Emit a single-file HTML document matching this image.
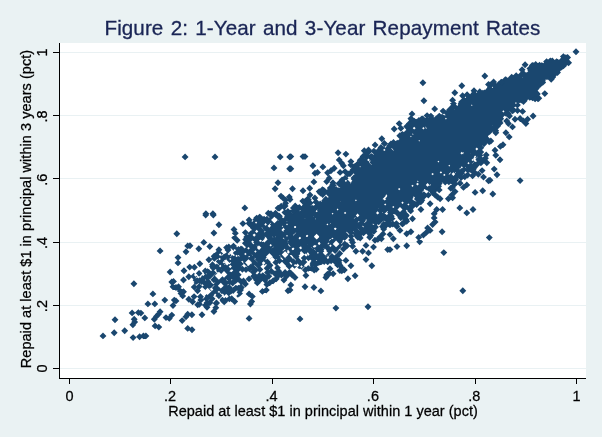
<!DOCTYPE html>
<html><head><meta charset="utf-8"><title>Figure 2</title>
<style>
html,body{margin:0;padding:0;background:#eaf2f3;}
body{width:602px;height:437px;overflow:hidden;position:relative;font-family:"Liberation Sans",Arial,sans-serif;}
svg{position:absolute;left:0;top:0;display:block}
text{font-family:"Liberation Sans",Arial,sans-serif;}
.b{stroke:#000;stroke-width:0.25}
</style></head><body>
<svg width="602" height="437" viewBox="0 0 602 437">
<rect x="0" y="0" width="602" height="437" fill="#eaf2f3"/>
<rect x="60" y="43" width="526" height="335" fill="#ffffff"/>

<rect x="60" y="368" width="526" height="1" fill="#e9f1f3"/>
<rect x="60" y="305" width="526" height="1" fill="#e9f1f3"/>
<rect x="60" y="242" width="526" height="1" fill="#e9f1f3"/>
<rect x="60" y="178" width="526" height="1" fill="#e9f1f3"/>
<rect x="60" y="115" width="526" height="1" fill="#e9f1f3"/>
<rect x="60" y="52" width="526" height="1" fill="#e9f1f3"/>
<rect x="59" y="43" width="1" height="336" fill="#000"/>
<rect x="59" y="378" width="527" height="1" fill="#000"/>
<rect x="53" y="368" width="6" height="1" fill="#000"/>
<rect x="69" y="379" width="1" height="5" fill="#000"/>
<rect x="53" y="305" width="6" height="1" fill="#000"/>
<rect x="170" y="379" width="1" height="5" fill="#000"/>
<rect x="53" y="242" width="6" height="1" fill="#000"/>
<rect x="272" y="379" width="1" height="5" fill="#000"/>
<rect x="53" y="178" width="6" height="1" fill="#000"/>
<rect x="373" y="379" width="1" height="5" fill="#000"/>
<rect x="53" y="115" width="6" height="1" fill="#000"/>
<rect x="475" y="379" width="1" height="5" fill="#000"/>
<rect x="53" y="52" width="6" height="1" fill="#000"/>
<rect x="576" y="379" width="1" height="5" fill="#000"/>
<text transform="translate(69.5,401.2) scale(1,1.07)" font-size="14.5" class="b" text-anchor="middle" fill="#000">0</text>
<text transform="translate(46.7,368.5) rotate(-90) scale(1,1.07)" font-size="14.5" class="b" text-anchor="middle" fill="#000">0</text>
<text transform="translate(170.1,401.2) scale(1,1.07)" font-size="14.5" class="b" text-anchor="middle" fill="#000">.2</text>
<text transform="translate(46.7,306.1) rotate(-90) scale(1,1.07)" font-size="14.5" class="b" text-anchor="middle" fill="#000">.2</text>
<text transform="translate(271.5,401.2) scale(1,1.07)" font-size="14.5" class="b" text-anchor="middle" fill="#000">.4</text>
<text transform="translate(46.7,242.9) rotate(-90) scale(1,1.07)" font-size="14.5" class="b" text-anchor="middle" fill="#000">.4</text>
<text transform="translate(372.9,401.2) scale(1,1.07)" font-size="14.5" class="b" text-anchor="middle" fill="#000">.6</text>
<text transform="translate(46.7,179.7) rotate(-90) scale(1,1.07)" font-size="14.5" class="b" text-anchor="middle" fill="#000">.6</text>
<text transform="translate(474.3,401.2) scale(1,1.07)" font-size="14.5" class="b" text-anchor="middle" fill="#000">.8</text>
<text transform="translate(46.7,116.5) rotate(-90) scale(1,1.07)" font-size="14.5" class="b" text-anchor="middle" fill="#000">.8</text>
<text transform="translate(576.5,401.2) scale(1,1.07)" font-size="14.5" class="b" text-anchor="middle" fill="#000">1</text>
<text transform="translate(46.7,52.5) rotate(-90) scale(1,1.07)" font-size="14.5" class="b" text-anchor="middle" fill="#000">1</text>
<text x="322.4" y="34.8" font-size="20.6" letter-spacing="0.1" word-spacing="1.4" text-anchor="middle" fill="#1a2555" stroke="#1a2555" stroke-width="0.3">Figure 2: 1-Year and 3-Year Repayment Rates</text>
<text transform="translate(323,416.1) scale(1,1.06)" font-size="14.5" class="b" letter-spacing="0.02" text-anchor="middle" fill="#000">Repaid at least $1 in principal within 1 year (pct)</text>
<text transform="translate(30.5,209.0) rotate(-90) scale(1,1.06)" font-size="14.5" class="b" letter-spacing="0.05" text-anchor="middle" fill="#000">Repaid at least $1 in principal within 3 years (pct)</text>
<g fill="#1a476f">
<path d="M363.3 191.45l3.45 3.45-3.45 3.45-3.45-3.45zM434.6 129.45l3.45 3.45-3.45 3.45-3.45-3.45zM457.1 130.35l3.45 3.45-3.45 3.45-3.45-3.45zM500.8 111.25l3.45 3.45-3.45 3.45-3.45-3.45zM441.8 148.25l3.45 3.45-3.45 3.45-3.45-3.45zM289.4 232.75l3.45 3.45-3.45 3.45-3.45-3.45zM420.1 135.45l3.45 3.45-3.45 3.45-3.45-3.45zM327.1 249.15l3.45 3.45-3.45 3.45-3.45-3.45zM314.0 223.15l3.45 3.45-3.45 3.45-3.45-3.45zM453.6 155.95l3.45 3.45-3.45 3.45-3.45-3.45zM465.9 104.45l3.45 3.45-3.45 3.45-3.45-3.45zM502.5 93.65l3.45 3.45-3.45 3.45-3.45-3.45zM507.7 82.95l3.45 3.45-3.45 3.45-3.45-3.45zM349.2 199.25l3.45 3.45-3.45 3.45-3.45-3.45zM254.0 249.75l3.45 3.45-3.45 3.45-3.45-3.45zM441.5 131.75l3.45 3.45-3.45 3.45-3.45-3.45zM423.5 161.65l3.45 3.45-3.45 3.45-3.45-3.45zM529.4 86.55l3.45 3.45-3.45 3.45-3.45-3.45zM426.5 172.25l3.45 3.45-3.45 3.45-3.45-3.45zM322.8 214.95l3.45 3.45-3.45 3.45-3.45-3.45zM535.2 89.65l3.45 3.45-3.45 3.45-3.45-3.45zM461.3 145.55l3.45 3.45-3.45 3.45-3.45-3.45zM222.7 275.65l3.45 3.45-3.45 3.45-3.45-3.45zM433.1 167.05l3.45 3.45-3.45 3.45-3.45-3.45zM559.4 63.05l3.45 3.45-3.45 3.45-3.45-3.45zM454.6 141.55l3.45 3.45-3.45 3.45-3.45-3.45zM376.2 178.05l3.45 3.45-3.45 3.45-3.45-3.45zM223.4 270.95l3.45 3.45-3.45 3.45-3.45-3.45zM281.8 236.95l3.45 3.45-3.45 3.45-3.45-3.45zM307.9 235.95l3.45 3.45-3.45 3.45-3.45-3.45zM407.9 163.25l3.45 3.45-3.45 3.45-3.45-3.45zM492.2 103.65l3.45 3.45-3.45 3.45-3.45-3.45zM387.8 172.65l3.45 3.45-3.45 3.45-3.45-3.45zM403.9 154.15l3.45 3.45-3.45 3.45-3.45-3.45zM488.4 92.55l3.45 3.45-3.45 3.45-3.45-3.45zM374.3 195.35l3.45 3.45-3.45 3.45-3.45-3.45zM534.9 69.55l3.45 3.45-3.45 3.45-3.45-3.45zM443.8 151.85l3.45 3.45-3.45 3.45-3.45-3.45zM526.8 88.45l3.45 3.45-3.45 3.45-3.45-3.45zM428.2 166.65l3.45 3.45-3.45 3.45-3.45-3.45zM540.6 77.95l3.45 3.45-3.45 3.45-3.45-3.45zM344.7 233.95l3.45 3.45-3.45 3.45-3.45-3.45zM387.0 164.95l3.45 3.45-3.45 3.45-3.45-3.45zM311.7 231.35l3.45 3.45-3.45 3.45-3.45-3.45zM377.5 181.85l3.45 3.45-3.45 3.45-3.45-3.45zM284.9 257.85l3.45 3.45-3.45 3.45-3.45-3.45zM377.1 178.75l3.45 3.45-3.45 3.45-3.45-3.45zM516.4 90.35l3.45 3.45-3.45 3.45-3.45-3.45zM429.8 144.65l3.45 3.45-3.45 3.45-3.45-3.45zM290.7 223.15l3.45 3.45-3.45 3.45-3.45-3.45zM366.8 187.05l3.45 3.45-3.45 3.45-3.45-3.45zM335.2 199.95l3.45 3.45-3.45 3.45-3.45-3.45zM482.6 93.15l3.45 3.45-3.45 3.45-3.45-3.45zM238.2 271.25l3.45 3.45-3.45 3.45-3.45-3.45zM400.5 149.65l3.45 3.45-3.45 3.45-3.45-3.45zM379.3 164.55l3.45 3.45-3.45 3.45-3.45-3.45zM408.1 198.95l3.45 3.45-3.45 3.45-3.45-3.45zM383.9 179.75l3.45 3.45-3.45 3.45-3.45-3.45zM306.3 226.25l3.45 3.45-3.45 3.45-3.45-3.45zM378.7 191.85l3.45 3.45-3.45 3.45-3.45-3.45zM249.4 243.45l3.45 3.45-3.45 3.45-3.45-3.45zM462.3 108.85l3.45 3.45-3.45 3.45-3.45-3.45zM490.5 114.35l3.45 3.45-3.45 3.45-3.45-3.45zM495.1 93.35l3.45 3.45-3.45 3.45-3.45-3.45zM412.7 145.55l3.45 3.45-3.45 3.45-3.45-3.45zM520.6 84.25l3.45 3.45-3.45 3.45-3.45-3.45zM441.5 141.45l3.45 3.45-3.45 3.45-3.45-3.45zM323.5 210.75l3.45 3.45-3.45 3.45-3.45-3.45zM307.8 213.15l3.45 3.45-3.45 3.45-3.45-3.45zM461.6 117.25l3.45 3.45-3.45 3.45-3.45-3.45zM449.4 140.85l3.45 3.45-3.45 3.45-3.45-3.45zM428.1 166.75l3.45 3.45-3.45 3.45-3.45-3.45zM525.3 89.05l3.45 3.45-3.45 3.45-3.45-3.45zM505.0 82.15l3.45 3.45-3.45 3.45-3.45-3.45zM375.3 162.15l3.45 3.45-3.45 3.45-3.45-3.45zM437.3 116.45l3.45 3.45-3.45 3.45-3.45-3.45zM471.3 135.25l3.45 3.45-3.45 3.45-3.45-3.45zM262.3 234.25l3.45 3.45-3.45 3.45-3.45-3.45zM403.5 140.55l3.45 3.45-3.45 3.45-3.45-3.45zM435.3 128.35l3.45 3.45-3.45 3.45-3.45-3.45zM390.9 194.75l3.45 3.45-3.45 3.45-3.45-3.45zM384.5 200.65l3.45 3.45-3.45 3.45-3.45-3.45zM241.8 247.55l3.45 3.45-3.45 3.45-3.45-3.45zM502.9 84.25l3.45 3.45-3.45 3.45-3.45-3.45zM493.5 99.85l3.45 3.45-3.45 3.45-3.45-3.45zM299.9 225.35l3.45 3.45-3.45 3.45-3.45-3.45zM367.3 197.85l3.45 3.45-3.45 3.45-3.45-3.45zM409.5 136.95l3.45 3.45-3.45 3.45-3.45-3.45zM444.3 121.75l3.45 3.45-3.45 3.45-3.45-3.45zM398.7 155.05l3.45 3.45-3.45 3.45-3.45-3.45zM358.9 195.75l3.45 3.45-3.45 3.45-3.45-3.45zM291.6 229.65l3.45 3.45-3.45 3.45-3.45-3.45zM343.6 223.25l3.45 3.45-3.45 3.45-3.45-3.45zM315.4 238.85l3.45 3.45-3.45 3.45-3.45-3.45zM276.5 242.65l3.45 3.45-3.45 3.45-3.45-3.45zM416.5 166.85l3.45 3.45-3.45 3.45-3.45-3.45zM254.0 224.25l3.45 3.45-3.45 3.45-3.45-3.45zM561.3 61.75l3.45 3.45-3.45 3.45-3.45-3.45zM523.0 83.65l3.45 3.45-3.45 3.45-3.45-3.45zM467.2 121.75l3.45 3.45-3.45 3.45-3.45-3.45zM344.7 192.75l3.45 3.45-3.45 3.45-3.45-3.45zM462.0 153.35l3.45 3.45-3.45 3.45-3.45-3.45zM387.9 172.75l3.45 3.45-3.45 3.45-3.45-3.45zM390.4 184.55l3.45 3.45-3.45 3.45-3.45-3.45zM498.3 113.25l3.45 3.45-3.45 3.45-3.45-3.45zM460.1 127.35l3.45 3.45-3.45 3.45-3.45-3.45zM414.7 169.15l3.45 3.45-3.45 3.45-3.45-3.45zM470.6 153.95l3.45 3.45-3.45 3.45-3.45-3.45zM219.2 257.95l3.45 3.45-3.45 3.45-3.45-3.45zM520.5 89.95l3.45 3.45-3.45 3.45-3.45-3.45zM400.6 181.25l3.45 3.45-3.45 3.45-3.45-3.45zM375.3 199.45l3.45 3.45-3.45 3.45-3.45-3.45zM345.0 194.75l3.45 3.45-3.45 3.45-3.45-3.45zM347.2 218.25l3.45 3.45-3.45 3.45-3.45-3.45zM334.0 213.75l3.45 3.45-3.45 3.45-3.45-3.45zM233.3 260.65l3.45 3.45-3.45 3.45-3.45-3.45zM542.4 76.75l3.45 3.45-3.45 3.45-3.45-3.45zM415.7 168.85l3.45 3.45-3.45 3.45-3.45-3.45zM409.1 141.75l3.45 3.45-3.45 3.45-3.45-3.45zM225.6 273.35l3.45 3.45-3.45 3.45-3.45-3.45zM378.0 187.55l3.45 3.45-3.45 3.45-3.45-3.45zM392.9 180.25l3.45 3.45-3.45 3.45-3.45-3.45zM527.5 74.65l3.45 3.45-3.45 3.45-3.45-3.45zM461.9 140.85l3.45 3.45-3.45 3.45-3.45-3.45zM419.2 167.95l3.45 3.45-3.45 3.45-3.45-3.45zM504.8 94.15l3.45 3.45-3.45 3.45-3.45-3.45zM496.8 116.25l3.45 3.45-3.45 3.45-3.45-3.45zM485.1 132.25l3.45 3.45-3.45 3.45-3.45-3.45zM475.2 122.35l3.45 3.45-3.45 3.45-3.45-3.45zM299.3 211.05l3.45 3.45-3.45 3.45-3.45-3.45zM343.0 196.95l3.45 3.45-3.45 3.45-3.45-3.45zM507.8 91.35l3.45 3.45-3.45 3.45-3.45-3.45zM428.6 138.55l3.45 3.45-3.45 3.45-3.45-3.45zM411.7 153.55l3.45 3.45-3.45 3.45-3.45-3.45zM501.5 85.65l3.45 3.45-3.45 3.45-3.45-3.45zM403.5 180.55l3.45 3.45-3.45 3.45-3.45-3.45zM373.6 213.45l3.45 3.45-3.45 3.45-3.45-3.45zM457.9 163.45l3.45 3.45-3.45 3.45-3.45-3.45zM452.3 171.45l3.45 3.45-3.45 3.45-3.45-3.45zM495.9 94.25l3.45 3.45-3.45 3.45-3.45-3.45zM397.0 141.65l3.45 3.45-3.45 3.45-3.45-3.45zM511.5 78.95l3.45 3.45-3.45 3.45-3.45-3.45zM304.7 244.15l3.45 3.45-3.45 3.45-3.45-3.45zM387.1 167.45l3.45 3.45-3.45 3.45-3.45-3.45zM457.8 116.75l3.45 3.45-3.45 3.45-3.45-3.45zM475.3 122.05l3.45 3.45-3.45 3.45-3.45-3.45zM427.6 145.35l3.45 3.45-3.45 3.45-3.45-3.45zM293.6 245.95l3.45 3.45-3.45 3.45-3.45-3.45zM327.8 234.25l3.45 3.45-3.45 3.45-3.45-3.45zM488.6 116.45l3.45 3.45-3.45 3.45-3.45-3.45zM536.7 79.55l3.45 3.45-3.45 3.45-3.45-3.45zM465.0 121.65l3.45 3.45-3.45 3.45-3.45-3.45zM466.2 138.95l3.45 3.45-3.45 3.45-3.45-3.45zM336.0 232.85l3.45 3.45-3.45 3.45-3.45-3.45zM489.9 111.35l3.45 3.45-3.45 3.45-3.45-3.45zM441.1 118.75l3.45 3.45-3.45 3.45-3.45-3.45zM309.6 233.85l3.45 3.45-3.45 3.45-3.45-3.45zM382.1 183.85l3.45 3.45-3.45 3.45-3.45-3.45zM362.7 212.75l3.45 3.45-3.45 3.45-3.45-3.45zM424.7 128.55l3.45 3.45-3.45 3.45-3.45-3.45zM555.2 66.35l3.45 3.45-3.45 3.45-3.45-3.45zM505.7 95.85l3.45 3.45-3.45 3.45-3.45-3.45zM386.5 174.55l3.45 3.45-3.45 3.45-3.45-3.45zM314.7 236.65l3.45 3.45-3.45 3.45-3.45-3.45zM397.3 178.65l3.45 3.45-3.45 3.45-3.45-3.45zM317.4 245.15l3.45 3.45-3.45 3.45-3.45-3.45zM345.4 208.15l3.45 3.45-3.45 3.45-3.45-3.45zM451.8 151.55l3.45 3.45-3.45 3.45-3.45-3.45zM466.1 142.15l3.45 3.45-3.45 3.45-3.45-3.45zM398.2 154.15l3.45 3.45-3.45 3.45-3.45-3.45zM371.8 177.45l3.45 3.45-3.45 3.45-3.45-3.45zM501.3 93.65l3.45 3.45-3.45 3.45-3.45-3.45zM323.0 237.85l3.45 3.45-3.45 3.45-3.45-3.45zM417.8 137.75l3.45 3.45-3.45 3.45-3.45-3.45zM335.3 226.25l3.45 3.45-3.45 3.45-3.45-3.45zM423.2 132.65l3.45 3.45-3.45 3.45-3.45-3.45zM450.8 133.15l3.45 3.45-3.45 3.45-3.45-3.45zM465.3 117.75l3.45 3.45-3.45 3.45-3.45-3.45zM438.0 123.05l3.45 3.45-3.45 3.45-3.45-3.45zM498.8 83.55l3.45 3.45-3.45 3.45-3.45-3.45zM326.6 204.75l3.45 3.45-3.45 3.45-3.45-3.45zM257.9 261.65l3.45 3.45-3.45 3.45-3.45-3.45zM343.5 227.95l3.45 3.45-3.45 3.45-3.45-3.45zM480.0 109.15l3.45 3.45-3.45 3.45-3.45-3.45zM435.9 159.45l3.45 3.45-3.45 3.45-3.45-3.45zM224.7 279.25l3.45 3.45-3.45 3.45-3.45-3.45zM538.7 78.55l3.45 3.45-3.45 3.45-3.45-3.45zM493.5 81.75l3.45 3.45-3.45 3.45-3.45-3.45zM464.0 140.55l3.45 3.45-3.45 3.45-3.45-3.45zM329.0 231.65l3.45 3.45-3.45 3.45-3.45-3.45zM386.6 174.25l3.45 3.45-3.45 3.45-3.45-3.45zM452.8 121.75l3.45 3.45-3.45 3.45-3.45-3.45zM494.9 110.85l3.45 3.45-3.45 3.45-3.45-3.45zM340.6 202.35l3.45 3.45-3.45 3.45-3.45-3.45zM407.8 134.05l3.45 3.45-3.45 3.45-3.45-3.45zM383.5 176.95l3.45 3.45-3.45 3.45-3.45-3.45zM378.4 171.65l3.45 3.45-3.45 3.45-3.45-3.45zM383.2 178.85l3.45 3.45-3.45 3.45-3.45-3.45zM343.9 184.75l3.45 3.45-3.45 3.45-3.45-3.45zM332.8 198.25l3.45 3.45-3.45 3.45-3.45-3.45zM346.1 180.95l3.45 3.45-3.45 3.45-3.45-3.45zM393.8 163.45l3.45 3.45-3.45 3.45-3.45-3.45zM406.0 188.05l3.45 3.45-3.45 3.45-3.45-3.45zM435.7 146.45l3.45 3.45-3.45 3.45-3.45-3.45zM364.9 197.25l3.45 3.45-3.45 3.45-3.45-3.45zM416.3 137.75l3.45 3.45-3.45 3.45-3.45-3.45zM215.8 287.65l3.45 3.45-3.45 3.45-3.45-3.45zM464.4 145.75l3.45 3.45-3.45 3.45-3.45-3.45zM479.1 122.55l3.45 3.45-3.45 3.45-3.45-3.45zM402.6 157.65l3.45 3.45-3.45 3.45-3.45-3.45zM540.2 80.85l3.45 3.45-3.45 3.45-3.45-3.45zM463.3 123.05l3.45 3.45-3.45 3.45-3.45-3.45zM517.2 97.45l3.45 3.45-3.45 3.45-3.45-3.45zM436.4 154.15l3.45 3.45-3.45 3.45-3.45-3.45zM412.0 198.65l3.45 3.45-3.45 3.45-3.45-3.45zM494.5 97.25l3.45 3.45-3.45 3.45-3.45-3.45zM497.1 110.85l3.45 3.45-3.45 3.45-3.45-3.45zM499.0 93.45l3.45 3.45-3.45 3.45-3.45-3.45zM297.0 238.35l3.45 3.45-3.45 3.45-3.45-3.45zM367.5 156.35l3.45 3.45-3.45 3.45-3.45-3.45zM395.7 160.05l3.45 3.45-3.45 3.45-3.45-3.45zM393.7 186.75l3.45 3.45-3.45 3.45-3.45-3.45zM338.8 193.95l3.45 3.45-3.45 3.45-3.45-3.45zM391.8 213.25l3.45 3.45-3.45 3.45-3.45-3.45zM456.9 128.25l3.45 3.45-3.45 3.45-3.45-3.45zM193.8 272.85l3.45 3.45-3.45 3.45-3.45-3.45zM255.6 236.45l3.45 3.45-3.45 3.45-3.45-3.45zM409.2 165.05l3.45 3.45-3.45 3.45-3.45-3.45zM261.1 231.35l3.45 3.45-3.45 3.45-3.45-3.45zM256.1 252.25l3.45 3.45-3.45 3.45-3.45-3.45zM310.3 224.75l3.45 3.45-3.45 3.45-3.45-3.45zM304.3 235.85l3.45 3.45-3.45 3.45-3.45-3.45zM353.8 193.75l3.45 3.45-3.45 3.45-3.45-3.45zM414.3 145.25l3.45 3.45-3.45 3.45-3.45-3.45zM515.2 82.15l3.45 3.45-3.45 3.45-3.45-3.45zM314.1 205.05l3.45 3.45-3.45 3.45-3.45-3.45zM448.5 148.85l3.45 3.45-3.45 3.45-3.45-3.45zM511.3 82.85l3.45 3.45-3.45 3.45-3.45-3.45zM521.3 81.25l3.45 3.45-3.45 3.45-3.45-3.45zM439.8 133.35l3.45 3.45-3.45 3.45-3.45-3.45zM399.0 191.55l3.45 3.45-3.45 3.45-3.45-3.45zM344.4 188.15l3.45 3.45-3.45 3.45-3.45-3.45zM323.9 226.95l3.45 3.45-3.45 3.45-3.45-3.45zM400.5 144.15l3.45 3.45-3.45 3.45-3.45-3.45zM345.5 192.85l3.45 3.45-3.45 3.45-3.45-3.45zM538.6 79.25l3.45 3.45-3.45 3.45-3.45-3.45zM542.7 66.45l3.45 3.45-3.45 3.45-3.45-3.45zM279.8 248.25l3.45 3.45-3.45 3.45-3.45-3.45zM406.0 134.05l3.45 3.45-3.45 3.45-3.45-3.45zM401.7 164.65l3.45 3.45-3.45 3.45-3.45-3.45zM368.5 169.55l3.45 3.45-3.45 3.45-3.45-3.45zM226.0 283.55l3.45 3.45-3.45 3.45-3.45-3.45zM454.0 140.65l3.45 3.45-3.45 3.45-3.45-3.45zM414.1 160.85l3.45 3.45-3.45 3.45-3.45-3.45zM417.0 144.65l3.45 3.45-3.45 3.45-3.45-3.45zM455.4 134.55l3.45 3.45-3.45 3.45-3.45-3.45zM443.9 146.15l3.45 3.45-3.45 3.45-3.45-3.45zM421.0 159.35l3.45 3.45-3.45 3.45-3.45-3.45zM388.6 158.85l3.45 3.45-3.45 3.45-3.45-3.45zM514.8 83.65l3.45 3.45-3.45 3.45-3.45-3.45zM480.8 137.65l3.45 3.45-3.45 3.45-3.45-3.45zM407.3 155.55l3.45 3.45-3.45 3.45-3.45-3.45zM404.0 152.25l3.45 3.45-3.45 3.45-3.45-3.45zM274.2 218.05l3.45 3.45-3.45 3.45-3.45-3.45zM475.2 105.95l3.45 3.45-3.45 3.45-3.45-3.45zM482.9 113.65l3.45 3.45-3.45 3.45-3.45-3.45zM486.2 108.85l3.45 3.45-3.45 3.45-3.45-3.45zM368.2 186.65l3.45 3.45-3.45 3.45-3.45-3.45zM379.5 186.05l3.45 3.45-3.45 3.45-3.45-3.45zM269.7 252.45l3.45 3.45-3.45 3.45-3.45-3.45zM517.1 91.25l3.45 3.45-3.45 3.45-3.45-3.45zM563.2 56.45l3.45 3.45-3.45 3.45-3.45-3.45zM324.5 232.75l3.45 3.45-3.45 3.45-3.45-3.45zM385.5 188.35l3.45 3.45-3.45 3.45-3.45-3.45zM409.8 165.05l3.45 3.45-3.45 3.45-3.45-3.45zM403.1 205.65l3.45 3.45-3.45 3.45-3.45-3.45zM410.6 133.85l3.45 3.45-3.45 3.45-3.45-3.45zM367.1 210.95l3.45 3.45-3.45 3.45-3.45-3.45zM447.4 137.75l3.45 3.45-3.45 3.45-3.45-3.45zM367.7 182.95l3.45 3.45-3.45 3.45-3.45-3.45zM437.3 178.65l3.45 3.45-3.45 3.45-3.45-3.45zM479.0 144.55l3.45 3.45-3.45 3.45-3.45-3.45zM543.0 66.75l3.45 3.45-3.45 3.45-3.45-3.45zM323.1 233.85l3.45 3.45-3.45 3.45-3.45-3.45zM458.4 126.45l3.45 3.45-3.45 3.45-3.45-3.45zM437.3 160.85l3.45 3.45-3.45 3.45-3.45-3.45zM331.5 213.25l3.45 3.45-3.45 3.45-3.45-3.45zM424.8 162.65l3.45 3.45-3.45 3.45-3.45-3.45zM273.0 228.95l3.45 3.45-3.45 3.45-3.45-3.45zM301.9 224.25l3.45 3.45-3.45 3.45-3.45-3.45zM345.5 202.65l3.45 3.45-3.45 3.45-3.45-3.45zM394.5 169.05l3.45 3.45-3.45 3.45-3.45-3.45zM441.0 176.85l3.45 3.45-3.45 3.45-3.45-3.45zM387.1 215.55l3.45 3.45-3.45 3.45-3.45-3.45zM304.0 241.55l3.45 3.45-3.45 3.45-3.45-3.45zM460.9 135.75l3.45 3.45-3.45 3.45-3.45-3.45zM286.6 259.55l3.45 3.45-3.45 3.45-3.45-3.45zM420.4 152.75l3.45 3.45-3.45 3.45-3.45-3.45zM303.6 258.55l3.45 3.45-3.45 3.45-3.45-3.45zM437.5 156.35l3.45 3.45-3.45 3.45-3.45-3.45zM449.9 135.55l3.45 3.45-3.45 3.45-3.45-3.45zM290.0 227.65l3.45 3.45-3.45 3.45-3.45-3.45zM479.5 103.25l3.45 3.45-3.45 3.45-3.45-3.45zM397.4 157.05l3.45 3.45-3.45 3.45-3.45-3.45zM437.5 140.05l3.45 3.45-3.45 3.45-3.45-3.45zM534.8 75.85l3.45 3.45-3.45 3.45-3.45-3.45zM351.8 217.95l3.45 3.45-3.45 3.45-3.45-3.45zM240.1 255.75l3.45 3.45-3.45 3.45-3.45-3.45zM334.5 231.45l3.45 3.45-3.45 3.45-3.45-3.45zM323.4 238.05l3.45 3.45-3.45 3.45-3.45-3.45zM389.4 194.45l3.45 3.45-3.45 3.45-3.45-3.45zM410.6 175.25l3.45 3.45-3.45 3.45-3.45-3.45zM253.6 272.75l3.45 3.45-3.45 3.45-3.45-3.45zM229.2 283.95l3.45 3.45-3.45 3.45-3.45-3.45zM302.9 231.35l3.45 3.45-3.45 3.45-3.45-3.45zM462.5 133.85l3.45 3.45-3.45 3.45-3.45-3.45zM466.9 156.65l3.45 3.45-3.45 3.45-3.45-3.45zM336.1 196.45l3.45 3.45-3.45 3.45-3.45-3.45zM362.3 177.95l3.45 3.45-3.45 3.45-3.45-3.45zM525.4 88.55l3.45 3.45-3.45 3.45-3.45-3.45zM425.2 145.05l3.45 3.45-3.45 3.45-3.45-3.45zM389.7 142.35l3.45 3.45-3.45 3.45-3.45-3.45zM445.0 175.55l3.45 3.45-3.45 3.45-3.45-3.45zM377.4 172.45l3.45 3.45-3.45 3.45-3.45-3.45zM354.3 204.75l3.45 3.45-3.45 3.45-3.45-3.45zM304.0 223.05l3.45 3.45-3.45 3.45-3.45-3.45zM325.4 197.35l3.45 3.45-3.45 3.45-3.45-3.45zM331.4 213.55l3.45 3.45-3.45 3.45-3.45-3.45zM472.0 119.25l3.45 3.45-3.45 3.45-3.45-3.45zM396.0 199.45l3.45 3.45-3.45 3.45-3.45-3.45zM394.8 167.35l3.45 3.45-3.45 3.45-3.45-3.45zM208.0 278.35l3.45 3.45-3.45 3.45-3.45-3.45zM433.8 140.25l3.45 3.45-3.45 3.45-3.45-3.45zM456.8 145.05l3.45 3.45-3.45 3.45-3.45-3.45zM384.5 161.05l3.45 3.45-3.45 3.45-3.45-3.45zM530.8 67.15l3.45 3.45-3.45 3.45-3.45-3.45zM400.4 202.55l3.45 3.45-3.45 3.45-3.45-3.45zM415.9 147.95l3.45 3.45-3.45 3.45-3.45-3.45zM479.0 123.05l3.45 3.45-3.45 3.45-3.45-3.45zM414.8 155.25l3.45 3.45-3.45 3.45-3.45-3.45zM352.4 203.55l3.45 3.45-3.45 3.45-3.45-3.45zM336.9 193.45l3.45 3.45-3.45 3.45-3.45-3.45zM259.3 272.25l3.45 3.45-3.45 3.45-3.45-3.45zM533.5 77.25l3.45 3.45-3.45 3.45-3.45-3.45zM475.8 150.95l3.45 3.45-3.45 3.45-3.45-3.45zM314.8 226.95l3.45 3.45-3.45 3.45-3.45-3.45zM520.1 90.95l3.45 3.45-3.45 3.45-3.45-3.45zM532.3 78.85l3.45 3.45-3.45 3.45-3.45-3.45zM338.1 213.25l3.45 3.45-3.45 3.45-3.45-3.45zM399.5 151.25l3.45 3.45-3.45 3.45-3.45-3.45zM354.8 178.75l3.45 3.45-3.45 3.45-3.45-3.45zM367.5 163.95l3.45 3.45-3.45 3.45-3.45-3.45zM526.4 89.85l3.45 3.45-3.45 3.45-3.45-3.45zM464.7 122.05l3.45 3.45-3.45 3.45-3.45-3.45zM448.8 118.85l3.45 3.45-3.45 3.45-3.45-3.45zM474.7 132.65l3.45 3.45-3.45 3.45-3.45-3.45zM377.2 198.75l3.45 3.45-3.45 3.45-3.45-3.45zM405.3 193.25l3.45 3.45-3.45 3.45-3.45-3.45zM460.5 124.05l3.45 3.45-3.45 3.45-3.45-3.45zM329.4 200.95l3.45 3.45-3.45 3.45-3.45-3.45zM279.6 220.15l3.45 3.45-3.45 3.45-3.45-3.45zM279.9 236.55l3.45 3.45-3.45 3.45-3.45-3.45zM421.9 155.55l3.45 3.45-3.45 3.45-3.45-3.45zM330.3 188.85l3.45 3.45-3.45 3.45-3.45-3.45zM329.9 231.55l3.45 3.45-3.45 3.45-3.45-3.45zM420.4 157.85l3.45 3.45-3.45 3.45-3.45-3.45zM392.2 191.05l3.45 3.45-3.45 3.45-3.45-3.45zM288.2 211.75l3.45 3.45-3.45 3.45-3.45-3.45zM323.3 199.95l3.45 3.45-3.45 3.45-3.45-3.45zM366.3 198.65l3.45 3.45-3.45 3.45-3.45-3.45zM419.3 189.05l3.45 3.45-3.45 3.45-3.45-3.45zM398.5 162.15l3.45 3.45-3.45 3.45-3.45-3.45zM415.7 137.85l3.45 3.45-3.45 3.45-3.45-3.45zM518.9 75.45l3.45 3.45-3.45 3.45-3.45-3.45zM224.4 279.85l3.45 3.45-3.45 3.45-3.45-3.45zM335.8 232.55l3.45 3.45-3.45 3.45-3.45-3.45zM473.0 146.15l3.45 3.45-3.45 3.45-3.45-3.45zM528.9 78.35l3.45 3.45-3.45 3.45-3.45-3.45zM447.2 162.05l3.45 3.45-3.45 3.45-3.45-3.45zM479.8 151.75l3.45 3.45-3.45 3.45-3.45-3.45zM410.5 157.55l3.45 3.45-3.45 3.45-3.45-3.45zM520.7 89.55l3.45 3.45-3.45 3.45-3.45-3.45zM357.3 183.65l3.45 3.45-3.45 3.45-3.45-3.45zM325.3 218.35l3.45 3.45-3.45 3.45-3.45-3.45zM485.2 102.35l3.45 3.45-3.45 3.45-3.45-3.45zM359.5 196.35l3.45 3.45-3.45 3.45-3.45-3.45zM303.1 238.85l3.45 3.45-3.45 3.45-3.45-3.45zM473.3 149.45l3.45 3.45-3.45 3.45-3.45-3.45zM426.7 138.85l3.45 3.45-3.45 3.45-3.45-3.45zM493.9 107.25l3.45 3.45-3.45 3.45-3.45-3.45zM451.7 131.65l3.45 3.45-3.45 3.45-3.45-3.45zM369.0 213.65l3.45 3.45-3.45 3.45-3.45-3.45zM355.6 194.25l3.45 3.45-3.45 3.45-3.45-3.45zM453.5 149.15l3.45 3.45-3.45 3.45-3.45-3.45zM231.6 256.05l3.45 3.45-3.45 3.45-3.45-3.45zM487.2 109.95l3.45 3.45-3.45 3.45-3.45-3.45zM335.9 220.05l3.45 3.45-3.45 3.45-3.45-3.45zM316.0 198.55l3.45 3.45-3.45 3.45-3.45-3.45zM362.6 190.95l3.45 3.45-3.45 3.45-3.45-3.45zM473.2 134.25l3.45 3.45-3.45 3.45-3.45-3.45zM534.0 74.15l3.45 3.45-3.45 3.45-3.45-3.45zM448.8 146.35l3.45 3.45-3.45 3.45-3.45-3.45zM479.5 157.25l3.45 3.45-3.45 3.45-3.45-3.45zM495.9 88.95l3.45 3.45-3.45 3.45-3.45-3.45zM548.6 64.05l3.45 3.45-3.45 3.45-3.45-3.45zM480.2 102.65l3.45 3.45-3.45 3.45-3.45-3.45zM314.7 220.85l3.45 3.45-3.45 3.45-3.45-3.45zM485.4 130.45l3.45 3.45-3.45 3.45-3.45-3.45zM415.7 186.45l3.45 3.45-3.45 3.45-3.45-3.45zM497.4 88.15l3.45 3.45-3.45 3.45-3.45-3.45zM427.0 129.25l3.45 3.45-3.45 3.45-3.45-3.45zM481.7 104.75l3.45 3.45-3.45 3.45-3.45-3.45zM461.0 110.05l3.45 3.45-3.45 3.45-3.45-3.45zM531.9 72.55l3.45 3.45-3.45 3.45-3.45-3.45zM422.9 130.15l3.45 3.45-3.45 3.45-3.45-3.45zM452.6 145.45l3.45 3.45-3.45 3.45-3.45-3.45zM458.0 109.55l3.45 3.45-3.45 3.45-3.45-3.45zM422.9 161.15l3.45 3.45-3.45 3.45-3.45-3.45zM506.1 92.05l3.45 3.45-3.45 3.45-3.45-3.45zM352.8 198.15l3.45 3.45-3.45 3.45-3.45-3.45zM364.6 168.55l3.45 3.45-3.45 3.45-3.45-3.45zM551.0 58.45l3.45 3.45-3.45 3.45-3.45-3.45zM424.3 119.35l3.45 3.45-3.45 3.45-3.45-3.45zM338.0 243.65l3.45 3.45-3.45 3.45-3.45-3.45zM450.4 132.15l3.45 3.45-3.45 3.45-3.45-3.45zM319.1 239.85l3.45 3.45-3.45 3.45-3.45-3.45zM320.5 232.95l3.45 3.45-3.45 3.45-3.45-3.45zM428.4 173.35l3.45 3.45-3.45 3.45-3.45-3.45zM456.7 158.25l3.45 3.45-3.45 3.45-3.45-3.45zM377.1 185.45l3.45 3.45-3.45 3.45-3.45-3.45zM224.7 278.55l3.45 3.45-3.45 3.45-3.45-3.45zM304.4 220.85l3.45 3.45-3.45 3.45-3.45-3.45zM313.6 255.95l3.45 3.45-3.45 3.45-3.45-3.45zM396.5 150.85l3.45 3.45-3.45 3.45-3.45-3.45zM371.1 165.15l3.45 3.45-3.45 3.45-3.45-3.45zM351.2 195.95l3.45 3.45-3.45 3.45-3.45-3.45zM322.8 252.15l3.45 3.45-3.45 3.45-3.45-3.45zM468.5 143.45l3.45 3.45-3.45 3.45-3.45-3.45zM380.3 180.45l3.45 3.45-3.45 3.45-3.45-3.45zM339.2 241.75l3.45 3.45-3.45 3.45-3.45-3.45zM336.4 237.25l3.45 3.45-3.45 3.45-3.45-3.45zM435.1 136.65l3.45 3.45-3.45 3.45-3.45-3.45zM397.6 158.85l3.45 3.45-3.45 3.45-3.45-3.45zM399.4 174.85l3.45 3.45-3.45 3.45-3.45-3.45zM506.6 101.55l3.45 3.45-3.45 3.45-3.45-3.45zM512.6 80.65l3.45 3.45-3.45 3.45-3.45-3.45zM541.8 66.65l3.45 3.45-3.45 3.45-3.45-3.45zM471.8 134.45l3.45 3.45-3.45 3.45-3.45-3.45zM476.7 127.05l3.45 3.45-3.45 3.45-3.45-3.45zM422.8 135.85l3.45 3.45-3.45 3.45-3.45-3.45zM271.0 231.35l3.45 3.45-3.45 3.45-3.45-3.45zM446.4 153.75l3.45 3.45-3.45 3.45-3.45-3.45zM366.0 184.75l3.45 3.45-3.45 3.45-3.45-3.45zM262.8 257.45l3.45 3.45-3.45 3.45-3.45-3.45zM485.4 113.45l3.45 3.45-3.45 3.45-3.45-3.45zM415.9 148.55l3.45 3.45-3.45 3.45-3.45-3.45zM409.2 169.75l3.45 3.45-3.45 3.45-3.45-3.45zM411.7 154.45l3.45 3.45-3.45 3.45-3.45-3.45zM275.0 252.85l3.45 3.45-3.45 3.45-3.45-3.45zM349.1 200.95l3.45 3.45-3.45 3.45-3.45-3.45zM443.3 128.25l3.45 3.45-3.45 3.45-3.45-3.45zM518.7 85.85l3.45 3.45-3.45 3.45-3.45-3.45zM243.7 255.25l3.45 3.45-3.45 3.45-3.45-3.45zM346.9 198.45l3.45 3.45-3.45 3.45-3.45-3.45zM448.2 135.75l3.45 3.45-3.45 3.45-3.45-3.45zM388.8 152.35l3.45 3.45-3.45 3.45-3.45-3.45zM431.8 120.05l3.45 3.45-3.45 3.45-3.45-3.45zM515.8 87.25l3.45 3.45-3.45 3.45-3.45-3.45zM352.9 181.35l3.45 3.45-3.45 3.45-3.45-3.45zM285.6 199.85l3.45 3.45-3.45 3.45-3.45-3.45zM471.5 93.15l3.45 3.45-3.45 3.45-3.45-3.45zM230.7 271.45l3.45 3.45-3.45 3.45-3.45-3.45zM430.6 164.95l3.45 3.45-3.45 3.45-3.45-3.45zM369.8 197.65l3.45 3.45-3.45 3.45-3.45-3.45zM532.3 71.35l3.45 3.45-3.45 3.45-3.45-3.45zM310.5 216.55l3.45 3.45-3.45 3.45-3.45-3.45zM443.0 117.75l3.45 3.45-3.45 3.45-3.45-3.45zM530.1 81.35l3.45 3.45-3.45 3.45-3.45-3.45zM285.3 216.15l3.45 3.45-3.45 3.45-3.45-3.45zM488.8 97.85l3.45 3.45-3.45 3.45-3.45-3.45zM325.3 224.45l3.45 3.45-3.45 3.45-3.45-3.45zM394.4 176.15l3.45 3.45-3.45 3.45-3.45-3.45zM324.6 235.65l3.45 3.45-3.45 3.45-3.45-3.45zM335.0 219.75l3.45 3.45-3.45 3.45-3.45-3.45zM396.4 220.15l3.45 3.45-3.45 3.45-3.45-3.45zM344.6 180.55l3.45 3.45-3.45 3.45-3.45-3.45zM443.9 129.25l3.45 3.45-3.45 3.45-3.45-3.45zM434.0 142.15l3.45 3.45-3.45 3.45-3.45-3.45zM388.2 197.15l3.45 3.45-3.45 3.45-3.45-3.45zM524.6 75.85l3.45 3.45-3.45 3.45-3.45-3.45zM426.8 155.05l3.45 3.45-3.45 3.45-3.45-3.45zM458.3 157.35l3.45 3.45-3.45 3.45-3.45-3.45zM334.3 205.35l3.45 3.45-3.45 3.45-3.45-3.45zM474.6 125.55l3.45 3.45-3.45 3.45-3.45-3.45zM260.5 248.55l3.45 3.45-3.45 3.45-3.45-3.45zM320.3 206.85l3.45 3.45-3.45 3.45-3.45-3.45zM327.1 232.15l3.45 3.45-3.45 3.45-3.45-3.45zM459.4 158.65l3.45 3.45-3.45 3.45-3.45-3.45zM538.3 72.55l3.45 3.45-3.45 3.45-3.45-3.45zM364.7 186.75l3.45 3.45-3.45 3.45-3.45-3.45zM418.4 170.15l3.45 3.45-3.45 3.45-3.45-3.45zM414.9 178.95l3.45 3.45-3.45 3.45-3.45-3.45zM233.8 261.05l3.45 3.45-3.45 3.45-3.45-3.45zM343.1 233.35l3.45 3.45-3.45 3.45-3.45-3.45zM425.8 143.85l3.45 3.45-3.45 3.45-3.45-3.45zM349.1 186.65l3.45 3.45-3.45 3.45-3.45-3.45zM295.4 225.95l3.45 3.45-3.45 3.45-3.45-3.45zM466.3 123.45l3.45 3.45-3.45 3.45-3.45-3.45zM406.7 131.75l3.45 3.45-3.45 3.45-3.45-3.45zM484.6 126.85l3.45 3.45-3.45 3.45-3.45-3.45zM274.5 246.05l3.45 3.45-3.45 3.45-3.45-3.45zM514.4 98.15l3.45 3.45-3.45 3.45-3.45-3.45zM466.0 132.85l3.45 3.45-3.45 3.45-3.45-3.45zM497.3 101.05l3.45 3.45-3.45 3.45-3.45-3.45zM389.2 176.25l3.45 3.45-3.45 3.45-3.45-3.45zM418.5 120.05l3.45 3.45-3.45 3.45-3.45-3.45zM356.1 196.65l3.45 3.45-3.45 3.45-3.45-3.45zM543.6 66.85l3.45 3.45-3.45 3.45-3.45-3.45zM412.2 157.65l3.45 3.45-3.45 3.45-3.45-3.45zM379.5 195.85l3.45 3.45-3.45 3.45-3.45-3.45zM312.7 229.65l3.45 3.45-3.45 3.45-3.45-3.45zM539.0 76.45l3.45 3.45-3.45 3.45-3.45-3.45zM352.4 217.05l3.45 3.45-3.45 3.45-3.45-3.45zM511.4 97.05l3.45 3.45-3.45 3.45-3.45-3.45zM360.9 168.45l3.45 3.45-3.45 3.45-3.45-3.45zM409.2 157.55l3.45 3.45-3.45 3.45-3.45-3.45zM401.3 186.55l3.45 3.45-3.45 3.45-3.45-3.45zM442.3 142.15l3.45 3.45-3.45 3.45-3.45-3.45zM438.0 131.15l3.45 3.45-3.45 3.45-3.45-3.45zM391.5 187.95l3.45 3.45-3.45 3.45-3.45-3.45zM492.5 105.55l3.45 3.45-3.45 3.45-3.45-3.45zM385.9 174.15l3.45 3.45-3.45 3.45-3.45-3.45zM480.1 134.85l3.45 3.45-3.45 3.45-3.45-3.45zM430.1 129.55l3.45 3.45-3.45 3.45-3.45-3.45zM437.2 122.35l3.45 3.45-3.45 3.45-3.45-3.45zM439.1 138.45l3.45 3.45-3.45 3.45-3.45-3.45zM449.9 140.85l3.45 3.45-3.45 3.45-3.45-3.45zM400.8 211.85l3.45 3.45-3.45 3.45-3.45-3.45zM425.9 129.95l3.45 3.45-3.45 3.45-3.45-3.45zM470.3 123.85l3.45 3.45-3.45 3.45-3.45-3.45zM442.4 136.75l3.45 3.45-3.45 3.45-3.45-3.45zM362.4 190.15l3.45 3.45-3.45 3.45-3.45-3.45zM254.5 223.65l3.45 3.45-3.45 3.45-3.45-3.45zM405.1 157.65l3.45 3.45-3.45 3.45-3.45-3.45zM496.9 101.25l3.45 3.45-3.45 3.45-3.45-3.45zM377.1 170.65l3.45 3.45-3.45 3.45-3.45-3.45zM406.5 154.95l3.45 3.45-3.45 3.45-3.45-3.45zM505.3 83.65l3.45 3.45-3.45 3.45-3.45-3.45zM465.5 120.75l3.45 3.45-3.45 3.45-3.45-3.45zM372.4 194.65l3.45 3.45-3.45 3.45-3.45-3.45zM229.7 278.55l3.45 3.45-3.45 3.45-3.45-3.45zM509.4 79.65l3.45 3.45-3.45 3.45-3.45-3.45zM401.1 150.95l3.45 3.45-3.45 3.45-3.45-3.45zM482.8 122.55l3.45 3.45-3.45 3.45-3.45-3.45zM368.2 188.85l3.45 3.45-3.45 3.45-3.45-3.45zM300.9 239.95l3.45 3.45-3.45 3.45-3.45-3.45zM464.3 160.55l3.45 3.45-3.45 3.45-3.45-3.45zM294.2 215.15l3.45 3.45-3.45 3.45-3.45-3.45zM390.5 167.75l3.45 3.45-3.45 3.45-3.45-3.45zM407.2 152.35l3.45 3.45-3.45 3.45-3.45-3.45zM501.9 102.55l3.45 3.45-3.45 3.45-3.45-3.45zM376.3 206.45l3.45 3.45-3.45 3.45-3.45-3.45zM450.0 144.55l3.45 3.45-3.45 3.45-3.45-3.45zM485.2 102.65l3.45 3.45-3.45 3.45-3.45-3.45zM479.2 135.75l3.45 3.45-3.45 3.45-3.45-3.45zM316.8 234.65l3.45 3.45-3.45 3.45-3.45-3.45zM412.8 143.05l3.45 3.45-3.45 3.45-3.45-3.45zM288.2 213.05l3.45 3.45-3.45 3.45-3.45-3.45zM432.6 155.95l3.45 3.45-3.45 3.45-3.45-3.45zM431.1 171.25l3.45 3.45-3.45 3.45-3.45-3.45zM513.6 88.35l3.45 3.45-3.45 3.45-3.45-3.45zM392.1 215.15l3.45 3.45-3.45 3.45-3.45-3.45zM437.5 148.95l3.45 3.45-3.45 3.45-3.45-3.45zM360.2 198.05l3.45 3.45-3.45 3.45-3.45-3.45zM380.3 183.75l3.45 3.45-3.45 3.45-3.45-3.45zM383.1 155.95l3.45 3.45-3.45 3.45-3.45-3.45zM502.7 93.95l3.45 3.45-3.45 3.45-3.45-3.45zM535.8 69.85l3.45 3.45-3.45 3.45-3.45-3.45zM521.2 83.15l3.45 3.45-3.45 3.45-3.45-3.45zM256.9 250.55l3.45 3.45-3.45 3.45-3.45-3.45zM461.7 143.55l3.45 3.45-3.45 3.45-3.45-3.45zM423.7 192.65l3.45 3.45-3.45 3.45-3.45-3.45zM466.4 140.35l3.45 3.45-3.45 3.45-3.45-3.45zM401.2 197.05l3.45 3.45-3.45 3.45-3.45-3.45zM222.4 296.65l3.45 3.45-3.45 3.45-3.45-3.45zM395.8 167.55l3.45 3.45-3.45 3.45-3.45-3.45zM348.0 195.65l3.45 3.45-3.45 3.45-3.45-3.45zM399.0 152.65l3.45 3.45-3.45 3.45-3.45-3.45zM324.6 187.65l3.45 3.45-3.45 3.45-3.45-3.45zM296.0 220.15l3.45 3.45-3.45 3.45-3.45-3.45zM499.6 106.35l3.45 3.45-3.45 3.45-3.45-3.45zM390.2 206.75l3.45 3.45-3.45 3.45-3.45-3.45zM566.1 57.55l3.45 3.45-3.45 3.45-3.45-3.45zM337.9 223.75l3.45 3.45-3.45 3.45-3.45-3.45zM260.3 254.85l3.45 3.45-3.45 3.45-3.45-3.45zM298.8 234.55l3.45 3.45-3.45 3.45-3.45-3.45zM457.6 106.95l3.45 3.45-3.45 3.45-3.45-3.45zM403.9 197.45l3.45 3.45-3.45 3.45-3.45-3.45zM277.7 253.65l3.45 3.45-3.45 3.45-3.45-3.45zM323.0 209.95l3.45 3.45-3.45 3.45-3.45-3.45zM387.6 170.25l3.45 3.45-3.45 3.45-3.45-3.45zM460.5 150.95l3.45 3.45-3.45 3.45-3.45-3.45zM461.9 133.65l3.45 3.45-3.45 3.45-3.45-3.45zM360.1 159.95l3.45 3.45-3.45 3.45-3.45-3.45zM407.3 130.25l3.45 3.45-3.45 3.45-3.45-3.45zM385.7 159.15l3.45 3.45-3.45 3.45-3.45-3.45zM543.3 72.65l3.45 3.45-3.45 3.45-3.45-3.45zM435.7 128.15l3.45 3.45-3.45 3.45-3.45-3.45zM436.2 156.45l3.45 3.45-3.45 3.45-3.45-3.45zM379.4 150.15l3.45 3.45-3.45 3.45-3.45-3.45zM363.2 204.45l3.45 3.45-3.45 3.45-3.45-3.45zM459.0 119.65l3.45 3.45-3.45 3.45-3.45-3.45zM313.5 250.05l3.45 3.45-3.45 3.45-3.45-3.45zM377.2 195.65l3.45 3.45-3.45 3.45-3.45-3.45zM476.9 118.55l3.45 3.45-3.45 3.45-3.45-3.45zM556.0 63.45l3.45 3.45-3.45 3.45-3.45-3.45zM427.6 151.05l3.45 3.45-3.45 3.45-3.45-3.45zM377.4 191.75l3.45 3.45-3.45 3.45-3.45-3.45zM502.3 83.95l3.45 3.45-3.45 3.45-3.45-3.45zM514.7 87.95l3.45 3.45-3.45 3.45-3.45-3.45zM454.1 133.55l3.45 3.45-3.45 3.45-3.45-3.45zM401.5 162.15l3.45 3.45-3.45 3.45-3.45-3.45zM395.6 180.55l3.45 3.45-3.45 3.45-3.45-3.45zM415.7 141.35l3.45 3.45-3.45 3.45-3.45-3.45zM329.0 208.45l3.45 3.45-3.45 3.45-3.45-3.45zM336.4 236.05l3.45 3.45-3.45 3.45-3.45-3.45zM263.0 251.65l3.45 3.45-3.45 3.45-3.45-3.45zM452.8 160.15l3.45 3.45-3.45 3.45-3.45-3.45zM406.1 186.05l3.45 3.45-3.45 3.45-3.45-3.45zM368.2 206.95l3.45 3.45-3.45 3.45-3.45-3.45zM446.7 124.65l3.45 3.45-3.45 3.45-3.45-3.45zM326.5 215.95l3.45 3.45-3.45 3.45-3.45-3.45zM403.6 143.15l3.45 3.45-3.45 3.45-3.45-3.45zM408.8 203.45l3.45 3.45-3.45 3.45-3.45-3.45zM388.2 203.05l3.45 3.45-3.45 3.45-3.45-3.45zM403.2 178.25l3.45 3.45-3.45 3.45-3.45-3.45zM459.1 129.05l3.45 3.45-3.45 3.45-3.45-3.45zM359.9 196.65l3.45 3.45-3.45 3.45-3.45-3.45zM418.6 155.75l3.45 3.45-3.45 3.45-3.45-3.45zM368.5 201.25l3.45 3.45-3.45 3.45-3.45-3.45zM407.5 176.05l3.45 3.45-3.45 3.45-3.45-3.45zM379.8 208.05l3.45 3.45-3.45 3.45-3.45-3.45zM464.2 119.95l3.45 3.45-3.45 3.45-3.45-3.45zM400.3 209.15l3.45 3.45-3.45 3.45-3.45-3.45zM472.7 143.35l3.45 3.45-3.45 3.45-3.45-3.45zM289.9 230.15l3.45 3.45-3.45 3.45-3.45-3.45zM538.9 73.95l3.45 3.45-3.45 3.45-3.45-3.45zM495.1 115.55l3.45 3.45-3.45 3.45-3.45-3.45zM459.7 144.25l3.45 3.45-3.45 3.45-3.45-3.45zM507.1 78.35l3.45 3.45-3.45 3.45-3.45-3.45zM509.5 102.85l3.45 3.45-3.45 3.45-3.45-3.45zM475.2 138.45l3.45 3.45-3.45 3.45-3.45-3.45zM339.5 238.35l3.45 3.45-3.45 3.45-3.45-3.45zM508.4 84.45l3.45 3.45-3.45 3.45-3.45-3.45zM421.4 138.55l3.45 3.45-3.45 3.45-3.45-3.45zM420.9 134.05l3.45 3.45-3.45 3.45-3.45-3.45zM531.8 88.05l3.45 3.45-3.45 3.45-3.45-3.45zM412.0 147.35l3.45 3.45-3.45 3.45-3.45-3.45zM471.1 125.15l3.45 3.45-3.45 3.45-3.45-3.45zM488.0 117.65l3.45 3.45-3.45 3.45-3.45-3.45zM533.2 67.75l3.45 3.45-3.45 3.45-3.45-3.45zM488.9 126.35l3.45 3.45-3.45 3.45-3.45-3.45zM306.7 210.85l3.45 3.45-3.45 3.45-3.45-3.45zM515.3 81.35l3.45 3.45-3.45 3.45-3.45-3.45zM431.6 177.75l3.45 3.45-3.45 3.45-3.45-3.45zM445.2 158.35l3.45 3.45-3.45 3.45-3.45-3.45zM466.7 149.75l3.45 3.45-3.45 3.45-3.45-3.45zM509.5 84.15l3.45 3.45-3.45 3.45-3.45-3.45zM433.2 117.55l3.45 3.45-3.45 3.45-3.45-3.45zM517.6 87.85l3.45 3.45-3.45 3.45-3.45-3.45zM250.1 240.95l3.45 3.45-3.45 3.45-3.45-3.45zM471.0 157.85l3.45 3.45-3.45 3.45-3.45-3.45zM360.5 171.45l3.45 3.45-3.45 3.45-3.45-3.45zM276.1 241.55l3.45 3.45-3.45 3.45-3.45-3.45zM261.4 240.95l3.45 3.45-3.45 3.45-3.45-3.45zM386.4 158.85l3.45 3.45-3.45 3.45-3.45-3.45zM436.6 150.35l3.45 3.45-3.45 3.45-3.45-3.45zM403.1 157.75l3.45 3.45-3.45 3.45-3.45-3.45zM317.3 251.95l3.45 3.45-3.45 3.45-3.45-3.45zM373.4 196.35l3.45 3.45-3.45 3.45-3.45-3.45zM328.3 249.25l3.45 3.45-3.45 3.45-3.45-3.45zM383.3 188.15l3.45 3.45-3.45 3.45-3.45-3.45zM477.5 132.35l3.45 3.45-3.45 3.45-3.45-3.45zM395.8 188.65l3.45 3.45-3.45 3.45-3.45-3.45zM422.4 120.15l3.45 3.45-3.45 3.45-3.45-3.45zM366.4 167.75l3.45 3.45-3.45 3.45-3.45-3.45zM448.6 163.15l3.45 3.45-3.45 3.45-3.45-3.45zM448.0 128.15l3.45 3.45-3.45 3.45-3.45-3.45zM395.5 207.05l3.45 3.45-3.45 3.45-3.45-3.45zM351.4 195.75l3.45 3.45-3.45 3.45-3.45-3.45zM448.0 126.35l3.45 3.45-3.45 3.45-3.45-3.45zM324.0 209.85l3.45 3.45-3.45 3.45-3.45-3.45zM483.8 116.75l3.45 3.45-3.45 3.45-3.45-3.45zM479.0 105.95l3.45 3.45-3.45 3.45-3.45-3.45zM418.2 143.85l3.45 3.45-3.45 3.45-3.45-3.45zM466.4 124.65l3.45 3.45-3.45 3.45-3.45-3.45zM332.9 202.35l3.45 3.45-3.45 3.45-3.45-3.45zM213.9 276.35l3.45 3.45-3.45 3.45-3.45-3.45zM246.4 259.35l3.45 3.45-3.45 3.45-3.45-3.45zM323.4 218.75l3.45 3.45-3.45 3.45-3.45-3.45zM300.6 229.55l3.45 3.45-3.45 3.45-3.45-3.45zM485.8 109.05l3.45 3.45-3.45 3.45-3.45-3.45zM426.5 117.15l3.45 3.45-3.45 3.45-3.45-3.45zM302.1 208.95l3.45 3.45-3.45 3.45-3.45-3.45zM448.3 162.05l3.45 3.45-3.45 3.45-3.45-3.45zM291.5 240.35l3.45 3.45-3.45 3.45-3.45-3.45zM485.8 105.75l3.45 3.45-3.45 3.45-3.45-3.45zM456.3 108.25l3.45 3.45-3.45 3.45-3.45-3.45zM467.5 140.25l3.45 3.45-3.45 3.45-3.45-3.45zM376.4 207.15l3.45 3.45-3.45 3.45-3.45-3.45zM415.5 127.95l3.45 3.45-3.45 3.45-3.45-3.45zM500.2 101.65l3.45 3.45-3.45 3.45-3.45-3.45zM453.2 140.15l3.45 3.45-3.45 3.45-3.45-3.45zM471.5 139.85l3.45 3.45-3.45 3.45-3.45-3.45zM530.1 77.65l3.45 3.45-3.45 3.45-3.45-3.45zM404.4 183.35l3.45 3.45-3.45 3.45-3.45-3.45zM371.8 164.75l3.45 3.45-3.45 3.45-3.45-3.45zM343.7 202.55l3.45 3.45-3.45 3.45-3.45-3.45zM475.7 148.75l3.45 3.45-3.45 3.45-3.45-3.45zM521.5 90.15l3.45 3.45-3.45 3.45-3.45-3.45zM354.4 203.55l3.45 3.45-3.45 3.45-3.45-3.45zM523.8 94.45l3.45 3.45-3.45 3.45-3.45-3.45zM383.8 220.75l3.45 3.45-3.45 3.45-3.45-3.45zM327.1 221.65l3.45 3.45-3.45 3.45-3.45-3.45zM465.9 141.35l3.45 3.45-3.45 3.45-3.45-3.45zM494.2 118.45l3.45 3.45-3.45 3.45-3.45-3.45zM216.7 284.35l3.45 3.45-3.45 3.45-3.45-3.45zM442.9 130.15l3.45 3.45-3.45 3.45-3.45-3.45zM343.4 215.25l3.45 3.45-3.45 3.45-3.45-3.45zM348.7 193.05l3.45 3.45-3.45 3.45-3.45-3.45zM440.8 165.15l3.45 3.45-3.45 3.45-3.45-3.45zM523.6 87.45l3.45 3.45-3.45 3.45-3.45-3.45zM263.3 231.15l3.45 3.45-3.45 3.45-3.45-3.45zM276.6 230.65l3.45 3.45-3.45 3.45-3.45-3.45zM507.0 91.45l3.45 3.45-3.45 3.45-3.45-3.45zM564.3 58.45l3.45 3.45-3.45 3.45-3.45-3.45zM464.1 139.45l3.45 3.45-3.45 3.45-3.45-3.45zM471.9 138.35l3.45 3.45-3.45 3.45-3.45-3.45zM521.2 77.15l3.45 3.45-3.45 3.45-3.45-3.45zM534.0 76.55l3.45 3.45-3.45 3.45-3.45-3.45zM339.1 206.45l3.45 3.45-3.45 3.45-3.45-3.45zM431.3 130.75l3.45 3.45-3.45 3.45-3.45-3.45zM491.3 85.75l3.45 3.45-3.45 3.45-3.45-3.45zM276.1 229.15l3.45 3.45-3.45 3.45-3.45-3.45zM391.5 149.15l3.45 3.45-3.45 3.45-3.45-3.45zM366.1 204.35l3.45 3.45-3.45 3.45-3.45-3.45zM370.6 189.95l3.45 3.45-3.45 3.45-3.45-3.45zM365.0 187.05l3.45 3.45-3.45 3.45-3.45-3.45zM439.7 137.85l3.45 3.45-3.45 3.45-3.45-3.45zM292.4 241.35l3.45 3.45-3.45 3.45-3.45-3.45zM456.7 120.15l3.45 3.45-3.45 3.45-3.45-3.45zM515.3 94.25l3.45 3.45-3.45 3.45-3.45-3.45zM450.4 139.65l3.45 3.45-3.45 3.45-3.45-3.45zM379.5 210.15l3.45 3.45-3.45 3.45-3.45-3.45zM392.4 190.65l3.45 3.45-3.45 3.45-3.45-3.45zM454.3 136.05l3.45 3.45-3.45 3.45-3.45-3.45zM407.7 169.05l3.45 3.45-3.45 3.45-3.45-3.45zM314.7 210.35l3.45 3.45-3.45 3.45-3.45-3.45zM355.9 191.45l3.45 3.45-3.45 3.45-3.45-3.45zM407.3 165.65l3.45 3.45-3.45 3.45-3.45-3.45zM451.4 114.55l3.45 3.45-3.45 3.45-3.45-3.45zM397.1 166.25l3.45 3.45-3.45 3.45-3.45-3.45zM218.6 249.55l3.45 3.45-3.45 3.45-3.45-3.45zM415.7 132.15l3.45 3.45-3.45 3.45-3.45-3.45zM565.4 56.55l3.45 3.45-3.45 3.45-3.45-3.45zM416.0 167.55l3.45 3.45-3.45 3.45-3.45-3.45zM442.1 123.85l3.45 3.45-3.45 3.45-3.45-3.45zM397.8 200.15l3.45 3.45-3.45 3.45-3.45-3.45zM301.4 262.85l3.45 3.45-3.45 3.45-3.45-3.45zM251.7 254.85l3.45 3.45-3.45 3.45-3.45-3.45zM383.1 155.85l3.45 3.45-3.45 3.45-3.45-3.45zM381.3 162.75l3.45 3.45-3.45 3.45-3.45-3.45zM465.2 113.95l3.45 3.45-3.45 3.45-3.45-3.45zM349.9 200.35l3.45 3.45-3.45 3.45-3.45-3.45zM547.4 64.95l3.45 3.45-3.45 3.45-3.45-3.45zM370.4 184.65l3.45 3.45-3.45 3.45-3.45-3.45zM532.7 80.25l3.45 3.45-3.45 3.45-3.45-3.45zM445.0 130.15l3.45 3.45-3.45 3.45-3.45-3.45zM477.6 119.55l3.45 3.45-3.45 3.45-3.45-3.45zM423.8 154.65l3.45 3.45-3.45 3.45-3.45-3.45zM377.4 155.55l3.45 3.45-3.45 3.45-3.45-3.45zM216.8 280.85l3.45 3.45-3.45 3.45-3.45-3.45zM438.1 144.35l3.45 3.45-3.45 3.45-3.45-3.45zM478.7 138.75l3.45 3.45-3.45 3.45-3.45-3.45zM446.2 133.75l3.45 3.45-3.45 3.45-3.45-3.45zM485.0 94.55l3.45 3.45-3.45 3.45-3.45-3.45zM328.9 214.95l3.45 3.45-3.45 3.45-3.45-3.45zM502.8 95.45l3.45 3.45-3.45 3.45-3.45-3.45zM380.8 193.45l3.45 3.45-3.45 3.45-3.45-3.45zM449.0 112.45l3.45 3.45-3.45 3.45-3.45-3.45zM474.3 142.85l3.45 3.45-3.45 3.45-3.45-3.45zM281.2 202.75l3.45 3.45-3.45 3.45-3.45-3.45zM490.3 101.15l3.45 3.45-3.45 3.45-3.45-3.45zM447.2 139.35l3.45 3.45-3.45 3.45-3.45-3.45zM452.8 142.65l3.45 3.45-3.45 3.45-3.45-3.45zM419.2 194.95l3.45 3.45-3.45 3.45-3.45-3.45zM508.4 95.85l3.45 3.45-3.45 3.45-3.45-3.45zM330.9 205.15l3.45 3.45-3.45 3.45-3.45-3.45zM379.6 179.75l3.45 3.45-3.45 3.45-3.45-3.45zM356.2 194.35l3.45 3.45-3.45 3.45-3.45-3.45zM372.2 171.85l3.45 3.45-3.45 3.45-3.45-3.45zM290.9 227.15l3.45 3.45-3.45 3.45-3.45-3.45zM379.9 182.45l3.45 3.45-3.45 3.45-3.45-3.45zM277.0 220.25l3.45 3.45-3.45 3.45-3.45-3.45zM432.5 133.65l3.45 3.45-3.45 3.45-3.45-3.45zM464.0 134.75l3.45 3.45-3.45 3.45-3.45-3.45zM494.2 85.45l3.45 3.45-3.45 3.45-3.45-3.45zM552.4 65.35l3.45 3.45-3.45 3.45-3.45-3.45zM320.9 204.45l3.45 3.45-3.45 3.45-3.45-3.45zM461.7 136.05l3.45 3.45-3.45 3.45-3.45-3.45zM391.9 171.95l3.45 3.45-3.45 3.45-3.45-3.45zM393.4 173.45l3.45 3.45-3.45 3.45-3.45-3.45zM456.6 158.55l3.45 3.45-3.45 3.45-3.45-3.45zM389.6 166.15l3.45 3.45-3.45 3.45-3.45-3.45zM343.4 202.85l3.45 3.45-3.45 3.45-3.45-3.45zM342.8 194.05l3.45 3.45-3.45 3.45-3.45-3.45zM289.6 225.45l3.45 3.45-3.45 3.45-3.45-3.45zM325.5 225.45l3.45 3.45-3.45 3.45-3.45-3.45zM417.6 141.35l3.45 3.45-3.45 3.45-3.45-3.45zM412.1 171.35l3.45 3.45-3.45 3.45-3.45-3.45zM498.0 85.35l3.45 3.45-3.45 3.45-3.45-3.45zM457.7 138.45l3.45 3.45-3.45 3.45-3.45-3.45zM387.1 164.65l3.45 3.45-3.45 3.45-3.45-3.45zM336.4 199.15l3.45 3.45-3.45 3.45-3.45-3.45zM420.4 173.65l3.45 3.45-3.45 3.45-3.45-3.45zM309.0 232.45l3.45 3.45-3.45 3.45-3.45-3.45zM371.6 168.55l3.45 3.45-3.45 3.45-3.45-3.45zM355.5 198.25l3.45 3.45-3.45 3.45-3.45-3.45zM406.9 158.45l3.45 3.45-3.45 3.45-3.45-3.45zM412.1 177.45l3.45 3.45-3.45 3.45-3.45-3.45zM465.0 102.55l3.45 3.45-3.45 3.45-3.45-3.45zM285.1 202.55l3.45 3.45-3.45 3.45-3.45-3.45zM412.2 165.65l3.45 3.45-3.45 3.45-3.45-3.45zM411.7 156.25l3.45 3.45-3.45 3.45-3.45-3.45zM299.7 217.05l3.45 3.45-3.45 3.45-3.45-3.45zM451.4 139.95l3.45 3.45-3.45 3.45-3.45-3.45zM504.5 84.45l3.45 3.45-3.45 3.45-3.45-3.45zM520.7 87.65l3.45 3.45-3.45 3.45-3.45-3.45zM461.4 169.55l3.45 3.45-3.45 3.45-3.45-3.45zM470.3 144.95l3.45 3.45-3.45 3.45-3.45-3.45zM367.2 175.25l3.45 3.45-3.45 3.45-3.45-3.45zM459.3 158.45l3.45 3.45-3.45 3.45-3.45-3.45zM383.9 156.75l3.45 3.45-3.45 3.45-3.45-3.45zM505.8 109.65l3.45 3.45-3.45 3.45-3.45-3.45zM453.1 167.75l3.45 3.45-3.45 3.45-3.45-3.45zM400.7 172.45l3.45 3.45-3.45 3.45-3.45-3.45zM406.4 188.35l3.45 3.45-3.45 3.45-3.45-3.45zM459.2 148.25l3.45 3.45-3.45 3.45-3.45-3.45zM405.5 142.15l3.45 3.45-3.45 3.45-3.45-3.45zM488.3 92.05l3.45 3.45-3.45 3.45-3.45-3.45zM470.5 142.35l3.45 3.45-3.45 3.45-3.45-3.45zM410.3 155.85l3.45 3.45-3.45 3.45-3.45-3.45zM389.9 200.15l3.45 3.45-3.45 3.45-3.45-3.45zM382.0 165.05l3.45 3.45-3.45 3.45-3.45-3.45zM396.2 161.45l3.45 3.45-3.45 3.45-3.45-3.45zM491.0 92.85l3.45 3.45-3.45 3.45-3.45-3.45zM405.4 150.45l3.45 3.45-3.45 3.45-3.45-3.45zM373.9 227.85l3.45 3.45-3.45 3.45-3.45-3.45zM376.9 171.65l3.45 3.45-3.45 3.45-3.45-3.45zM474.7 108.05l3.45 3.45-3.45 3.45-3.45-3.45zM511.2 104.55l3.45 3.45-3.45 3.45-3.45-3.45zM458.7 120.45l3.45 3.45-3.45 3.45-3.45-3.45zM287.0 251.35l3.45 3.45-3.45 3.45-3.45-3.45zM332.9 217.05l3.45 3.45-3.45 3.45-3.45-3.45zM417.3 195.45l3.45 3.45-3.45 3.45-3.45-3.45zM406.7 155.25l3.45 3.45-3.45 3.45-3.45-3.45zM456.8 171.65l3.45 3.45-3.45 3.45-3.45-3.45zM406.1 175.95l3.45 3.45-3.45 3.45-3.45-3.45zM390.1 155.55l3.45 3.45-3.45 3.45-3.45-3.45zM303.5 235.25l3.45 3.45-3.45 3.45-3.45-3.45zM376.7 187.65l3.45 3.45-3.45 3.45-3.45-3.45zM356.6 173.15l3.45 3.45-3.45 3.45-3.45-3.45zM470.1 94.05l3.45 3.45-3.45 3.45-3.45-3.45zM473.4 164.45l3.45 3.45-3.45 3.45-3.45-3.45zM236.6 271.05l3.45 3.45-3.45 3.45-3.45-3.45zM427.2 146.45l3.45 3.45-3.45 3.45-3.45-3.45zM362.8 194.25l3.45 3.45-3.45 3.45-3.45-3.45zM326.4 225.05l3.45 3.45-3.45 3.45-3.45-3.45zM498.0 108.85l3.45 3.45-3.45 3.45-3.45-3.45zM389.9 151.65l3.45 3.45-3.45 3.45-3.45-3.45zM359.2 200.55l3.45 3.45-3.45 3.45-3.45-3.45zM430.8 166.35l3.45 3.45-3.45 3.45-3.45-3.45zM321.6 246.95l3.45 3.45-3.45 3.45-3.45-3.45zM332.4 224.45l3.45 3.45-3.45 3.45-3.45-3.45zM511.9 94.25l3.45 3.45-3.45 3.45-3.45-3.45zM344.7 217.55l3.45 3.45-3.45 3.45-3.45-3.45zM337.9 221.95l3.45 3.45-3.45 3.45-3.45-3.45zM345.9 194.35l3.45 3.45-3.45 3.45-3.45-3.45zM320.0 240.45l3.45 3.45-3.45 3.45-3.45-3.45zM458.2 156.35l3.45 3.45-3.45 3.45-3.45-3.45zM443.4 152.95l3.45 3.45-3.45 3.45-3.45-3.45zM436.4 125.55l3.45 3.45-3.45 3.45-3.45-3.45zM306.5 228.65l3.45 3.45-3.45 3.45-3.45-3.45zM506.1 105.05l3.45 3.45-3.45 3.45-3.45-3.45zM414.0 135.55l3.45 3.45-3.45 3.45-3.45-3.45zM311.8 214.85l3.45 3.45-3.45 3.45-3.45-3.45zM486.6 104.35l3.45 3.45-3.45 3.45-3.45-3.45zM482.6 100.45l3.45 3.45-3.45 3.45-3.45-3.45zM375.0 197.45l3.45 3.45-3.45 3.45-3.45-3.45zM389.0 178.55l3.45 3.45-3.45 3.45-3.45-3.45zM373.6 174.05l3.45 3.45-3.45 3.45-3.45-3.45zM384.5 168.95l3.45 3.45-3.45 3.45-3.45-3.45zM357.5 172.05l3.45 3.45-3.45 3.45-3.45-3.45zM450.7 135.95l3.45 3.45-3.45 3.45-3.45-3.45zM478.9 97.85l3.45 3.45-3.45 3.45-3.45-3.45zM318.7 246.35l3.45 3.45-3.45 3.45-3.45-3.45zM432.5 144.65l3.45 3.45-3.45 3.45-3.45-3.45zM497.5 97.65l3.45 3.45-3.45 3.45-3.45-3.45zM341.5 203.35l3.45 3.45-3.45 3.45-3.45-3.45zM333.8 203.55l3.45 3.45-3.45 3.45-3.45-3.45zM406.8 165.25l3.45 3.45-3.45 3.45-3.45-3.45zM372.4 207.15l3.45 3.45-3.45 3.45-3.45-3.45zM421.6 126.65l3.45 3.45-3.45 3.45-3.45-3.45zM398.3 184.35l3.45 3.45-3.45 3.45-3.45-3.45zM428.7 157.75l3.45 3.45-3.45 3.45-3.45-3.45zM515.9 95.95l3.45 3.45-3.45 3.45-3.45-3.45zM308.6 226.05l3.45 3.45-3.45 3.45-3.45-3.45zM399.9 186.55l3.45 3.45-3.45 3.45-3.45-3.45zM373.8 186.95l3.45 3.45-3.45 3.45-3.45-3.45zM488.6 110.75l3.45 3.45-3.45 3.45-3.45-3.45zM298.1 238.95l3.45 3.45-3.45 3.45-3.45-3.45zM382.9 156.15l3.45 3.45-3.45 3.45-3.45-3.45zM369.1 215.35l3.45 3.45-3.45 3.45-3.45-3.45zM368.6 162.05l3.45 3.45-3.45 3.45-3.45-3.45zM378.7 175.55l3.45 3.45-3.45 3.45-3.45-3.45zM297.6 205.55l3.45 3.45-3.45 3.45-3.45-3.45zM454.5 143.55l3.45 3.45-3.45 3.45-3.45-3.45zM408.4 141.65l3.45 3.45-3.45 3.45-3.45-3.45zM330.5 227.55l3.45 3.45-3.45 3.45-3.45-3.45zM399.2 181.65l3.45 3.45-3.45 3.45-3.45-3.45zM518.1 88.15l3.45 3.45-3.45 3.45-3.45-3.45zM544.1 68.75l3.45 3.45-3.45 3.45-3.45-3.45zM381.6 188.25l3.45 3.45-3.45 3.45-3.45-3.45zM354.3 186.75l3.45 3.45-3.45 3.45-3.45-3.45zM485.8 117.45l3.45 3.45-3.45 3.45-3.45-3.45zM252.2 263.45l3.45 3.45-3.45 3.45-3.45-3.45zM333.7 217.95l3.45 3.45-3.45 3.45-3.45-3.45zM413.8 137.65l3.45 3.45-3.45 3.45-3.45-3.45zM445.4 141.25l3.45 3.45-3.45 3.45-3.45-3.45zM536.6 80.95l3.45 3.45-3.45 3.45-3.45-3.45zM398.0 153.55l3.45 3.45-3.45 3.45-3.45-3.45zM367.8 152.85l3.45 3.45-3.45 3.45-3.45-3.45zM360.3 167.45l3.45 3.45-3.45 3.45-3.45-3.45zM457.5 112.05l3.45 3.45-3.45 3.45-3.45-3.45zM447.7 162.15l3.45 3.45-3.45 3.45-3.45-3.45zM509.7 88.95l3.45 3.45-3.45 3.45-3.45-3.45zM414.3 176.95l3.45 3.45-3.45 3.45-3.45-3.45zM479.7 151.95l3.45 3.45-3.45 3.45-3.45-3.45zM459.7 136.25l3.45 3.45-3.45 3.45-3.45-3.45zM354.0 185.85l3.45 3.45-3.45 3.45-3.45-3.45zM471.3 124.75l3.45 3.45-3.45 3.45-3.45-3.45zM465.3 137.25l3.45 3.45-3.45 3.45-3.45-3.45zM304.9 224.35l3.45 3.45-3.45 3.45-3.45-3.45zM348.1 215.05l3.45 3.45-3.45 3.45-3.45-3.45zM433.3 142.75l3.45 3.45-3.45 3.45-3.45-3.45zM536.9 75.75l3.45 3.45-3.45 3.45-3.45-3.45zM482.0 108.55l3.45 3.45-3.45 3.45-3.45-3.45zM368.2 161.65l3.45 3.45-3.45 3.45-3.45-3.45zM395.3 183.35l3.45 3.45-3.45 3.45-3.45-3.45zM437.2 167.65l3.45 3.45-3.45 3.45-3.45-3.45zM388.4 168.55l3.45 3.45-3.45 3.45-3.45-3.45zM285.4 240.25l3.45 3.45-3.45 3.45-3.45-3.45zM553.6 67.15l3.45 3.45-3.45 3.45-3.45-3.45zM551.3 63.25l3.45 3.45-3.45 3.45-3.45-3.45zM453.3 151.75l3.45 3.45-3.45 3.45-3.45-3.45zM416.8 174.05l3.45 3.45-3.45 3.45-3.45-3.45zM390.2 206.75l3.45 3.45-3.45 3.45-3.45-3.45zM477.5 134.85l3.45 3.45-3.45 3.45-3.45-3.45zM215.3 289.95l3.45 3.45-3.45 3.45-3.45-3.45zM380.8 166.75l3.45 3.45-3.45 3.45-3.45-3.45zM557.2 59.15l3.45 3.45-3.45 3.45-3.45-3.45zM474.0 144.75l3.45 3.45-3.45 3.45-3.45-3.45zM260.7 221.55l3.45 3.45-3.45 3.45-3.45-3.45zM342.7 210.55l3.45 3.45-3.45 3.45-3.45-3.45zM468.7 130.25l3.45 3.45-3.45 3.45-3.45-3.45zM423.5 174.05l3.45 3.45-3.45 3.45-3.45-3.45zM263.4 254.15l3.45 3.45-3.45 3.45-3.45-3.45zM479.5 136.35l3.45 3.45-3.45 3.45-3.45-3.45zM424.6 155.05l3.45 3.45-3.45 3.45-3.45-3.45zM402.5 184.85l3.45 3.45-3.45 3.45-3.45-3.45zM320.8 236.25l3.45 3.45-3.45 3.45-3.45-3.45zM358.1 203.95l3.45 3.45-3.45 3.45-3.45-3.45zM495.0 95.95l3.45 3.45-3.45 3.45-3.45-3.45zM299.6 223.55l3.45 3.45-3.45 3.45-3.45-3.45zM511.8 75.15l3.45 3.45-3.45 3.45-3.45-3.45zM492.6 97.05l3.45 3.45-3.45 3.45-3.45-3.45zM359.2 230.85l3.45 3.45-3.45 3.45-3.45-3.45zM395.9 153.95l3.45 3.45-3.45 3.45-3.45-3.45zM365.4 200.25l3.45 3.45-3.45 3.45-3.45-3.45zM458.0 124.85l3.45 3.45-3.45 3.45-3.45-3.45zM378.4 194.95l3.45 3.45-3.45 3.45-3.45-3.45zM541.0 68.95l3.45 3.45-3.45 3.45-3.45-3.45zM396.9 193.65l3.45 3.45-3.45 3.45-3.45-3.45zM405.3 177.65l3.45 3.45-3.45 3.45-3.45-3.45zM379.8 164.45l3.45 3.45-3.45 3.45-3.45-3.45zM343.9 206.45l3.45 3.45-3.45 3.45-3.45-3.45zM491.7 86.65l3.45 3.45-3.45 3.45-3.45-3.45zM497.6 117.15l3.45 3.45-3.45 3.45-3.45-3.45zM459.8 138.75l3.45 3.45-3.45 3.45-3.45-3.45zM427.2 177.85l3.45 3.45-3.45 3.45-3.45-3.45zM428.4 138.35l3.45 3.45-3.45 3.45-3.45-3.45zM482.8 115.75l3.45 3.45-3.45 3.45-3.45-3.45zM236.0 260.85l3.45 3.45-3.45 3.45-3.45-3.45zM376.8 178.35l3.45 3.45-3.45 3.45-3.45-3.45zM258.9 252.55l3.45 3.45-3.45 3.45-3.45-3.45zM291.0 213.55l3.45 3.45-3.45 3.45-3.45-3.45zM312.8 255.25l3.45 3.45-3.45 3.45-3.45-3.45zM326.3 204.75l3.45 3.45-3.45 3.45-3.45-3.45zM371.8 215.15l3.45 3.45-3.45 3.45-3.45-3.45zM318.8 235.35l3.45 3.45-3.45 3.45-3.45-3.45zM417.8 123.95l3.45 3.45-3.45 3.45-3.45-3.45zM393.8 187.55l3.45 3.45-3.45 3.45-3.45-3.45zM511.9 82.25l3.45 3.45-3.45 3.45-3.45-3.45zM432.1 156.35l3.45 3.45-3.45 3.45-3.45-3.45zM367.2 178.95l3.45 3.45-3.45 3.45-3.45-3.45zM377.3 150.15l3.45 3.45-3.45 3.45-3.45-3.45zM403.6 185.95l3.45 3.45-3.45 3.45-3.45-3.45zM364.8 207.55l3.45 3.45-3.45 3.45-3.45-3.45zM428.7 158.95l3.45 3.45-3.45 3.45-3.45-3.45zM451.2 163.15l3.45 3.45-3.45 3.45-3.45-3.45zM480.8 98.25l3.45 3.45-3.45 3.45-3.45-3.45zM442.2 123.35l3.45 3.45-3.45 3.45-3.45-3.45zM497.5 89.85l3.45 3.45-3.45 3.45-3.45-3.45zM310.6 248.95l3.45 3.45-3.45 3.45-3.45-3.45zM537.9 77.45l3.45 3.45-3.45 3.45-3.45-3.45zM392.8 220.55l3.45 3.45-3.45 3.45-3.45-3.45zM482.8 95.85l3.45 3.45-3.45 3.45-3.45-3.45zM240.7 283.85l3.45 3.45-3.45 3.45-3.45-3.45zM478.1 121.75l3.45 3.45-3.45 3.45-3.45-3.45zM361.1 188.35l3.45 3.45-3.45 3.45-3.45-3.45zM493.0 103.05l3.45 3.45-3.45 3.45-3.45-3.45zM521.6 76.95l3.45 3.45-3.45 3.45-3.45-3.45zM208.1 292.65l3.45 3.45-3.45 3.45-3.45-3.45zM432.6 134.35l3.45 3.45-3.45 3.45-3.45-3.45zM407.3 144.15l3.45 3.45-3.45 3.45-3.45-3.45zM384.9 188.15l3.45 3.45-3.45 3.45-3.45-3.45zM520.5 81.65l3.45 3.45-3.45 3.45-3.45-3.45zM395.0 185.15l3.45 3.45-3.45 3.45-3.45-3.45zM299.2 262.35l3.45 3.45-3.45 3.45-3.45-3.45zM389.3 143.45l3.45 3.45-3.45 3.45-3.45-3.45zM461.0 146.75l3.45 3.45-3.45 3.45-3.45-3.45zM488.5 109.65l3.45 3.45-3.45 3.45-3.45-3.45zM362.4 190.75l3.45 3.45-3.45 3.45-3.45-3.45zM409.6 180.15l3.45 3.45-3.45 3.45-3.45-3.45zM305.4 221.65l3.45 3.45-3.45 3.45-3.45-3.45zM504.2 84.65l3.45 3.45-3.45 3.45-3.45-3.45zM460.5 136.35l3.45 3.45-3.45 3.45-3.45-3.45zM517.9 91.85l3.45 3.45-3.45 3.45-3.45-3.45zM292.5 217.15l3.45 3.45-3.45 3.45-3.45-3.45zM404.1 167.05l3.45 3.45-3.45 3.45-3.45-3.45zM435.1 139.55l3.45 3.45-3.45 3.45-3.45-3.45zM236.2 249.55l3.45 3.45-3.45 3.45-3.45-3.45zM417.7 127.95l3.45 3.45-3.45 3.45-3.45-3.45zM470.8 126.15l3.45 3.45-3.45 3.45-3.45-3.45zM472.8 115.05l3.45 3.45-3.45 3.45-3.45-3.45zM449.6 153.45l3.45 3.45-3.45 3.45-3.45-3.45zM362.4 204.95l3.45 3.45-3.45 3.45-3.45-3.45zM320.3 245.15l3.45 3.45-3.45 3.45-3.45-3.45zM321.4 225.05l3.45 3.45-3.45 3.45-3.45-3.45zM435.4 128.05l3.45 3.45-3.45 3.45-3.45-3.45zM292.3 226.65l3.45 3.45-3.45 3.45-3.45-3.45zM197.6 287.25l3.45 3.45-3.45 3.45-3.45-3.45zM480.7 131.95l3.45 3.45-3.45 3.45-3.45-3.45zM378.2 198.65l3.45 3.45-3.45 3.45-3.45-3.45zM413.1 158.25l3.45 3.45-3.45 3.45-3.45-3.45zM372.6 196.85l3.45 3.45-3.45 3.45-3.45-3.45zM498.5 82.75l3.45 3.45-3.45 3.45-3.45-3.45zM433.0 120.45l3.45 3.45-3.45 3.45-3.45-3.45zM545.9 62.45l3.45 3.45-3.45 3.45-3.45-3.45zM428.2 138.65l3.45 3.45-3.45 3.45-3.45-3.45zM431.4 149.75l3.45 3.45-3.45 3.45-3.45-3.45zM416.3 187.55l3.45 3.45-3.45 3.45-3.45-3.45zM465.1 98.15l3.45 3.45-3.45 3.45-3.45-3.45zM362.6 200.85l3.45 3.45-3.45 3.45-3.45-3.45zM437.8 139.15l3.45 3.45-3.45 3.45-3.45-3.45zM536.3 75.25l3.45 3.45-3.45 3.45-3.45-3.45zM345.7 231.85l3.45 3.45-3.45 3.45-3.45-3.45zM370.8 222.35l3.45 3.45-3.45 3.45-3.45-3.45zM501.2 85.55l3.45 3.45-3.45 3.45-3.45-3.45zM356.8 221.65l3.45 3.45-3.45 3.45-3.45-3.45zM476.8 119.75l3.45 3.45-3.45 3.45-3.45-3.45zM216.0 285.05l3.45 3.45-3.45 3.45-3.45-3.45zM456.5 131.95l3.45 3.45-3.45 3.45-3.45-3.45zM463.9 141.15l3.45 3.45-3.45 3.45-3.45-3.45zM406.4 176.35l3.45 3.45-3.45 3.45-3.45-3.45zM533.8 83.85l3.45 3.45-3.45 3.45-3.45-3.45zM330.2 196.35l3.45 3.45-3.45 3.45-3.45-3.45zM224.5 270.35l3.45 3.45-3.45 3.45-3.45-3.45zM403.3 207.95l3.45 3.45-3.45 3.45-3.45-3.45zM338.7 226.95l3.45 3.45-3.45 3.45-3.45-3.45zM373.7 194.05l3.45 3.45-3.45 3.45-3.45-3.45zM409.3 163.15l3.45 3.45-3.45 3.45-3.45-3.45zM534.5 87.35l3.45 3.45-3.45 3.45-3.45-3.45zM460.9 101.85l3.45 3.45-3.45 3.45-3.45-3.45zM406.9 174.05l3.45 3.45-3.45 3.45-3.45-3.45zM421.9 159.15l3.45 3.45-3.45 3.45-3.45-3.45zM445.6 175.75l3.45 3.45-3.45 3.45-3.45-3.45zM420.5 133.15l3.45 3.45-3.45 3.45-3.45-3.45zM242.4 265.85l3.45 3.45-3.45 3.45-3.45-3.45zM301.5 221.25l3.45 3.45-3.45 3.45-3.45-3.45zM408.7 158.05l3.45 3.45-3.45 3.45-3.45-3.45zM473.0 96.75l3.45 3.45-3.45 3.45-3.45-3.45zM466.0 147.85l3.45 3.45-3.45 3.45-3.45-3.45zM494.0 82.65l3.45 3.45-3.45 3.45-3.45-3.45zM368.8 211.85l3.45 3.45-3.45 3.45-3.45-3.45zM269.0 230.95l3.45 3.45-3.45 3.45-3.45-3.45zM421.7 163.55l3.45 3.45-3.45 3.45-3.45-3.45zM354.6 210.45l3.45 3.45-3.45 3.45-3.45-3.45zM530.9 89.65l3.45 3.45-3.45 3.45-3.45-3.45zM495.5 118.05l3.45 3.45-3.45 3.45-3.45-3.45zM298.3 258.25l3.45 3.45-3.45 3.45-3.45-3.45zM448.6 152.25l3.45 3.45-3.45 3.45-3.45-3.45zM478.8 110.05l3.45 3.45-3.45 3.45-3.45-3.45zM421.5 149.75l3.45 3.45-3.45 3.45-3.45-3.45zM511.1 81.95l3.45 3.45-3.45 3.45-3.45-3.45zM296.7 208.05l3.45 3.45-3.45 3.45-3.45-3.45zM267.1 219.65l3.45 3.45-3.45 3.45-3.45-3.45zM409.6 159.15l3.45 3.45-3.45 3.45-3.45-3.45zM483.2 107.75l3.45 3.45-3.45 3.45-3.45-3.45zM546.8 69.55l3.45 3.45-3.45 3.45-3.45-3.45zM529.7 79.85l3.45 3.45-3.45 3.45-3.45-3.45zM357.7 177.45l3.45 3.45-3.45 3.45-3.45-3.45zM297.4 248.45l3.45 3.45-3.45 3.45-3.45-3.45zM538.2 76.45l3.45 3.45-3.45 3.45-3.45-3.45zM356.5 211.55l3.45 3.45-3.45 3.45-3.45-3.45zM506.1 86.75l3.45 3.45-3.45 3.45-3.45-3.45zM435.9 116.75l3.45 3.45-3.45 3.45-3.45-3.45zM366.7 193.25l3.45 3.45-3.45 3.45-3.45-3.45zM438.1 136.05l3.45 3.45-3.45 3.45-3.45-3.45zM380.0 202.85l3.45 3.45-3.45 3.45-3.45-3.45zM394.2 157.95l3.45 3.45-3.45 3.45-3.45-3.45zM302.6 205.35l3.45 3.45-3.45 3.45-3.45-3.45zM399.9 166.45l3.45 3.45-3.45 3.45-3.45-3.45zM520.9 79.75l3.45 3.45-3.45 3.45-3.45-3.45zM368.6 200.95l3.45 3.45-3.45 3.45-3.45-3.45zM246.0 250.55l3.45 3.45-3.45 3.45-3.45-3.45zM396.7 151.45l3.45 3.45-3.45 3.45-3.45-3.45zM387.4 184.65l3.45 3.45-3.45 3.45-3.45-3.45zM306.4 222.25l3.45 3.45-3.45 3.45-3.45-3.45zM386.0 175.95l3.45 3.45-3.45 3.45-3.45-3.45zM433.4 169.25l3.45 3.45-3.45 3.45-3.45-3.45zM234.0 274.55l3.45 3.45-3.45 3.45-3.45-3.45zM383.8 160.25l3.45 3.45-3.45 3.45-3.45-3.45zM305.9 206.35l3.45 3.45-3.45 3.45-3.45-3.45zM311.0 208.05l3.45 3.45-3.45 3.45-3.45-3.45zM252.9 248.45l3.45 3.45-3.45 3.45-3.45-3.45zM381.0 211.45l3.45 3.45-3.45 3.45-3.45-3.45zM387.1 178.15l3.45 3.45-3.45 3.45-3.45-3.45zM361.4 228.25l3.45 3.45-3.45 3.45-3.45-3.45zM346.9 192.05l3.45 3.45-3.45 3.45-3.45-3.45zM454.8 139.95l3.45 3.45-3.45 3.45-3.45-3.45zM372.2 171.75l3.45 3.45-3.45 3.45-3.45-3.45zM407.4 172.05l3.45 3.45-3.45 3.45-3.45-3.45zM208.3 280.85l3.45 3.45-3.45 3.45-3.45-3.45zM295.8 233.55l3.45 3.45-3.45 3.45-3.45-3.45zM335.6 228.15l3.45 3.45-3.45 3.45-3.45-3.45zM468.1 123.15l3.45 3.45-3.45 3.45-3.45-3.45zM401.0 204.05l3.45 3.45-3.45 3.45-3.45-3.45zM455.9 114.85l3.45 3.45-3.45 3.45-3.45-3.45zM457.6 121.35l3.45 3.45-3.45 3.45-3.45-3.45zM308.3 199.85l3.45 3.45-3.45 3.45-3.45-3.45zM517.8 96.75l3.45 3.45-3.45 3.45-3.45-3.45zM372.8 165.05l3.45 3.45-3.45 3.45-3.45-3.45zM515.8 93.65l3.45 3.45-3.45 3.45-3.45-3.45zM515.0 91.65l3.45 3.45-3.45 3.45-3.45-3.45zM473.2 97.15l3.45 3.45-3.45 3.45-3.45-3.45zM393.2 185.15l3.45 3.45-3.45 3.45-3.45-3.45zM274.7 249.95l3.45 3.45-3.45 3.45-3.45-3.45zM378.2 172.35l3.45 3.45-3.45 3.45-3.45-3.45zM469.5 112.65l3.45 3.45-3.45 3.45-3.45-3.45zM399.7 176.05l3.45 3.45-3.45 3.45-3.45-3.45zM486.8 105.45l3.45 3.45-3.45 3.45-3.45-3.45zM559.0 61.05l3.45 3.45-3.45 3.45-3.45-3.45zM474.1 107.15l3.45 3.45-3.45 3.45-3.45-3.45zM506.7 79.15l3.45 3.45-3.45 3.45-3.45-3.45zM506.8 90.15l3.45 3.45-3.45 3.45-3.45-3.45zM419.6 168.95l3.45 3.45-3.45 3.45-3.45-3.45zM419.0 173.55l3.45 3.45-3.45 3.45-3.45-3.45zM333.1 222.45l3.45 3.45-3.45 3.45-3.45-3.45zM521.3 77.55l3.45 3.45-3.45 3.45-3.45-3.45zM412.8 150.65l3.45 3.45-3.45 3.45-3.45-3.45zM448.5 126.55l3.45 3.45-3.45 3.45-3.45-3.45zM376.1 195.25l3.45 3.45-3.45 3.45-3.45-3.45zM318.4 247.55l3.45 3.45-3.45 3.45-3.45-3.45zM441.9 136.95l3.45 3.45-3.45 3.45-3.45-3.45zM504.8 103.15l3.45 3.45-3.45 3.45-3.45-3.45zM443.0 173.75l3.45 3.45-3.45 3.45-3.45-3.45zM250.7 243.55l3.45 3.45-3.45 3.45-3.45-3.45zM215.3 284.45l3.45 3.45-3.45 3.45-3.45-3.45zM505.1 87.05l3.45 3.45-3.45 3.45-3.45-3.45zM227.9 269.55l3.45 3.45-3.45 3.45-3.45-3.45zM374.6 202.25l3.45 3.45-3.45 3.45-3.45-3.45zM462.8 133.65l3.45 3.45-3.45 3.45-3.45-3.45zM548.5 64.45l3.45 3.45-3.45 3.45-3.45-3.45zM407.9 165.65l3.45 3.45-3.45 3.45-3.45-3.45zM343.7 217.15l3.45 3.45-3.45 3.45-3.45-3.45zM260.8 251.15l3.45 3.45-3.45 3.45-3.45-3.45zM409.5 163.55l3.45 3.45-3.45 3.45-3.45-3.45zM538.3 69.95l3.45 3.45-3.45 3.45-3.45-3.45zM283.2 251.85l3.45 3.45-3.45 3.45-3.45-3.45zM455.0 141.95l3.45 3.45-3.45 3.45-3.45-3.45zM288.2 221.85l3.45 3.45-3.45 3.45-3.45-3.45zM381.3 164.35l3.45 3.45-3.45 3.45-3.45-3.45zM441.6 171.05l3.45 3.45-3.45 3.45-3.45-3.45zM419.6 131.05l3.45 3.45-3.45 3.45-3.45-3.45zM320.7 221.35l3.45 3.45-3.45 3.45-3.45-3.45zM468.9 148.15l3.45 3.45-3.45 3.45-3.45-3.45zM432.4 136.65l3.45 3.45-3.45 3.45-3.45-3.45zM301.5 216.45l3.45 3.45-3.45 3.45-3.45-3.45zM446.7 156.65l3.45 3.45-3.45 3.45-3.45-3.45zM491.1 88.65l3.45 3.45-3.45 3.45-3.45-3.45zM467.9 98.75l3.45 3.45-3.45 3.45-3.45-3.45zM547.8 61.05l3.45 3.45-3.45 3.45-3.45-3.45zM249.4 265.35l3.45 3.45-3.45 3.45-3.45-3.45zM540.1 66.05l3.45 3.45-3.45 3.45-3.45-3.45zM500.7 115.25l3.45 3.45-3.45 3.45-3.45-3.45zM459.0 110.65l3.45 3.45-3.45 3.45-3.45-3.45zM341.1 201.85l3.45 3.45-3.45 3.45-3.45-3.45zM443.1 155.75l3.45 3.45-3.45 3.45-3.45-3.45zM492.2 112.85l3.45 3.45-3.45 3.45-3.45-3.45zM356.1 179.55l3.45 3.45-3.45 3.45-3.45-3.45zM548.8 66.05l3.45 3.45-3.45 3.45-3.45-3.45zM527.3 85.25l3.45 3.45-3.45 3.45-3.45-3.45zM439.1 117.05l3.45 3.45-3.45 3.45-3.45-3.45zM419.2 175.15l3.45 3.45-3.45 3.45-3.45-3.45zM386.9 175.65l3.45 3.45-3.45 3.45-3.45-3.45zM421.3 142.15l3.45 3.45-3.45 3.45-3.45-3.45zM520.6 95.75l3.45 3.45-3.45 3.45-3.45-3.45zM390.7 204.05l3.45 3.45-3.45 3.45-3.45-3.45zM489.9 106.65l3.45 3.45-3.45 3.45-3.45-3.45zM225.3 265.55l3.45 3.45-3.45 3.45-3.45-3.45zM421.2 143.45l3.45 3.45-3.45 3.45-3.45-3.45zM470.8 126.25l3.45 3.45-3.45 3.45-3.45-3.45zM480.4 112.05l3.45 3.45-3.45 3.45-3.45-3.45zM366.1 170.75l3.45 3.45-3.45 3.45-3.45-3.45zM269.2 250.85l3.45 3.45-3.45 3.45-3.45-3.45zM431.3 159.15l3.45 3.45-3.45 3.45-3.45-3.45zM452.6 143.25l3.45 3.45-3.45 3.45-3.45-3.45zM335.4 216.05l3.45 3.45-3.45 3.45-3.45-3.45zM470.7 123.55l3.45 3.45-3.45 3.45-3.45-3.45zM381.0 176.35l3.45 3.45-3.45 3.45-3.45-3.45zM471.0 126.45l3.45 3.45-3.45 3.45-3.45-3.45zM388.4 162.35l3.45 3.45-3.45 3.45-3.45-3.45zM297.6 240.05l3.45 3.45-3.45 3.45-3.45-3.45zM426.7 179.05l3.45 3.45-3.45 3.45-3.45-3.45zM316.1 223.55l3.45 3.45-3.45 3.45-3.45-3.45zM461.6 119.15l3.45 3.45-3.45 3.45-3.45-3.45zM396.4 184.85l3.45 3.45-3.45 3.45-3.45-3.45zM342.5 201.85l3.45 3.45-3.45 3.45-3.45-3.45zM421.0 137.45l3.45 3.45-3.45 3.45-3.45-3.45zM378.3 183.35l3.45 3.45-3.45 3.45-3.45-3.45zM432.2 140.25l3.45 3.45-3.45 3.45-3.45-3.45zM394.8 202.25l3.45 3.45-3.45 3.45-3.45-3.45zM478.8 112.15l3.45 3.45-3.45 3.45-3.45-3.45zM409.0 169.65l3.45 3.45-3.45 3.45-3.45-3.45zM406.8 173.45l3.45 3.45-3.45 3.45-3.45-3.45zM387.4 184.75l3.45 3.45-3.45 3.45-3.45-3.45zM323.7 208.65l3.45 3.45-3.45 3.45-3.45-3.45zM357.4 175.05l3.45 3.45-3.45 3.45-3.45-3.45zM408.6 164.45l3.45 3.45-3.45 3.45-3.45-3.45zM424.1 147.65l3.45 3.45-3.45 3.45-3.45-3.45zM338.8 203.05l3.45 3.45-3.45 3.45-3.45-3.45zM426.9 145.95l3.45 3.45-3.45 3.45-3.45-3.45zM360.9 220.05l3.45 3.45-3.45 3.45-3.45-3.45zM421.8 152.35l3.45 3.45-3.45 3.45-3.45-3.45zM357.0 188.15l3.45 3.45-3.45 3.45-3.45-3.45zM362.5 217.35l3.45 3.45-3.45 3.45-3.45-3.45zM365.2 196.05l3.45 3.45-3.45 3.45-3.45-3.45zM334.8 204.15l3.45 3.45-3.45 3.45-3.45-3.45zM429.3 143.35l3.45 3.45-3.45 3.45-3.45-3.45zM232.5 255.05l3.45 3.45-3.45 3.45-3.45-3.45zM318.3 212.95l3.45 3.45-3.45 3.45-3.45-3.45zM353.9 199.25l3.45 3.45-3.45 3.45-3.45-3.45zM361.7 194.45l3.45 3.45-3.45 3.45-3.45-3.45zM444.7 133.25l3.45 3.45-3.45 3.45-3.45-3.45zM470.3 133.55l3.45 3.45-3.45 3.45-3.45-3.45zM512.6 96.25l3.45 3.45-3.45 3.45-3.45-3.45zM462.1 109.15l3.45 3.45-3.45 3.45-3.45-3.45zM450.5 125.75l3.45 3.45-3.45 3.45-3.45-3.45zM459.5 104.25l3.45 3.45-3.45 3.45-3.45-3.45zM447.6 113.75l3.45 3.45-3.45 3.45-3.45-3.45zM287.0 234.65l3.45 3.45-3.45 3.45-3.45-3.45zM478.9 106.45l3.45 3.45-3.45 3.45-3.45-3.45zM342.5 202.35l3.45 3.45-3.45 3.45-3.45-3.45zM438.7 172.15l3.45 3.45-3.45 3.45-3.45-3.45zM349.5 216.35l3.45 3.45-3.45 3.45-3.45-3.45zM404.0 189.95l3.45 3.45-3.45 3.45-3.45-3.45zM507.7 93.95l3.45 3.45-3.45 3.45-3.45-3.45zM294.6 206.95l3.45 3.45-3.45 3.45-3.45-3.45zM361.0 191.65l3.45 3.45-3.45 3.45-3.45-3.45zM323.7 232.05l3.45 3.45-3.45 3.45-3.45-3.45zM379.9 175.95l3.45 3.45-3.45 3.45-3.45-3.45zM401.9 182.35l3.45 3.45-3.45 3.45-3.45-3.45zM503.1 104.65l3.45 3.45-3.45 3.45-3.45-3.45zM311.0 232.25l3.45 3.45-3.45 3.45-3.45-3.45zM361.0 213.95l3.45 3.45-3.45 3.45-3.45-3.45zM384.6 206.95l3.45 3.45-3.45 3.45-3.45-3.45zM403.5 165.55l3.45 3.45-3.45 3.45-3.45-3.45zM427.0 157.15l3.45 3.45-3.45 3.45-3.45-3.45zM422.4 150.45l3.45 3.45-3.45 3.45-3.45-3.45zM472.0 112.65l3.45 3.45-3.45 3.45-3.45-3.45zM457.0 144.95l3.45 3.45-3.45 3.45-3.45-3.45zM510.0 89.65l3.45 3.45-3.45 3.45-3.45-3.45zM359.0 176.95l3.45 3.45-3.45 3.45-3.45-3.45zM533.3 78.45l3.45 3.45-3.45 3.45-3.45-3.45zM365.9 159.15l3.45 3.45-3.45 3.45-3.45-3.45zM449.4 119.05l3.45 3.45-3.45 3.45-3.45-3.45zM338.6 232.25l3.45 3.45-3.45 3.45-3.45-3.45zM383.4 183.65l3.45 3.45-3.45 3.45-3.45-3.45zM298.2 241.85l3.45 3.45-3.45 3.45-3.45-3.45zM416.0 174.95l3.45 3.45-3.45 3.45-3.45-3.45zM510.5 93.25l3.45 3.45-3.45 3.45-3.45-3.45zM438.4 156.25l3.45 3.45-3.45 3.45-3.45-3.45zM554.0 62.45l3.45 3.45-3.45 3.45-3.45-3.45zM461.5 129.25l3.45 3.45-3.45 3.45-3.45-3.45zM404.5 168.05l3.45 3.45-3.45 3.45-3.45-3.45zM539.8 73.25l3.45 3.45-3.45 3.45-3.45-3.45zM463.2 157.65l3.45 3.45-3.45 3.45-3.45-3.45zM334.4 193.85l3.45 3.45-3.45 3.45-3.45-3.45zM404.3 190.35l3.45 3.45-3.45 3.45-3.45-3.45zM477.4 108.45l3.45 3.45-3.45 3.45-3.45-3.45zM494.7 85.35l3.45 3.45-3.45 3.45-3.45-3.45zM442.6 134.65l3.45 3.45-3.45 3.45-3.45-3.45zM305.4 201.85l3.45 3.45-3.45 3.45-3.45-3.45zM336.9 211.85l3.45 3.45-3.45 3.45-3.45-3.45zM403.3 144.25l3.45 3.45-3.45 3.45-3.45-3.45zM433.0 140.65l3.45 3.45-3.45 3.45-3.45-3.45zM419.7 143.55l3.45 3.45-3.45 3.45-3.45-3.45zM444.9 132.85l3.45 3.45-3.45 3.45-3.45-3.45zM355.1 206.55l3.45 3.45-3.45 3.45-3.45-3.45zM399.7 200.85l3.45 3.45-3.45 3.45-3.45-3.45zM309.9 233.85l3.45 3.45-3.45 3.45-3.45-3.45zM228.0 246.55l3.45 3.45-3.45 3.45-3.45-3.45zM335.6 208.05l3.45 3.45-3.45 3.45-3.45-3.45zM385.9 153.25l3.45 3.45-3.45 3.45-3.45-3.45zM366.7 180.05l3.45 3.45-3.45 3.45-3.45-3.45zM507.7 94.25l3.45 3.45-3.45 3.45-3.45-3.45zM555.7 67.05l3.45 3.45-3.45 3.45-3.45-3.45zM519.5 96.25l3.45 3.45-3.45 3.45-3.45-3.45zM398.5 194.45l3.45 3.45-3.45 3.45-3.45-3.45zM420.4 127.65l3.45 3.45-3.45 3.45-3.45-3.45zM449.5 157.65l3.45 3.45-3.45 3.45-3.45-3.45zM274.9 229.35l3.45 3.45-3.45 3.45-3.45-3.45zM372.4 197.75l3.45 3.45-3.45 3.45-3.45-3.45zM487.3 129.75l3.45 3.45-3.45 3.45-3.45-3.45zM531.4 74.15l3.45 3.45-3.45 3.45-3.45-3.45zM449.7 155.55l3.45 3.45-3.45 3.45-3.45-3.45zM465.8 158.05l3.45 3.45-3.45 3.45-3.45-3.45zM207.6 274.05l3.45 3.45-3.45 3.45-3.45-3.45zM290.4 217.35l3.45 3.45-3.45 3.45-3.45-3.45zM199.5 277.25l3.45 3.45-3.45 3.45-3.45-3.45zM492.1 107.75l3.45 3.45-3.45 3.45-3.45-3.45zM375.4 168.85l3.45 3.45-3.45 3.45-3.45-3.45zM319.2 222.95l3.45 3.45-3.45 3.45-3.45-3.45zM496.0 97.15l3.45 3.45-3.45 3.45-3.45-3.45zM452.9 149.05l3.45 3.45-3.45 3.45-3.45-3.45zM222.5 284.85l3.45 3.45-3.45 3.45-3.45-3.45zM410.8 157.65l3.45 3.45-3.45 3.45-3.45-3.45zM436.6 133.05l3.45 3.45-3.45 3.45-3.45-3.45zM272.7 247.45l3.45 3.45-3.45 3.45-3.45-3.45zM370.2 199.75l3.45 3.45-3.45 3.45-3.45-3.45zM305.2 225.25l3.45 3.45-3.45 3.45-3.45-3.45zM456.8 125.05l3.45 3.45-3.45 3.45-3.45-3.45zM358.2 180.05l3.45 3.45-3.45 3.45-3.45-3.45zM321.6 209.75l3.45 3.45-3.45 3.45-3.45-3.45zM431.2 164.35l3.45 3.45-3.45 3.45-3.45-3.45zM545.8 66.65l3.45 3.45-3.45 3.45-3.45-3.45zM494.8 109.25l3.45 3.45-3.45 3.45-3.45-3.45zM529.4 73.95l3.45 3.45-3.45 3.45-3.45-3.45zM462.0 134.65l3.45 3.45-3.45 3.45-3.45-3.45zM507.7 88.65l3.45 3.45-3.45 3.45-3.45-3.45zM474.6 126.55l3.45 3.45-3.45 3.45-3.45-3.45zM405.4 171.55l3.45 3.45-3.45 3.45-3.45-3.45zM324.9 229.95l3.45 3.45-3.45 3.45-3.45-3.45zM339.5 218.85l3.45 3.45-3.45 3.45-3.45-3.45zM342.6 182.05l3.45 3.45-3.45 3.45-3.45-3.45zM305.7 246.25l3.45 3.45-3.45 3.45-3.45-3.45zM413.8 171.45l3.45 3.45-3.45 3.45-3.45-3.45zM389.9 186.15l3.45 3.45-3.45 3.45-3.45-3.45zM381.6 205.65l3.45 3.45-3.45 3.45-3.45-3.45zM490.7 94.55l3.45 3.45-3.45 3.45-3.45-3.45zM522.9 91.05l3.45 3.45-3.45 3.45-3.45-3.45zM464.3 108.75l3.45 3.45-3.45 3.45-3.45-3.45zM328.0 230.45l3.45 3.45-3.45 3.45-3.45-3.45zM396.1 145.25l3.45 3.45-3.45 3.45-3.45-3.45zM409.5 129.85l3.45 3.45-3.45 3.45-3.45-3.45zM290.9 248.25l3.45 3.45-3.45 3.45-3.45-3.45zM317.5 217.65l3.45 3.45-3.45 3.45-3.45-3.45zM474.7 146.15l3.45 3.45-3.45 3.45-3.45-3.45zM533.4 75.85l3.45 3.45-3.45 3.45-3.45-3.45zM443.5 133.95l3.45 3.45-3.45 3.45-3.45-3.45zM441.2 156.45l3.45 3.45-3.45 3.45-3.45-3.45zM484.3 120.85l3.45 3.45-3.45 3.45-3.45-3.45zM520.9 85.15l3.45 3.45-3.45 3.45-3.45-3.45zM392.3 164.35l3.45 3.45-3.45 3.45-3.45-3.45zM448.5 140.05l3.45 3.45-3.45 3.45-3.45-3.45zM476.5 121.15l3.45 3.45-3.45 3.45-3.45-3.45zM195.9 278.15l3.45 3.45-3.45 3.45-3.45-3.45zM382.4 192.25l3.45 3.45-3.45 3.45-3.45-3.45zM536.2 72.85l3.45 3.45-3.45 3.45-3.45-3.45zM502.9 92.05l3.45 3.45-3.45 3.45-3.45-3.45zM331.2 244.55l3.45 3.45-3.45 3.45-3.45-3.45zM367.1 187.15l3.45 3.45-3.45 3.45-3.45-3.45zM366.2 187.65l3.45 3.45-3.45 3.45-3.45-3.45zM493.7 117.95l3.45 3.45-3.45 3.45-3.45-3.45zM356.5 206.35l3.45 3.45-3.45 3.45-3.45-3.45zM479.5 114.45l3.45 3.45-3.45 3.45-3.45-3.45zM472.6 116.75l3.45 3.45-3.45 3.45-3.45-3.45zM336.3 199.25l3.45 3.45-3.45 3.45-3.45-3.45zM433.7 158.35l3.45 3.45-3.45 3.45-3.45-3.45zM431.4 161.55l3.45 3.45-3.45 3.45-3.45-3.45zM490.3 92.75l3.45 3.45-3.45 3.45-3.45-3.45zM495.5 95.55l3.45 3.45-3.45 3.45-3.45-3.45zM369.0 205.05l3.45 3.45-3.45 3.45-3.45-3.45zM363.7 164.25l3.45 3.45-3.45 3.45-3.45-3.45zM374.4 185.55l3.45 3.45-3.45 3.45-3.45-3.45zM253.8 231.65l3.45 3.45-3.45 3.45-3.45-3.45zM346.0 190.95l3.45 3.45-3.45 3.45-3.45-3.45zM344.7 240.75l3.45 3.45-3.45 3.45-3.45-3.45zM276.9 219.35l3.45 3.45-3.45 3.45-3.45-3.45zM383.6 202.45l3.45 3.45-3.45 3.45-3.45-3.45zM365.4 180.25l3.45 3.45-3.45 3.45-3.45-3.45zM452.0 114.55l3.45 3.45-3.45 3.45-3.45-3.45zM545.9 70.55l3.45 3.45-3.45 3.45-3.45-3.45zM286.0 223.65l3.45 3.45-3.45 3.45-3.45-3.45zM446.0 132.05l3.45 3.45-3.45 3.45-3.45-3.45zM540.9 71.45l3.45 3.45-3.45 3.45-3.45-3.45zM545.3 70.85l3.45 3.45-3.45 3.45-3.45-3.45zM271.4 225.55l3.45 3.45-3.45 3.45-3.45-3.45zM347.7 194.25l3.45 3.45-3.45 3.45-3.45-3.45zM488.7 96.65l3.45 3.45-3.45 3.45-3.45-3.45zM456.5 162.45l3.45 3.45-3.45 3.45-3.45-3.45zM418.7 133.65l3.45 3.45-3.45 3.45-3.45-3.45zM473.6 149.45l3.45 3.45-3.45 3.45-3.45-3.45zM259.5 252.65l3.45 3.45-3.45 3.45-3.45-3.45zM503.8 90.45l3.45 3.45-3.45 3.45-3.45-3.45zM333.3 218.25l3.45 3.45-3.45 3.45-3.45-3.45zM351.5 205.45l3.45 3.45-3.45 3.45-3.45-3.45zM459.4 143.35l3.45 3.45-3.45 3.45-3.45-3.45zM296.4 225.15l3.45 3.45-3.45 3.45-3.45-3.45zM436.4 120.45l3.45 3.45-3.45 3.45-3.45-3.45zM325.5 243.15l3.45 3.45-3.45 3.45-3.45-3.45zM402.8 182.45l3.45 3.45-3.45 3.45-3.45-3.45zM325.0 241.65l3.45 3.45-3.45 3.45-3.45-3.45zM494.7 101.95l3.45 3.45-3.45 3.45-3.45-3.45zM456.1 134.35l3.45 3.45-3.45 3.45-3.45-3.45zM326.3 214.15l3.45 3.45-3.45 3.45-3.45-3.45zM431.4 135.25l3.45 3.45-3.45 3.45-3.45-3.45zM413.6 157.35l3.45 3.45-3.45 3.45-3.45-3.45zM470.8 103.95l3.45 3.45-3.45 3.45-3.45-3.45zM358.1 191.25l3.45 3.45-3.45 3.45-3.45-3.45zM411.1 139.05l3.45 3.45-3.45 3.45-3.45-3.45zM371.1 200.55l3.45 3.45-3.45 3.45-3.45-3.45zM411.7 183.05l3.45 3.45-3.45 3.45-3.45-3.45zM553.5 68.05l3.45 3.45-3.45 3.45-3.45-3.45zM515.0 89.75l3.45 3.45-3.45 3.45-3.45-3.45zM477.4 147.25l3.45 3.45-3.45 3.45-3.45-3.45zM444.0 114.85l3.45 3.45-3.45 3.45-3.45-3.45zM523.5 87.35l3.45 3.45-3.45 3.45-3.45-3.45zM454.1 176.85l3.45 3.45-3.45 3.45-3.45-3.45zM455.0 122.45l3.45 3.45-3.45 3.45-3.45-3.45zM439.2 159.65l3.45 3.45-3.45 3.45-3.45-3.45zM459.5 153.05l3.45 3.45-3.45 3.45-3.45-3.45zM342.0 188.65l3.45 3.45-3.45 3.45-3.45-3.45zM359.7 204.05l3.45 3.45-3.45 3.45-3.45-3.45zM432.2 183.55l3.45 3.45-3.45 3.45-3.45-3.45zM523.0 79.45l3.45 3.45-3.45 3.45-3.45-3.45zM291.6 224.05l3.45 3.45-3.45 3.45-3.45-3.45zM333.4 204.55l3.45 3.45-3.45 3.45-3.45-3.45zM507.3 106.85l3.45 3.45-3.45 3.45-3.45-3.45zM453.5 134.15l3.45 3.45-3.45 3.45-3.45-3.45zM468.1 141.45l3.45 3.45-3.45 3.45-3.45-3.45zM451.6 111.85l3.45 3.45-3.45 3.45-3.45-3.45zM414.3 153.55l3.45 3.45-3.45 3.45-3.45-3.45zM433.3 146.95l3.45 3.45-3.45 3.45-3.45-3.45zM336.8 209.25l3.45 3.45-3.45 3.45-3.45-3.45zM306.8 229.95l3.45 3.45-3.45 3.45-3.45-3.45zM406.7 153.75l3.45 3.45-3.45 3.45-3.45-3.45zM478.9 109.55l3.45 3.45-3.45 3.45-3.45-3.45zM504.0 96.15l3.45 3.45-3.45 3.45-3.45-3.45zM410.7 155.95l3.45 3.45-3.45 3.45-3.45-3.45zM430.3 158.55l3.45 3.45-3.45 3.45-3.45-3.45zM337.6 261.45l3.45 3.45-3.45 3.45-3.45-3.45zM454.0 149.85l3.45 3.45-3.45 3.45-3.45-3.45zM381.0 155.65l3.45 3.45-3.45 3.45-3.45-3.45zM395.3 170.65l3.45 3.45-3.45 3.45-3.45-3.45zM318.2 237.85l3.45 3.45-3.45 3.45-3.45-3.45zM288.2 215.85l3.45 3.45-3.45 3.45-3.45-3.45zM385.6 199.85l3.45 3.45-3.45 3.45-3.45-3.45zM384.6 169.85l3.45 3.45-3.45 3.45-3.45-3.45zM519.3 82.75l3.45 3.45-3.45 3.45-3.45-3.45zM294.3 235.95l3.45 3.45-3.45 3.45-3.45-3.45zM421.3 133.45l3.45 3.45-3.45 3.45-3.45-3.45zM348.8 217.15l3.45 3.45-3.45 3.45-3.45-3.45zM477.2 142.25l3.45 3.45-3.45 3.45-3.45-3.45zM419.6 182.45l3.45 3.45-3.45 3.45-3.45-3.45zM434.3 160.45l3.45 3.45-3.45 3.45-3.45-3.45zM367.0 167.05l3.45 3.45-3.45 3.45-3.45-3.45zM507.0 92.55l3.45 3.45-3.45 3.45-3.45-3.45zM279.5 257.35l3.45 3.45-3.45 3.45-3.45-3.45zM335.9 190.75l3.45 3.45-3.45 3.45-3.45-3.45zM308.7 242.75l3.45 3.45-3.45 3.45-3.45-3.45zM345.4 192.65l3.45 3.45-3.45 3.45-3.45-3.45zM409.9 194.65l3.45 3.45-3.45 3.45-3.45-3.45zM524.8 78.95l3.45 3.45-3.45 3.45-3.45-3.45zM423.4 155.95l3.45 3.45-3.45 3.45-3.45-3.45zM310.9 250.45l3.45 3.45-3.45 3.45-3.45-3.45zM439.2 138.75l3.45 3.45-3.45 3.45-3.45-3.45zM470.6 128.05l3.45 3.45-3.45 3.45-3.45-3.45zM382.6 165.95l3.45 3.45-3.45 3.45-3.45-3.45zM528.5 77.75l3.45 3.45-3.45 3.45-3.45-3.45zM247.9 249.75l3.45 3.45-3.45 3.45-3.45-3.45zM476.2 118.55l3.45 3.45-3.45 3.45-3.45-3.45zM464.0 160.45l3.45 3.45-3.45 3.45-3.45-3.45zM378.1 195.95l3.45 3.45-3.45 3.45-3.45-3.45zM236.2 253.75l3.45 3.45-3.45 3.45-3.45-3.45zM389.7 196.85l3.45 3.45-3.45 3.45-3.45-3.45zM283.0 243.25l3.45 3.45-3.45 3.45-3.45-3.45zM250.2 235.95l3.45 3.45-3.45 3.45-3.45-3.45zM349.6 203.25l3.45 3.45-3.45 3.45-3.45-3.45zM420.7 139.95l3.45 3.45-3.45 3.45-3.45-3.45zM483.8 123.35l3.45 3.45-3.45 3.45-3.45-3.45zM480.6 109.15l3.45 3.45-3.45 3.45-3.45-3.45zM313.6 221.05l3.45 3.45-3.45 3.45-3.45-3.45zM424.0 126.95l3.45 3.45-3.45 3.45-3.45-3.45zM325.5 237.65l3.45 3.45-3.45 3.45-3.45-3.45zM225.6 264.05l3.45 3.45-3.45 3.45-3.45-3.45zM411.6 166.95l3.45 3.45-3.45 3.45-3.45-3.45zM295.1 247.85l3.45 3.45-3.45 3.45-3.45-3.45zM476.8 122.75l3.45 3.45-3.45 3.45-3.45-3.45zM453.1 128.85l3.45 3.45-3.45 3.45-3.45-3.45zM278.3 234.95l3.45 3.45-3.45 3.45-3.45-3.45zM494.7 120.45l3.45 3.45-3.45 3.45-3.45-3.45zM372.9 154.45l3.45 3.45-3.45 3.45-3.45-3.45zM518.5 85.05l3.45 3.45-3.45 3.45-3.45-3.45zM358.7 210.85l3.45 3.45-3.45 3.45-3.45-3.45zM432.9 163.35l3.45 3.45-3.45 3.45-3.45-3.45zM560.6 61.35l3.45 3.45-3.45 3.45-3.45-3.45zM287.5 213.35l3.45 3.45-3.45 3.45-3.45-3.45zM427.2 133.85l3.45 3.45-3.45 3.45-3.45-3.45zM425.8 149.45l3.45 3.45-3.45 3.45-3.45-3.45zM478.7 133.65l3.45 3.45-3.45 3.45-3.45-3.45zM433.6 128.95l3.45 3.45-3.45 3.45-3.45-3.45zM327.3 217.45l3.45 3.45-3.45 3.45-3.45-3.45zM336.0 230.55l3.45 3.45-3.45 3.45-3.45-3.45zM476.2 101.15l3.45 3.45-3.45 3.45-3.45-3.45zM476.4 145.05l3.45 3.45-3.45 3.45-3.45-3.45zM456.2 113.95l3.45 3.45-3.45 3.45-3.45-3.45zM492.1 112.65l3.45 3.45-3.45 3.45-3.45-3.45zM380.3 175.05l3.45 3.45-3.45 3.45-3.45-3.45zM269.5 245.65l3.45 3.45-3.45 3.45-3.45-3.45zM447.8 127.85l3.45 3.45-3.45 3.45-3.45-3.45zM458.7 141.95l3.45 3.45-3.45 3.45-3.45-3.45zM325.1 255.85l3.45 3.45-3.45 3.45-3.45-3.45zM505.8 92.05l3.45 3.45-3.45 3.45-3.45-3.45zM390.4 164.65l3.45 3.45-3.45 3.45-3.45-3.45zM248.6 237.05l3.45 3.45-3.45 3.45-3.45-3.45zM425.0 158.35l3.45 3.45-3.45 3.45-3.45-3.45zM514.6 96.65l3.45 3.45-3.45 3.45-3.45-3.45zM526.1 72.25l3.45 3.45-3.45 3.45-3.45-3.45zM319.6 246.25l3.45 3.45-3.45 3.45-3.45-3.45zM290.6 238.25l3.45 3.45-3.45 3.45-3.45-3.45zM522.1 85.85l3.45 3.45-3.45 3.45-3.45-3.45zM450.7 151.65l3.45 3.45-3.45 3.45-3.45-3.45zM353.0 199.45l3.45 3.45-3.45 3.45-3.45-3.45zM519.6 79.25l3.45 3.45-3.45 3.45-3.45-3.45zM477.5 101.95l3.45 3.45-3.45 3.45-3.45-3.45zM432.0 120.65l3.45 3.45-3.45 3.45-3.45-3.45zM396.3 174.65l3.45 3.45-3.45 3.45-3.45-3.45zM523.5 80.55l3.45 3.45-3.45 3.45-3.45-3.45zM551.0 66.55l3.45 3.45-3.45 3.45-3.45-3.45zM492.4 84.95l3.45 3.45-3.45 3.45-3.45-3.45zM474.6 92.95l3.45 3.45-3.45 3.45-3.45-3.45zM330.9 210.05l3.45 3.45-3.45 3.45-3.45-3.45zM289.4 226.05l3.45 3.45-3.45 3.45-3.45-3.45zM405.9 166.85l3.45 3.45-3.45 3.45-3.45-3.45zM402.9 188.95l3.45 3.45-3.45 3.45-3.45-3.45zM334.3 246.25l3.45 3.45-3.45 3.45-3.45-3.45zM384.3 178.65l3.45 3.45-3.45 3.45-3.45-3.45zM481.1 102.85l3.45 3.45-3.45 3.45-3.45-3.45zM480.6 102.25l3.45 3.45-3.45 3.45-3.45-3.45zM347.5 191.05l3.45 3.45-3.45 3.45-3.45-3.45zM327.2 228.35l3.45 3.45-3.45 3.45-3.45-3.45zM484.8 111.45l3.45 3.45-3.45 3.45-3.45-3.45zM258.3 234.55l3.45 3.45-3.45 3.45-3.45-3.45zM355.1 193.65l3.45 3.45-3.45 3.45-3.45-3.45zM471.1 139.15l3.45 3.45-3.45 3.45-3.45-3.45zM407.5 177.45l3.45 3.45-3.45 3.45-3.45-3.45zM258.8 228.55l3.45 3.45-3.45 3.45-3.45-3.45zM293.9 227.65l3.45 3.45-3.45 3.45-3.45-3.45zM414.8 143.25l3.45 3.45-3.45 3.45-3.45-3.45zM386.1 154.35l3.45 3.45-3.45 3.45-3.45-3.45zM550.3 68.85l3.45 3.45-3.45 3.45-3.45-3.45zM350.3 208.95l3.45 3.45-3.45 3.45-3.45-3.45zM381.0 171.95l3.45 3.45-3.45 3.45-3.45-3.45zM372.5 197.05l3.45 3.45-3.45 3.45-3.45-3.45zM453.6 147.05l3.45 3.45-3.45 3.45-3.45-3.45zM386.4 179.05l3.45 3.45-3.45 3.45-3.45-3.45zM414.2 161.25l3.45 3.45-3.45 3.45-3.45-3.45zM391.1 141.25l3.45 3.45-3.45 3.45-3.45-3.45zM369.6 185.45l3.45 3.45-3.45 3.45-3.45-3.45zM276.4 218.85l3.45 3.45-3.45 3.45-3.45-3.45zM439.1 143.75l3.45 3.45-3.45 3.45-3.45-3.45zM347.5 179.55l3.45 3.45-3.45 3.45-3.45-3.45zM194.1 293.15l3.45 3.45-3.45 3.45-3.45-3.45zM392.6 198.55l3.45 3.45-3.45 3.45-3.45-3.45zM486.7 102.05l3.45 3.45-3.45 3.45-3.45-3.45zM473.4 128.25l3.45 3.45-3.45 3.45-3.45-3.45zM340.4 235.65l3.45 3.45-3.45 3.45-3.45-3.45zM468.4 157.75l3.45 3.45-3.45 3.45-3.45-3.45zM471.6 118.15l3.45 3.45-3.45 3.45-3.45-3.45zM339.0 207.95l3.45 3.45-3.45 3.45-3.45-3.45zM305.1 239.25l3.45 3.45-3.45 3.45-3.45-3.45zM363.0 172.95l3.45 3.45-3.45 3.45-3.45-3.45zM459.1 120.05l3.45 3.45-3.45 3.45-3.45-3.45zM409.7 150.15l3.45 3.45-3.45 3.45-3.45-3.45zM501.9 81.85l3.45 3.45-3.45 3.45-3.45-3.45zM447.0 129.25l3.45 3.45-3.45 3.45-3.45-3.45zM520.1 82.85l3.45 3.45-3.45 3.45-3.45-3.45zM343.6 196.15l3.45 3.45-3.45 3.45-3.45-3.45zM435.5 146.25l3.45 3.45-3.45 3.45-3.45-3.45zM421.2 139.45l3.45 3.45-3.45 3.45-3.45-3.45zM465.5 137.65l3.45 3.45-3.45 3.45-3.45-3.45zM267.0 231.85l3.45 3.45-3.45 3.45-3.45-3.45zM549.7 67.15l3.45 3.45-3.45 3.45-3.45-3.45zM271.9 228.95l3.45 3.45-3.45 3.45-3.45-3.45zM492.5 96.85l3.45 3.45-3.45 3.45-3.45-3.45zM440.7 130.15l3.45 3.45-3.45 3.45-3.45-3.45zM216.6 289.15l3.45 3.45-3.45 3.45-3.45-3.45zM393.5 200.25l3.45 3.45-3.45 3.45-3.45-3.45zM446.1 125.45l3.45 3.45-3.45 3.45-3.45-3.45zM472.2 99.25l3.45 3.45-3.45 3.45-3.45-3.45zM427.0 180.85l3.45 3.45-3.45 3.45-3.45-3.45zM412.5 156.55l3.45 3.45-3.45 3.45-3.45-3.45zM266.0 225.05l3.45 3.45-3.45 3.45-3.45-3.45zM394.5 153.15l3.45 3.45-3.45 3.45-3.45-3.45zM437.1 140.85l3.45 3.45-3.45 3.45-3.45-3.45zM348.9 221.15l3.45 3.45-3.45 3.45-3.45-3.45zM538.0 80.95l3.45 3.45-3.45 3.45-3.45-3.45zM366.7 172.95l3.45 3.45-3.45 3.45-3.45-3.45zM347.9 198.45l3.45 3.45-3.45 3.45-3.45-3.45zM310.6 230.95l3.45 3.45-3.45 3.45-3.45-3.45zM306.4 200.25l3.45 3.45-3.45 3.45-3.45-3.45zM381.0 189.35l3.45 3.45-3.45 3.45-3.45-3.45zM387.0 163.05l3.45 3.45-3.45 3.45-3.45-3.45zM480.8 129.15l3.45 3.45-3.45 3.45-3.45-3.45zM324.7 197.25l3.45 3.45-3.45 3.45-3.45-3.45zM470.8 105.55l3.45 3.45-3.45 3.45-3.45-3.45zM359.4 206.25l3.45 3.45-3.45 3.45-3.45-3.45zM418.8 174.25l3.45 3.45-3.45 3.45-3.45-3.45zM424.4 118.95l3.45 3.45-3.45 3.45-3.45-3.45zM293.3 226.85l3.45 3.45-3.45 3.45-3.45-3.45zM462.4 116.95l3.45 3.45-3.45 3.45-3.45-3.45zM357.1 198.05l3.45 3.45-3.45 3.45-3.45-3.45zM253.5 228.45l3.45 3.45-3.45 3.45-3.45-3.45zM485.5 126.25l3.45 3.45-3.45 3.45-3.45-3.45zM347.4 194.65l3.45 3.45-3.45 3.45-3.45-3.45zM550.0 71.55l3.45 3.45-3.45 3.45-3.45-3.45zM394.7 162.15l3.45 3.45-3.45 3.45-3.45-3.45zM354.2 222.75l3.45 3.45-3.45 3.45-3.45-3.45zM402.7 158.55l3.45 3.45-3.45 3.45-3.45-3.45zM424.2 180.75l3.45 3.45-3.45 3.45-3.45-3.45zM339.0 226.35l3.45 3.45-3.45 3.45-3.45-3.45zM365.3 158.35l3.45 3.45-3.45 3.45-3.45-3.45zM338.4 206.45l3.45 3.45-3.45 3.45-3.45-3.45zM372.0 154.45l3.45 3.45-3.45 3.45-3.45-3.45zM467.4 162.35l3.45 3.45-3.45 3.45-3.45-3.45zM344.8 177.55l3.45 3.45-3.45 3.45-3.45-3.45zM486.4 120.85l3.45 3.45-3.45 3.45-3.45-3.45zM514.3 78.55l3.45 3.45-3.45 3.45-3.45-3.45zM491.6 118.55l3.45 3.45-3.45 3.45-3.45-3.45zM493.0 100.05l3.45 3.45-3.45 3.45-3.45-3.45zM361.5 166.05l3.45 3.45-3.45 3.45-3.45-3.45zM374.2 167.55l3.45 3.45-3.45 3.45-3.45-3.45zM510.3 82.35l3.45 3.45-3.45 3.45-3.45-3.45zM441.8 137.15l3.45 3.45-3.45 3.45-3.45-3.45zM409.1 138.15l3.45 3.45-3.45 3.45-3.45-3.45zM356.0 168.85l3.45 3.45-3.45 3.45-3.45-3.45zM358.7 167.55l3.45 3.45-3.45 3.45-3.45-3.45zM498.7 105.85l3.45 3.45-3.45 3.45-3.45-3.45zM488.6 94.75l3.45 3.45-3.45 3.45-3.45-3.45zM339.1 195.45l3.45 3.45-3.45 3.45-3.45-3.45zM528.2 73.95l3.45 3.45-3.45 3.45-3.45-3.45zM447.8 131.75l3.45 3.45-3.45 3.45-3.45-3.45zM420.6 140.55l3.45 3.45-3.45 3.45-3.45-3.45zM426.7 139.45l3.45 3.45-3.45 3.45-3.45-3.45zM425.1 143.85l3.45 3.45-3.45 3.45-3.45-3.45zM456.0 174.25l3.45 3.45-3.45 3.45-3.45-3.45zM411.2 157.75l3.45 3.45-3.45 3.45-3.45-3.45zM449.9 149.85l3.45 3.45-3.45 3.45-3.45-3.45zM412.7 169.95l3.45 3.45-3.45 3.45-3.45-3.45zM457.8 120.35l3.45 3.45-3.45 3.45-3.45-3.45zM468.4 96.45l3.45 3.45-3.45 3.45-3.45-3.45zM304.6 242.95l3.45 3.45-3.45 3.45-3.45-3.45zM430.9 176.35l3.45 3.45-3.45 3.45-3.45-3.45zM511.6 86.25l3.45 3.45-3.45 3.45-3.45-3.45zM469.5 138.65l3.45 3.45-3.45 3.45-3.45-3.45zM487.6 136.25l3.45 3.45-3.45 3.45-3.45-3.45zM278.9 212.65l3.45 3.45-3.45 3.45-3.45-3.45zM346.6 196.45l3.45 3.45-3.45 3.45-3.45-3.45zM404.0 140.25l3.45 3.45-3.45 3.45-3.45-3.45zM533.1 85.75l3.45 3.45-3.45 3.45-3.45-3.45zM477.7 125.55l3.45 3.45-3.45 3.45-3.45-3.45zM406.3 152.95l3.45 3.45-3.45 3.45-3.45-3.45zM359.8 230.15l3.45 3.45-3.45 3.45-3.45-3.45zM234.9 261.45l3.45 3.45-3.45 3.45-3.45-3.45zM470.6 123.85l3.45 3.45-3.45 3.45-3.45-3.45zM434.5 132.55l3.45 3.45-3.45 3.45-3.45-3.45zM314.7 225.65l3.45 3.45-3.45 3.45-3.45-3.45zM466.9 98.35l3.45 3.45-3.45 3.45-3.45-3.45zM485.5 113.75l3.45 3.45-3.45 3.45-3.45-3.45zM381.2 182.25l3.45 3.45-3.45 3.45-3.45-3.45zM422.5 121.05l3.45 3.45-3.45 3.45-3.45-3.45zM468.3 114.85l3.45 3.45-3.45 3.45-3.45-3.45zM561.1 60.95l3.45 3.45-3.45 3.45-3.45-3.45zM475.2 93.45l3.45 3.45-3.45 3.45-3.45-3.45zM463.9 125.95l3.45 3.45-3.45 3.45-3.45-3.45zM438.0 129.95l3.45 3.45-3.45 3.45-3.45-3.45zM332.7 230.35l3.45 3.45-3.45 3.45-3.45-3.45zM480.0 121.45l3.45 3.45-3.45 3.45-3.45-3.45zM372.5 191.05l3.45 3.45-3.45 3.45-3.45-3.45zM403.0 181.95l3.45 3.45-3.45 3.45-3.45-3.45zM398.2 210.55l3.45 3.45-3.45 3.45-3.45-3.45zM263.3 241.45l3.45 3.45-3.45 3.45-3.45-3.45zM309.7 235.75l3.45 3.45-3.45 3.45-3.45-3.45zM483.4 135.75l3.45 3.45-3.45 3.45-3.45-3.45zM534.6 90.85l3.45 3.45-3.45 3.45-3.45-3.45zM490.1 125.05l3.45 3.45-3.45 3.45-3.45-3.45zM444.0 137.15l3.45 3.45-3.45 3.45-3.45-3.45zM545.0 62.55l3.45 3.45-3.45 3.45-3.45-3.45zM497.9 90.25l3.45 3.45-3.45 3.45-3.45-3.45zM329.9 187.05l3.45 3.45-3.45 3.45-3.45-3.45zM509.9 85.65l3.45 3.45-3.45 3.45-3.45-3.45zM342.4 221.15l3.45 3.45-3.45 3.45-3.45-3.45zM293.2 241.15l3.45 3.45-3.45 3.45-3.45-3.45zM375.0 190.95l3.45 3.45-3.45 3.45-3.45-3.45zM465.8 112.95l3.45 3.45-3.45 3.45-3.45-3.45zM499.9 112.25l3.45 3.45-3.45 3.45-3.45-3.45zM529.1 80.25l3.45 3.45-3.45 3.45-3.45-3.45zM318.2 201.75l3.45 3.45-3.45 3.45-3.45-3.45zM312.6 217.15l3.45 3.45-3.45 3.45-3.45-3.45zM223.9 253.85l3.45 3.45-3.45 3.45-3.45-3.45zM355.4 191.35l3.45 3.45-3.45 3.45-3.45-3.45zM478.6 132.15l3.45 3.45-3.45 3.45-3.45-3.45zM364.6 201.25l3.45 3.45-3.45 3.45-3.45-3.45zM334.3 220.05l3.45 3.45-3.45 3.45-3.45-3.45zM278.4 230.15l3.45 3.45-3.45 3.45-3.45-3.45zM440.4 134.95l3.45 3.45-3.45 3.45-3.45-3.45zM380.0 199.55l3.45 3.45-3.45 3.45-3.45-3.45zM455.0 149.75l3.45 3.45-3.45 3.45-3.45-3.45zM213.0 269.35l3.45 3.45-3.45 3.45-3.45-3.45zM260.5 233.15l3.45 3.45-3.45 3.45-3.45-3.45zM347.1 212.55l3.45 3.45-3.45 3.45-3.45-3.45zM350.8 186.25l3.45 3.45-3.45 3.45-3.45-3.45zM482.2 126.25l3.45 3.45-3.45 3.45-3.45-3.45zM483.6 107.65l3.45 3.45-3.45 3.45-3.45-3.45zM451.8 119.45l3.45 3.45-3.45 3.45-3.45-3.45zM416.6 130.95l3.45 3.45-3.45 3.45-3.45-3.45zM432.5 157.65l3.45 3.45-3.45 3.45-3.45-3.45zM353.8 220.15l3.45 3.45-3.45 3.45-3.45-3.45zM388.7 160.75l3.45 3.45-3.45 3.45-3.45-3.45zM429.9 153.25l3.45 3.45-3.45 3.45-3.45-3.45zM468.8 115.85l3.45 3.45-3.45 3.45-3.45-3.45zM410.0 167.65l3.45 3.45-3.45 3.45-3.45-3.45zM279.2 224.95l3.45 3.45-3.45 3.45-3.45-3.45zM335.4 215.45l3.45 3.45-3.45 3.45-3.45-3.45zM385.9 186.95l3.45 3.45-3.45 3.45-3.45-3.45zM445.8 146.95l3.45 3.45-3.45 3.45-3.45-3.45zM504.1 90.15l3.45 3.45-3.45 3.45-3.45-3.45zM295.2 208.05l3.45 3.45-3.45 3.45-3.45-3.45zM528.7 74.65l3.45 3.45-3.45 3.45-3.45-3.45zM499.0 117.25l3.45 3.45-3.45 3.45-3.45-3.45zM350.4 208.85l3.45 3.45-3.45 3.45-3.45-3.45zM471.2 129.55l3.45 3.45-3.45 3.45-3.45-3.45zM481.4 117.95l3.45 3.45-3.45 3.45-3.45-3.45zM391.7 184.25l3.45 3.45-3.45 3.45-3.45-3.45zM330.1 229.75l3.45 3.45-3.45 3.45-3.45-3.45zM435.8 142.95l3.45 3.45-3.45 3.45-3.45-3.45zM496.5 108.15l3.45 3.45-3.45 3.45-3.45-3.45zM293.1 235.35l3.45 3.45-3.45 3.45-3.45-3.45zM222.2 259.75l3.45 3.45-3.45 3.45-3.45-3.45zM345.2 192.25l3.45 3.45-3.45 3.45-3.45-3.45zM511.8 94.75l3.45 3.45-3.45 3.45-3.45-3.45zM491.0 125.95l3.45 3.45-3.45 3.45-3.45-3.45zM537.4 69.95l3.45 3.45-3.45 3.45-3.45-3.45zM386.0 163.05l3.45 3.45-3.45 3.45-3.45-3.45zM399.4 150.25l3.45 3.45-3.45 3.45-3.45-3.45zM392.0 185.95l3.45 3.45-3.45 3.45-3.45-3.45zM496.2 98.65l3.45 3.45-3.45 3.45-3.45-3.45zM329.5 247.65l3.45 3.45-3.45 3.45-3.45-3.45zM270.1 242.95l3.45 3.45-3.45 3.45-3.45-3.45zM225.2 272.15l3.45 3.45-3.45 3.45-3.45-3.45zM415.7 141.45l3.45 3.45-3.45 3.45-3.45-3.45zM493.7 115.85l3.45 3.45-3.45 3.45-3.45-3.45zM407.4 174.55l3.45 3.45-3.45 3.45-3.45-3.45zM483.1 96.15l3.45 3.45-3.45 3.45-3.45-3.45zM371.9 201.55l3.45 3.45-3.45 3.45-3.45-3.45zM438.9 119.15l3.45 3.45-3.45 3.45-3.45-3.45zM425.9 146.45l3.45 3.45-3.45 3.45-3.45-3.45zM413.8 201.35l3.45 3.45-3.45 3.45-3.45-3.45zM389.1 194.75l3.45 3.45-3.45 3.45-3.45-3.45zM347.0 189.25l3.45 3.45-3.45 3.45-3.45-3.45zM396.5 155.65l3.45 3.45-3.45 3.45-3.45-3.45zM333.8 193.15l3.45 3.45-3.45 3.45-3.45-3.45zM470.0 118.95l3.45 3.45-3.45 3.45-3.45-3.45zM318.7 203.65l3.45 3.45-3.45 3.45-3.45-3.45zM489.6 97.35l3.45 3.45-3.45 3.45-3.45-3.45zM514.6 74.75l3.45 3.45-3.45 3.45-3.45-3.45zM446.7 118.15l3.45 3.45-3.45 3.45-3.45-3.45zM429.0 166.95l3.45 3.45-3.45 3.45-3.45-3.45zM374.6 205.75l3.45 3.45-3.45 3.45-3.45-3.45zM364.4 184.85l3.45 3.45-3.45 3.45-3.45-3.45zM503.6 94.35l3.45 3.45-3.45 3.45-3.45-3.45zM446.0 124.55l3.45 3.45-3.45 3.45-3.45-3.45zM378.3 183.95l3.45 3.45-3.45 3.45-3.45-3.45zM265.3 219.85l3.45 3.45-3.45 3.45-3.45-3.45zM529.1 70.65l3.45 3.45-3.45 3.45-3.45-3.45zM514.1 80.55l3.45 3.45-3.45 3.45-3.45-3.45zM387.7 216.95l3.45 3.45-3.45 3.45-3.45-3.45zM354.1 185.35l3.45 3.45-3.45 3.45-3.45-3.45zM408.7 153.45l3.45 3.45-3.45 3.45-3.45-3.45zM299.7 230.45l3.45 3.45-3.45 3.45-3.45-3.45zM473.9 120.15l3.45 3.45-3.45 3.45-3.45-3.45zM527.1 89.55l3.45 3.45-3.45 3.45-3.45-3.45zM451.8 140.05l3.45 3.45-3.45 3.45-3.45-3.45zM546.0 73.15l3.45 3.45-3.45 3.45-3.45-3.45zM397.5 157.15l3.45 3.45-3.45 3.45-3.45-3.45zM445.1 126.15l3.45 3.45-3.45 3.45-3.45-3.45zM359.2 199.75l3.45 3.45-3.45 3.45-3.45-3.45zM359.5 210.65l3.45 3.45-3.45 3.45-3.45-3.45zM531.3 87.95l3.45 3.45-3.45 3.45-3.45-3.45zM438.6 174.75l3.45 3.45-3.45 3.45-3.45-3.45zM407.8 130.15l3.45 3.45-3.45 3.45-3.45-3.45zM508.6 97.35l3.45 3.45-3.45 3.45-3.45-3.45zM402.9 174.45l3.45 3.45-3.45 3.45-3.45-3.45zM450.2 134.65l3.45 3.45-3.45 3.45-3.45-3.45zM357.0 173.95l3.45 3.45-3.45 3.45-3.45-3.45zM436.8 159.85l3.45 3.45-3.45 3.45-3.45-3.45zM324.6 215.15l3.45 3.45-3.45 3.45-3.45-3.45zM418.1 168.15l3.45 3.45-3.45 3.45-3.45-3.45zM438.3 153.65l3.45 3.45-3.45 3.45-3.45-3.45zM361.9 208.05l3.45 3.45-3.45 3.45-3.45-3.45zM413.0 152.25l3.45 3.45-3.45 3.45-3.45-3.45zM384.0 214.35l3.45 3.45-3.45 3.45-3.45-3.45zM511.6 105.55l3.45 3.45-3.45 3.45-3.45-3.45zM332.0 206.05l3.45 3.45-3.45 3.45-3.45-3.45zM509.4 79.75l3.45 3.45-3.45 3.45-3.45-3.45zM503.5 82.15l3.45 3.45-3.45 3.45-3.45-3.45zM410.6 141.15l3.45 3.45-3.45 3.45-3.45-3.45zM472.1 134.55l3.45 3.45-3.45 3.45-3.45-3.45zM380.3 216.95l3.45 3.45-3.45 3.45-3.45-3.45zM364.8 167.75l3.45 3.45-3.45 3.45-3.45-3.45zM517.6 93.95l3.45 3.45-3.45 3.45-3.45-3.45zM513.2 94.35l3.45 3.45-3.45 3.45-3.45-3.45zM334.8 216.85l3.45 3.45-3.45 3.45-3.45-3.45zM467.0 126.65l3.45 3.45-3.45 3.45-3.45-3.45zM447.0 172.55l3.45 3.45-3.45 3.45-3.45-3.45zM467.2 97.25l3.45 3.45-3.45 3.45-3.45-3.45zM328.2 207.95l3.45 3.45-3.45 3.45-3.45-3.45zM446.0 163.05l3.45 3.45-3.45 3.45-3.45-3.45zM466.3 129.55l3.45 3.45-3.45 3.45-3.45-3.45zM466.9 158.65l3.45 3.45-3.45 3.45-3.45-3.45zM410.1 147.35l3.45 3.45-3.45 3.45-3.45-3.45zM444.9 134.65l3.45 3.45-3.45 3.45-3.45-3.45zM437.3 178.65l3.45 3.45-3.45 3.45-3.45-3.45zM315.2 230.05l3.45 3.45-3.45 3.45-3.45-3.45zM451.0 128.35l3.45 3.45-3.45 3.45-3.45-3.45zM474.6 129.75l3.45 3.45-3.45 3.45-3.45-3.45zM381.5 197.95l3.45 3.45-3.45 3.45-3.45-3.45zM326.0 221.45l3.45 3.45-3.45 3.45-3.45-3.45zM502.2 92.85l3.45 3.45-3.45 3.45-3.45-3.45zM334.1 228.05l3.45 3.45-3.45 3.45-3.45-3.45zM289.4 214.55l3.45 3.45-3.45 3.45-3.45-3.45zM378.8 149.85l3.45 3.45-3.45 3.45-3.45-3.45zM481.6 97.35l3.45 3.45-3.45 3.45-3.45-3.45zM442.3 145.35l3.45 3.45-3.45 3.45-3.45-3.45zM315.7 220.45l3.45 3.45-3.45 3.45-3.45-3.45zM441.8 151.85l3.45 3.45-3.45 3.45-3.45-3.45zM305.0 242.65l3.45 3.45-3.45 3.45-3.45-3.45zM254.9 222.45l3.45 3.45-3.45 3.45-3.45-3.45zM374.2 208.55l3.45 3.45-3.45 3.45-3.45-3.45zM378.7 218.35l3.45 3.45-3.45 3.45-3.45-3.45zM368.2 169.45l3.45 3.45-3.45 3.45-3.45-3.45zM311.5 238.65l3.45 3.45-3.45 3.45-3.45-3.45zM335.6 212.45l3.45 3.45-3.45 3.45-3.45-3.45zM451.1 126.35l3.45 3.45-3.45 3.45-3.45-3.45zM406.3 153.35l3.45 3.45-3.45 3.45-3.45-3.45zM464.3 136.85l3.45 3.45-3.45 3.45-3.45-3.45zM483.2 100.25l3.45 3.45-3.45 3.45-3.45-3.45zM467.0 137.45l3.45 3.45-3.45 3.45-3.45-3.45zM340.6 229.55l3.45 3.45-3.45 3.45-3.45-3.45zM270.3 262.15l3.45 3.45-3.45 3.45-3.45-3.45zM460.8 145.95l3.45 3.45-3.45 3.45-3.45-3.45zM350.9 199.45l3.45 3.45-3.45 3.45-3.45-3.45zM425.2 163.35l3.45 3.45-3.45 3.45-3.45-3.45zM536.0 88.95l3.45 3.45-3.45 3.45-3.45-3.45zM473.1 166.05l3.45 3.45-3.45 3.45-3.45-3.45zM368.8 183.55l3.45 3.45-3.45 3.45-3.45-3.45zM465.7 141.15l3.45 3.45-3.45 3.45-3.45-3.45zM317.4 226.25l3.45 3.45-3.45 3.45-3.45-3.45zM269.5 228.85l3.45 3.45-3.45 3.45-3.45-3.45zM491.8 117.75l3.45 3.45-3.45 3.45-3.45-3.45zM513.9 95.95l3.45 3.45-3.45 3.45-3.45-3.45zM460.9 134.65l3.45 3.45-3.45 3.45-3.45-3.45zM420.2 134.95l3.45 3.45-3.45 3.45-3.45-3.45zM538.3 77.65l3.45 3.45-3.45 3.45-3.45-3.45zM383.7 187.95l3.45 3.45-3.45 3.45-3.45-3.45zM491.3 82.75l3.45 3.45-3.45 3.45-3.45-3.45zM478.9 93.35l3.45 3.45-3.45 3.45-3.45-3.45zM373.9 166.15l3.45 3.45-3.45 3.45-3.45-3.45zM328.2 247.65l3.45 3.45-3.45 3.45-3.45-3.45zM378.5 190.45l3.45 3.45-3.45 3.45-3.45-3.45zM321.9 214.15l3.45 3.45-3.45 3.45-3.45-3.45zM345.3 210.55l3.45 3.45-3.45 3.45-3.45-3.45zM399.5 149.65l3.45 3.45-3.45 3.45-3.45-3.45zM387.8 188.95l3.45 3.45-3.45 3.45-3.45-3.45zM490.6 91.95l3.45 3.45-3.45 3.45-3.45-3.45zM522.6 77.45l3.45 3.45-3.45 3.45-3.45-3.45zM464.6 126.95l3.45 3.45-3.45 3.45-3.45-3.45zM524.0 89.05l3.45 3.45-3.45 3.45-3.45-3.45zM233.9 264.05l3.45 3.45-3.45 3.45-3.45-3.45zM422.5 131.25l3.45 3.45-3.45 3.45-3.45-3.45zM252.9 245.35l3.45 3.45-3.45 3.45-3.45-3.45zM469.9 165.95l3.45 3.45-3.45 3.45-3.45-3.45zM542.4 62.45l3.45 3.45-3.45 3.45-3.45-3.45zM436.0 150.45l3.45 3.45-3.45 3.45-3.45-3.45zM513.4 91.05l3.45 3.45-3.45 3.45-3.45-3.45zM436.2 138.45l3.45 3.45-3.45 3.45-3.45-3.45zM552.4 65.55l3.45 3.45-3.45 3.45-3.45-3.45zM401.4 171.95l3.45 3.45-3.45 3.45-3.45-3.45zM491.9 90.95l3.45 3.45-3.45 3.45-3.45-3.45zM454.8 150.65l3.45 3.45-3.45 3.45-3.45-3.45zM421.6 159.75l3.45 3.45-3.45 3.45-3.45-3.45zM435.0 167.75l3.45 3.45-3.45 3.45-3.45-3.45zM399.5 174.55l3.45 3.45-3.45 3.45-3.45-3.45zM551.2 67.55l3.45 3.45-3.45 3.45-3.45-3.45zM333.6 185.25l3.45 3.45-3.45 3.45-3.45-3.45zM466.1 143.55l3.45 3.45-3.45 3.45-3.45-3.45zM479.5 131.75l3.45 3.45-3.45 3.45-3.45-3.45zM287.0 250.35l3.45 3.45-3.45 3.45-3.45-3.45zM333.8 215.95l3.45 3.45-3.45 3.45-3.45-3.45zM291.1 245.85l3.45 3.45-3.45 3.45-3.45-3.45zM397.0 170.95l3.45 3.45-3.45 3.45-3.45-3.45zM482.1 130.35l3.45 3.45-3.45 3.45-3.45-3.45zM380.0 167.75l3.45 3.45-3.45 3.45-3.45-3.45zM514.1 84.75l3.45 3.45-3.45 3.45-3.45-3.45zM424.3 138.05l3.45 3.45-3.45 3.45-3.45-3.45zM287.9 207.95l3.45 3.45-3.45 3.45-3.45-3.45zM541.7 67.35l3.45 3.45-3.45 3.45-3.45-3.45zM257.8 222.05l3.45 3.45-3.45 3.45-3.45-3.45zM476.7 129.65l3.45 3.45-3.45 3.45-3.45-3.45zM402.7 179.15l3.45 3.45-3.45 3.45-3.45-3.45zM313.8 241.25l3.45 3.45-3.45 3.45-3.45-3.45zM443.8 129.25l3.45 3.45-3.45 3.45-3.45-3.45zM377.0 176.85l3.45 3.45-3.45 3.45-3.45-3.45zM442.9 139.35l3.45 3.45-3.45 3.45-3.45-3.45zM326.7 211.35l3.45 3.45-3.45 3.45-3.45-3.45zM308.2 248.85l3.45 3.45-3.45 3.45-3.45-3.45zM350.5 202.35l3.45 3.45-3.45 3.45-3.45-3.45zM393.7 160.85l3.45 3.45-3.45 3.45-3.45-3.45zM440.0 149.65l3.45 3.45-3.45 3.45-3.45-3.45zM450.9 150.45l3.45 3.45-3.45 3.45-3.45-3.45zM412.1 168.85l3.45 3.45-3.45 3.45-3.45-3.45zM410.0 193.65l3.45 3.45-3.45 3.45-3.45-3.45zM497.8 89.95l3.45 3.45-3.45 3.45-3.45-3.45zM409.2 182.75l3.45 3.45-3.45 3.45-3.45-3.45zM402.6 152.15l3.45 3.45-3.45 3.45-3.45-3.45zM310.0 214.95l3.45 3.45-3.45 3.45-3.45-3.45zM474.8 145.55l3.45 3.45-3.45 3.45-3.45-3.45zM427.1 133.95l3.45 3.45-3.45 3.45-3.45-3.45zM449.8 133.45l3.45 3.45-3.45 3.45-3.45-3.45zM418.3 134.55l3.45 3.45-3.45 3.45-3.45-3.45zM562.3 56.55l3.45 3.45-3.45 3.45-3.45-3.45zM331.0 241.45l3.45 3.45-3.45 3.45-3.45-3.45zM460.1 126.05l3.45 3.45-3.45 3.45-3.45-3.45zM313.8 218.15l3.45 3.45-3.45 3.45-3.45-3.45zM406.0 144.55l3.45 3.45-3.45 3.45-3.45-3.45zM474.9 123.35l3.45 3.45-3.45 3.45-3.45-3.45zM392.6 173.05l3.45 3.45-3.45 3.45-3.45-3.45zM308.3 233.45l3.45 3.45-3.45 3.45-3.45-3.45zM440.3 154.95l3.45 3.45-3.45 3.45-3.45-3.45zM397.8 173.05l3.45 3.45-3.45 3.45-3.45-3.45zM349.0 184.35l3.45 3.45-3.45 3.45-3.45-3.45zM415.7 152.25l3.45 3.45-3.45 3.45-3.45-3.45zM296.4 235.15l3.45 3.45-3.45 3.45-3.45-3.45zM275.9 244.65l3.45 3.45-3.45 3.45-3.45-3.45zM361.4 181.05l3.45 3.45-3.45 3.45-3.45-3.45zM488.6 98.15l3.45 3.45-3.45 3.45-3.45-3.45zM529.1 80.15l3.45 3.45-3.45 3.45-3.45-3.45zM424.5 120.65l3.45 3.45-3.45 3.45-3.45-3.45zM292.6 216.75l3.45 3.45-3.45 3.45-3.45-3.45zM428.3 120.05l3.45 3.45-3.45 3.45-3.45-3.45zM544.7 67.95l3.45 3.45-3.45 3.45-3.45-3.45zM411.1 152.05l3.45 3.45-3.45 3.45-3.45-3.45zM510.4 90.15l3.45 3.45-3.45 3.45-3.45-3.45zM339.8 180.65l3.45 3.45-3.45 3.45-3.45-3.45zM461.1 129.95l3.45 3.45-3.45 3.45-3.45-3.45zM375.7 188.15l3.45 3.45-3.45 3.45-3.45-3.45zM397.3 151.25l3.45 3.45-3.45 3.45-3.45-3.45zM486.1 93.85l3.45 3.45-3.45 3.45-3.45-3.45zM410.5 143.65l3.45 3.45-3.45 3.45-3.45-3.45zM416.1 138.75l3.45 3.45-3.45 3.45-3.45-3.45zM325.7 209.65l3.45 3.45-3.45 3.45-3.45-3.45zM437.8 126.75l3.45 3.45-3.45 3.45-3.45-3.45zM477.9 126.95l3.45 3.45-3.45 3.45-3.45-3.45zM420.7 192.75l3.45 3.45-3.45 3.45-3.45-3.45zM399.0 177.55l3.45 3.45-3.45 3.45-3.45-3.45zM358.1 181.35l3.45 3.45-3.45 3.45-3.45-3.45zM526.4 72.25l3.45 3.45-3.45 3.45-3.45-3.45zM331.8 238.55l3.45 3.45-3.45 3.45-3.45-3.45zM371.4 191.75l3.45 3.45-3.45 3.45-3.45-3.45zM308.9 227.35l3.45 3.45-3.45 3.45-3.45-3.45zM360.9 172.95l3.45 3.45-3.45 3.45-3.45-3.45zM489.1 95.65l3.45 3.45-3.45 3.45-3.45-3.45zM444.1 149.85l3.45 3.45-3.45 3.45-3.45-3.45zM426.2 133.55l3.45 3.45-3.45 3.45-3.45-3.45zM487.8 124.25l3.45 3.45-3.45 3.45-3.45-3.45zM418.2 194.65l3.45 3.45-3.45 3.45-3.45-3.45zM462.2 163.15l3.45 3.45-3.45 3.45-3.45-3.45zM354.7 219.05l3.45 3.45-3.45 3.45-3.45-3.45zM488.6 90.65l3.45 3.45-3.45 3.45-3.45-3.45zM376.1 195.65l3.45 3.45-3.45 3.45-3.45-3.45zM473.4 123.35l3.45 3.45-3.45 3.45-3.45-3.45zM509.5 85.25l3.45 3.45-3.45 3.45-3.45-3.45zM500.2 115.75l3.45 3.45-3.45 3.45-3.45-3.45zM379.5 153.15l3.45 3.45-3.45 3.45-3.45-3.45zM452.5 108.95l3.45 3.45-3.45 3.45-3.45-3.45zM377.0 185.65l3.45 3.45-3.45 3.45-3.45-3.45zM445.2 154.75l3.45 3.45-3.45 3.45-3.45-3.45zM434.0 151.25l3.45 3.45-3.45 3.45-3.45-3.45zM414.6 184.15l3.45 3.45-3.45 3.45-3.45-3.45zM362.5 169.85l3.45 3.45-3.45 3.45-3.45-3.45zM403.5 181.05l3.45 3.45-3.45 3.45-3.45-3.45zM404.8 137.55l3.45 3.45-3.45 3.45-3.45-3.45zM346.4 206.55l3.45 3.45-3.45 3.45-3.45-3.45zM386.5 146.55l3.45 3.45-3.45 3.45-3.45-3.45zM476.2 132.85l3.45 3.45-3.45 3.45-3.45-3.45zM411.7 164.45l3.45 3.45-3.45 3.45-3.45-3.45zM445.7 156.15l3.45 3.45-3.45 3.45-3.45-3.45zM558.1 66.05l3.45 3.45-3.45 3.45-3.45-3.45zM461.9 112.35l3.45 3.45-3.45 3.45-3.45-3.45zM532.3 85.45l3.45 3.45-3.45 3.45-3.45-3.45zM396.4 146.05l3.45 3.45-3.45 3.45-3.45-3.45zM396.8 195.45l3.45 3.45-3.45 3.45-3.45-3.45zM369.9 165.35l3.45 3.45-3.45 3.45-3.45-3.45zM374.7 163.45l3.45 3.45-3.45 3.45-3.45-3.45zM199.1 269.95l3.45 3.45-3.45 3.45-3.45-3.45zM437.3 148.75l3.45 3.45-3.45 3.45-3.45-3.45zM439.4 135.65l3.45 3.45-3.45 3.45-3.45-3.45zM450.7 117.35l3.45 3.45-3.45 3.45-3.45-3.45zM340.7 186.85l3.45 3.45-3.45 3.45-3.45-3.45zM333.3 181.95l3.45 3.45-3.45 3.45-3.45-3.45zM345.9 195.85l3.45 3.45-3.45 3.45-3.45-3.45zM365.3 172.35l3.45 3.45-3.45 3.45-3.45-3.45zM468.1 121.45l3.45 3.45-3.45 3.45-3.45-3.45zM534.6 83.75l3.45 3.45-3.45 3.45-3.45-3.45zM484.3 119.35l3.45 3.45-3.45 3.45-3.45-3.45zM323.8 223.05l3.45 3.45-3.45 3.45-3.45-3.45zM524.7 91.55l3.45 3.45-3.45 3.45-3.45-3.45zM408.2 152.35l3.45 3.45-3.45 3.45-3.45-3.45zM358.1 188.45l3.45 3.45-3.45 3.45-3.45-3.45zM432.5 169.25l3.45 3.45-3.45 3.45-3.45-3.45zM374.0 181.55l3.45 3.45-3.45 3.45-3.45-3.45zM306.7 223.45l3.45 3.45-3.45 3.45-3.45-3.45zM506.5 99.95l3.45 3.45-3.45 3.45-3.45-3.45zM413.6 140.05l3.45 3.45-3.45 3.45-3.45-3.45zM423.5 182.45l3.45 3.45-3.45 3.45-3.45-3.45zM486.1 101.65l3.45 3.45-3.45 3.45-3.45-3.45zM550.9 71.65l3.45 3.45-3.45 3.45-3.45-3.45zM443.0 151.75l3.45 3.45-3.45 3.45-3.45-3.45zM433.5 145.45l3.45 3.45-3.45 3.45-3.45-3.45zM467.0 132.05l3.45 3.45-3.45 3.45-3.45-3.45zM324.8 200.15l3.45 3.45-3.45 3.45-3.45-3.45zM265.9 249.15l3.45 3.45-3.45 3.45-3.45-3.45zM379.6 199.55l3.45 3.45-3.45 3.45-3.45-3.45zM426.8 161.45l3.45 3.45-3.45 3.45-3.45-3.45zM417.5 167.15l3.45 3.45-3.45 3.45-3.45-3.45zM462.9 123.85l3.45 3.45-3.45 3.45-3.45-3.45zM542.8 66.25l3.45 3.45-3.45 3.45-3.45-3.45zM341.2 191.85l3.45 3.45-3.45 3.45-3.45-3.45zM371.3 173.55l3.45 3.45-3.45 3.45-3.45-3.45zM325.9 208.05l3.45 3.45-3.45 3.45-3.45-3.45zM397.8 151.55l3.45 3.45-3.45 3.45-3.45-3.45zM364.6 226.25l3.45 3.45-3.45 3.45-3.45-3.45zM404.8 183.15l3.45 3.45-3.45 3.45-3.45-3.45zM472.3 109.15l3.45 3.45-3.45 3.45-3.45-3.45zM475.3 101.95l3.45 3.45-3.45 3.45-3.45-3.45zM466.0 152.45l3.45 3.45-3.45 3.45-3.45-3.45zM377.5 179.15l3.45 3.45-3.45 3.45-3.45-3.45zM493.6 91.25l3.45 3.45-3.45 3.45-3.45-3.45zM469.0 131.75l3.45 3.45-3.45 3.45-3.45-3.45zM414.6 141.25l3.45 3.45-3.45 3.45-3.45-3.45zM482.9 89.65l3.45 3.45-3.45 3.45-3.45-3.45zM462.1 132.55l3.45 3.45-3.45 3.45-3.45-3.45zM536.2 73.65l3.45 3.45-3.45 3.45-3.45-3.45zM431.0 130.05l3.45 3.45-3.45 3.45-3.45-3.45zM379.5 152.05l3.45 3.45-3.45 3.45-3.45-3.45zM438.7 175.75l3.45 3.45-3.45 3.45-3.45-3.45zM304.2 254.65l3.45 3.45-3.45 3.45-3.45-3.45zM548.9 60.35l3.45 3.45-3.45 3.45-3.45-3.45zM378.5 179.15l3.45 3.45-3.45 3.45-3.45-3.45zM199.2 283.15l3.45 3.45-3.45 3.45-3.45-3.45zM453.6 141.95l3.45 3.45-3.45 3.45-3.45-3.45zM410.6 125.65l3.45 3.45-3.45 3.45-3.45-3.45zM482.9 122.75l3.45 3.45-3.45 3.45-3.45-3.45zM432.6 142.25l3.45 3.45-3.45 3.45-3.45-3.45zM344.8 196.85l3.45 3.45-3.45 3.45-3.45-3.45zM415.9 132.45l3.45 3.45-3.45 3.45-3.45-3.45zM404.4 198.95l3.45 3.45-3.45 3.45-3.45-3.45zM394.0 172.65l3.45 3.45-3.45 3.45-3.45-3.45zM426.1 145.05l3.45 3.45-3.45 3.45-3.45-3.45zM548.8 65.15l3.45 3.45-3.45 3.45-3.45-3.45zM384.0 177.75l3.45 3.45-3.45 3.45-3.45-3.45zM420.9 160.35l3.45 3.45-3.45 3.45-3.45-3.45zM448.5 146.05l3.45 3.45-3.45 3.45-3.45-3.45zM380.0 151.05l3.45 3.45-3.45 3.45-3.45-3.45zM452.0 165.35l3.45 3.45-3.45 3.45-3.45-3.45zM406.9 146.05l3.45 3.45-3.45 3.45-3.45-3.45zM450.9 109.95l3.45 3.45-3.45 3.45-3.45-3.45zM502.4 88.05l3.45 3.45-3.45 3.45-3.45-3.45zM449.1 164.95l3.45 3.45-3.45 3.45-3.45-3.45zM348.6 204.75l3.45 3.45-3.45 3.45-3.45-3.45zM369.9 191.75l3.45 3.45-3.45 3.45-3.45-3.45zM401.4 175.45l3.45 3.45-3.45 3.45-3.45-3.45zM448.2 127.65l3.45 3.45-3.45 3.45-3.45-3.45zM433.4 163.05l3.45 3.45-3.45 3.45-3.45-3.45zM490.0 105.05l3.45 3.45-3.45 3.45-3.45-3.45zM329.9 243.85l3.45 3.45-3.45 3.45-3.45-3.45zM405.4 153.65l3.45 3.45-3.45 3.45-3.45-3.45zM209.9 272.55l3.45 3.45-3.45 3.45-3.45-3.45zM289.2 262.85l3.45 3.45-3.45 3.45-3.45-3.45zM546.7 71.75l3.45 3.45-3.45 3.45-3.45-3.45zM448.6 116.05l3.45 3.45-3.45 3.45-3.45-3.45zM368.0 189.75l3.45 3.45-3.45 3.45-3.45-3.45zM485.8 121.95l3.45 3.45-3.45 3.45-3.45-3.45zM453.5 167.35l3.45 3.45-3.45 3.45-3.45-3.45zM545.4 72.45l3.45 3.45-3.45 3.45-3.45-3.45zM339.8 230.55l3.45 3.45-3.45 3.45-3.45-3.45zM416.0 156.65l3.45 3.45-3.45 3.45-3.45-3.45zM480.8 117.15l3.45 3.45-3.45 3.45-3.45-3.45zM314.6 230.65l3.45 3.45-3.45 3.45-3.45-3.45zM469.4 129.15l3.45 3.45-3.45 3.45-3.45-3.45zM412.5 175.15l3.45 3.45-3.45 3.45-3.45-3.45zM356.9 206.55l3.45 3.45-3.45 3.45-3.45-3.45zM237.9 275.35l3.45 3.45-3.45 3.45-3.45-3.45zM546.4 67.25l3.45 3.45-3.45 3.45-3.45-3.45zM313.2 238.45l3.45 3.45-3.45 3.45-3.45-3.45zM538.4 77.55l3.45 3.45-3.45 3.45-3.45-3.45zM392.5 163.05l3.45 3.45-3.45 3.45-3.45-3.45zM280.2 233.85l3.45 3.45-3.45 3.45-3.45-3.45zM400.9 152.45l3.45 3.45-3.45 3.45-3.45-3.45zM421.1 164.95l3.45 3.45-3.45 3.45-3.45-3.45zM451.7 131.85l3.45 3.45-3.45 3.45-3.45-3.45zM490.3 123.15l3.45 3.45-3.45 3.45-3.45-3.45zM351.8 192.85l3.45 3.45-3.45 3.45-3.45-3.45zM409.4 156.15l3.45 3.45-3.45 3.45-3.45-3.45zM207.9 268.05l3.45 3.45-3.45 3.45-3.45-3.45zM444.1 153.85l3.45 3.45-3.45 3.45-3.45-3.45zM406.5 177.25l3.45 3.45-3.45 3.45-3.45-3.45zM272.4 236.95l3.45 3.45-3.45 3.45-3.45-3.45zM482.5 119.95l3.45 3.45-3.45 3.45-3.45-3.45zM555.2 61.05l3.45 3.45-3.45 3.45-3.45-3.45zM360.6 188.15l3.45 3.45-3.45 3.45-3.45-3.45zM405.7 163.95l3.45 3.45-3.45 3.45-3.45-3.45zM332.3 224.45l3.45 3.45-3.45 3.45-3.45-3.45zM307.4 236.95l3.45 3.45-3.45 3.45-3.45-3.45zM466.2 114.95l3.45 3.45-3.45 3.45-3.45-3.45zM286.8 227.25l3.45 3.45-3.45 3.45-3.45-3.45zM366.0 168.15l3.45 3.45-3.45 3.45-3.45-3.45zM457.2 124.65l3.45 3.45-3.45 3.45-3.45-3.45zM328.6 218.35l3.45 3.45-3.45 3.45-3.45-3.45zM371.9 185.75l3.45 3.45-3.45 3.45-3.45-3.45zM277.4 229.45l3.45 3.45-3.45 3.45-3.45-3.45zM388.6 183.75l3.45 3.45-3.45 3.45-3.45-3.45zM430.8 129.65l3.45 3.45-3.45 3.45-3.45-3.45zM481.3 94.55l3.45 3.45-3.45 3.45-3.45-3.45zM513.2 78.35l3.45 3.45-3.45 3.45-3.45-3.45zM536.0 71.75l3.45 3.45-3.45 3.45-3.45-3.45zM449.0 139.25l3.45 3.45-3.45 3.45-3.45-3.45zM431.5 174.75l3.45 3.45-3.45 3.45-3.45-3.45zM473.7 118.75l3.45 3.45-3.45 3.45-3.45-3.45zM494.5 107.25l3.45 3.45-3.45 3.45-3.45-3.45zM511.4 77.25l3.45 3.45-3.45 3.45-3.45-3.45zM254.2 243.65l3.45 3.45-3.45 3.45-3.45-3.45zM310.1 199.65l3.45 3.45-3.45 3.45-3.45-3.45zM487.9 107.55l3.45 3.45-3.45 3.45-3.45-3.45zM363.6 214.95l3.45 3.45-3.45 3.45-3.45-3.45zM390.6 160.45l3.45 3.45-3.45 3.45-3.45-3.45zM449.9 124.75l3.45 3.45-3.45 3.45-3.45-3.45zM219.8 275.15l3.45 3.45-3.45 3.45-3.45-3.45zM401.5 161.35l3.45 3.45-3.45 3.45-3.45-3.45zM416.1 118.65l3.45 3.45-3.45 3.45-3.45-3.45zM315.9 229.45l3.45 3.45-3.45 3.45-3.45-3.45zM421.7 175.55l3.45 3.45-3.45 3.45-3.45-3.45zM510.9 86.55l3.45 3.45-3.45 3.45-3.45-3.45zM449.4 133.75l3.45 3.45-3.45 3.45-3.45-3.45zM460.4 169.05l3.45 3.45-3.45 3.45-3.45-3.45zM482.6 109.75l3.45 3.45-3.45 3.45-3.45-3.45zM426.7 143.55l3.45 3.45-3.45 3.45-3.45-3.45zM342.4 209.15l3.45 3.45-3.45 3.45-3.45-3.45zM339.6 192.05l3.45 3.45-3.45 3.45-3.45-3.45zM486.5 96.85l3.45 3.45-3.45 3.45-3.45-3.45zM394.1 156.55l3.45 3.45-3.45 3.45-3.45-3.45zM238.4 246.05l3.45 3.45-3.45 3.45-3.45-3.45zM487.5 114.65l3.45 3.45-3.45 3.45-3.45-3.45zM459.2 125.55l3.45 3.45-3.45 3.45-3.45-3.45zM447.6 115.25l3.45 3.45-3.45 3.45-3.45-3.45zM332.3 230.85l3.45 3.45-3.45 3.45-3.45-3.45zM529.0 90.95l3.45 3.45-3.45 3.45-3.45-3.45zM254.3 243.55l3.45 3.45-3.45 3.45-3.45-3.45zM431.2 138.25l3.45 3.45-3.45 3.45-3.45-3.45zM426.4 183.55l3.45 3.45-3.45 3.45-3.45-3.45zM503.3 91.45l3.45 3.45-3.45 3.45-3.45-3.45zM388.5 183.95l3.45 3.45-3.45 3.45-3.45-3.45zM340.1 202.45l3.45 3.45-3.45 3.45-3.45-3.45zM464.0 123.05l3.45 3.45-3.45 3.45-3.45-3.45zM379.5 189.65l3.45 3.45-3.45 3.45-3.45-3.45zM340.5 207.75l3.45 3.45-3.45 3.45-3.45-3.45zM498.9 82.05l3.45 3.45-3.45 3.45-3.45-3.45zM383.1 212.15l3.45 3.45-3.45 3.45-3.45-3.45zM415.2 158.25l3.45 3.45-3.45 3.45-3.45-3.45zM494.8 107.65l3.45 3.45-3.45 3.45-3.45-3.45zM472.6 111.95l3.45 3.45-3.45 3.45-3.45-3.45zM344.6 210.55l3.45 3.45-3.45 3.45-3.45-3.45zM353.7 211.85l3.45 3.45-3.45 3.45-3.45-3.45zM314.6 210.35l3.45 3.45-3.45 3.45-3.45-3.45zM440.6 141.75l3.45 3.45-3.45 3.45-3.45-3.45zM505.2 86.55l3.45 3.45-3.45 3.45-3.45-3.45zM466.9 135.65l3.45 3.45-3.45 3.45-3.45-3.45zM390.5 157.85l3.45 3.45-3.45 3.45-3.45-3.45zM559.5 59.55l3.45 3.45-3.45 3.45-3.45-3.45zM391.1 179.35l3.45 3.45-3.45 3.45-3.45-3.45zM475.3 113.25l3.45 3.45-3.45 3.45-3.45-3.45zM358.4 188.75l3.45 3.45-3.45 3.45-3.45-3.45zM414.0 127.85l3.45 3.45-3.45 3.45-3.45-3.45zM306.6 209.45l3.45 3.45-3.45 3.45-3.45-3.45zM382.9 167.15l3.45 3.45-3.45 3.45-3.45-3.45zM436.9 136.45l3.45 3.45-3.45 3.45-3.45-3.45zM453.5 140.65l3.45 3.45-3.45 3.45-3.45-3.45zM228.7 289.45l3.45 3.45-3.45 3.45-3.45-3.45zM332.9 198.75l3.45 3.45-3.45 3.45-3.45-3.45zM482.8 98.25l3.45 3.45-3.45 3.45-3.45-3.45zM411.1 156.65l3.45 3.45-3.45 3.45-3.45-3.45zM261.3 217.15l3.45 3.45-3.45 3.45-3.45-3.45zM452.1 133.45l3.45 3.45-3.45 3.45-3.45-3.45zM483.5 136.45l3.45 3.45-3.45 3.45-3.45-3.45zM461.3 111.95l3.45 3.45-3.45 3.45-3.45-3.45zM441.4 147.15l3.45 3.45-3.45 3.45-3.45-3.45zM394.5 207.55l3.45 3.45-3.45 3.45-3.45-3.45zM472.3 115.95l3.45 3.45-3.45 3.45-3.45-3.45zM218.9 287.15l3.45 3.45-3.45 3.45-3.45-3.45zM239.5 264.25l3.45 3.45-3.45 3.45-3.45-3.45zM515.5 92.65l3.45 3.45-3.45 3.45-3.45-3.45zM406.0 182.15l3.45 3.45-3.45 3.45-3.45-3.45zM319.8 204.55l3.45 3.45-3.45 3.45-3.45-3.45zM431.5 165.65l3.45 3.45-3.45 3.45-3.45-3.45zM537.2 77.35l3.45 3.45-3.45 3.45-3.45-3.45zM376.1 199.75l3.45 3.45-3.45 3.45-3.45-3.45zM412.9 125.75l3.45 3.45-3.45 3.45-3.45-3.45zM383.0 169.05l3.45 3.45-3.45 3.45-3.45-3.45zM444.4 130.85l3.45 3.45-3.45 3.45-3.45-3.45zM419.1 123.95l3.45 3.45-3.45 3.45-3.45-3.45zM410.1 150.35l3.45 3.45-3.45 3.45-3.45-3.45zM197.2 277.25l3.45 3.45-3.45 3.45-3.45-3.45zM246.4 246.65l3.45 3.45-3.45 3.45-3.45-3.45zM318.9 229.65l3.45 3.45-3.45 3.45-3.45-3.45zM478.5 122.75l3.45 3.45-3.45 3.45-3.45-3.45zM383.8 156.85l3.45 3.45-3.45 3.45-3.45-3.45zM296.9 232.05l3.45 3.45-3.45 3.45-3.45-3.45zM422.0 154.85l3.45 3.45-3.45 3.45-3.45-3.45zM344.7 200.25l3.45 3.45-3.45 3.45-3.45-3.45zM538.9 76.35l3.45 3.45-3.45 3.45-3.45-3.45zM237.8 248.55l3.45 3.45-3.45 3.45-3.45-3.45zM490.0 118.65l3.45 3.45-3.45 3.45-3.45-3.45zM469.6 141.95l3.45 3.45-3.45 3.45-3.45-3.45zM312.1 215.05l3.45 3.45-3.45 3.45-3.45-3.45zM459.6 124.05l3.45 3.45-3.45 3.45-3.45-3.45zM462.8 123.15l3.45 3.45-3.45 3.45-3.45-3.45zM421.0 168.85l3.45 3.45-3.45 3.45-3.45-3.45zM373.3 159.35l3.45 3.45-3.45 3.45-3.45-3.45zM412.4 166.15l3.45 3.45-3.45 3.45-3.45-3.45zM361.3 191.15l3.45 3.45-3.45 3.45-3.45-3.45zM302.3 217.95l3.45 3.45-3.45 3.45-3.45-3.45zM340.7 211.75l3.45 3.45-3.45 3.45-3.45-3.45zM367.5 178.65l3.45 3.45-3.45 3.45-3.45-3.45zM391.3 179.25l3.45 3.45-3.45 3.45-3.45-3.45zM307.1 219.25l3.45 3.45-3.45 3.45-3.45-3.45zM429.5 116.35l3.45 3.45-3.45 3.45-3.45-3.45zM289.9 219.35l3.45 3.45-3.45 3.45-3.45-3.45zM392.2 183.95l3.45 3.45-3.45 3.45-3.45-3.45zM544.6 72.45l3.45 3.45-3.45 3.45-3.45-3.45zM426.6 159.85l3.45 3.45-3.45 3.45-3.45-3.45zM452.8 146.65l3.45 3.45-3.45 3.45-3.45-3.45zM475.4 119.15l3.45 3.45-3.45 3.45-3.45-3.45zM546.3 66.75l3.45 3.45-3.45 3.45-3.45-3.45zM420.1 154.55l3.45 3.45-3.45 3.45-3.45-3.45zM511.1 82.75l3.45 3.45-3.45 3.45-3.45-3.45zM499.4 93.85l3.45 3.45-3.45 3.45-3.45-3.45zM449.3 149.15l3.45 3.45-3.45 3.45-3.45-3.45zM392.7 151.85l3.45 3.45-3.45 3.45-3.45-3.45zM449.1 123.35l3.45 3.45-3.45 3.45-3.45-3.45zM390.2 192.55l3.45 3.45-3.45 3.45-3.45-3.45zM433.3 123.05l3.45 3.45-3.45 3.45-3.45-3.45zM324.7 225.35l3.45 3.45-3.45 3.45-3.45-3.45zM432.1 121.05l3.45 3.45-3.45 3.45-3.45-3.45zM325.3 232.05l3.45 3.45-3.45 3.45-3.45-3.45zM530.4 80.35l3.45 3.45-3.45 3.45-3.45-3.45zM503.4 89.55l3.45 3.45-3.45 3.45-3.45-3.45zM524.0 92.65l3.45 3.45-3.45 3.45-3.45-3.45zM371.2 197.75l3.45 3.45-3.45 3.45-3.45-3.45zM457.2 131.35l3.45 3.45-3.45 3.45-3.45-3.45zM453.0 171.15l3.45 3.45-3.45 3.45-3.45-3.45zM410.1 193.75l3.45 3.45-3.45 3.45-3.45-3.45zM460.3 127.15l3.45 3.45-3.45 3.45-3.45-3.45zM478.4 98.75l3.45 3.45-3.45 3.45-3.45-3.45zM364.2 162.75l3.45 3.45-3.45 3.45-3.45-3.45zM238.4 284.85l3.45 3.45-3.45 3.45-3.45-3.45zM363.8 180.25l3.45 3.45-3.45 3.45-3.45-3.45zM430.5 151.35l3.45 3.45-3.45 3.45-3.45-3.45zM416.0 121.25l3.45 3.45-3.45 3.45-3.45-3.45zM403.0 163.55l3.45 3.45-3.45 3.45-3.45-3.45zM416.9 130.95l3.45 3.45-3.45 3.45-3.45-3.45zM367.6 203.15l3.45 3.45-3.45 3.45-3.45-3.45zM469.9 98.05l3.45 3.45-3.45 3.45-3.45-3.45zM369.5 198.75l3.45 3.45-3.45 3.45-3.45-3.45zM484.2 127.75l3.45 3.45-3.45 3.45-3.45-3.45zM417.8 122.55l3.45 3.45-3.45 3.45-3.45-3.45zM417.0 125.25l3.45 3.45-3.45 3.45-3.45-3.45zM345.7 223.15l3.45 3.45-3.45 3.45-3.45-3.45zM478.9 133.65l3.45 3.45-3.45 3.45-3.45-3.45zM474.5 109.65l3.45 3.45-3.45 3.45-3.45-3.45zM471.8 111.05l3.45 3.45-3.45 3.45-3.45-3.45zM365.2 179.65l3.45 3.45-3.45 3.45-3.45-3.45zM521.7 82.75l3.45 3.45-3.45 3.45-3.45-3.45zM505.6 77.85l3.45 3.45-3.45 3.45-3.45-3.45zM380.7 213.05l3.45 3.45-3.45 3.45-3.45-3.45zM397.9 173.75l3.45 3.45-3.45 3.45-3.45-3.45zM441.4 153.95l3.45 3.45-3.45 3.45-3.45-3.45zM436.0 128.85l3.45 3.45-3.45 3.45-3.45-3.45zM388.2 150.15l3.45 3.45-3.45 3.45-3.45-3.45zM383.1 177.95l3.45 3.45-3.45 3.45-3.45-3.45zM478.0 138.85l3.45 3.45-3.45 3.45-3.45-3.45zM377.8 188.15l3.45 3.45-3.45 3.45-3.45-3.45zM462.1 133.05l3.45 3.45-3.45 3.45-3.45-3.45zM372.7 156.05l3.45 3.45-3.45 3.45-3.45-3.45zM375.2 179.65l3.45 3.45-3.45 3.45-3.45-3.45zM441.3 133.25l3.45 3.45-3.45 3.45-3.45-3.45zM545.5 69.25l3.45 3.45-3.45 3.45-3.45-3.45zM307.9 236.05l3.45 3.45-3.45 3.45-3.45-3.45zM401.4 172.55l3.45 3.45-3.45 3.45-3.45-3.45zM465.5 143.45l3.45 3.45-3.45 3.45-3.45-3.45zM288.0 221.95l3.45 3.45-3.45 3.45-3.45-3.45zM506.0 109.95l3.45 3.45-3.45 3.45-3.45-3.45zM483.8 107.15l3.45 3.45-3.45 3.45-3.45-3.45zM428.6 161.35l3.45 3.45-3.45 3.45-3.45-3.45zM441.0 169.55l3.45 3.45-3.45 3.45-3.45-3.45zM374.7 176.15l3.45 3.45-3.45 3.45-3.45-3.45zM394.4 161.65l3.45 3.45-3.45 3.45-3.45-3.45zM200.8 296.55l3.45 3.45-3.45 3.45-3.45-3.45zM423.3 146.35l3.45 3.45-3.45 3.45-3.45-3.45zM350.1 190.25l3.45 3.45-3.45 3.45-3.45-3.45zM386.3 213.25l3.45 3.45-3.45 3.45-3.45-3.45zM361.0 189.85l3.45 3.45-3.45 3.45-3.45-3.45zM423.2 161.45l3.45 3.45-3.45 3.45-3.45-3.45zM487.2 120.15l3.45 3.45-3.45 3.45-3.45-3.45zM430.0 142.15l3.45 3.45-3.45 3.45-3.45-3.45zM500.3 89.65l3.45 3.45-3.45 3.45-3.45-3.45zM498.1 103.65l3.45 3.45-3.45 3.45-3.45-3.45zM447.0 128.05l3.45 3.45-3.45 3.45-3.45-3.45zM319.2 230.45l3.45 3.45-3.45 3.45-3.45-3.45zM315.1 204.85l3.45 3.45-3.45 3.45-3.45-3.45zM489.6 114.35l3.45 3.45-3.45 3.45-3.45-3.45zM561.2 63.55l3.45 3.45-3.45 3.45-3.45-3.45zM373.5 203.55l3.45 3.45-3.45 3.45-3.45-3.45zM482.8 113.15l3.45 3.45-3.45 3.45-3.45-3.45zM354.7 208.05l3.45 3.45-3.45 3.45-3.45-3.45zM385.7 155.15l3.45 3.45-3.45 3.45-3.45-3.45zM313.0 248.15l3.45 3.45-3.45 3.45-3.45-3.45zM468.2 101.65l3.45 3.45-3.45 3.45-3.45-3.45zM441.1 165.15l3.45 3.45-3.45 3.45-3.45-3.45zM325.9 221.25l3.45 3.45-3.45 3.45-3.45-3.45zM469.6 120.95l3.45 3.45-3.45 3.45-3.45-3.45zM323.0 216.15l3.45 3.45-3.45 3.45-3.45-3.45zM535.1 82.25l3.45 3.45-3.45 3.45-3.45-3.45zM340.4 228.15l3.45 3.45-3.45 3.45-3.45-3.45zM489.3 113.65l3.45 3.45-3.45 3.45-3.45-3.45zM380.6 169.15l3.45 3.45-3.45 3.45-3.45-3.45zM284.1 253.25l3.45 3.45-3.45 3.45-3.45-3.45zM376.2 165.65l3.45 3.45-3.45 3.45-3.45-3.45zM237.2 266.75l3.45 3.45-3.45 3.45-3.45-3.45zM431.8 163.45l3.45 3.45-3.45 3.45-3.45-3.45zM393.4 142.85l3.45 3.45-3.45 3.45-3.45-3.45zM442.5 131.45l3.45 3.45-3.45 3.45-3.45-3.45zM511.3 82.05l3.45 3.45-3.45 3.45-3.45-3.45zM232.7 279.55l3.45 3.45-3.45 3.45-3.45-3.45zM410.9 172.35l3.45 3.45-3.45 3.45-3.45-3.45zM376.8 164.85l3.45 3.45-3.45 3.45-3.45-3.45zM420.4 156.85l3.45 3.45-3.45 3.45-3.45-3.45zM466.2 144.25l3.45 3.45-3.45 3.45-3.45-3.45zM365.8 183.25l3.45 3.45-3.45 3.45-3.45-3.45zM376.3 210.95l3.45 3.45-3.45 3.45-3.45-3.45zM448.5 153.85l3.45 3.45-3.45 3.45-3.45-3.45zM496.4 104.75l3.45 3.45-3.45 3.45-3.45-3.45zM477.0 104.55l3.45 3.45-3.45 3.45-3.45-3.45zM456.5 110.15l3.45 3.45-3.45 3.45-3.45-3.45zM458.6 109.15l3.45 3.45-3.45 3.45-3.45-3.45zM377.0 172.35l3.45 3.45-3.45 3.45-3.45-3.45zM405.0 138.35l3.45 3.45-3.45 3.45-3.45-3.45zM321.1 243.55l3.45 3.45-3.45 3.45-3.45-3.45zM345.3 223.25l3.45 3.45-3.45 3.45-3.45-3.45zM409.6 146.55l3.45 3.45-3.45 3.45-3.45-3.45zM500.9 101.65l3.45 3.45-3.45 3.45-3.45-3.45zM432.1 140.15l3.45 3.45-3.45 3.45-3.45-3.45zM421.4 122.35l3.45 3.45-3.45 3.45-3.45-3.45zM428.0 137.05l3.45 3.45-3.45 3.45-3.45-3.45zM356.9 181.25l3.45 3.45-3.45 3.45-3.45-3.45zM381.0 202.15l3.45 3.45-3.45 3.45-3.45-3.45zM343.7 224.85l3.45 3.45-3.45 3.45-3.45-3.45zM424.3 178.15l3.45 3.45-3.45 3.45-3.45-3.45zM329.5 206.35l3.45 3.45-3.45 3.45-3.45-3.45zM442.5 161.35l3.45 3.45-3.45 3.45-3.45-3.45zM517.7 80.95l3.45 3.45-3.45 3.45-3.45-3.45zM385.4 157.55l3.45 3.45-3.45 3.45-3.45-3.45zM436.0 178.05l3.45 3.45-3.45 3.45-3.45-3.45zM267.4 242.55l3.45 3.45-3.45 3.45-3.45-3.45zM355.8 188.45l3.45 3.45-3.45 3.45-3.45-3.45zM481.4 133.35l3.45 3.45-3.45 3.45-3.45-3.45zM271.1 215.45l3.45 3.45-3.45 3.45-3.45-3.45zM321.1 240.15l3.45 3.45-3.45 3.45-3.45-3.45zM456.7 124.35l3.45 3.45-3.45 3.45-3.45-3.45zM550.1 62.05l3.45 3.45-3.45 3.45-3.45-3.45zM324.2 236.65l3.45 3.45-3.45 3.45-3.45-3.45zM541.8 71.75l3.45 3.45-3.45 3.45-3.45-3.45zM331.4 231.45l3.45 3.45-3.45 3.45-3.45-3.45zM396.4 203.95l3.45 3.45-3.45 3.45-3.45-3.45zM309.0 227.55l3.45 3.45-3.45 3.45-3.45-3.45zM531.8 81.45l3.45 3.45-3.45 3.45-3.45-3.45zM397.9 163.85l3.45 3.45-3.45 3.45-3.45-3.45zM316.9 212.95l3.45 3.45-3.45 3.45-3.45-3.45zM526.7 87.35l3.45 3.45-3.45 3.45-3.45-3.45zM535.0 75.35l3.45 3.45-3.45 3.45-3.45-3.45zM274.4 235.85l3.45 3.45-3.45 3.45-3.45-3.45zM437.3 150.65l3.45 3.45-3.45 3.45-3.45-3.45zM366.1 177.55l3.45 3.45-3.45 3.45-3.45-3.45zM396.1 149.55l3.45 3.45-3.45 3.45-3.45-3.45zM340.3 210.75l3.45 3.45-3.45 3.45-3.45-3.45zM330.4 215.65l3.45 3.45-3.45 3.45-3.45-3.45zM408.5 191.35l3.45 3.45-3.45 3.45-3.45-3.45zM434.6 178.95l3.45 3.45-3.45 3.45-3.45-3.45zM253.2 268.45l3.45 3.45-3.45 3.45-3.45-3.45zM421.1 136.95l3.45 3.45-3.45 3.45-3.45-3.45zM522.1 95.45l3.45 3.45-3.45 3.45-3.45-3.45zM455.0 145.15l3.45 3.45-3.45 3.45-3.45-3.45zM379.2 202.35l3.45 3.45-3.45 3.45-3.45-3.45zM337.6 237.85l3.45 3.45-3.45 3.45-3.45-3.45zM347.2 191.05l3.45 3.45-3.45 3.45-3.45-3.45zM460.1 139.65l3.45 3.45-3.45 3.45-3.45-3.45zM553.9 62.45l3.45 3.45-3.45 3.45-3.45-3.45zM506.5 83.35l3.45 3.45-3.45 3.45-3.45-3.45zM379.6 171.95l3.45 3.45-3.45 3.45-3.45-3.45zM361.0 159.55l3.45 3.45-3.45 3.45-3.45-3.45zM442.1 140.65l3.45 3.45-3.45 3.45-3.45-3.45zM378.3 189.85l3.45 3.45-3.45 3.45-3.45-3.45zM341.8 228.75l3.45 3.45-3.45 3.45-3.45-3.45zM301.0 230.75l3.45 3.45-3.45 3.45-3.45-3.45zM419.5 186.65l3.45 3.45-3.45 3.45-3.45-3.45zM276.1 223.85l3.45 3.45-3.45 3.45-3.45-3.45zM444.1 158.35l3.45 3.45-3.45 3.45-3.45-3.45zM276.9 220.25l3.45 3.45-3.45 3.45-3.45-3.45zM449.3 144.15l3.45 3.45-3.45 3.45-3.45-3.45zM398.9 168.25l3.45 3.45-3.45 3.45-3.45-3.45zM500.9 97.65l3.45 3.45-3.45 3.45-3.45-3.45zM522.1 77.05l3.45 3.45-3.45 3.45-3.45-3.45zM436.6 140.25l3.45 3.45-3.45 3.45-3.45-3.45zM476.8 134.85l3.45 3.45-3.45 3.45-3.45-3.45zM494.7 116.55l3.45 3.45-3.45 3.45-3.45-3.45zM423.5 134.05l3.45 3.45-3.45 3.45-3.45-3.45zM405.8 192.55l3.45 3.45-3.45 3.45-3.45-3.45zM435.9 156.15l3.45 3.45-3.45 3.45-3.45-3.45zM539.1 68.45l3.45 3.45-3.45 3.45-3.45-3.45zM456.9 143.65l3.45 3.45-3.45 3.45-3.45-3.45zM439.5 131.25l3.45 3.45-3.45 3.45-3.45-3.45zM324.7 219.65l3.45 3.45-3.45 3.45-3.45-3.45zM321.2 231.85l3.45 3.45-3.45 3.45-3.45-3.45zM277.7 237.95l3.45 3.45-3.45 3.45-3.45-3.45zM387.0 163.05l3.45 3.45-3.45 3.45-3.45-3.45zM416.3 150.05l3.45 3.45-3.45 3.45-3.45-3.45zM481.3 111.05l3.45 3.45-3.45 3.45-3.45-3.45zM420.8 186.65l3.45 3.45-3.45 3.45-3.45-3.45zM439.0 168.95l3.45 3.45-3.45 3.45-3.45-3.45zM304.7 228.05l3.45 3.45-3.45 3.45-3.45-3.45zM456.0 131.75l3.45 3.45-3.45 3.45-3.45-3.45zM243.7 252.55l3.45 3.45-3.45 3.45-3.45-3.45zM381.1 156.45l3.45 3.45-3.45 3.45-3.45-3.45zM472.0 139.45l3.45 3.45-3.45 3.45-3.45-3.45zM475.8 120.05l3.45 3.45-3.45 3.45-3.45-3.45zM365.7 178.65l3.45 3.45-3.45 3.45-3.45-3.45zM543.2 62.65l3.45 3.45-3.45 3.45-3.45-3.45zM424.4 156.65l3.45 3.45-3.45 3.45-3.45-3.45zM465.3 104.15l3.45 3.45-3.45 3.45-3.45-3.45zM308.8 207.15l3.45 3.45-3.45 3.45-3.45-3.45zM404.4 148.95l3.45 3.45-3.45 3.45-3.45-3.45zM326.3 236.55l3.45 3.45-3.45 3.45-3.45-3.45zM398.0 199.25l3.45 3.45-3.45 3.45-3.45-3.45zM313.2 221.85l3.45 3.45-3.45 3.45-3.45-3.45zM495.4 93.75l3.45 3.45-3.45 3.45-3.45-3.45zM333.2 207.35l3.45 3.45-3.45 3.45-3.45-3.45zM375.2 189.15l3.45 3.45-3.45 3.45-3.45-3.45zM314.0 250.65l3.45 3.45-3.45 3.45-3.45-3.45zM240.3 260.45l3.45 3.45-3.45 3.45-3.45-3.45zM455.4 163.45l3.45 3.45-3.45 3.45-3.45-3.45zM469.3 112.25l3.45 3.45-3.45 3.45-3.45-3.45zM359.0 181.65l3.45 3.45-3.45 3.45-3.45-3.45zM322.8 217.05l3.45 3.45-3.45 3.45-3.45-3.45zM436.3 156.25l3.45 3.45-3.45 3.45-3.45-3.45zM445.2 170.65l3.45 3.45-3.45 3.45-3.45-3.45zM516.8 77.25l3.45 3.45-3.45 3.45-3.45-3.45zM482.5 102.45l3.45 3.45-3.45 3.45-3.45-3.45zM500.6 99.45l3.45 3.45-3.45 3.45-3.45-3.45zM422.3 176.95l3.45 3.45-3.45 3.45-3.45-3.45zM401.1 151.75l3.45 3.45-3.45 3.45-3.45-3.45zM344.5 207.55l3.45 3.45-3.45 3.45-3.45-3.45zM482.8 98.85l3.45 3.45-3.45 3.45-3.45-3.45zM534.5 71.05l3.45 3.45-3.45 3.45-3.45-3.45zM383.7 146.15l3.45 3.45-3.45 3.45-3.45-3.45zM405.7 158.65l3.45 3.45-3.45 3.45-3.45-3.45zM547.2 59.25l3.45 3.45-3.45 3.45-3.45-3.45zM505.6 89.45l3.45 3.45-3.45 3.45-3.45-3.45zM369.8 187.05l3.45 3.45-3.45 3.45-3.45-3.45zM299.0 228.85l3.45 3.45-3.45 3.45-3.45-3.45zM334.7 218.25l3.45 3.45-3.45 3.45-3.45-3.45zM436.2 168.95l3.45 3.45-3.45 3.45-3.45-3.45zM428.0 145.75l3.45 3.45-3.45 3.45-3.45-3.45zM558.3 63.75l3.45 3.45-3.45 3.45-3.45-3.45zM277.7 242.75l3.45 3.45-3.45 3.45-3.45-3.45zM453.4 128.65l3.45 3.45-3.45 3.45-3.45-3.45zM519.8 88.55l3.45 3.45-3.45 3.45-3.45-3.45zM507.9 98.15l3.45 3.45-3.45 3.45-3.45-3.45zM337.9 206.15l3.45 3.45-3.45 3.45-3.45-3.45zM206.5 295.35l3.45 3.45-3.45 3.45-3.45-3.45zM411.0 152.15l3.45 3.45-3.45 3.45-3.45-3.45zM472.8 151.55l3.45 3.45-3.45 3.45-3.45-3.45zM250.9 246.15l3.45 3.45-3.45 3.45-3.45-3.45zM474.5 92.05l3.45 3.45-3.45 3.45-3.45-3.45zM344.5 204.35l3.45 3.45-3.45 3.45-3.45-3.45zM414.3 117.75l3.45 3.45-3.45 3.45-3.45-3.45zM513.6 79.25l3.45 3.45-3.45 3.45-3.45-3.45zM370.7 198.75l3.45 3.45-3.45 3.45-3.45-3.45zM497.1 91.05l3.45 3.45-3.45 3.45-3.45-3.45zM467.1 124.75l3.45 3.45-3.45 3.45-3.45-3.45zM308.5 229.45l3.45 3.45-3.45 3.45-3.45-3.45zM525.8 83.25l3.45 3.45-3.45 3.45-3.45-3.45zM468.4 125.35l3.45 3.45-3.45 3.45-3.45-3.45zM470.7 147.45l3.45 3.45-3.45 3.45-3.45-3.45zM400.4 167.15l3.45 3.45-3.45 3.45-3.45-3.45zM424.9 168.85l3.45 3.45-3.45 3.45-3.45-3.45zM407.1 164.45l3.45 3.45-3.45 3.45-3.45-3.45zM553.6 65.85l3.45 3.45-3.45 3.45-3.45-3.45zM399.3 144.85l3.45 3.45-3.45 3.45-3.45-3.45zM426.2 150.05l3.45 3.45-3.45 3.45-3.45-3.45zM369.7 175.25l3.45 3.45-3.45 3.45-3.45-3.45zM380.2 174.65l3.45 3.45-3.45 3.45-3.45-3.45zM464.1 102.15l3.45 3.45-3.45 3.45-3.45-3.45zM439.4 141.15l3.45 3.45-3.45 3.45-3.45-3.45zM436.1 115.55l3.45 3.45-3.45 3.45-3.45-3.45zM495.8 97.15l3.45 3.45-3.45 3.45-3.45-3.45zM444.2 131.75l3.45 3.45-3.45 3.45-3.45-3.45zM498.8 99.05l3.45 3.45-3.45 3.45-3.45-3.45zM485.9 115.35l3.45 3.45-3.45 3.45-3.45-3.45zM269.8 234.55l3.45 3.45-3.45 3.45-3.45-3.45zM411.7 203.45l3.45 3.45-3.45 3.45-3.45-3.45zM354.3 178.85l3.45 3.45-3.45 3.45-3.45-3.45zM309.9 240.15l3.45 3.45-3.45 3.45-3.45-3.45zM358.5 183.95l3.45 3.45-3.45 3.45-3.45-3.45zM402.8 151.55l3.45 3.45-3.45 3.45-3.45-3.45zM498.9 80.85l3.45 3.45-3.45 3.45-3.45-3.45zM349.7 183.25l3.45 3.45-3.45 3.45-3.45-3.45zM383.8 167.65l3.45 3.45-3.45 3.45-3.45-3.45zM323.6 210.15l3.45 3.45-3.45 3.45-3.45-3.45zM496.2 103.75l3.45 3.45-3.45 3.45-3.45-3.45zM540.5 68.05l3.45 3.45-3.45 3.45-3.45-3.45zM389.2 210.45l3.45 3.45-3.45 3.45-3.45-3.45zM243.6 277.75l3.45 3.45-3.45 3.45-3.45-3.45zM340.9 203.55l3.45 3.45-3.45 3.45-3.45-3.45zM376.3 168.95l3.45 3.45-3.45 3.45-3.45-3.45zM389.0 155.45l3.45 3.45-3.45 3.45-3.45-3.45zM335.9 215.85l3.45 3.45-3.45 3.45-3.45-3.45zM288.6 231.05l3.45 3.45-3.45 3.45-3.45-3.45zM401.0 196.85l3.45 3.45-3.45 3.45-3.45-3.45zM428.1 132.35l3.45 3.45-3.45 3.45-3.45-3.45zM374.8 164.75l3.45 3.45-3.45 3.45-3.45-3.45zM327.7 209.65l3.45 3.45-3.45 3.45-3.45-3.45zM457.6 136.35l3.45 3.45-3.45 3.45-3.45-3.45zM298.5 233.35l3.45 3.45-3.45 3.45-3.45-3.45zM383.5 149.95l3.45 3.45-3.45 3.45-3.45-3.45zM326.8 255.55l3.45 3.45-3.45 3.45-3.45-3.45zM323.9 239.15l3.45 3.45-3.45 3.45-3.45-3.45zM436.3 142.05l3.45 3.45-3.45 3.45-3.45-3.45zM501.6 110.65l3.45 3.45-3.45 3.45-3.45-3.45zM410.7 185.95l3.45 3.45-3.45 3.45-3.45-3.45zM412.6 154.65l3.45 3.45-3.45 3.45-3.45-3.45zM367.5 197.05l3.45 3.45-3.45 3.45-3.45-3.45zM438.1 136.05l3.45 3.45-3.45 3.45-3.45-3.45zM244.2 253.65l3.45 3.45-3.45 3.45-3.45-3.45zM479.8 139.95l3.45 3.45-3.45 3.45-3.45-3.45zM528.9 75.05l3.45 3.45-3.45 3.45-3.45-3.45zM416.2 145.25l3.45 3.45-3.45 3.45-3.45-3.45zM481.9 128.05l3.45 3.45-3.45 3.45-3.45-3.45zM401.5 181.55l3.45 3.45-3.45 3.45-3.45-3.45zM446.9 152.75l3.45 3.45-3.45 3.45-3.45-3.45zM356.3 197.05l3.45 3.45-3.45 3.45-3.45-3.45zM480.2 130.45l3.45 3.45-3.45 3.45-3.45-3.45zM448.7 124.75l3.45 3.45-3.45 3.45-3.45-3.45zM427.7 167.45l3.45 3.45-3.45 3.45-3.45-3.45zM297.9 238.55l3.45 3.45-3.45 3.45-3.45-3.45zM334.3 219.55l3.45 3.45-3.45 3.45-3.45-3.45zM342.4 212.25l3.45 3.45-3.45 3.45-3.45-3.45zM271.9 238.25l3.45 3.45-3.45 3.45-3.45-3.45zM538.7 65.95l3.45 3.45-3.45 3.45-3.45-3.45zM454.3 112.45l3.45 3.45-3.45 3.45-3.45-3.45zM373.3 186.15l3.45 3.45-3.45 3.45-3.45-3.45zM415.3 138.35l3.45 3.45-3.45 3.45-3.45-3.45zM438.4 117.95l3.45 3.45-3.45 3.45-3.45-3.45zM520.0 94.65l3.45 3.45-3.45 3.45-3.45-3.45zM488.5 99.45l3.45 3.45-3.45 3.45-3.45-3.45zM498.7 115.25l3.45 3.45-3.45 3.45-3.45-3.45zM266.3 248.05l3.45 3.45-3.45 3.45-3.45-3.45zM395.3 172.45l3.45 3.45-3.45 3.45-3.45-3.45zM473.0 118.85l3.45 3.45-3.45 3.45-3.45-3.45zM417.5 158.35l3.45 3.45-3.45 3.45-3.45-3.45zM380.3 175.95l3.45 3.45-3.45 3.45-3.45-3.45zM353.2 193.25l3.45 3.45-3.45 3.45-3.45-3.45zM377.3 201.45l3.45 3.45-3.45 3.45-3.45-3.45zM276.7 247.15l3.45 3.45-3.45 3.45-3.45-3.45zM324.3 187.95l3.45 3.45-3.45 3.45-3.45-3.45zM505.8 96.15l3.45 3.45-3.45 3.45-3.45-3.45zM440.3 114.15l3.45 3.45-3.45 3.45-3.45-3.45zM478.3 125.85l3.45 3.45-3.45 3.45-3.45-3.45zM469.6 112.25l3.45 3.45-3.45 3.45-3.45-3.45zM467.0 123.55l3.45 3.45-3.45 3.45-3.45-3.45zM502.6 89.85l3.45 3.45-3.45 3.45-3.45-3.45zM391.4 161.95l3.45 3.45-3.45 3.45-3.45-3.45zM311.8 264.85l3.45 3.45-3.45 3.45-3.45-3.45zM532.4 76.05l3.45 3.45-3.45 3.45-3.45-3.45zM403.4 192.65l3.45 3.45-3.45 3.45-3.45-3.45zM457.0 171.55l3.45 3.45-3.45 3.45-3.45-3.45zM388.3 152.25l3.45 3.45-3.45 3.45-3.45-3.45zM250.1 233.45l3.45 3.45-3.45 3.45-3.45-3.45zM418.4 147.35l3.45 3.45-3.45 3.45-3.45-3.45zM489.9 94.65l3.45 3.45-3.45 3.45-3.45-3.45zM409.9 163.95l3.45 3.45-3.45 3.45-3.45-3.45zM504.4 81.95l3.45 3.45-3.45 3.45-3.45-3.45zM428.4 156.55l3.45 3.45-3.45 3.45-3.45-3.45zM246.0 266.15l3.45 3.45-3.45 3.45-3.45-3.45zM362.2 211.65l3.45 3.45-3.45 3.45-3.45-3.45zM339.7 205.25l3.45 3.45-3.45 3.45-3.45-3.45zM410.5 164.35l3.45 3.45-3.45 3.45-3.45-3.45zM519.6 89.35l3.45 3.45-3.45 3.45-3.45-3.45zM475.8 115.15l3.45 3.45-3.45 3.45-3.45-3.45zM327.1 222.75l3.45 3.45-3.45 3.45-3.45-3.45zM455.4 165.25l3.45 3.45-3.45 3.45-3.45-3.45zM433.3 144.75l3.45 3.45-3.45 3.45-3.45-3.45zM490.6 100.65l3.45 3.45-3.45 3.45-3.45-3.45zM404.6 172.35l3.45 3.45-3.45 3.45-3.45-3.45zM363.8 203.35l3.45 3.45-3.45 3.45-3.45-3.45zM421.7 160.75l3.45 3.45-3.45 3.45-3.45-3.45zM471.8 135.65l3.45 3.45-3.45 3.45-3.45-3.45zM378.6 185.75l3.45 3.45-3.45 3.45-3.45-3.45zM392.7 160.15l3.45 3.45-3.45 3.45-3.45-3.45zM302.2 236.05l3.45 3.45-3.45 3.45-3.45-3.45zM548.0 69.35l3.45 3.45-3.45 3.45-3.45-3.45zM521.7 83.55l3.45 3.45-3.45 3.45-3.45-3.45zM428.5 159.85l3.45 3.45-3.45 3.45-3.45-3.45zM221.5 259.25l3.45 3.45-3.45 3.45-3.45-3.45zM357.9 189.35l3.45 3.45-3.45 3.45-3.45-3.45zM527.5 78.35l3.45 3.45-3.45 3.45-3.45-3.45zM469.0 141.75l3.45 3.45-3.45 3.45-3.45-3.45zM246.9 251.25l3.45 3.45-3.45 3.45-3.45-3.45zM362.2 181.55l3.45 3.45-3.45 3.45-3.45-3.45zM460.9 122.85l3.45 3.45-3.45 3.45-3.45-3.45zM403.8 189.85l3.45 3.45-3.45 3.45-3.45-3.45zM488.9 88.45l3.45 3.45-3.45 3.45-3.45-3.45zM508.3 110.65l3.45 3.45-3.45 3.45-3.45-3.45zM400.3 207.05l3.45 3.45-3.45 3.45-3.45-3.45zM484.5 129.15l3.45 3.45-3.45 3.45-3.45-3.45zM403.8 169.75l3.45 3.45-3.45 3.45-3.45-3.45zM215.9 288.75l3.45 3.45-3.45 3.45-3.45-3.45zM342.9 201.65l3.45 3.45-3.45 3.45-3.45-3.45zM485.6 105.35l3.45 3.45-3.45 3.45-3.45-3.45zM458.0 123.75l3.45 3.45-3.45 3.45-3.45-3.45zM385.1 187.35l3.45 3.45-3.45 3.45-3.45-3.45zM332.6 221.65l3.45 3.45-3.45 3.45-3.45-3.45zM466.8 109.05l3.45 3.45-3.45 3.45-3.45-3.45zM437.4 146.95l3.45 3.45-3.45 3.45-3.45-3.45zM416.0 165.75l3.45 3.45-3.45 3.45-3.45-3.45zM423.7 141.05l3.45 3.45-3.45 3.45-3.45-3.45zM291.6 216.45l3.45 3.45-3.45 3.45-3.45-3.45zM470.6 133.75l3.45 3.45-3.45 3.45-3.45-3.45zM346.7 194.95l3.45 3.45-3.45 3.45-3.45-3.45zM299.9 261.95l3.45 3.45-3.45 3.45-3.45-3.45zM509.9 98.15l3.45 3.45-3.45 3.45-3.45-3.45zM457.5 143.75l3.45 3.45-3.45 3.45-3.45-3.45zM456.3 122.55l3.45 3.45-3.45 3.45-3.45-3.45zM363.6 200.05l3.45 3.45-3.45 3.45-3.45-3.45zM408.2 176.95l3.45 3.45-3.45 3.45-3.45-3.45zM262.9 256.65l3.45 3.45-3.45 3.45-3.45-3.45zM414.3 142.45l3.45 3.45-3.45 3.45-3.45-3.45zM300.8 228.75l3.45 3.45-3.45 3.45-3.45-3.45zM418.8 138.55l3.45 3.45-3.45 3.45-3.45-3.45zM293.9 211.95l3.45 3.45-3.45 3.45-3.45-3.45zM445.3 163.85l3.45 3.45-3.45 3.45-3.45-3.45zM503.5 99.85l3.45 3.45-3.45 3.45-3.45-3.45zM447.4 139.35l3.45 3.45-3.45 3.45-3.45-3.45zM413.9 200.95l3.45 3.45-3.45 3.45-3.45-3.45zM360.1 203.95l3.45 3.45-3.45 3.45-3.45-3.45zM368.8 201.85l3.45 3.45-3.45 3.45-3.45-3.45zM539.8 70.45l3.45 3.45-3.45 3.45-3.45-3.45zM480.6 93.65l3.45 3.45-3.45 3.45-3.45-3.45zM262.3 220.35l3.45 3.45-3.45 3.45-3.45-3.45zM369.3 217.65l3.45 3.45-3.45 3.45-3.45-3.45zM467.9 121.15l3.45 3.45-3.45 3.45-3.45-3.45zM301.0 236.55l3.45 3.45-3.45 3.45-3.45-3.45zM462.8 122.75l3.45 3.45-3.45 3.45-3.45-3.45zM542.4 66.95l3.45 3.45-3.45 3.45-3.45-3.45zM365.1 174.45l3.45 3.45-3.45 3.45-3.45-3.45zM293.2 226.05l3.45 3.45-3.45 3.45-3.45-3.45zM286.9 243.75l3.45 3.45-3.45 3.45-3.45-3.45zM297.9 215.95l3.45 3.45-3.45 3.45-3.45-3.45zM424.9 130.75l3.45 3.45-3.45 3.45-3.45-3.45zM391.0 177.05l3.45 3.45-3.45 3.45-3.45-3.45zM236.1 256.45l3.45 3.45-3.45 3.45-3.45-3.45zM388.8 170.85l3.45 3.45-3.45 3.45-3.45-3.45zM438.1 147.45l3.45 3.45-3.45 3.45-3.45-3.45zM352.4 185.55l3.45 3.45-3.45 3.45-3.45-3.45zM317.7 222.45l3.45 3.45-3.45 3.45-3.45-3.45zM414.3 155.15l3.45 3.45-3.45 3.45-3.45-3.45zM534.2 69.85l3.45 3.45-3.45 3.45-3.45-3.45zM531.5 70.75l3.45 3.45-3.45 3.45-3.45-3.45zM436.2 163.05l3.45 3.45-3.45 3.45-3.45-3.45zM405.9 138.35l3.45 3.45-3.45 3.45-3.45-3.45zM224.0 277.65l3.45 3.45-3.45 3.45-3.45-3.45zM452.7 123.35l3.45 3.45-3.45 3.45-3.45-3.45zM302.0 232.45l3.45 3.45-3.45 3.45-3.45-3.45zM400.8 170.15l3.45 3.45-3.45 3.45-3.45-3.45zM375.4 189.65l3.45 3.45-3.45 3.45-3.45-3.45zM419.6 128.25l3.45 3.45-3.45 3.45-3.45-3.45zM398.1 184.65l3.45 3.45-3.45 3.45-3.45-3.45zM377.0 161.05l3.45 3.45-3.45 3.45-3.45-3.45zM457.4 166.95l3.45 3.45-3.45 3.45-3.45-3.45zM377.2 190.65l3.45 3.45-3.45 3.45-3.45-3.45zM445.7 155.15l3.45 3.45-3.45 3.45-3.45-3.45zM418.4 134.15l3.45 3.45-3.45 3.45-3.45-3.45zM429.2 164.65l3.45 3.45-3.45 3.45-3.45-3.45zM388.1 163.05l3.45 3.45-3.45 3.45-3.45-3.45zM428.5 128.35l3.45 3.45-3.45 3.45-3.45-3.45zM521.1 82.55l3.45 3.45-3.45 3.45-3.45-3.45zM399.1 150.95l3.45 3.45-3.45 3.45-3.45-3.45zM468.1 130.25l3.45 3.45-3.45 3.45-3.45-3.45zM483.1 126.95l3.45 3.45-3.45 3.45-3.45-3.45zM419.0 150.95l3.45 3.45-3.45 3.45-3.45-3.45zM309.2 228.75l3.45 3.45-3.45 3.45-3.45-3.45zM379.1 213.05l3.45 3.45-3.45 3.45-3.45-3.45zM387.6 162.55l3.45 3.45-3.45 3.45-3.45-3.45zM278.8 228.85l3.45 3.45-3.45 3.45-3.45-3.45zM294.2 224.35l3.45 3.45-3.45 3.45-3.45-3.45zM514.7 100.35l3.45 3.45-3.45 3.45-3.45-3.45zM419.8 135.15l3.45 3.45-3.45 3.45-3.45-3.45zM339.2 231.35l3.45 3.45-3.45 3.45-3.45-3.45zM465.2 99.25l3.45 3.45-3.45 3.45-3.45-3.45zM448.3 177.85l3.45 3.45-3.45 3.45-3.45-3.45zM481.5 118.45l3.45 3.45-3.45 3.45-3.45-3.45zM375.6 172.75l3.45 3.45-3.45 3.45-3.45-3.45zM537.0 72.95l3.45 3.45-3.45 3.45-3.45-3.45zM507.8 99.85l3.45 3.45-3.45 3.45-3.45-3.45zM310.6 249.75l3.45 3.45-3.45 3.45-3.45-3.45zM541.2 69.35l3.45 3.45-3.45 3.45-3.45-3.45zM377.0 174.55l3.45 3.45-3.45 3.45-3.45-3.45zM373.7 164.05l3.45 3.45-3.45 3.45-3.45-3.45zM423.9 178.75l3.45 3.45-3.45 3.45-3.45-3.45zM273.8 229.25l3.45 3.45-3.45 3.45-3.45-3.45zM440.6 155.45l3.45 3.45-3.45 3.45-3.45-3.45zM322.6 208.05l3.45 3.45-3.45 3.45-3.45-3.45zM446.4 154.45l3.45 3.45-3.45 3.45-3.45-3.45zM438.9 134.15l3.45 3.45-3.45 3.45-3.45-3.45zM315.8 233.45l3.45 3.45-3.45 3.45-3.45-3.45zM508.0 109.95l3.45 3.45-3.45 3.45-3.45-3.45zM474.1 126.95l3.45 3.45-3.45 3.45-3.45-3.45zM423.7 126.55l3.45 3.45-3.45 3.45-3.45-3.45zM479.5 103.15l3.45 3.45-3.45 3.45-3.45-3.45zM385.8 157.15l3.45 3.45-3.45 3.45-3.45-3.45zM372.5 209.75l3.45 3.45-3.45 3.45-3.45-3.45zM487.0 115.15l3.45 3.45-3.45 3.45-3.45-3.45zM476.8 138.25l3.45 3.45-3.45 3.45-3.45-3.45zM471.7 121.35l3.45 3.45-3.45 3.45-3.45-3.45zM474.5 131.55l3.45 3.45-3.45 3.45-3.45-3.45zM332.6 187.65l3.45 3.45-3.45 3.45-3.45-3.45zM389.9 166.85l3.45 3.45-3.45 3.45-3.45-3.45zM293.6 214.55l3.45 3.45-3.45 3.45-3.45-3.45zM456.8 122.05l3.45 3.45-3.45 3.45-3.45-3.45zM550.7 70.05l3.45 3.45-3.45 3.45-3.45-3.45zM320.9 216.25l3.45 3.45-3.45 3.45-3.45-3.45zM505.7 91.55l3.45 3.45-3.45 3.45-3.45-3.45zM437.2 165.45l3.45 3.45-3.45 3.45-3.45-3.45zM536.8 76.45l3.45 3.45-3.45 3.45-3.45-3.45zM479.2 93.95l3.45 3.45-3.45 3.45-3.45-3.45zM407.4 149.25l3.45 3.45-3.45 3.45-3.45-3.45zM534.0 92.75l3.45 3.45-3.45 3.45-3.45-3.45zM410.9 134.65l3.45 3.45-3.45 3.45-3.45-3.45zM439.1 133.25l3.45 3.45-3.45 3.45-3.45-3.45zM486.8 107.75l3.45 3.45-3.45 3.45-3.45-3.45zM297.8 213.85l3.45 3.45-3.45 3.45-3.45-3.45zM481.9 137.85l3.45 3.45-3.45 3.45-3.45-3.45zM536.6 83.65l3.45 3.45-3.45 3.45-3.45-3.45zM383.5 199.35l3.45 3.45-3.45 3.45-3.45-3.45zM428.9 185.05l3.45 3.45-3.45 3.45-3.45-3.45zM454.7 128.05l3.45 3.45-3.45 3.45-3.45-3.45zM481.0 103.45l3.45 3.45-3.45 3.45-3.45-3.45zM449.4 121.75l3.45 3.45-3.45 3.45-3.45-3.45zM278.1 231.25l3.45 3.45-3.45 3.45-3.45-3.45zM487.0 109.75l3.45 3.45-3.45 3.45-3.45-3.45zM545.1 72.35l3.45 3.45-3.45 3.45-3.45-3.45zM231.2 262.75l3.45 3.45-3.45 3.45-3.45-3.45zM355.3 167.25l3.45 3.45-3.45 3.45-3.45-3.45zM507.1 95.75l3.45 3.45-3.45 3.45-3.45-3.45zM440.4 168.15l3.45 3.45-3.45 3.45-3.45-3.45zM544.3 66.15l3.45 3.45-3.45 3.45-3.45-3.45zM535.8 66.05l3.45 3.45-3.45 3.45-3.45-3.45zM430.1 140.55l3.45 3.45-3.45 3.45-3.45-3.45zM486.7 95.85l3.45 3.45-3.45 3.45-3.45-3.45zM367.2 178.55l3.45 3.45-3.45 3.45-3.45-3.45zM422.9 162.55l3.45 3.45-3.45 3.45-3.45-3.45zM536.0 72.95l3.45 3.45-3.45 3.45-3.45-3.45zM388.5 200.15l3.45 3.45-3.45 3.45-3.45-3.45zM359.7 210.95l3.45 3.45-3.45 3.45-3.45-3.45zM457.4 147.25l3.45 3.45-3.45 3.45-3.45-3.45zM466.4 147.25l3.45 3.45-3.45 3.45-3.45-3.45zM429.3 163.15l3.45 3.45-3.45 3.45-3.45-3.45zM409.7 154.15l3.45 3.45-3.45 3.45-3.45-3.45zM382.0 163.45l3.45 3.45-3.45 3.45-3.45-3.45zM292.9 219.55l3.45 3.45-3.45 3.45-3.45-3.45zM464.2 120.05l3.45 3.45-3.45 3.45-3.45-3.45zM387.2 203.65l3.45 3.45-3.45 3.45-3.45-3.45zM333.9 223.95l3.45 3.45-3.45 3.45-3.45-3.45zM297.4 218.05l3.45 3.45-3.45 3.45-3.45-3.45zM357.3 176.05l3.45 3.45-3.45 3.45-3.45-3.45zM380.5 187.25l3.45 3.45-3.45 3.45-3.45-3.45zM373.9 156.45l3.45 3.45-3.45 3.45-3.45-3.45zM372.9 158.85l3.45 3.45-3.45 3.45-3.45-3.45zM467.1 107.75l3.45 3.45-3.45 3.45-3.45-3.45zM468.7 132.55l3.45 3.45-3.45 3.45-3.45-3.45zM314.4 219.45l3.45 3.45-3.45 3.45-3.45-3.45zM405.2 174.95l3.45 3.45-3.45 3.45-3.45-3.45zM310.7 251.75l3.45 3.45-3.45 3.45-3.45-3.45zM417.4 165.65l3.45 3.45-3.45 3.45-3.45-3.45zM375.7 176.35l3.45 3.45-3.45 3.45-3.45-3.45zM484.8 117.15l3.45 3.45-3.45 3.45-3.45-3.45zM512.3 79.25l3.45 3.45-3.45 3.45-3.45-3.45zM412.4 175.85l3.45 3.45-3.45 3.45-3.45-3.45zM338.5 236.95l3.45 3.45-3.45 3.45-3.45-3.45zM535.3 92.25l3.45 3.45-3.45 3.45-3.45-3.45zM308.1 238.35l3.45 3.45-3.45 3.45-3.45-3.45zM426.4 146.85l3.45 3.45-3.45 3.45-3.45-3.45zM424.3 146.85l3.45 3.45-3.45 3.45-3.45-3.45zM495.4 100.85l3.45 3.45-3.45 3.45-3.45-3.45zM400.0 169.25l3.45 3.45-3.45 3.45-3.45-3.45zM401.9 157.95l3.45 3.45-3.45 3.45-3.45-3.45zM465.0 122.75l3.45 3.45-3.45 3.45-3.45-3.45zM519.4 80.25l3.45 3.45-3.45 3.45-3.45-3.45zM485.2 118.65l3.45 3.45-3.45 3.45-3.45-3.45zM346.1 210.15l3.45 3.45-3.45 3.45-3.45-3.45zM415.5 161.85l3.45 3.45-3.45 3.45-3.45-3.45zM511.0 81.45l3.45 3.45-3.45 3.45-3.45-3.45zM279.7 224.05l3.45 3.45-3.45 3.45-3.45-3.45zM284.8 238.65l3.45 3.45-3.45 3.45-3.45-3.45zM368.2 154.95l3.45 3.45-3.45 3.45-3.45-3.45zM255.1 234.85l3.45 3.45-3.45 3.45-3.45-3.45zM487.9 103.75l3.45 3.45-3.45 3.45-3.45-3.45zM346.6 190.15l3.45 3.45-3.45 3.45-3.45-3.45zM439.2 180.15l3.45 3.45-3.45 3.45-3.45-3.45zM458.0 142.95l3.45 3.45-3.45 3.45-3.45-3.45zM336.6 215.75l3.45 3.45-3.45 3.45-3.45-3.45zM254.6 223.25l3.45 3.45-3.45 3.45-3.45-3.45zM386.8 168.75l3.45 3.45-3.45 3.45-3.45-3.45zM558.0 66.45l3.45 3.45-3.45 3.45-3.45-3.45zM504.7 88.15l3.45 3.45-3.45 3.45-3.45-3.45zM483.2 133.15l3.45 3.45-3.45 3.45-3.45-3.45zM309.6 227.15l3.45 3.45-3.45 3.45-3.45-3.45zM364.9 176.75l3.45 3.45-3.45 3.45-3.45-3.45zM195.1 277.65l3.45 3.45-3.45 3.45-3.45-3.45zM418.1 184.95l3.45 3.45-3.45 3.45-3.45-3.45zM231.3 287.25l3.45 3.45-3.45 3.45-3.45-3.45zM329.3 212.65l3.45 3.45-3.45 3.45-3.45-3.45zM285.3 196.55l3.45 3.45-3.45 3.45-3.45-3.45zM472.7 140.35l3.45 3.45-3.45 3.45-3.45-3.45zM475.0 137.35l3.45 3.45-3.45 3.45-3.45-3.45zM411.9 198.95l3.45 3.45-3.45 3.45-3.45-3.45zM435.1 139.45l3.45 3.45-3.45 3.45-3.45-3.45zM502.8 101.45l3.45 3.45-3.45 3.45-3.45-3.45zM407.9 137.65l3.45 3.45-3.45 3.45-3.45-3.45zM389.0 186.55l3.45 3.45-3.45 3.45-3.45-3.45zM372.0 202.85l3.45 3.45-3.45 3.45-3.45-3.45zM447.1 124.75l3.45 3.45-3.45 3.45-3.45-3.45zM371.1 203.85l3.45 3.45-3.45 3.45-3.45-3.45zM480.3 133.55l3.45 3.45-3.45 3.45-3.45-3.45zM351.6 197.85l3.45 3.45-3.45 3.45-3.45-3.45zM340.1 236.35l3.45 3.45-3.45 3.45-3.45-3.45zM510.8 104.35l3.45 3.45-3.45 3.45-3.45-3.45zM371.1 169.65l3.45 3.45-3.45 3.45-3.45-3.45zM487.3 121.85l3.45 3.45-3.45 3.45-3.45-3.45zM530.0 74.55l3.45 3.45-3.45 3.45-3.45-3.45zM470.2 128.15l3.45 3.45-3.45 3.45-3.45-3.45zM482.9 129.05l3.45 3.45-3.45 3.45-3.45-3.45zM483.0 105.75l3.45 3.45-3.45 3.45-3.45-3.45zM406.9 196.45l3.45 3.45-3.45 3.45-3.45-3.45zM390.6 182.15l3.45 3.45-3.45 3.45-3.45-3.45zM555.7 59.25l3.45 3.45-3.45 3.45-3.45-3.45zM284.0 203.35l3.45 3.45-3.45 3.45-3.45-3.45zM353.5 192.85l3.45 3.45-3.45 3.45-3.45-3.45zM373.5 183.75l3.45 3.45-3.45 3.45-3.45-3.45zM339.1 229.55l3.45 3.45-3.45 3.45-3.45-3.45zM440.5 143.35l3.45 3.45-3.45 3.45-3.45-3.45zM464.2 110.05l3.45 3.45-3.45 3.45-3.45-3.45zM501.0 102.85l3.45 3.45-3.45 3.45-3.45-3.45zM417.6 132.65l3.45 3.45-3.45 3.45-3.45-3.45zM326.3 208.15l3.45 3.45-3.45 3.45-3.45-3.45zM216.4 287.25l3.45 3.45-3.45 3.45-3.45-3.45zM223.5 277.65l3.45 3.45-3.45 3.45-3.45-3.45zM437.0 181.35l3.45 3.45-3.45 3.45-3.45-3.45zM406.4 142.45l3.45 3.45-3.45 3.45-3.45-3.45zM376.0 179.65l3.45 3.45-3.45 3.45-3.45-3.45zM374.1 181.85l3.45 3.45-3.45 3.45-3.45-3.45zM473.7 124.35l3.45 3.45-3.45 3.45-3.45-3.45zM379.5 177.95l3.45 3.45-3.45 3.45-3.45-3.45zM325.7 228.65l3.45 3.45-3.45 3.45-3.45-3.45zM487.3 104.15l3.45 3.45-3.45 3.45-3.45-3.45zM434.4 146.95l3.45 3.45-3.45 3.45-3.45-3.45zM422.4 162.45l3.45 3.45-3.45 3.45-3.45-3.45zM380.3 161.65l3.45 3.45-3.45 3.45-3.45-3.45zM482.5 106.85l3.45 3.45-3.45 3.45-3.45-3.45zM318.8 222.65l3.45 3.45-3.45 3.45-3.45-3.45zM302.2 239.35l3.45 3.45-3.45 3.45-3.45-3.45zM455.4 141.15l3.45 3.45-3.45 3.45-3.45-3.45zM283.9 231.05l3.45 3.45-3.45 3.45-3.45-3.45zM390.1 152.55l3.45 3.45-3.45 3.45-3.45-3.45zM376.1 188.65l3.45 3.45-3.45 3.45-3.45-3.45zM438.0 134.65l3.45 3.45-3.45 3.45-3.45-3.45zM326.8 229.85l3.45 3.45-3.45 3.45-3.45-3.45zM324.8 250.05l3.45 3.45-3.45 3.45-3.45-3.45zM455.5 109.55l3.45 3.45-3.45 3.45-3.45-3.45zM219.8 254.05l3.45 3.45-3.45 3.45-3.45-3.45zM395.4 187.35l3.45 3.45-3.45 3.45-3.45-3.45zM388.6 176.25l3.45 3.45-3.45 3.45-3.45-3.45zM504.2 89.65l3.45 3.45-3.45 3.45-3.45-3.45zM433.1 149.95l3.45 3.45-3.45 3.45-3.45-3.45zM356.9 228.05l3.45 3.45-3.45 3.45-3.45-3.45zM490.7 109.75l3.45 3.45-3.45 3.45-3.45-3.45zM241.4 278.45l3.45 3.45-3.45 3.45-3.45-3.45zM462.4 131.35l3.45 3.45-3.45 3.45-3.45-3.45zM293.4 250.05l3.45 3.45-3.45 3.45-3.45-3.45zM520.5 87.55l3.45 3.45-3.45 3.45-3.45-3.45zM483.0 96.55l3.45 3.45-3.45 3.45-3.45-3.45zM250.9 248.65l3.45 3.45-3.45 3.45-3.45-3.45zM300.1 214.85l3.45 3.45-3.45 3.45-3.45-3.45zM484.5 89.45l3.45 3.45-3.45 3.45-3.45-3.45zM488.0 93.85l3.45 3.45-3.45 3.45-3.45-3.45zM274.1 217.85l3.45 3.45-3.45 3.45-3.45-3.45zM476.2 131.55l3.45 3.45-3.45 3.45-3.45-3.45zM438.0 146.35l3.45 3.45-3.45 3.45-3.45-3.45zM398.5 195.55l3.45 3.45-3.45 3.45-3.45-3.45zM563.7 58.35l3.45 3.45-3.45 3.45-3.45-3.45zM424.0 161.25l3.45 3.45-3.45 3.45-3.45-3.45zM362.6 207.15l3.45 3.45-3.45 3.45-3.45-3.45zM458.1 128.95l3.45 3.45-3.45 3.45-3.45-3.45zM427.4 151.75l3.45 3.45-3.45 3.45-3.45-3.45zM488.4 107.95l3.45 3.45-3.45 3.45-3.45-3.45zM495.3 122.55l3.45 3.45-3.45 3.45-3.45-3.45zM452.2 121.45l3.45 3.45-3.45 3.45-3.45-3.45zM441.7 154.45l3.45 3.45-3.45 3.45-3.45-3.45zM490.4 95.15l3.45 3.45-3.45 3.45-3.45-3.45zM491.2 105.05l3.45 3.45-3.45 3.45-3.45-3.45zM326.0 199.45l3.45 3.45-3.45 3.45-3.45-3.45zM488.2 102.05l3.45 3.45-3.45 3.45-3.45-3.45zM528.1 71.35l3.45 3.45-3.45 3.45-3.45-3.45zM536.8 72.55l3.45 3.45-3.45 3.45-3.45-3.45zM490.4 83.95l3.45 3.45-3.45 3.45-3.45-3.45zM303.3 221.65l3.45 3.45-3.45 3.45-3.45-3.45zM473.7 132.55l3.45 3.45-3.45 3.45-3.45-3.45zM464.6 108.95l3.45 3.45-3.45 3.45-3.45-3.45zM536.5 82.45l3.45 3.45-3.45 3.45-3.45-3.45zM452.9 167.75l3.45 3.45-3.45 3.45-3.45-3.45zM454.2 139.35l3.45 3.45-3.45 3.45-3.45-3.45zM491.2 118.85l3.45 3.45-3.45 3.45-3.45-3.45zM468.0 141.85l3.45 3.45-3.45 3.45-3.45-3.45zM261.5 227.55l3.45 3.45-3.45 3.45-3.45-3.45zM433.5 119.95l3.45 3.45-3.45 3.45-3.45-3.45zM452.4 172.65l3.45 3.45-3.45 3.45-3.45-3.45zM498.5 107.45l3.45 3.45-3.45 3.45-3.45-3.45zM472.7 109.15l3.45 3.45-3.45 3.45-3.45-3.45zM522.6 82.85l3.45 3.45-3.45 3.45-3.45-3.45zM465.4 108.85l3.45 3.45-3.45 3.45-3.45-3.45zM430.3 145.05l3.45 3.45-3.45 3.45-3.45-3.45zM337.9 209.45l3.45 3.45-3.45 3.45-3.45-3.45zM478.8 133.85l3.45 3.45-3.45 3.45-3.45-3.45zM431.2 142.65l3.45 3.45-3.45 3.45-3.45-3.45zM237.7 260.05l3.45 3.45-3.45 3.45-3.45-3.45zM334.1 200.15l3.45 3.45-3.45 3.45-3.45-3.45zM406.0 155.55l3.45 3.45-3.45 3.45-3.45-3.45zM446.7 165.15l3.45 3.45-3.45 3.45-3.45-3.45zM424.9 167.65l3.45 3.45-3.45 3.45-3.45-3.45zM278.1 243.55l3.45 3.45-3.45 3.45-3.45-3.45zM259.7 222.65l3.45 3.45-3.45 3.45-3.45-3.45zM479.5 116.35l3.45 3.45-3.45 3.45-3.45-3.45zM297.6 220.25l3.45 3.45-3.45 3.45-3.45-3.45zM482.7 112.55l3.45 3.45-3.45 3.45-3.45-3.45zM282.0 244.65l3.45 3.45-3.45 3.45-3.45-3.45zM502.8 99.15l3.45 3.45-3.45 3.45-3.45-3.45zM247.7 256.25l3.45 3.45-3.45 3.45-3.45-3.45zM431.4 146.15l3.45 3.45-3.45 3.45-3.45-3.45zM383.9 150.85l3.45 3.45-3.45 3.45-3.45-3.45zM541.4 75.85l3.45 3.45-3.45 3.45-3.45-3.45zM496.4 111.95l3.45 3.45-3.45 3.45-3.45-3.45zM425.0 138.25l3.45 3.45-3.45 3.45-3.45-3.45zM313.7 226.35l3.45 3.45-3.45 3.45-3.45-3.45zM308.9 220.05l3.45 3.45-3.45 3.45-3.45-3.45zM315.5 239.15l3.45 3.45-3.45 3.45-3.45-3.45zM453.3 135.65l3.45 3.45-3.45 3.45-3.45-3.45zM417.9 187.65l3.45 3.45-3.45 3.45-3.45-3.45zM368.3 219.65l3.45 3.45-3.45 3.45-3.45-3.45zM388.6 184.85l3.45 3.45-3.45 3.45-3.45-3.45zM350.7 191.85l3.45 3.45-3.45 3.45-3.45-3.45zM394.1 172.15l3.45 3.45-3.45 3.45-3.45-3.45zM503.6 88.25l3.45 3.45-3.45 3.45-3.45-3.45zM374.2 213.35l3.45 3.45-3.45 3.45-3.45-3.45zM387.4 166.65l3.45 3.45-3.45 3.45-3.45-3.45zM364.2 208.05l3.45 3.45-3.45 3.45-3.45-3.45zM426.8 180.05l3.45 3.45-3.45 3.45-3.45-3.45zM437.3 152.85l3.45 3.45-3.45 3.45-3.45-3.45zM434.5 133.35l3.45 3.45-3.45 3.45-3.45-3.45zM223.9 289.25l3.45 3.45-3.45 3.45-3.45-3.45zM401.3 143.55l3.45 3.45-3.45 3.45-3.45-3.45zM459.4 132.45l3.45 3.45-3.45 3.45-3.45-3.45zM307.2 213.25l3.45 3.45-3.45 3.45-3.45-3.45zM321.6 230.15l3.45 3.45-3.45 3.45-3.45-3.45zM234.6 259.45l3.45 3.45-3.45 3.45-3.45-3.45zM421.3 133.35l3.45 3.45-3.45 3.45-3.45-3.45zM531.3 72.75l3.45 3.45-3.45 3.45-3.45-3.45zM315.0 231.85l3.45 3.45-3.45 3.45-3.45-3.45zM484.5 125.95l3.45 3.45-3.45 3.45-3.45-3.45zM278.7 236.85l3.45 3.45-3.45 3.45-3.45-3.45zM494.3 117.15l3.45 3.45-3.45 3.45-3.45-3.45zM435.0 154.15l3.45 3.45-3.45 3.45-3.45-3.45zM345.0 217.05l3.45 3.45-3.45 3.45-3.45-3.45zM320.7 209.95l3.45 3.45-3.45 3.45-3.45-3.45zM433.7 146.15l3.45 3.45-3.45 3.45-3.45-3.45zM480.3 134.05l3.45 3.45-3.45 3.45-3.45-3.45zM342.9 203.05l3.45 3.45-3.45 3.45-3.45-3.45zM412.9 151.55l3.45 3.45-3.45 3.45-3.45-3.45zM360.2 186.15l3.45 3.45-3.45 3.45-3.45-3.45zM366.9 191.05l3.45 3.45-3.45 3.45-3.45-3.45zM438.4 168.65l3.45 3.45-3.45 3.45-3.45-3.45zM382.7 153.25l3.45 3.45-3.45 3.45-3.45-3.45zM511.8 82.05l3.45 3.45-3.45 3.45-3.45-3.45zM494.3 97.55l3.45 3.45-3.45 3.45-3.45-3.45zM255.6 246.65l3.45 3.45-3.45 3.45-3.45-3.45zM340.9 204.55l3.45 3.45-3.45 3.45-3.45-3.45zM478.2 113.35l3.45 3.45-3.45 3.45-3.45-3.45zM353.1 188.75l3.45 3.45-3.45 3.45-3.45-3.45zM429.8 125.45l3.45 3.45-3.45 3.45-3.45-3.45zM289.4 254.95l3.45 3.45-3.45 3.45-3.45-3.45zM293.2 216.45l3.45 3.45-3.45 3.45-3.45-3.45zM248.7 235.25l3.45 3.45-3.45 3.45-3.45-3.45zM392.4 161.05l3.45 3.45-3.45 3.45-3.45-3.45zM374.6 188.25l3.45 3.45-3.45 3.45-3.45-3.45zM362.6 182.05l3.45 3.45-3.45 3.45-3.45-3.45zM412.0 162.75l3.45 3.45-3.45 3.45-3.45-3.45zM461.7 118.75l3.45 3.45-3.45 3.45-3.45-3.45zM417.0 137.55l3.45 3.45-3.45 3.45-3.45-3.45zM492.2 99.45l3.45 3.45-3.45 3.45-3.45-3.45zM408.2 153.35l3.45 3.45-3.45 3.45-3.45-3.45zM334.1 219.05l3.45 3.45-3.45 3.45-3.45-3.45zM313.3 226.05l3.45 3.45-3.45 3.45-3.45-3.45zM294.5 261.75l3.45 3.45-3.45 3.45-3.45-3.45zM487.4 128.25l3.45 3.45-3.45 3.45-3.45-3.45zM409.5 167.25l3.45 3.45-3.45 3.45-3.45-3.45zM245.4 252.45l3.45 3.45-3.45 3.45-3.45-3.45zM260.4 259.85l3.45 3.45-3.45 3.45-3.45-3.45zM415.2 166.45l3.45 3.45-3.45 3.45-3.45-3.45zM564.0 60.75l3.45 3.45-3.45 3.45-3.45-3.45zM469.5 153.15l3.45 3.45-3.45 3.45-3.45-3.45zM461.0 151.25l3.45 3.45-3.45 3.45-3.45-3.45zM482.3 105.85l3.45 3.45-3.45 3.45-3.45-3.45zM475.9 151.45l3.45 3.45-3.45 3.45-3.45-3.45zM484.3 125.85l3.45 3.45-3.45 3.45-3.45-3.45zM342.7 230.85l3.45 3.45-3.45 3.45-3.45-3.45zM375.5 223.55l3.45 3.45-3.45 3.45-3.45-3.45zM502.6 88.65l3.45 3.45-3.45 3.45-3.45-3.45zM412.2 158.85l3.45 3.45-3.45 3.45-3.45-3.45zM412.2 155.45l3.45 3.45-3.45 3.45-3.45-3.45zM380.2 169.15l3.45 3.45-3.45 3.45-3.45-3.45zM394.7 165.85l3.45 3.45-3.45 3.45-3.45-3.45zM376.3 174.65l3.45 3.45-3.45 3.45-3.45-3.45zM431.3 148.65l3.45 3.45-3.45 3.45-3.45-3.45zM437.3 165.55l3.45 3.45-3.45 3.45-3.45-3.45zM283.9 219.05l3.45 3.45-3.45 3.45-3.45-3.45zM549.8 64.75l3.45 3.45-3.45 3.45-3.45-3.45zM371.8 223.55l3.45 3.45-3.45 3.45-3.45-3.45zM426.2 162.05l3.45 3.45-3.45 3.45-3.45-3.45zM454.2 132.85l3.45 3.45-3.45 3.45-3.45-3.45zM469.3 124.65l3.45 3.45-3.45 3.45-3.45-3.45zM453.5 127.45l3.45 3.45-3.45 3.45-3.45-3.45zM400.5 182.55l3.45 3.45-3.45 3.45-3.45-3.45zM454.6 161.35l3.45 3.45-3.45 3.45-3.45-3.45zM357.9 203.45l3.45 3.45-3.45 3.45-3.45-3.45zM387.8 187.75l3.45 3.45-3.45 3.45-3.45-3.45zM433.0 142.45l3.45 3.45-3.45 3.45-3.45-3.45zM525.3 72.75l3.45 3.45-3.45 3.45-3.45-3.45zM410.4 134.75l3.45 3.45-3.45 3.45-3.45-3.45zM395.2 187.55l3.45 3.45-3.45 3.45-3.45-3.45zM405.0 179.35l3.45 3.45-3.45 3.45-3.45-3.45zM400.6 193.65l3.45 3.45-3.45 3.45-3.45-3.45zM407.9 178.85l3.45 3.45-3.45 3.45-3.45-3.45zM337.7 213.45l3.45 3.45-3.45 3.45-3.45-3.45zM407.9 200.65l3.45 3.45-3.45 3.45-3.45-3.45zM473.4 125.85l3.45 3.45-3.45 3.45-3.45-3.45zM434.2 119.25l3.45 3.45-3.45 3.45-3.45-3.45zM424.7 157.85l3.45 3.45-3.45 3.45-3.45-3.45zM361.2 181.95l3.45 3.45-3.45 3.45-3.45-3.45zM408.5 190.25l3.45 3.45-3.45 3.45-3.45-3.45zM289.3 255.65l3.45 3.45-3.45 3.45-3.45-3.45zM467.8 117.75l3.45 3.45-3.45 3.45-3.45-3.45zM494.1 116.25l3.45 3.45-3.45 3.45-3.45-3.45zM325.1 241.55l3.45 3.45-3.45 3.45-3.45-3.45zM418.0 118.05l3.45 3.45-3.45 3.45-3.45-3.45zM411.3 191.55l3.45 3.45-3.45 3.45-3.45-3.45zM362.2 168.65l3.45 3.45-3.45 3.45-3.45-3.45zM228.9 264.85l3.45 3.45-3.45 3.45-3.45-3.45zM504.3 82.65l3.45 3.45-3.45 3.45-3.45-3.45zM306.9 205.15l3.45 3.45-3.45 3.45-3.45-3.45zM451.4 177.65l3.45 3.45-3.45 3.45-3.45-3.45zM415.7 128.15l3.45 3.45-3.45 3.45-3.45-3.45zM278.0 227.75l3.45 3.45-3.45 3.45-3.45-3.45zM527.9 81.85l3.45 3.45-3.45 3.45-3.45-3.45zM397.2 181.95l3.45 3.45-3.45 3.45-3.45-3.45zM343.4 198.85l3.45 3.45-3.45 3.45-3.45-3.45zM400.2 171.55l3.45 3.45-3.45 3.45-3.45-3.45zM485.0 89.75l3.45 3.45-3.45 3.45-3.45-3.45zM333.9 191.45l3.45 3.45-3.45 3.45-3.45-3.45zM319.6 258.65l3.45 3.45-3.45 3.45-3.45-3.45zM432.2 145.35l3.45 3.45-3.45 3.45-3.45-3.45zM453.5 108.65l3.45 3.45-3.45 3.45-3.45-3.45zM305.8 226.55l3.45 3.45-3.45 3.45-3.45-3.45zM335.6 223.45l3.45 3.45-3.45 3.45-3.45-3.45zM435.7 133.35l3.45 3.45-3.45 3.45-3.45-3.45zM364.4 206.05l3.45 3.45-3.45 3.45-3.45-3.45zM445.3 143.25l3.45 3.45-3.45 3.45-3.45-3.45zM336.5 215.45l3.45 3.45-3.45 3.45-3.45-3.45zM422.6 124.55l3.45 3.45-3.45 3.45-3.45-3.45zM275.5 209.85l3.45 3.45-3.45 3.45-3.45-3.45zM487.6 128.75l3.45 3.45-3.45 3.45-3.45-3.45zM361.7 182.35l3.45 3.45-3.45 3.45-3.45-3.45zM480.3 149.05l3.45 3.45-3.45 3.45-3.45-3.45zM320.9 245.75l3.45 3.45-3.45 3.45-3.45-3.45zM463.8 166.05l3.45 3.45-3.45 3.45-3.45-3.45zM480.8 115.65l3.45 3.45-3.45 3.45-3.45-3.45zM509.5 85.35l3.45 3.45-3.45 3.45-3.45-3.45zM327.5 222.25l3.45 3.45-3.45 3.45-3.45-3.45zM454.0 133.85l3.45 3.45-3.45 3.45-3.45-3.45zM487.3 87.85l3.45 3.45-3.45 3.45-3.45-3.45zM489.9 105.65l3.45 3.45-3.45 3.45-3.45-3.45zM481.3 136.15l3.45 3.45-3.45 3.45-3.45-3.45zM495.7 97.45l3.45 3.45-3.45 3.45-3.45-3.45zM481.0 130.45l3.45 3.45-3.45 3.45-3.45-3.45zM286.4 223.05l3.45 3.45-3.45 3.45-3.45-3.45zM460.5 110.65l3.45 3.45-3.45 3.45-3.45-3.45zM338.5 222.05l3.45 3.45-3.45 3.45-3.45-3.45zM416.5 167.65l3.45 3.45-3.45 3.45-3.45-3.45zM425.1 143.15l3.45 3.45-3.45 3.45-3.45-3.45zM326.1 238.25l3.45 3.45-3.45 3.45-3.45-3.45zM395.2 176.65l3.45 3.45-3.45 3.45-3.45-3.45zM460.9 133.15l3.45 3.45-3.45 3.45-3.45-3.45zM397.4 173.55l3.45 3.45-3.45 3.45-3.45-3.45zM236.9 264.45l3.45 3.45-3.45 3.45-3.45-3.45zM346.1 188.25l3.45 3.45-3.45 3.45-3.45-3.45zM474.2 113.75l3.45 3.45-3.45 3.45-3.45-3.45zM371.5 166.85l3.45 3.45-3.45 3.45-3.45-3.45zM505.6 96.45l3.45 3.45-3.45 3.45-3.45-3.45zM489.9 123.05l3.45 3.45-3.45 3.45-3.45-3.45zM454.2 149.25l3.45 3.45-3.45 3.45-3.45-3.45zM344.4 219.85l3.45 3.45-3.45 3.45-3.45-3.45zM376.8 191.55l3.45 3.45-3.45 3.45-3.45-3.45zM420.1 197.05l3.45 3.45-3.45 3.45-3.45-3.45zM331.9 223.35l3.45 3.45-3.45 3.45-3.45-3.45zM337.3 212.35l3.45 3.45-3.45 3.45-3.45-3.45zM394.5 150.25l3.45 3.45-3.45 3.45-3.45-3.45zM470.4 122.15l3.45 3.45-3.45 3.45-3.45-3.45zM436.0 183.45l3.45 3.45-3.45 3.45-3.45-3.45zM356.0 184.25l3.45 3.45-3.45 3.45-3.45-3.45zM429.7 139.75l3.45 3.45-3.45 3.45-3.45-3.45zM298.9 259.65l3.45 3.45-3.45 3.45-3.45-3.45zM400.6 190.95l3.45 3.45-3.45 3.45-3.45-3.45zM221.0 257.55l3.45 3.45-3.45 3.45-3.45-3.45zM408.9 151.95l3.45 3.45-3.45 3.45-3.45-3.45zM507.2 87.65l3.45 3.45-3.45 3.45-3.45-3.45zM401.8 174.35l3.45 3.45-3.45 3.45-3.45-3.45zM400.8 214.35l3.45 3.45-3.45 3.45-3.45-3.45zM437.7 117.35l3.45 3.45-3.45 3.45-3.45-3.45zM527.1 76.75l3.45 3.45-3.45 3.45-3.45-3.45zM435.0 158.05l3.45 3.45-3.45 3.45-3.45-3.45zM262.7 246.25l3.45 3.45-3.45 3.45-3.45-3.45zM411.0 157.35l3.45 3.45-3.45 3.45-3.45-3.45zM348.0 222.85l3.45 3.45-3.45 3.45-3.45-3.45zM376.3 171.25l3.45 3.45-3.45 3.45-3.45-3.45zM515.5 92.95l3.45 3.45-3.45 3.45-3.45-3.45zM387.3 166.35l3.45 3.45-3.45 3.45-3.45-3.45zM544.9 69.05l3.45 3.45-3.45 3.45-3.45-3.45zM450.2 174.85l3.45 3.45-3.45 3.45-3.45-3.45zM458.2 133.45l3.45 3.45-3.45 3.45-3.45-3.45zM421.6 180.05l3.45 3.45-3.45 3.45-3.45-3.45zM391.0 148.35l3.45 3.45-3.45 3.45-3.45-3.45zM470.4 95.25l3.45 3.45-3.45 3.45-3.45-3.45zM281.2 229.85l3.45 3.45-3.45 3.45-3.45-3.45zM316.9 217.75l3.45 3.45-3.45 3.45-3.45-3.45zM414.8 180.45l3.45 3.45-3.45 3.45-3.45-3.45zM487.3 127.15l3.45 3.45-3.45 3.45-3.45-3.45zM455.7 115.15l3.45 3.45-3.45 3.45-3.45-3.45zM510.7 89.75l3.45 3.45-3.45 3.45-3.45-3.45zM452.4 139.55l3.45 3.45-3.45 3.45-3.45-3.45zM544.6 67.85l3.45 3.45-3.45 3.45-3.45-3.45zM335.5 200.85l3.45 3.45-3.45 3.45-3.45-3.45zM506.0 95.35l3.45 3.45-3.45 3.45-3.45-3.45zM442.6 154.15l3.45 3.45-3.45 3.45-3.45-3.45zM323.9 236.45l3.45 3.45-3.45 3.45-3.45-3.45zM448.1 159.45l3.45 3.45-3.45 3.45-3.45-3.45zM403.4 163.05l3.45 3.45-3.45 3.45-3.45-3.45zM485.0 101.45l3.45 3.45-3.45 3.45-3.45-3.45zM383.6 147.45l3.45 3.45-3.45 3.45-3.45-3.45zM464.1 158.55l3.45 3.45-3.45 3.45-3.45-3.45zM530.6 93.25l3.45 3.45-3.45 3.45-3.45-3.45zM519.3 82.45l3.45 3.45-3.45 3.45-3.45-3.45zM507.1 79.25l3.45 3.45-3.45 3.45-3.45-3.45zM383.2 162.35l3.45 3.45-3.45 3.45-3.45-3.45zM552.6 71.25l3.45 3.45-3.45 3.45-3.45-3.45zM346.3 224.45l3.45 3.45-3.45 3.45-3.45-3.45zM493.4 99.85l3.45 3.45-3.45 3.45-3.45-3.45zM543.1 63.85l3.45 3.45-3.45 3.45-3.45-3.45zM388.3 179.75l3.45 3.45-3.45 3.45-3.45-3.45zM363.7 185.85l3.45 3.45-3.45 3.45-3.45-3.45zM361.9 204.65l3.45 3.45-3.45 3.45-3.45-3.45zM387.8 188.35l3.45 3.45-3.45 3.45-3.45-3.45zM465.7 123.85l3.45 3.45-3.45 3.45-3.45-3.45zM213.2 264.45l3.45 3.45-3.45 3.45-3.45-3.45zM398.3 158.35l3.45 3.45-3.45 3.45-3.45-3.45zM269.2 262.45l3.45 3.45-3.45 3.45-3.45-3.45zM506.3 87.55l3.45 3.45-3.45 3.45-3.45-3.45zM443.5 133.45l3.45 3.45-3.45 3.45-3.45-3.45zM281.9 216.95l3.45 3.45-3.45 3.45-3.45-3.45zM408.3 200.65l3.45 3.45-3.45 3.45-3.45-3.45zM325.6 226.05l3.45 3.45-3.45 3.45-3.45-3.45zM471.6 126.05l3.45 3.45-3.45 3.45-3.45-3.45zM403.4 191.15l3.45 3.45-3.45 3.45-3.45-3.45zM376.8 191.05l3.45 3.45-3.45 3.45-3.45-3.45zM377.4 174.55l3.45 3.45-3.45 3.45-3.45-3.45zM279.9 235.05l3.45 3.45-3.45 3.45-3.45-3.45zM337.9 260.25l3.45 3.45-3.45 3.45-3.45-3.45zM264.3 222.75l3.45 3.45-3.45 3.45-3.45-3.45zM460.3 128.15l3.45 3.45-3.45 3.45-3.45-3.45zM391.5 194.75l3.45 3.45-3.45 3.45-3.45-3.45zM213.4 289.45l3.45 3.45-3.45 3.45-3.45-3.45zM467.6 138.05l3.45 3.45-3.45 3.45-3.45-3.45zM378.3 187.85l3.45 3.45-3.45 3.45-3.45-3.45zM466.5 151.65l3.45 3.45-3.45 3.45-3.45-3.45zM528.8 89.15l3.45 3.45-3.45 3.45-3.45-3.45zM353.3 187.95l3.45 3.45-3.45 3.45-3.45-3.45zM547.8 65.95l3.45 3.45-3.45 3.45-3.45-3.45zM256.6 239.05l3.45 3.45-3.45 3.45-3.45-3.45zM313.8 242.75l3.45 3.45-3.45 3.45-3.45-3.45zM329.3 211.85l3.45 3.45-3.45 3.45-3.45-3.45zM269.3 234.35l3.45 3.45-3.45 3.45-3.45-3.45zM413.6 154.45l3.45 3.45-3.45 3.45-3.45-3.45zM452.9 121.45l3.45 3.45-3.45 3.45-3.45-3.45zM416.5 170.85l3.45 3.45-3.45 3.45-3.45-3.45zM566.0 55.75l3.45 3.45-3.45 3.45-3.45-3.45zM365.6 176.75l3.45 3.45-3.45 3.45-3.45-3.45zM390.4 168.85l3.45 3.45-3.45 3.45-3.45-3.45zM264.7 246.85l3.45 3.45-3.45 3.45-3.45-3.45zM421.7 133.85l3.45 3.45-3.45 3.45-3.45-3.45zM327.0 232.95l3.45 3.45-3.45 3.45-3.45-3.45zM539.9 74.65l3.45 3.45-3.45 3.45-3.45-3.45zM535.7 68.55l3.45 3.45-3.45 3.45-3.45-3.45zM530.3 84.15l3.45 3.45-3.45 3.45-3.45-3.45zM460.5 109.55l3.45 3.45-3.45 3.45-3.45-3.45zM489.6 115.55l3.45 3.45-3.45 3.45-3.45-3.45zM409.6 155.45l3.45 3.45-3.45 3.45-3.45-3.45zM205.6 283.45l3.45 3.45-3.45 3.45-3.45-3.45zM449.4 150.45l3.45 3.45-3.45 3.45-3.45-3.45zM361.7 170.55l3.45 3.45-3.45 3.45-3.45-3.45zM362.3 167.65l3.45 3.45-3.45 3.45-3.45-3.45zM430.2 143.15l3.45 3.45-3.45 3.45-3.45-3.45zM403.4 204.15l3.45 3.45-3.45 3.45-3.45-3.45zM437.3 148.15l3.45 3.45-3.45 3.45-3.45-3.45zM514.3 90.55l3.45 3.45-3.45 3.45-3.45-3.45zM249.3 244.75l3.45 3.45-3.45 3.45-3.45-3.45zM395.4 191.45l3.45 3.45-3.45 3.45-3.45-3.45zM406.2 181.65l3.45 3.45-3.45 3.45-3.45-3.45zM421.7 159.15l3.45 3.45-3.45 3.45-3.45-3.45zM378.2 166.95l3.45 3.45-3.45 3.45-3.45-3.45zM482.5 129.15l3.45 3.45-3.45 3.45-3.45-3.45zM395.3 158.65l3.45 3.45-3.45 3.45-3.45-3.45zM249.0 275.45l3.45 3.45-3.45 3.45-3.45-3.45zM490.5 112.45l3.45 3.45-3.45 3.45-3.45-3.45zM373.6 200.75l3.45 3.45-3.45 3.45-3.45-3.45zM424.1 142.55l3.45 3.45-3.45 3.45-3.45-3.45zM469.1 128.65l3.45 3.45-3.45 3.45-3.45-3.45zM374.0 190.95l3.45 3.45-3.45 3.45-3.45-3.45zM403.6 135.95l3.45 3.45-3.45 3.45-3.45-3.45zM455.4 109.15l3.45 3.45-3.45 3.45-3.45-3.45zM216.4 287.05l3.45 3.45-3.45 3.45-3.45-3.45zM564.8 58.25l3.45 3.45-3.45 3.45-3.45-3.45zM507.9 83.65l3.45 3.45-3.45 3.45-3.45-3.45zM547.0 70.05l3.45 3.45-3.45 3.45-3.45-3.45zM436.8 117.85l3.45 3.45-3.45 3.45-3.45-3.45zM451.0 156.85l3.45 3.45-3.45 3.45-3.45-3.45zM305.5 206.05l3.45 3.45-3.45 3.45-3.45-3.45zM431.1 134.95l3.45 3.45-3.45 3.45-3.45-3.45zM371.7 209.95l3.45 3.45-3.45 3.45-3.45-3.45zM540.7 64.05l3.45 3.45-3.45 3.45-3.45-3.45zM201.6 278.05l3.45 3.45-3.45 3.45-3.45-3.45zM479.5 108.25l3.45 3.45-3.45 3.45-3.45-3.45zM343.2 185.65l3.45 3.45-3.45 3.45-3.45-3.45zM426.4 155.45l3.45 3.45-3.45 3.45-3.45-3.45zM221.9 262.25l3.45 3.45-3.45 3.45-3.45-3.45zM447.2 158.05l3.45 3.45-3.45 3.45-3.45-3.45zM478.8 155.85l3.45 3.45-3.45 3.45-3.45-3.45zM436.0 129.35l3.45 3.45-3.45 3.45-3.45-3.45zM491.6 104.95l3.45 3.45-3.45 3.45-3.45-3.45zM408.2 153.45l3.45 3.45-3.45 3.45-3.45-3.45zM424.7 168.35l3.45 3.45-3.45 3.45-3.45-3.45zM525.1 78.55l3.45 3.45-3.45 3.45-3.45-3.45zM402.8 189.45l3.45 3.45-3.45 3.45-3.45-3.45zM419.5 153.25l3.45 3.45-3.45 3.45-3.45-3.45zM538.9 65.95l3.45 3.45-3.45 3.45-3.45-3.45zM376.1 193.65l3.45 3.45-3.45 3.45-3.45-3.45zM365.0 194.25l3.45 3.45-3.45 3.45-3.45-3.45zM221.7 258.65l3.45 3.45-3.45 3.45-3.45-3.45zM328.2 209.45l3.45 3.45-3.45 3.45-3.45-3.45zM424.0 128.15l3.45 3.45-3.45 3.45-3.45-3.45zM454.8 116.75l3.45 3.45-3.45 3.45-3.45-3.45zM298.2 222.65l3.45 3.45-3.45 3.45-3.45-3.45zM407.6 155.55l3.45 3.45-3.45 3.45-3.45-3.45zM432.6 159.95l3.45 3.45-3.45 3.45-3.45-3.45zM431.4 152.95l3.45 3.45-3.45 3.45-3.45-3.45zM219.4 267.35l3.45 3.45-3.45 3.45-3.45-3.45zM357.4 203.95l3.45 3.45-3.45 3.45-3.45-3.45zM536.4 66.35l3.45 3.45-3.45 3.45-3.45-3.45zM491.1 117.45l3.45 3.45-3.45 3.45-3.45-3.45zM327.5 246.65l3.45 3.45-3.45 3.45-3.45-3.45zM491.7 94.65l3.45 3.45-3.45 3.45-3.45-3.45zM472.7 119.15l3.45 3.45-3.45 3.45-3.45-3.45zM411.8 179.55l3.45 3.45-3.45 3.45-3.45-3.45zM284.9 208.95l3.45 3.45-3.45 3.45-3.45-3.45zM493.0 87.95l3.45 3.45-3.45 3.45-3.45-3.45zM456.8 110.95l3.45 3.45-3.45 3.45-3.45-3.45zM367.6 222.55l3.45 3.45-3.45 3.45-3.45-3.45zM357.4 197.05l3.45 3.45-3.45 3.45-3.45-3.45zM542.6 71.05l3.45 3.45-3.45 3.45-3.45-3.45zM451.6 145.25l3.45 3.45-3.45 3.45-3.45-3.45zM516.8 86.95l3.45 3.45-3.45 3.45-3.45-3.45zM420.9 119.75l3.45 3.45-3.45 3.45-3.45-3.45zM475.9 123.15l3.45 3.45-3.45 3.45-3.45-3.45zM508.1 77.35l3.45 3.45-3.45 3.45-3.45-3.45zM435.6 150.65l3.45 3.45-3.45 3.45-3.45-3.45zM364.7 200.65l3.45 3.45-3.45 3.45-3.45-3.45zM379.7 174.45l3.45 3.45-3.45 3.45-3.45-3.45zM280.6 240.95l3.45 3.45-3.45 3.45-3.45-3.45zM303.6 246.45l3.45 3.45-3.45 3.45-3.45-3.45zM489.6 89.25l3.45 3.45-3.45 3.45-3.45-3.45zM380.3 183.95l3.45 3.45-3.45 3.45-3.45-3.45zM351.4 200.95l3.45 3.45-3.45 3.45-3.45-3.45zM417.6 161.05l3.45 3.45-3.45 3.45-3.45-3.45zM308.4 196.25l3.45 3.45-3.45 3.45-3.45-3.45zM345.4 188.75l3.45 3.45-3.45 3.45-3.45-3.45zM488.6 106.55l3.45 3.45-3.45 3.45-3.45-3.45zM304.3 223.15l3.45 3.45-3.45 3.45-3.45-3.45zM444.8 165.25l3.45 3.45-3.45 3.45-3.45-3.45zM429.1 164.05l3.45 3.45-3.45 3.45-3.45-3.45zM476.7 148.05l3.45 3.45-3.45 3.45-3.45-3.45zM471.7 125.95l3.45 3.45-3.45 3.45-3.45-3.45zM496.2 98.45l3.45 3.45-3.45 3.45-3.45-3.45zM234.7 264.95l3.45 3.45-3.45 3.45-3.45-3.45zM564.5 58.05l3.45 3.45-3.45 3.45-3.45-3.45zM322.0 249.45l3.45 3.45-3.45 3.45-3.45-3.45zM409.6 154.95l3.45 3.45-3.45 3.45-3.45-3.45zM360.9 194.65l3.45 3.45-3.45 3.45-3.45-3.45zM460.1 142.35l3.45 3.45-3.45 3.45-3.45-3.45zM426.1 158.75l3.45 3.45-3.45 3.45-3.45-3.45zM318.0 221.05l3.45 3.45-3.45 3.45-3.45-3.45zM477.9 118.15l3.45 3.45-3.45 3.45-3.45-3.45zM416.8 174.35l3.45 3.45-3.45 3.45-3.45-3.45zM535.6 75.05l3.45 3.45-3.45 3.45-3.45-3.45zM452.2 129.65l3.45 3.45-3.45 3.45-3.45-3.45zM557.2 61.85l3.45 3.45-3.45 3.45-3.45-3.45zM448.1 152.65l3.45 3.45-3.45 3.45-3.45-3.45zM353.5 195.35l3.45 3.45-3.45 3.45-3.45-3.45zM460.8 115.85l3.45 3.45-3.45 3.45-3.45-3.45zM388.9 160.25l3.45 3.45-3.45 3.45-3.45-3.45zM422.4 168.95l3.45 3.45-3.45 3.45-3.45-3.45zM431.6 129.75l3.45 3.45-3.45 3.45-3.45-3.45zM521.2 96.55l3.45 3.45-3.45 3.45-3.45-3.45zM264.5 258.55l3.45 3.45-3.45 3.45-3.45-3.45zM418.6 157.15l3.45 3.45-3.45 3.45-3.45-3.45zM493.9 90.15l3.45 3.45-3.45 3.45-3.45-3.45zM446.7 132.35l3.45 3.45-3.45 3.45-3.45-3.45zM375.8 182.55l3.45 3.45-3.45 3.45-3.45-3.45zM517.2 97.65l3.45 3.45-3.45 3.45-3.45-3.45zM466.6 159.65l3.45 3.45-3.45 3.45-3.45-3.45zM432.1 165.65l3.45 3.45-3.45 3.45-3.45-3.45zM394.5 150.45l3.45 3.45-3.45 3.45-3.45-3.45zM464.6 122.45l3.45 3.45-3.45 3.45-3.45-3.45zM380.1 199.25l3.45 3.45-3.45 3.45-3.45-3.45zM475.0 138.25l3.45 3.45-3.45 3.45-3.45-3.45zM441.3 166.45l3.45 3.45-3.45 3.45-3.45-3.45zM394.6 158.25l3.45 3.45-3.45 3.45-3.45-3.45zM347.0 205.95l3.45 3.45-3.45 3.45-3.45-3.45zM512.1 96.15l3.45 3.45-3.45 3.45-3.45-3.45zM299.1 230.35l3.45 3.45-3.45 3.45-3.45-3.45zM423.4 162.85l3.45 3.45-3.45 3.45-3.45-3.45zM461.0 126.55l3.45 3.45-3.45 3.45-3.45-3.45zM460.5 148.35l3.45 3.45-3.45 3.45-3.45-3.45zM394.0 187.65l3.45 3.45-3.45 3.45-3.45-3.45zM428.0 158.55l3.45 3.45-3.45 3.45-3.45-3.45zM438.4 174.25l3.45 3.45-3.45 3.45-3.45-3.45zM421.9 125.55l3.45 3.45-3.45 3.45-3.45-3.45zM461.4 154.75l3.45 3.45-3.45 3.45-3.45-3.45zM318.3 210.55l3.45 3.45-3.45 3.45-3.45-3.45zM411.7 166.85l3.45 3.45-3.45 3.45-3.45-3.45zM332.0 225.25l3.45 3.45-3.45 3.45-3.45-3.45zM563.7 61.35l3.45 3.45-3.45 3.45-3.45-3.45zM402.0 186.75l3.45 3.45-3.45 3.45-3.45-3.45zM424.7 143.15l3.45 3.45-3.45 3.45-3.45-3.45zM501.6 89.65l3.45 3.45-3.45 3.45-3.45-3.45zM423.6 157.55l3.45 3.45-3.45 3.45-3.45-3.45zM334.9 226.45l3.45 3.45-3.45 3.45-3.45-3.45zM535.2 88.35l3.45 3.45-3.45 3.45-3.45-3.45zM445.4 143.05l3.45 3.45-3.45 3.45-3.45-3.45zM412.5 120.65l3.45 3.45-3.45 3.45-3.45-3.45zM467.8 118.45l3.45 3.45-3.45 3.45-3.45-3.45zM394.9 155.55l3.45 3.45-3.45 3.45-3.45-3.45zM527.9 78.65l3.45 3.45-3.45 3.45-3.45-3.45zM499.8 86.95l3.45 3.45-3.45 3.45-3.45-3.45zM375.7 219.35l3.45 3.45-3.45 3.45-3.45-3.45zM426.5 167.05l3.45 3.45-3.45 3.45-3.45-3.45zM347.5 185.15l3.45 3.45-3.45 3.45-3.45-3.45zM478.1 110.35l3.45 3.45-3.45 3.45-3.45-3.45zM292.3 212.95l3.45 3.45-3.45 3.45-3.45-3.45zM385.7 152.05l3.45 3.45-3.45 3.45-3.45-3.45zM340.3 217.35l3.45 3.45-3.45 3.45-3.45-3.45zM270.3 251.65l3.45 3.45-3.45 3.45-3.45-3.45zM459.8 132.65l3.45 3.45-3.45 3.45-3.45-3.45zM431.8 128.85l3.45 3.45-3.45 3.45-3.45-3.45zM255.7 275.15l3.45 3.45-3.45 3.45-3.45-3.45zM393.4 159.55l3.45 3.45-3.45 3.45-3.45-3.45zM344.0 226.75l3.45 3.45-3.45 3.45-3.45-3.45zM465.9 134.95l3.45 3.45-3.45 3.45-3.45-3.45zM357.6 187.65l3.45 3.45-3.45 3.45-3.45-3.45zM422.1 162.15l3.45 3.45-3.45 3.45-3.45-3.45zM431.4 167.75l3.45 3.45-3.45 3.45-3.45-3.45zM510.8 75.55l3.45 3.45-3.45 3.45-3.45-3.45zM376.5 161.95l3.45 3.45-3.45 3.45-3.45-3.45zM412.8 165.25l3.45 3.45-3.45 3.45-3.45-3.45zM557.0 59.45l3.45 3.45-3.45 3.45-3.45-3.45zM363.9 178.45l3.45 3.45-3.45 3.45-3.45-3.45zM468.0 134.45l3.45 3.45-3.45 3.45-3.45-3.45zM415.6 191.25l3.45 3.45-3.45 3.45-3.45-3.45zM310.9 211.85l3.45 3.45-3.45 3.45-3.45-3.45zM520.6 91.05l3.45 3.45-3.45 3.45-3.45-3.45zM381.6 156.95l3.45 3.45-3.45 3.45-3.45-3.45zM250.1 249.55l3.45 3.45-3.45 3.45-3.45-3.45zM394.5 151.15l3.45 3.45-3.45 3.45-3.45-3.45zM446.2 168.85l3.45 3.45-3.45 3.45-3.45-3.45zM366.4 167.15l3.45 3.45-3.45 3.45-3.45-3.45zM494.4 98.05l3.45 3.45-3.45 3.45-3.45-3.45zM360.8 181.95l3.45 3.45-3.45 3.45-3.45-3.45zM461.0 135.45l3.45 3.45-3.45 3.45-3.45-3.45zM541.3 63.85l3.45 3.45-3.45 3.45-3.45-3.45zM439.0 136.45l3.45 3.45-3.45 3.45-3.45-3.45zM311.6 248.05l3.45 3.45-3.45 3.45-3.45-3.45zM443.7 163.15l3.45 3.45-3.45 3.45-3.45-3.45zM437.5 167.45l3.45 3.45-3.45 3.45-3.45-3.45zM514.3 99.85l3.45 3.45-3.45 3.45-3.45-3.45zM524.5 81.65l3.45 3.45-3.45 3.45-3.45-3.45zM426.7 146.25l3.45 3.45-3.45 3.45-3.45-3.45zM482.5 124.95l3.45 3.45-3.45 3.45-3.45-3.45zM512.0 102.25l3.45 3.45-3.45 3.45-3.45-3.45zM284.2 220.35l3.45 3.45-3.45 3.45-3.45-3.45zM336.9 212.45l3.45 3.45-3.45 3.45-3.45-3.45zM294.2 222.65l3.45 3.45-3.45 3.45-3.45-3.45zM440.0 151.85l3.45 3.45-3.45 3.45-3.45-3.45zM377.4 174.95l3.45 3.45-3.45 3.45-3.45-3.45zM375.9 187.55l3.45 3.45-3.45 3.45-3.45-3.45zM482.7 108.65l3.45 3.45-3.45 3.45-3.45-3.45zM476.2 145.15l3.45 3.45-3.45 3.45-3.45-3.45zM376.5 151.85l3.45 3.45-3.45 3.45-3.45-3.45zM482.7 133.85l3.45 3.45-3.45 3.45-3.45-3.45zM431.9 124.65l3.45 3.45-3.45 3.45-3.45-3.45zM465.9 116.65l3.45 3.45-3.45 3.45-3.45-3.45zM415.9 128.65l3.45 3.45-3.45 3.45-3.45-3.45zM395.2 153.05l3.45 3.45-3.45 3.45-3.45-3.45zM372.5 208.55l3.45 3.45-3.45 3.45-3.45-3.45zM307.7 216.35l3.45 3.45-3.45 3.45-3.45-3.45zM382.2 191.25l3.45 3.45-3.45 3.45-3.45-3.45zM422.0 159.65l3.45 3.45-3.45 3.45-3.45-3.45zM279.4 212.75l3.45 3.45-3.45 3.45-3.45-3.45zM373.9 180.75l3.45 3.45-3.45 3.45-3.45-3.45zM453.5 147.65l3.45 3.45-3.45 3.45-3.45-3.45zM403.8 145.35l3.45 3.45-3.45 3.45-3.45-3.45zM451.6 131.75l3.45 3.45-3.45 3.45-3.45-3.45zM319.0 229.25l3.45 3.45-3.45 3.45-3.45-3.45zM466.4 144.85l3.45 3.45-3.45 3.45-3.45-3.45zM385.5 166.25l3.45 3.45-3.45 3.45-3.45-3.45zM451.1 136.95l3.45 3.45-3.45 3.45-3.45-3.45zM490.9 115.35l3.45 3.45-3.45 3.45-3.45-3.45zM353.0 206.15l3.45 3.45-3.45 3.45-3.45-3.45zM370.8 202.25l3.45 3.45-3.45 3.45-3.45-3.45zM293.4 258.15l3.45 3.45-3.45 3.45-3.45-3.45zM337.4 200.85l3.45 3.45-3.45 3.45-3.45-3.45zM415.6 123.55l3.45 3.45-3.45 3.45-3.45-3.45zM549.7 62.15l3.45 3.45-3.45 3.45-3.45-3.45zM358.4 193.65l3.45 3.45-3.45 3.45-3.45-3.45zM258.4 256.05l3.45 3.45-3.45 3.45-3.45-3.45zM406.4 192.15l3.45 3.45-3.45 3.45-3.45-3.45zM477.1 131.55l3.45 3.45-3.45 3.45-3.45-3.45zM445.2 158.75l3.45 3.45-3.45 3.45-3.45-3.45zM202.3 275.75l3.45 3.45-3.45 3.45-3.45-3.45zM492.9 89.05l3.45 3.45-3.45 3.45-3.45-3.45zM408.4 198.25l3.45 3.45-3.45 3.45-3.45-3.45zM248.2 242.25l3.45 3.45-3.45 3.45-3.45-3.45zM297.5 259.95l3.45 3.45-3.45 3.45-3.45-3.45zM270.0 227.65l3.45 3.45-3.45 3.45-3.45-3.45zM511.9 87.35l3.45 3.45-3.45 3.45-3.45-3.45zM529.1 87.75l3.45 3.45-3.45 3.45-3.45-3.45zM357.3 182.15l3.45 3.45-3.45 3.45-3.45-3.45zM522.8 94.25l3.45 3.45-3.45 3.45-3.45-3.45zM398.3 173.35l3.45 3.45-3.45 3.45-3.45-3.45zM369.7 178.55l3.45 3.45-3.45 3.45-3.45-3.45zM433.3 166.85l3.45 3.45-3.45 3.45-3.45-3.45zM379.7 166.75l3.45 3.45-3.45 3.45-3.45-3.45zM462.2 122.45l3.45 3.45-3.45 3.45-3.45-3.45zM441.7 171.85l3.45 3.45-3.45 3.45-3.45-3.45zM434.6 159.15l3.45 3.45-3.45 3.45-3.45-3.45zM435.5 175.85l3.45 3.45-3.45 3.45-3.45-3.45zM275.8 258.95l3.45 3.45-3.45 3.45-3.45-3.45zM496.4 97.35l3.45 3.45-3.45 3.45-3.45-3.45zM360.1 178.05l3.45 3.45-3.45 3.45-3.45-3.45zM227.7 287.35l3.45 3.45-3.45 3.45-3.45-3.45zM334.3 238.25l3.45 3.45-3.45 3.45-3.45-3.45zM468.9 157.25l3.45 3.45-3.45 3.45-3.45-3.45zM437.4 160.85l3.45 3.45-3.45 3.45-3.45-3.45zM442.0 143.35l3.45 3.45-3.45 3.45-3.45-3.45zM434.9 136.45l3.45 3.45-3.45 3.45-3.45-3.45zM419.9 179.95l3.45 3.45-3.45 3.45-3.45-3.45zM494.6 119.15l3.45 3.45-3.45 3.45-3.45-3.45zM324.5 240.85l3.45 3.45-3.45 3.45-3.45-3.45zM374.0 225.35l3.45 3.45-3.45 3.45-3.45-3.45zM472.7 143.65l3.45 3.45-3.45 3.45-3.45-3.45zM424.4 129.95l3.45 3.45-3.45 3.45-3.45-3.45zM386.8 173.05l3.45 3.45-3.45 3.45-3.45-3.45zM356.8 199.05l3.45 3.45-3.45 3.45-3.45-3.45zM289.7 233.45l3.45 3.45-3.45 3.45-3.45-3.45zM327.5 230.75l3.45 3.45-3.45 3.45-3.45-3.45zM377.1 184.85l3.45 3.45-3.45 3.45-3.45-3.45zM483.1 101.15l3.45 3.45-3.45 3.45-3.45-3.45zM437.5 163.25l3.45 3.45-3.45 3.45-3.45-3.45zM325.8 195.85l3.45 3.45-3.45 3.45-3.45-3.45zM465.8 129.45l3.45 3.45-3.45 3.45-3.45-3.45zM314.1 224.15l3.45 3.45-3.45 3.45-3.45-3.45zM336.1 226.15l3.45 3.45-3.45 3.45-3.45-3.45zM456.6 141.55l3.45 3.45-3.45 3.45-3.45-3.45zM428.4 122.75l3.45 3.45-3.45 3.45-3.45-3.45zM476.5 103.95l3.45 3.45-3.45 3.45-3.45-3.45zM404.7 163.65l3.45 3.45-3.45 3.45-3.45-3.45zM463.0 133.25l3.45 3.45-3.45 3.45-3.45-3.45zM324.8 216.35l3.45 3.45-3.45 3.45-3.45-3.45zM379.3 193.25l3.45 3.45-3.45 3.45-3.45-3.45zM381.9 181.45l3.45 3.45-3.45 3.45-3.45-3.45zM510.0 87.35l3.45 3.45-3.45 3.45-3.45-3.45zM366.2 182.25l3.45 3.45-3.45 3.45-3.45-3.45zM274.7 227.95l3.45 3.45-3.45 3.45-3.45-3.45zM335.4 214.95l3.45 3.45-3.45 3.45-3.45-3.45zM505.9 99.35l3.45 3.45-3.45 3.45-3.45-3.45zM408.0 163.75l3.45 3.45-3.45 3.45-3.45-3.45zM460.8 113.05l3.45 3.45-3.45 3.45-3.45-3.45zM499.3 87.35l3.45 3.45-3.45 3.45-3.45-3.45zM373.5 179.15l3.45 3.45-3.45 3.45-3.45-3.45zM484.6 128.05l3.45 3.45-3.45 3.45-3.45-3.45zM356.8 200.25l3.45 3.45-3.45 3.45-3.45-3.45zM420.6 147.05l3.45 3.45-3.45 3.45-3.45-3.45zM449.5 130.25l3.45 3.45-3.45 3.45-3.45-3.45zM376.7 164.25l3.45 3.45-3.45 3.45-3.45-3.45zM358.9 193.25l3.45 3.45-3.45 3.45-3.45-3.45zM417.9 153.75l3.45 3.45-3.45 3.45-3.45-3.45zM509.2 91.25l3.45 3.45-3.45 3.45-3.45-3.45zM464.9 128.95l3.45 3.45-3.45 3.45-3.45-3.45zM418.0 163.15l3.45 3.45-3.45 3.45-3.45-3.45zM527.3 90.55l3.45 3.45-3.45 3.45-3.45-3.45zM498.2 94.65l3.45 3.45-3.45 3.45-3.45-3.45zM407.2 145.05l3.45 3.45-3.45 3.45-3.45-3.45zM532.5 92.65l3.45 3.45-3.45 3.45-3.45-3.45zM512.5 80.65l3.45 3.45-3.45 3.45-3.45-3.45zM499.2 110.85l3.45 3.45-3.45 3.45-3.45-3.45zM361.8 206.05l3.45 3.45-3.45 3.45-3.45-3.45zM491.1 99.95l3.45 3.45-3.45 3.45-3.45-3.45zM323.7 211.35l3.45 3.45-3.45 3.45-3.45-3.45zM446.1 146.75l3.45 3.45-3.45 3.45-3.45-3.45zM515.4 82.75l3.45 3.45-3.45 3.45-3.45-3.45zM409.8 163.45l3.45 3.45-3.45 3.45-3.45-3.45zM477.1 118.25l3.45 3.45-3.45 3.45-3.45-3.45zM509.9 85.85l3.45 3.45-3.45 3.45-3.45-3.45zM433.0 126.05l3.45 3.45-3.45 3.45-3.45-3.45zM329.6 196.65l3.45 3.45-3.45 3.45-3.45-3.45zM483.9 133.15l3.45 3.45-3.45 3.45-3.45-3.45zM384.1 204.45l3.45 3.45-3.45 3.45-3.45-3.45zM563.4 62.45l3.45 3.45-3.45 3.45-3.45-3.45zM304.0 230.35l3.45 3.45-3.45 3.45-3.45-3.45zM194.2 283.65l3.45 3.45-3.45 3.45-3.45-3.45zM456.7 139.15l3.45 3.45-3.45 3.45-3.45-3.45zM255.5 266.55l3.45 3.45-3.45 3.45-3.45-3.45zM525.4 89.95l3.45 3.45-3.45 3.45-3.45-3.45zM463.6 135.55l3.45 3.45-3.45 3.45-3.45-3.45zM332.8 200.35l3.45 3.45-3.45 3.45-3.45-3.45zM490.9 94.75l3.45 3.45-3.45 3.45-3.45-3.45zM431.3 117.35l3.45 3.45-3.45 3.45-3.45-3.45zM547.4 62.95l3.45 3.45-3.45 3.45-3.45-3.45zM438.6 145.95l3.45 3.45-3.45 3.45-3.45-3.45zM473.6 135.25l3.45 3.45-3.45 3.45-3.45-3.45zM437.6 154.95l3.45 3.45-3.45 3.45-3.45-3.45zM291.2 216.35l3.45 3.45-3.45 3.45-3.45-3.45zM434.1 171.75l3.45 3.45-3.45 3.45-3.45-3.45zM426.9 147.25l3.45 3.45-3.45 3.45-3.45-3.45zM343.5 210.65l3.45 3.45-3.45 3.45-3.45-3.45zM465.2 122.05l3.45 3.45-3.45 3.45-3.45-3.45zM400.2 170.85l3.45 3.45-3.45 3.45-3.45-3.45zM337.0 240.65l3.45 3.45-3.45 3.45-3.45-3.45zM530.7 85.05l3.45 3.45-3.45 3.45-3.45-3.45zM538.8 76.45l3.45 3.45-3.45 3.45-3.45-3.45zM371.0 173.05l3.45 3.45-3.45 3.45-3.45-3.45zM401.6 140.95l3.45 3.45-3.45 3.45-3.45-3.45zM470.4 155.65l3.45 3.45-3.45 3.45-3.45-3.45zM344.8 207.65l3.45 3.45-3.45 3.45-3.45-3.45zM493.8 91.95l3.45 3.45-3.45 3.45-3.45-3.45zM352.2 200.75l3.45 3.45-3.45 3.45-3.45-3.45zM511.9 98.55l3.45 3.45-3.45 3.45-3.45-3.45zM229.0 274.95l3.45 3.45-3.45 3.45-3.45-3.45zM517.1 85.65l3.45 3.45-3.45 3.45-3.45-3.45zM477.3 114.85l3.45 3.45-3.45 3.45-3.45-3.45zM292.1 221.75l3.45 3.45-3.45 3.45-3.45-3.45zM406.3 150.85l3.45 3.45-3.45 3.45-3.45-3.45zM405.9 165.25l3.45 3.45-3.45 3.45-3.45-3.45zM552.3 60.75l3.45 3.45-3.45 3.45-3.45-3.45zM479.6 93.05l3.45 3.45-3.45 3.45-3.45-3.45zM348.8 209.95l3.45 3.45-3.45 3.45-3.45-3.45zM370.6 202.35l3.45 3.45-3.45 3.45-3.45-3.45zM311.8 220.65l3.45 3.45-3.45 3.45-3.45-3.45zM489.9 97.75l3.45 3.45-3.45 3.45-3.45-3.45zM307.5 232.25l3.45 3.45-3.45 3.45-3.45-3.45zM437.0 143.65l3.45 3.45-3.45 3.45-3.45-3.45zM433.0 165.15l3.45 3.45-3.45 3.45-3.45-3.45zM411.5 174.65l3.45 3.45-3.45 3.45-3.45-3.45zM424.3 154.55l3.45 3.45-3.45 3.45-3.45-3.45zM279.3 221.95l3.45 3.45-3.45 3.45-3.45-3.45zM419.4 161.85l3.45 3.45-3.45 3.45-3.45-3.45zM307.6 201.55l3.45 3.45-3.45 3.45-3.45-3.45zM474.2 112.75l3.45 3.45-3.45 3.45-3.45-3.45zM394.0 171.85l3.45 3.45-3.45 3.45-3.45-3.45zM319.3 243.05l3.45 3.45-3.45 3.45-3.45-3.45zM341.7 199.95l3.45 3.45-3.45 3.45-3.45-3.45zM498.5 95.85l3.45 3.45-3.45 3.45-3.45-3.45zM360.4 199.35l3.45 3.45-3.45 3.45-3.45-3.45zM445.5 115.05l3.45 3.45-3.45 3.45-3.45-3.45zM463.7 116.95l3.45 3.45-3.45 3.45-3.45-3.45zM254.0 258.75l3.45 3.45-3.45 3.45-3.45-3.45zM500.0 108.45l3.45 3.45-3.45 3.45-3.45-3.45zM439.2 140.55l3.45 3.45-3.45 3.45-3.45-3.45zM398.1 204.25l3.45 3.45-3.45 3.45-3.45-3.45zM514.8 89.45l3.45 3.45-3.45 3.45-3.45-3.45zM486.6 94.75l3.45 3.45-3.45 3.45-3.45-3.45zM540.0 71.75l3.45 3.45-3.45 3.45-3.45-3.45zM365.3 158.75l3.45 3.45-3.45 3.45-3.45-3.45zM404.5 152.05l3.45 3.45-3.45 3.45-3.45-3.45zM414.1 150.85l3.45 3.45-3.45 3.45-3.45-3.45zM352.1 213.25l3.45 3.45-3.45 3.45-3.45-3.45zM469.8 112.85l3.45 3.45-3.45 3.45-3.45-3.45zM452.2 118.65l3.45 3.45-3.45 3.45-3.45-3.45zM388.2 181.25l3.45 3.45-3.45 3.45-3.45-3.45zM403.1 199.05l3.45 3.45-3.45 3.45-3.45-3.45zM391.7 192.95l3.45 3.45-3.45 3.45-3.45-3.45zM332.9 242.25l3.45 3.45-3.45 3.45-3.45-3.45zM482.3 120.05l3.45 3.45-3.45 3.45-3.45-3.45zM463.9 132.85l3.45 3.45-3.45 3.45-3.45-3.45zM276.9 231.05l3.45 3.45-3.45 3.45-3.45-3.45zM269.5 232.55l3.45 3.45-3.45 3.45-3.45-3.45zM443.9 123.05l3.45 3.45-3.45 3.45-3.45-3.45zM372.3 217.35l3.45 3.45-3.45 3.45-3.45-3.45zM262.8 272.15l3.45 3.45-3.45 3.45-3.45-3.45zM457.3 143.95l3.45 3.45-3.45 3.45-3.45-3.45zM327.7 202.55l3.45 3.45-3.45 3.45-3.45-3.45zM341.5 191.05l3.45 3.45-3.45 3.45-3.45-3.45zM431.0 130.85l3.45 3.45-3.45 3.45-3.45-3.45zM387.3 203.25l3.45 3.45-3.45 3.45-3.45-3.45zM518.6 82.05l3.45 3.45-3.45 3.45-3.45-3.45zM415.1 123.05l3.45 3.45-3.45 3.45-3.45-3.45zM378.0 179.85l3.45 3.45-3.45 3.45-3.45-3.45zM536.9 79.55l3.45 3.45-3.45 3.45-3.45-3.45zM481.8 117.65l3.45 3.45-3.45 3.45-3.45-3.45zM315.2 224.75l3.45 3.45-3.45 3.45-3.45-3.45zM344.9 194.05l3.45 3.45-3.45 3.45-3.45-3.45zM329.7 187.05l3.45 3.45-3.45 3.45-3.45-3.45zM403.0 168.05l3.45 3.45-3.45 3.45-3.45-3.45zM228.2 251.75l3.45 3.45-3.45 3.45-3.45-3.45zM291.6 237.65l3.45 3.45-3.45 3.45-3.45-3.45zM557.8 59.05l3.45 3.45-3.45 3.45-3.45-3.45zM388.5 218.65l3.45 3.45-3.45 3.45-3.45-3.45zM196.6 277.65l3.45 3.45-3.45 3.45-3.45-3.45zM425.5 158.45l3.45 3.45-3.45 3.45-3.45-3.45zM463.0 124.05l3.45 3.45-3.45 3.45-3.45-3.45zM250.1 263.05l3.45 3.45-3.45 3.45-3.45-3.45zM435.4 150.75l3.45 3.45-3.45 3.45-3.45-3.45zM209.9 292.35l3.45 3.45-3.45 3.45-3.45-3.45zM460.0 117.85l3.45 3.45-3.45 3.45-3.45-3.45zM399.5 188.75l3.45 3.45-3.45 3.45-3.45-3.45zM448.1 152.05l3.45 3.45-3.45 3.45-3.45-3.45zM464.1 113.75l3.45 3.45-3.45 3.45-3.45-3.45zM418.8 150.05l3.45 3.45-3.45 3.45-3.45-3.45zM502.6 87.55l3.45 3.45-3.45 3.45-3.45-3.45zM338.7 187.25l3.45 3.45-3.45 3.45-3.45-3.45zM358.9 222.15l3.45 3.45-3.45 3.45-3.45-3.45zM482.9 111.65l3.45 3.45-3.45 3.45-3.45-3.45zM204.6 272.85l3.45 3.45-3.45 3.45-3.45-3.45zM479.2 137.85l3.45 3.45-3.45 3.45-3.45-3.45zM481.0 130.45l3.45 3.45-3.45 3.45-3.45-3.45zM435.1 133.35l3.45 3.45-3.45 3.45-3.45-3.45zM563.5 56.65l3.45 3.45-3.45 3.45-3.45-3.45zM429.3 172.25l3.45 3.45-3.45 3.45-3.45-3.45zM228.9 263.85l3.45 3.45-3.45 3.45-3.45-3.45zM216.8 272.85l3.45 3.45-3.45 3.45-3.45-3.45zM374.1 182.15l3.45 3.45-3.45 3.45-3.45-3.45zM289.6 222.05l3.45 3.45-3.45 3.45-3.45-3.45zM396.6 194.15l3.45 3.45-3.45 3.45-3.45-3.45zM277.3 236.45l3.45 3.45-3.45 3.45-3.45-3.45zM376.7 171.85l3.45 3.45-3.45 3.45-3.45-3.45zM525.3 82.95l3.45 3.45-3.45 3.45-3.45-3.45zM515.6 86.45l3.45 3.45-3.45 3.45-3.45-3.45zM516.8 93.25l3.45 3.45-3.45 3.45-3.45-3.45zM431.1 147.75l3.45 3.45-3.45 3.45-3.45-3.45zM442.8 158.35l3.45 3.45-3.45 3.45-3.45-3.45zM390.5 148.25l3.45 3.45-3.45 3.45-3.45-3.45zM235.7 277.05l3.45 3.45-3.45 3.45-3.45-3.45zM466.1 142.85l3.45 3.45-3.45 3.45-3.45-3.45zM359.4 222.05l3.45 3.45-3.45 3.45-3.45-3.45zM540.6 78.05l3.45 3.45-3.45 3.45-3.45-3.45zM450.8 160.65l3.45 3.45-3.45 3.45-3.45-3.45zM464.2 122.65l3.45 3.45-3.45 3.45-3.45-3.45zM370.9 197.85l3.45 3.45-3.45 3.45-3.45-3.45zM258.4 224.85l3.45 3.45-3.45 3.45-3.45-3.45zM325.2 235.05l3.45 3.45-3.45 3.45-3.45-3.45zM393.3 182.35l3.45 3.45-3.45 3.45-3.45-3.45zM328.7 190.15l3.45 3.45-3.45 3.45-3.45-3.45zM474.6 105.35l3.45 3.45-3.45 3.45-3.45-3.45zM295.3 244.55l3.45 3.45-3.45 3.45-3.45-3.45zM492.6 103.75l3.45 3.45-3.45 3.45-3.45-3.45zM538.6 69.95l3.45 3.45-3.45 3.45-3.45-3.45zM378.7 190.05l3.45 3.45-3.45 3.45-3.45-3.45zM521.9 82.05l3.45 3.45-3.45 3.45-3.45-3.45zM481.9 106.85l3.45 3.45-3.45 3.45-3.45-3.45zM502.1 99.25l3.45 3.45-3.45 3.45-3.45-3.45zM373.5 191.65l3.45 3.45-3.45 3.45-3.45-3.45zM424.3 162.95l3.45 3.45-3.45 3.45-3.45-3.45zM325.9 236.75l3.45 3.45-3.45 3.45-3.45-3.45zM363.7 207.85l3.45 3.45-3.45 3.45-3.45-3.45zM324.5 221.15l3.45 3.45-3.45 3.45-3.45-3.45zM474.2 108.95l3.45 3.45-3.45 3.45-3.45-3.45zM409.3 150.65l3.45 3.45-3.45 3.45-3.45-3.45zM485.9 116.35l3.45 3.45-3.45 3.45-3.45-3.45zM526.3 78.35l3.45 3.45-3.45 3.45-3.45-3.45zM462.6 123.05l3.45 3.45-3.45 3.45-3.45-3.45zM376.2 154.15l3.45 3.45-3.45 3.45-3.45-3.45zM426.2 163.25l3.45 3.45-3.45 3.45-3.45-3.45zM347.2 199.85l3.45 3.45-3.45 3.45-3.45-3.45zM471.4 133.75l3.45 3.45-3.45 3.45-3.45-3.45zM373.1 193.85l3.45 3.45-3.45 3.45-3.45-3.45zM354.1 175.55l3.45 3.45-3.45 3.45-3.45-3.45zM343.3 208.15l3.45 3.45-3.45 3.45-3.45-3.45zM364.4 172.55l3.45 3.45-3.45 3.45-3.45-3.45zM221.2 279.65l3.45 3.45-3.45 3.45-3.45-3.45zM464.8 134.95l3.45 3.45-3.45 3.45-3.45-3.45zM413.9 125.15l3.45 3.45-3.45 3.45-3.45-3.45zM333.5 214.75l3.45 3.45-3.45 3.45-3.45-3.45zM426.1 183.45l3.45 3.45-3.45 3.45-3.45-3.45zM419.7 134.95l3.45 3.45-3.45 3.45-3.45-3.45zM505.5 79.15l3.45 3.45-3.45 3.45-3.45-3.45zM302.7 240.95l3.45 3.45-3.45 3.45-3.45-3.45zM523.3 86.65l3.45 3.45-3.45 3.45-3.45-3.45zM407.5 157.55l3.45 3.45-3.45 3.45-3.45-3.45zM467.2 128.45l3.45 3.45-3.45 3.45-3.45-3.45zM363.5 174.65l3.45 3.45-3.45 3.45-3.45-3.45zM384.3 150.95l3.45 3.45-3.45 3.45-3.45-3.45zM488.5 116.55l3.45 3.45-3.45 3.45-3.45-3.45zM415.2 166.15l3.45 3.45-3.45 3.45-3.45-3.45zM330.6 232.45l3.45 3.45-3.45 3.45-3.45-3.45zM367.0 222.15l3.45 3.45-3.45 3.45-3.45-3.45zM403.1 141.35l3.45 3.45-3.45 3.45-3.45-3.45zM472.7 114.85l3.45 3.45-3.45 3.45-3.45-3.45zM491.2 87.35l3.45 3.45-3.45 3.45-3.45-3.45zM503.2 93.05l3.45 3.45-3.45 3.45-3.45-3.45zM437.4 153.45l3.45 3.45-3.45 3.45-3.45-3.45zM364.3 214.35l3.45 3.45-3.45 3.45-3.45-3.45zM460.5 140.15l3.45 3.45-3.45 3.45-3.45-3.45zM443.7 158.25l3.45 3.45-3.45 3.45-3.45-3.45zM554.0 61.05l3.45 3.45-3.45 3.45-3.45-3.45zM411.1 182.45l3.45 3.45-3.45 3.45-3.45-3.45zM519.6 94.85l3.45 3.45-3.45 3.45-3.45-3.45zM514.8 77.95l3.45 3.45-3.45 3.45-3.45-3.45zM484.7 119.95l3.45 3.45-3.45 3.45-3.45-3.45zM404.4 167.05l3.45 3.45-3.45 3.45-3.45-3.45zM460.1 120.95l3.45 3.45-3.45 3.45-3.45-3.45zM498.4 82.15l3.45 3.45-3.45 3.45-3.45-3.45zM422.2 171.75l3.45 3.45-3.45 3.45-3.45-3.45zM462.3 141.75l3.45 3.45-3.45 3.45-3.45-3.45zM391.0 164.15l3.45 3.45-3.45 3.45-3.45-3.45zM521.8 82.05l3.45 3.45-3.45 3.45-3.45-3.45zM548.8 67.45l3.45 3.45-3.45 3.45-3.45-3.45zM336.4 242.55l3.45 3.45-3.45 3.45-3.45-3.45zM423.6 139.65l3.45 3.45-3.45 3.45-3.45-3.45zM301.8 211.05l3.45 3.45-3.45 3.45-3.45-3.45zM312.1 227.25l3.45 3.45-3.45 3.45-3.45-3.45zM355.2 188.95l3.45 3.45-3.45 3.45-3.45-3.45zM328.2 203.55l3.45 3.45-3.45 3.45-3.45-3.45zM504.8 86.85l3.45 3.45-3.45 3.45-3.45-3.45zM332.7 189.25l3.45 3.45-3.45 3.45-3.45-3.45zM306.8 217.85l3.45 3.45-3.45 3.45-3.45-3.45zM200.5 293.35l3.45 3.45-3.45 3.45-3.45-3.45zM473.5 122.55l3.45 3.45-3.45 3.45-3.45-3.45zM246.5 255.05l3.45 3.45-3.45 3.45-3.45-3.45zM425.1 145.95l3.45 3.45-3.45 3.45-3.45-3.45zM373.4 184.85l3.45 3.45-3.45 3.45-3.45-3.45zM410.8 151.05l3.45 3.45-3.45 3.45-3.45-3.45zM361.4 207.85l3.45 3.45-3.45 3.45-3.45-3.45zM221.0 262.35l3.45 3.45-3.45 3.45-3.45-3.45zM367.0 192.45l3.45 3.45-3.45 3.45-3.45-3.45zM360.5 224.45l3.45 3.45-3.45 3.45-3.45-3.45zM403.4 160.05l3.45 3.45-3.45 3.45-3.45-3.45zM487.2 98.45l3.45 3.45-3.45 3.45-3.45-3.45zM468.9 142.15l3.45 3.45-3.45 3.45-3.45-3.45zM403.0 196.05l3.45 3.45-3.45 3.45-3.45-3.45zM387.8 154.25l3.45 3.45-3.45 3.45-3.45-3.45zM381.0 189.65l3.45 3.45-3.45 3.45-3.45-3.45zM338.7 212.25l3.45 3.45-3.45 3.45-3.45-3.45zM461.3 107.25l3.45 3.45-3.45 3.45-3.45-3.45zM497.4 83.25l3.45 3.45-3.45 3.45-3.45-3.45zM244.1 250.15l3.45 3.45-3.45 3.45-3.45-3.45zM223.2 267.45l3.45 3.45-3.45 3.45-3.45-3.45zM495.4 103.25l3.45 3.45-3.45 3.45-3.45-3.45zM364.9 194.15l3.45 3.45-3.45 3.45-3.45-3.45zM464.3 135.85l3.45 3.45-3.45 3.45-3.45-3.45zM504.0 97.15l3.45 3.45-3.45 3.45-3.45-3.45zM396.1 190.95l3.45 3.45-3.45 3.45-3.45-3.45zM335.6 209.75l3.45 3.45-3.45 3.45-3.45-3.45zM443.1 149.85l3.45 3.45-3.45 3.45-3.45-3.45zM413.3 143.35l3.45 3.45-3.45 3.45-3.45-3.45zM453.2 110.45l3.45 3.45-3.45 3.45-3.45-3.45zM290.3 228.35l3.45 3.45-3.45 3.45-3.45-3.45zM298.6 257.85l3.45 3.45-3.45 3.45-3.45-3.45zM473.4 113.05l3.45 3.45-3.45 3.45-3.45-3.45zM310.1 246.25l3.45 3.45-3.45 3.45-3.45-3.45zM390.4 163.35l3.45 3.45-3.45 3.45-3.45-3.45zM503.0 86.65l3.45 3.45-3.45 3.45-3.45-3.45zM321.8 212.05l3.45 3.45-3.45 3.45-3.45-3.45zM391.6 206.55l3.45 3.45-3.45 3.45-3.45-3.45zM320.2 200.55l3.45 3.45-3.45 3.45-3.45-3.45zM408.2 180.75l3.45 3.45-3.45 3.45-3.45-3.45zM370.4 217.45l3.45 3.45-3.45 3.45-3.45-3.45zM334.9 257.95l3.45 3.45-3.45 3.45-3.45-3.45zM365.8 183.85l3.45 3.45-3.45 3.45-3.45-3.45zM439.7 125.95l3.45 3.45-3.45 3.45-3.45-3.45zM279.7 214.75l3.45 3.45-3.45 3.45-3.45-3.45zM432.7 144.55l3.45 3.45-3.45 3.45-3.45-3.45zM418.5 141.35l3.45 3.45-3.45 3.45-3.45-3.45zM520.7 80.65l3.45 3.45-3.45 3.45-3.45-3.45zM298.1 249.25l3.45 3.45-3.45 3.45-3.45-3.45zM408.9 141.55l3.45 3.45-3.45 3.45-3.45-3.45zM396.9 175.35l3.45 3.45-3.45 3.45-3.45-3.45zM511.2 78.95l3.45 3.45-3.45 3.45-3.45-3.45zM470.7 105.05l3.45 3.45-3.45 3.45-3.45-3.45zM508.1 88.35l3.45 3.45-3.45 3.45-3.45-3.45zM362.2 200.15l3.45 3.45-3.45 3.45-3.45-3.45zM460.5 117.85l3.45 3.45-3.45 3.45-3.45-3.45zM392.2 199.05l3.45 3.45-3.45 3.45-3.45-3.45zM448.7 133.25l3.45 3.45-3.45 3.45-3.45-3.45zM473.1 106.45l3.45 3.45-3.45 3.45-3.45-3.45zM404.7 166.35l3.45 3.45-3.45 3.45-3.45-3.45zM549.7 63.95l3.45 3.45-3.45 3.45-3.45-3.45zM345.4 207.55l3.45 3.45-3.45 3.45-3.45-3.45zM485.4 135.55l3.45 3.45-3.45 3.45-3.45-3.45zM478.3 130.05l3.45 3.45-3.45 3.45-3.45-3.45zM235.8 269.15l3.45 3.45-3.45 3.45-3.45-3.45zM259.9 266.05l3.45 3.45-3.45 3.45-3.45-3.45zM433.3 158.85l3.45 3.45-3.45 3.45-3.45-3.45zM385.9 152.05l3.45 3.45-3.45 3.45-3.45-3.45zM333.2 198.75l3.45 3.45-3.45 3.45-3.45-3.45zM462.7 167.05l3.45 3.45-3.45 3.45-3.45-3.45zM452.0 150.55l3.45 3.45-3.45 3.45-3.45-3.45zM428.1 126.95l3.45 3.45-3.45 3.45-3.45-3.45zM512.2 98.15l3.45 3.45-3.45 3.45-3.45-3.45zM529.3 70.15l3.45 3.45-3.45 3.45-3.45-3.45zM343.9 192.35l3.45 3.45-3.45 3.45-3.45-3.45zM422.6 135.45l3.45 3.45-3.45 3.45-3.45-3.45zM448.1 123.95l3.45 3.45-3.45 3.45-3.45-3.45zM483.6 118.65l3.45 3.45-3.45 3.45-3.45-3.45zM502.6 110.85l3.45 3.45-3.45 3.45-3.45-3.45zM345.3 206.45l3.45 3.45-3.45 3.45-3.45-3.45zM302.8 222.85l3.45 3.45-3.45 3.45-3.45-3.45zM462.6 137.35l3.45 3.45-3.45 3.45-3.45-3.45zM455.9 133.85l3.45 3.45-3.45 3.45-3.45-3.45zM322.6 204.55l3.45 3.45-3.45 3.45-3.45-3.45zM545.1 61.95l3.45 3.45-3.45 3.45-3.45-3.45zM386.7 213.35l3.45 3.45-3.45 3.45-3.45-3.45zM562.5 56.55l3.45 3.45-3.45 3.45-3.45-3.45zM556.0 59.35l3.45 3.45-3.45 3.45-3.45-3.45zM273.0 218.45l3.45 3.45-3.45 3.45-3.45-3.45zM361.8 174.95l3.45 3.45-3.45 3.45-3.45-3.45zM417.7 134.95l3.45 3.45-3.45 3.45-3.45-3.45zM319.3 224.35l3.45 3.45-3.45 3.45-3.45-3.45zM480.2 110.05l3.45 3.45-3.45 3.45-3.45-3.45zM402.2 203.05l3.45 3.45-3.45 3.45-3.45-3.45zM244.3 251.25l3.45 3.45-3.45 3.45-3.45-3.45zM325.0 207.05l3.45 3.45-3.45 3.45-3.45-3.45zM361.3 166.15l3.45 3.45-3.45 3.45-3.45-3.45zM461.7 141.55l3.45 3.45-3.45 3.45-3.45-3.45zM439.7 148.95l3.45 3.45-3.45 3.45-3.45-3.45zM410.0 162.95l3.45 3.45-3.45 3.45-3.45-3.45zM399.1 154.35l3.45 3.45-3.45 3.45-3.45-3.45zM533.1 70.75l3.45 3.45-3.45 3.45-3.45-3.45zM463.3 108.25l3.45 3.45-3.45 3.45-3.45-3.45zM301.3 226.75l3.45 3.45-3.45 3.45-3.45-3.45zM470.3 161.95l3.45 3.45-3.45 3.45-3.45-3.45zM374.0 160.15l3.45 3.45-3.45 3.45-3.45-3.45zM450.6 131.25l3.45 3.45-3.45 3.45-3.45-3.45zM354.2 206.55l3.45 3.45-3.45 3.45-3.45-3.45zM512.6 87.05l3.45 3.45-3.45 3.45-3.45-3.45zM322.7 191.05l3.45 3.45-3.45 3.45-3.45-3.45zM362.3 158.25l3.45 3.45-3.45 3.45-3.45-3.45zM369.6 201.55l3.45 3.45-3.45 3.45-3.45-3.45zM429.7 167.35l3.45 3.45-3.45 3.45-3.45-3.45zM342.8 203.25l3.45 3.45-3.45 3.45-3.45-3.45zM504.4 84.95l3.45 3.45-3.45 3.45-3.45-3.45zM544.3 73.45l3.45 3.45-3.45 3.45-3.45-3.45zM323.1 252.05l3.45 3.45-3.45 3.45-3.45-3.45zM456.4 114.95l3.45 3.45-3.45 3.45-3.45-3.45zM336.5 230.85l3.45 3.45-3.45 3.45-3.45-3.45zM505.5 108.05l3.45 3.45-3.45 3.45-3.45-3.45zM373.9 177.65l3.45 3.45-3.45 3.45-3.45-3.45zM234.1 269.55l3.45 3.45-3.45 3.45-3.45-3.45zM425.9 157.75l3.45 3.45-3.45 3.45-3.45-3.45zM235.0 270.75l3.45 3.45-3.45 3.45-3.45-3.45zM410.0 166.25l3.45 3.45-3.45 3.45-3.45-3.45zM485.5 114.45l3.45 3.45-3.45 3.45-3.45-3.45zM400.7 189.05l3.45 3.45-3.45 3.45-3.45-3.45zM456.0 115.05l3.45 3.45-3.45 3.45-3.45-3.45zM459.0 161.65l3.45 3.45-3.45 3.45-3.45-3.45zM435.4 148.15l3.45 3.45-3.45 3.45-3.45-3.45zM248.2 234.25l3.45 3.45-3.45 3.45-3.45-3.45zM483.4 108.15l3.45 3.45-3.45 3.45-3.45-3.45zM419.1 145.85l3.45 3.45-3.45 3.45-3.45-3.45zM445.5 140.65l3.45 3.45-3.45 3.45-3.45-3.45zM499.6 102.65l3.45 3.45-3.45 3.45-3.45-3.45zM477.7 99.75l3.45 3.45-3.45 3.45-3.45-3.45zM473.6 120.25l3.45 3.45-3.45 3.45-3.45-3.45zM365.0 187.65l3.45 3.45-3.45 3.45-3.45-3.45zM229.6 256.05l3.45 3.45-3.45 3.45-3.45-3.45zM296.7 218.15l3.45 3.45-3.45 3.45-3.45-3.45zM438.2 149.55l3.45 3.45-3.45 3.45-3.45-3.45zM357.4 215.65l3.45 3.45-3.45 3.45-3.45-3.45zM338.3 233.45l3.45 3.45-3.45 3.45-3.45-3.45zM428.0 128.65l3.45 3.45-3.45 3.45-3.45-3.45zM363.9 180.15l3.45 3.45-3.45 3.45-3.45-3.45zM248.9 241.95l3.45 3.45-3.45 3.45-3.45-3.45zM402.0 145.15l3.45 3.45-3.45 3.45-3.45-3.45zM501.7 79.25l3.45 3.45-3.45 3.45-3.45-3.45zM402.4 165.65l3.45 3.45-3.45 3.45-3.45-3.45zM413.5 146.95l3.45 3.45-3.45 3.45-3.45-3.45zM371.1 153.35l3.45 3.45-3.45 3.45-3.45-3.45zM552.7 70.75l3.45 3.45-3.45 3.45-3.45-3.45zM424.9 132.25l3.45 3.45-3.45 3.45-3.45-3.45zM258.2 228.25l3.45 3.45-3.45 3.45-3.45-3.45zM375.1 191.45l3.45 3.45-3.45 3.45-3.45-3.45zM273.5 214.15l3.45 3.45-3.45 3.45-3.45-3.45zM337.0 187.15l3.45 3.45-3.45 3.45-3.45-3.45zM342.9 211.25l3.45 3.45-3.45 3.45-3.45-3.45zM399.8 158.75l3.45 3.45-3.45 3.45-3.45-3.45zM369.1 210.75l3.45 3.45-3.45 3.45-3.45-3.45zM298.4 246.95l3.45 3.45-3.45 3.45-3.45-3.45zM220.3 285.75l3.45 3.45-3.45 3.45-3.45-3.45zM310.5 214.05l3.45 3.45-3.45 3.45-3.45-3.45zM315.8 251.55l3.45 3.45-3.45 3.45-3.45-3.45zM476.2 125.75l3.45 3.45-3.45 3.45-3.45-3.45zM454.6 136.75l3.45 3.45-3.45 3.45-3.45-3.45zM207.0 284.25l3.45 3.45-3.45 3.45-3.45-3.45zM450.2 153.35l3.45 3.45-3.45 3.45-3.45-3.45zM454.2 153.45l3.45 3.45-3.45 3.45-3.45-3.45zM422.3 156.65l3.45 3.45-3.45 3.45-3.45-3.45zM553.6 70.15l3.45 3.45-3.45 3.45-3.45-3.45zM480.3 116.35l3.45 3.45-3.45 3.45-3.45-3.45zM407.7 183.65l3.45 3.45-3.45 3.45-3.45-3.45zM559.8 60.65l3.45 3.45-3.45 3.45-3.45-3.45zM441.3 148.45l3.45 3.45-3.45 3.45-3.45-3.45zM478.8 101.65l3.45 3.45-3.45 3.45-3.45-3.45zM430.2 162.95l3.45 3.45-3.45 3.45-3.45-3.45zM534.0 72.95l3.45 3.45-3.45 3.45-3.45-3.45zM478.6 91.25l3.45 3.45-3.45 3.45-3.45-3.45zM421.0 125.55l3.45 3.45-3.45 3.45-3.45-3.45zM409.0 172.35l3.45 3.45-3.45 3.45-3.45-3.45zM335.8 234.15l3.45 3.45-3.45 3.45-3.45-3.45zM503.1 99.85l3.45 3.45-3.45 3.45-3.45-3.45zM451.2 121.55l3.45 3.45-3.45 3.45-3.45-3.45zM484.7 119.85l3.45 3.45-3.45 3.45-3.45-3.45zM428.7 152.15l3.45 3.45-3.45 3.45-3.45-3.45zM498.7 89.25l3.45 3.45-3.45 3.45-3.45-3.45zM406.1 152.05l3.45 3.45-3.45 3.45-3.45-3.45zM390.4 174.85l3.45 3.45-3.45 3.45-3.45-3.45zM373.9 217.45l3.45 3.45-3.45 3.45-3.45-3.45zM510.1 101.05l3.45 3.45-3.45 3.45-3.45-3.45zM523.6 80.65l3.45 3.45-3.45 3.45-3.45-3.45zM429.8 163.15l3.45 3.45-3.45 3.45-3.45-3.45zM438.9 151.35l3.45 3.45-3.45 3.45-3.45-3.45zM293.7 250.35l3.45 3.45-3.45 3.45-3.45-3.45zM479.7 141.15l3.45 3.45-3.45 3.45-3.45-3.45zM379.9 189.75l3.45 3.45-3.45 3.45-3.45-3.45zM429.3 168.75l3.45 3.45-3.45 3.45-3.45-3.45zM464.4 118.45l3.45 3.45-3.45 3.45-3.45-3.45zM403.4 171.45l3.45 3.45-3.45 3.45-3.45-3.45zM359.3 187.55l3.45 3.45-3.45 3.45-3.45-3.45zM298.1 218.15l3.45 3.45-3.45 3.45-3.45-3.45zM499.1 103.25l3.45 3.45-3.45 3.45-3.45-3.45zM470.5 121.55l3.45 3.45-3.45 3.45-3.45-3.45zM339.4 218.05l3.45 3.45-3.45 3.45-3.45-3.45zM377.8 158.85l3.45 3.45-3.45 3.45-3.45-3.45zM352.4 205.75l3.45 3.45-3.45 3.45-3.45-3.45zM290.7 232.95l3.45 3.45-3.45 3.45-3.45-3.45zM453.7 110.75l3.45 3.45-3.45 3.45-3.45-3.45zM227.2 269.95l3.45 3.45-3.45 3.45-3.45-3.45zM402.5 160.15l3.45 3.45-3.45 3.45-3.45-3.45zM525.7 78.45l3.45 3.45-3.45 3.45-3.45-3.45zM464.9 135.15l3.45 3.45-3.45 3.45-3.45-3.45zM511.9 100.15l3.45 3.45-3.45 3.45-3.45-3.45zM239.0 260.75l3.45 3.45-3.45 3.45-3.45-3.45zM421.6 161.75l3.45 3.45-3.45 3.45-3.45-3.45zM311.9 224.45l3.45 3.45-3.45 3.45-3.45-3.45zM222.1 279.75l3.45 3.45-3.45 3.45-3.45-3.45zM278.1 213.25l3.45 3.45-3.45 3.45-3.45-3.45zM528.6 76.65l3.45 3.45-3.45 3.45-3.45-3.45zM457.5 151.95l3.45 3.45-3.45 3.45-3.45-3.45zM256.0 224.75l3.45 3.45-3.45 3.45-3.45-3.45zM418.4 122.15l3.45 3.45-3.45 3.45-3.45-3.45zM260.4 229.45l3.45 3.45-3.45 3.45-3.45-3.45zM338.1 189.05l3.45 3.45-3.45 3.45-3.45-3.45zM394.0 200.65l3.45 3.45-3.45 3.45-3.45-3.45zM378.5 149.25l3.45 3.45-3.45 3.45-3.45-3.45zM486.1 105.15l3.45 3.45-3.45 3.45-3.45-3.45zM402.9 140.55l3.45 3.45-3.45 3.45-3.45-3.45zM279.4 242.35l3.45 3.45-3.45 3.45-3.45-3.45zM338.6 210.25l3.45 3.45-3.45 3.45-3.45-3.45zM477.1 126.65l3.45 3.45-3.45 3.45-3.45-3.45zM385.8 172.95l3.45 3.45-3.45 3.45-3.45-3.45zM532.0 67.05l3.45 3.45-3.45 3.45-3.45-3.45zM487.4 116.95l3.45 3.45-3.45 3.45-3.45-3.45zM439.6 156.25l3.45 3.45-3.45 3.45-3.45-3.45zM481.4 122.05l3.45 3.45-3.45 3.45-3.45-3.45zM334.9 194.85l3.45 3.45-3.45 3.45-3.45-3.45zM328.1 198.85l3.45 3.45-3.45 3.45-3.45-3.45zM529.2 81.95l3.45 3.45-3.45 3.45-3.45-3.45zM322.4 218.45l3.45 3.45-3.45 3.45-3.45-3.45zM304.6 247.55l3.45 3.45-3.45 3.45-3.45-3.45zM407.7 163.35l3.45 3.45-3.45 3.45-3.45-3.45zM348.0 226.15l3.45 3.45-3.45 3.45-3.45-3.45zM295.9 221.95l3.45 3.45-3.45 3.45-3.45-3.45zM350.6 203.55l3.45 3.45-3.45 3.45-3.45-3.45zM294.0 241.65l3.45 3.45-3.45 3.45-3.45-3.45zM392.5 208.35l3.45 3.45-3.45 3.45-3.45-3.45zM508.1 77.45l3.45 3.45-3.45 3.45-3.45-3.45zM295.7 212.25l3.45 3.45-3.45 3.45-3.45-3.45zM490.3 97.55l3.45 3.45-3.45 3.45-3.45-3.45zM448.6 111.05l3.45 3.45-3.45 3.45-3.45-3.45zM369.9 180.95l3.45 3.45-3.45 3.45-3.45-3.45zM386.0 164.75l3.45 3.45-3.45 3.45-3.45-3.45zM507.6 90.45l3.45 3.45-3.45 3.45-3.45-3.45zM413.0 170.55l3.45 3.45-3.45 3.45-3.45-3.45zM307.4 202.65l3.45 3.45-3.45 3.45-3.45-3.45zM415.0 171.95l3.45 3.45-3.45 3.45-3.45-3.45zM322.3 235.85l3.45 3.45-3.45 3.45-3.45-3.45zM312.1 204.75l3.45 3.45-3.45 3.45-3.45-3.45zM402.0 175.55l3.45 3.45-3.45 3.45-3.45-3.45zM285.3 249.25l3.45 3.45-3.45 3.45-3.45-3.45zM419.1 153.95l3.45 3.45-3.45 3.45-3.45-3.45zM407.9 139.35l3.45 3.45-3.45 3.45-3.45-3.45zM448.3 126.05l3.45 3.45-3.45 3.45-3.45-3.45zM457.7 163.55l3.45 3.45-3.45 3.45-3.45-3.45zM459.9 104.75l3.45 3.45-3.45 3.45-3.45-3.45zM294.8 224.65l3.45 3.45-3.45 3.45-3.45-3.45zM423.9 161.15l3.45 3.45-3.45 3.45-3.45-3.45zM409.3 142.15l3.45 3.45-3.45 3.45-3.45-3.45zM405.0 204.55l3.45 3.45-3.45 3.45-3.45-3.45zM433.0 179.95l3.45 3.45-3.45 3.45-3.45-3.45zM386.4 182.25l3.45 3.45-3.45 3.45-3.45-3.45zM249.1 249.35l3.45 3.45-3.45 3.45-3.45-3.45zM407.5 143.25l3.45 3.45-3.45 3.45-3.45-3.45zM465.3 127.45l3.45 3.45-3.45 3.45-3.45-3.45zM318.4 232.65l3.45 3.45-3.45 3.45-3.45-3.45zM412.6 189.55l3.45 3.45-3.45 3.45-3.45-3.45zM460.7 124.95l3.45 3.45-3.45 3.45-3.45-3.45zM307.2 207.35l3.45 3.45-3.45 3.45-3.45-3.45zM495.9 86.65l3.45 3.45-3.45 3.45-3.45-3.45zM322.8 237.05l3.45 3.45-3.45 3.45-3.45-3.45zM257.0 229.05l3.45 3.45-3.45 3.45-3.45-3.45zM395.3 158.95l3.45 3.45-3.45 3.45-3.45-3.45zM257.9 239.65l3.45 3.45-3.45 3.45-3.45-3.45zM373.6 182.35l3.45 3.45-3.45 3.45-3.45-3.45zM378.2 197.65l3.45 3.45-3.45 3.45-3.45-3.45zM304.1 212.35l3.45 3.45-3.45 3.45-3.45-3.45zM322.1 207.65l3.45 3.45-3.45 3.45-3.45-3.45zM520.3 79.95l3.45 3.45-3.45 3.45-3.45-3.45zM450.8 144.35l3.45 3.45-3.45 3.45-3.45-3.45zM529.4 76.25l3.45 3.45-3.45 3.45-3.45-3.45zM492.6 92.35l3.45 3.45-3.45 3.45-3.45-3.45zM332.1 227.35l3.45 3.45-3.45 3.45-3.45-3.45zM446.4 116.55l3.45 3.45-3.45 3.45-3.45-3.45zM380.4 164.35l3.45 3.45-3.45 3.45-3.45-3.45zM414.5 161.05l3.45 3.45-3.45 3.45-3.45-3.45zM475.7 144.45l3.45 3.45-3.45 3.45-3.45-3.45zM366.1 193.75l3.45 3.45-3.45 3.45-3.45-3.45zM329.3 232.45l3.45 3.45-3.45 3.45-3.45-3.45zM394.5 195.45l3.45 3.45-3.45 3.45-3.45-3.45zM476.5 107.75l3.45 3.45-3.45 3.45-3.45-3.45zM350.3 191.45l3.45 3.45-3.45 3.45-3.45-3.45zM465.2 141.15l3.45 3.45-3.45 3.45-3.45-3.45zM320.7 258.25l3.45 3.45-3.45 3.45-3.45-3.45zM520.2 91.25l3.45 3.45-3.45 3.45-3.45-3.45zM542.7 67.45l3.45 3.45-3.45 3.45-3.45-3.45zM441.3 142.65l3.45 3.45-3.45 3.45-3.45-3.45zM291.5 226.85l3.45 3.45-3.45 3.45-3.45-3.45zM208.3 287.45l3.45 3.45-3.45 3.45-3.45-3.45zM344.4 210.05l3.45 3.45-3.45 3.45-3.45-3.45zM353.2 208.55l3.45 3.45-3.45 3.45-3.45-3.45zM381.2 169.45l3.45 3.45-3.45 3.45-3.45-3.45zM395.3 158.95l3.45 3.45-3.45 3.45-3.45-3.45zM427.5 164.45l3.45 3.45-3.45 3.45-3.45-3.45zM483.6 119.85l3.45 3.45-3.45 3.45-3.45-3.45zM358.5 165.85l3.45 3.45-3.45 3.45-3.45-3.45zM435.4 170.85l3.45 3.45-3.45 3.45-3.45-3.45zM431.3 140.75l3.45 3.45-3.45 3.45-3.45-3.45zM475.1 103.55l3.45 3.45-3.45 3.45-3.45-3.45zM390.9 158.05l3.45 3.45-3.45 3.45-3.45-3.45zM510.5 91.45l3.45 3.45-3.45 3.45-3.45-3.45zM496.5 109.15l3.45 3.45-3.45 3.45-3.45-3.45zM398.0 160.25l3.45 3.45-3.45 3.45-3.45-3.45zM387.4 184.05l3.45 3.45-3.45 3.45-3.45-3.45zM532.4 80.75l3.45 3.45-3.45 3.45-3.45-3.45zM410.3 142.85l3.45 3.45-3.45 3.45-3.45-3.45zM475.7 102.35l3.45 3.45-3.45 3.45-3.45-3.45zM387.7 160.25l3.45 3.45-3.45 3.45-3.45-3.45zM467.9 153.55l3.45 3.45-3.45 3.45-3.45-3.45zM346.2 196.95l3.45 3.45-3.45 3.45-3.45-3.45zM388.1 211.55l3.45 3.45-3.45 3.45-3.45-3.45zM468.1 148.45l3.45 3.45-3.45 3.45-3.45-3.45zM339.5 200.95l3.45 3.45-3.45 3.45-3.45-3.45zM441.5 121.05l3.45 3.45-3.45 3.45-3.45-3.45zM425.3 152.85l3.45 3.45-3.45 3.45-3.45-3.45zM255.0 219.15l3.45 3.45-3.45 3.45-3.45-3.45zM224.8 288.05l3.45 3.45-3.45 3.45-3.45-3.45zM296.2 253.35l3.45 3.45-3.45 3.45-3.45-3.45zM422.0 184.65l3.45 3.45-3.45 3.45-3.45-3.45zM333.5 231.05l3.45 3.45-3.45 3.45-3.45-3.45zM374.7 195.85l3.45 3.45-3.45 3.45-3.45-3.45zM393.1 202.25l3.45 3.45-3.45 3.45-3.45-3.45zM363.8 167.95l3.45 3.45-3.45 3.45-3.45-3.45zM563.4 60.55l3.45 3.45-3.45 3.45-3.45-3.45zM337.6 211.75l3.45 3.45-3.45 3.45-3.45-3.45zM302.6 214.05l3.45 3.45-3.45 3.45-3.45-3.45zM410.8 132.65l3.45 3.45-3.45 3.45-3.45-3.45zM315.5 252.15l3.45 3.45-3.45 3.45-3.45-3.45zM496.4 94.95l3.45 3.45-3.45 3.45-3.45-3.45zM477.6 135.65l3.45 3.45-3.45 3.45-3.45-3.45zM344.1 196.35l3.45 3.45-3.45 3.45-3.45-3.45zM447.4 163.95l3.45 3.45-3.45 3.45-3.45-3.45zM429.1 135.65l3.45 3.45-3.45 3.45-3.45-3.45zM382.8 149.05l3.45 3.45-3.45 3.45-3.45-3.45zM218.0 278.55l3.45 3.45-3.45 3.45-3.45-3.45zM390.0 171.75l3.45 3.45-3.45 3.45-3.45-3.45zM376.9 213.75l3.45 3.45-3.45 3.45-3.45-3.45zM387.8 175.35l3.45 3.45-3.45 3.45-3.45-3.45zM340.4 206.05l3.45 3.45-3.45 3.45-3.45-3.45zM428.3 139.55l3.45 3.45-3.45 3.45-3.45-3.45zM460.2 157.75l3.45 3.45-3.45 3.45-3.45-3.45zM510.6 89.85l3.45 3.45-3.45 3.45-3.45-3.45zM255.1 272.65l3.45 3.45-3.45 3.45-3.45-3.45zM403.1 175.15l3.45 3.45-3.45 3.45-3.45-3.45zM405.0 171.45l3.45 3.45-3.45 3.45-3.45-3.45zM220.4 267.95l3.45 3.45-3.45 3.45-3.45-3.45zM392.6 179.15l3.45 3.45-3.45 3.45-3.45-3.45zM445.1 142.95l3.45 3.45-3.45 3.45-3.45-3.45zM304.5 218.65l3.45 3.45-3.45 3.45-3.45-3.45zM474.3 127.75l3.45 3.45-3.45 3.45-3.45-3.45zM254.7 232.65l3.45 3.45-3.45 3.45-3.45-3.45zM494.2 109.15l3.45 3.45-3.45 3.45-3.45-3.45zM395.2 154.75l3.45 3.45-3.45 3.45-3.45-3.45zM311.2 229.75l3.45 3.45-3.45 3.45-3.45-3.45zM219.7 250.15l3.45 3.45-3.45 3.45-3.45-3.45zM456.2 137.15l3.45 3.45-3.45 3.45-3.45-3.45zM400.9 179.85l3.45 3.45-3.45 3.45-3.45-3.45zM443.6 137.85l3.45 3.45-3.45 3.45-3.45-3.45zM355.8 190.05l3.45 3.45-3.45 3.45-3.45-3.45zM274.8 245.95l3.45 3.45-3.45 3.45-3.45-3.45zM319.8 225.95l3.45 3.45-3.45 3.45-3.45-3.45zM339.4 210.65l3.45 3.45-3.45 3.45-3.45-3.45zM339.1 189.65l3.45 3.45-3.45 3.45-3.45-3.45zM279.7 224.85l3.45 3.45-3.45 3.45-3.45-3.45zM439.4 171.75l3.45 3.45-3.45 3.45-3.45-3.45zM366.2 198.55l3.45 3.45-3.45 3.45-3.45-3.45zM308.3 215.55l3.45 3.45-3.45 3.45-3.45-3.45zM455.6 131.25l3.45 3.45-3.45 3.45-3.45-3.45zM297.2 206.25l3.45 3.45-3.45 3.45-3.45-3.45zM423.3 119.85l3.45 3.45-3.45 3.45-3.45-3.45zM528.5 71.75l3.45 3.45-3.45 3.45-3.45-3.45zM363.8 198.05l3.45 3.45-3.45 3.45-3.45-3.45zM396.6 155.95l3.45 3.45-3.45 3.45-3.45-3.45zM428.9 126.05l3.45 3.45-3.45 3.45-3.45-3.45zM501.9 88.85l3.45 3.45-3.45 3.45-3.45-3.45zM560.6 58.85l3.45 3.45-3.45 3.45-3.45-3.45zM332.1 193.35l3.45 3.45-3.45 3.45-3.45-3.45zM474.3 129.55l3.45 3.45-3.45 3.45-3.45-3.45zM477.3 149.95l3.45 3.45-3.45 3.45-3.45-3.45zM474.6 113.25l3.45 3.45-3.45 3.45-3.45-3.45zM372.6 186.25l3.45 3.45-3.45 3.45-3.45-3.45zM405.8 161.15l3.45 3.45-3.45 3.45-3.45-3.45zM425.4 176.15l3.45 3.45-3.45 3.45-3.45-3.45zM267.8 239.15l3.45 3.45-3.45 3.45-3.45-3.45zM474.6 102.65l3.45 3.45-3.45 3.45-3.45-3.45zM511.4 95.75l3.45 3.45-3.45 3.45-3.45-3.45zM440.3 172.05l3.45 3.45-3.45 3.45-3.45-3.45zM313.2 217.75l3.45 3.45-3.45 3.45-3.45-3.45zM409.2 202.15l3.45 3.45-3.45 3.45-3.45-3.45zM450.7 158.45l3.45 3.45-3.45 3.45-3.45-3.45zM480.7 133.25l3.45 3.45-3.45 3.45-3.45-3.45zM467.5 132.25l3.45 3.45-3.45 3.45-3.45-3.45zM361.5 175.35l3.45 3.45-3.45 3.45-3.45-3.45zM452.3 131.35l3.45 3.45-3.45 3.45-3.45-3.45zM212.1 295.25l3.45 3.45-3.45 3.45-3.45-3.45zM464.0 99.15l3.45 3.45-3.45 3.45-3.45-3.45zM446.4 152.95l3.45 3.45-3.45 3.45-3.45-3.45zM413.1 173.05l3.45 3.45-3.45 3.45-3.45-3.45zM403.9 183.65l3.45 3.45-3.45 3.45-3.45-3.45zM304.1 238.25l3.45 3.45-3.45 3.45-3.45-3.45zM365.8 221.75l3.45 3.45-3.45 3.45-3.45-3.45zM488.7 128.45l3.45 3.45-3.45 3.45-3.45-3.45zM483.3 112.55l3.45 3.45-3.45 3.45-3.45-3.45zM424.4 133.25l3.45 3.45-3.45 3.45-3.45-3.45zM357.0 199.95l3.45 3.45-3.45 3.45-3.45-3.45zM370.3 193.55l3.45 3.45-3.45 3.45-3.45-3.45zM473.4 97.95l3.45 3.45-3.45 3.45-3.45-3.45zM328.9 214.45l3.45 3.45-3.45 3.45-3.45-3.45zM395.5 148.55l3.45 3.45-3.45 3.45-3.45-3.45zM273.2 221.15l3.45 3.45-3.45 3.45-3.45-3.45zM210.7 281.65l3.45 3.45-3.45 3.45-3.45-3.45zM364.6 180.95l3.45 3.45-3.45 3.45-3.45-3.45zM441.3 149.65l3.45 3.45-3.45 3.45-3.45-3.45zM475.5 95.35l3.45 3.45-3.45 3.45-3.45-3.45zM253.9 259.05l3.45 3.45-3.45 3.45-3.45-3.45zM289.4 210.05l3.45 3.45-3.45 3.45-3.45-3.45zM273.7 249.35l3.45 3.45-3.45 3.45-3.45-3.45zM333.2 254.75l3.45 3.45-3.45 3.45-3.45-3.45zM446.1 147.75l3.45 3.45-3.45 3.45-3.45-3.45zM451.6 127.55l3.45 3.45-3.45 3.45-3.45-3.45zM454.9 122.15l3.45 3.45-3.45 3.45-3.45-3.45zM462.5 107.45l3.45 3.45-3.45 3.45-3.45-3.45zM371.0 166.55l3.45 3.45-3.45 3.45-3.45-3.45zM347.5 180.95l3.45 3.45-3.45 3.45-3.45-3.45zM206.8 273.85l3.45 3.45-3.45 3.45-3.45-3.45zM311.4 228.95l3.45 3.45-3.45 3.45-3.45-3.45zM457.8 120.55l3.45 3.45-3.45 3.45-3.45-3.45zM468.1 166.25l3.45 3.45-3.45 3.45-3.45-3.45zM313.1 241.65l3.45 3.45-3.45 3.45-3.45-3.45zM471.5 142.85l3.45 3.45-3.45 3.45-3.45-3.45zM436.3 171.45l3.45 3.45-3.45 3.45-3.45-3.45zM460.5 110.45l3.45 3.45-3.45 3.45-3.45-3.45zM355.3 219.65l3.45 3.45-3.45 3.45-3.45-3.45zM430.1 128.75l3.45 3.45-3.45 3.45-3.45-3.45zM371.5 183.15l3.45 3.45-3.45 3.45-3.45-3.45zM520.1 89.25l3.45 3.45-3.45 3.45-3.45-3.45zM386.9 220.95l3.45 3.45-3.45 3.45-3.45-3.45zM413.0 183.95l3.45 3.45-3.45 3.45-3.45-3.45zM535.9 72.65l3.45 3.45-3.45 3.45-3.45-3.45zM400.0 184.45l3.45 3.45-3.45 3.45-3.45-3.45zM486.2 108.75l3.45 3.45-3.45 3.45-3.45-3.45zM220.8 255.35l3.45 3.45-3.45 3.45-3.45-3.45zM459.5 110.85l3.45 3.45-3.45 3.45-3.45-3.45zM467.7 155.15l3.45 3.45-3.45 3.45-3.45-3.45zM425.6 165.45l3.45 3.45-3.45 3.45-3.45-3.45zM377.0 199.65l3.45 3.45-3.45 3.45-3.45-3.45zM444.7 149.85l3.45 3.45-3.45 3.45-3.45-3.45zM324.6 221.95l3.45 3.45-3.45 3.45-3.45-3.45zM443.8 157.65l3.45 3.45-3.45 3.45-3.45-3.45zM427.1 150.65l3.45 3.45-3.45 3.45-3.45-3.45zM392.9 191.75l3.45 3.45-3.45 3.45-3.45-3.45zM312.6 223.05l3.45 3.45-3.45 3.45-3.45-3.45zM528.6 71.45l3.45 3.45-3.45 3.45-3.45-3.45zM494.6 103.65l3.45 3.45-3.45 3.45-3.45-3.45zM359.7 171.75l3.45 3.45-3.45 3.45-3.45-3.45zM513.8 98.55l3.45 3.45-3.45 3.45-3.45-3.45zM334.2 202.45l3.45 3.45-3.45 3.45-3.45-3.45zM435.6 127.05l3.45 3.45-3.45 3.45-3.45-3.45zM409.6 160.15l3.45 3.45-3.45 3.45-3.45-3.45zM369.6 201.75l3.45 3.45-3.45 3.45-3.45-3.45zM408.4 151.45l3.45 3.45-3.45 3.45-3.45-3.45zM412.4 190.95l3.45 3.45-3.45 3.45-3.45-3.45zM424.9 154.25l3.45 3.45-3.45 3.45-3.45-3.45zM394.0 140.95l3.45 3.45-3.45 3.45-3.45-3.45zM320.8 225.95l3.45 3.45-3.45 3.45-3.45-3.45zM405.6 147.35l3.45 3.45-3.45 3.45-3.45-3.45zM355.6 184.25l3.45 3.45-3.45 3.45-3.45-3.45zM458.2 129.65l3.45 3.45-3.45 3.45-3.45-3.45zM370.5 225.95l3.45 3.45-3.45 3.45-3.45-3.45zM516.1 96.35l3.45 3.45-3.45 3.45-3.45-3.45zM337.1 232.45l3.45 3.45-3.45 3.45-3.45-3.45zM513.6 81.65l3.45 3.45-3.45 3.45-3.45-3.45zM302.2 213.85l3.45 3.45-3.45 3.45-3.45-3.45zM409.0 140.95l3.45 3.45-3.45 3.45-3.45-3.45zM551.8 60.75l3.45 3.45-3.45 3.45-3.45-3.45zM523.9 88.75l3.45 3.45-3.45 3.45-3.45-3.45zM275.2 238.85l3.45 3.45-3.45 3.45-3.45-3.45zM464.2 124.85l3.45 3.45-3.45 3.45-3.45-3.45zM478.2 112.75l3.45 3.45-3.45 3.45-3.45-3.45zM424.2 141.65l3.45 3.45-3.45 3.45-3.45-3.45zM449.6 131.85l3.45 3.45-3.45 3.45-3.45-3.45zM373.0 175.45l3.45 3.45-3.45 3.45-3.45-3.45zM499.5 96.75l3.45 3.45-3.45 3.45-3.45-3.45zM333.3 202.35l3.45 3.45-3.45 3.45-3.45-3.45zM482.4 93.85l3.45 3.45-3.45 3.45-3.45-3.45zM377.4 199.75l3.45 3.45-3.45 3.45-3.45-3.45zM442.6 129.05l3.45 3.45-3.45 3.45-3.45-3.45zM505.6 78.85l3.45 3.45-3.45 3.45-3.45-3.45zM372.6 177.95l3.45 3.45-3.45 3.45-3.45-3.45zM507.6 92.55l3.45 3.45-3.45 3.45-3.45-3.45zM392.7 175.55l3.45 3.45-3.45 3.45-3.45-3.45zM451.8 149.65l3.45 3.45-3.45 3.45-3.45-3.45zM477.8 121.15l3.45 3.45-3.45 3.45-3.45-3.45zM415.0 179.15l3.45 3.45-3.45 3.45-3.45-3.45zM418.2 145.65l3.45 3.45-3.45 3.45-3.45-3.45zM361.2 219.55l3.45 3.45-3.45 3.45-3.45-3.45zM354.2 174.35l3.45 3.45-3.45 3.45-3.45-3.45zM421.9 143.85l3.45 3.45-3.45 3.45-3.45-3.45zM434.8 140.75l3.45 3.45-3.45 3.45-3.45-3.45zM316.9 236.75l3.45 3.45-3.45 3.45-3.45-3.45zM453.1 124.05l3.45 3.45-3.45 3.45-3.45-3.45zM388.7 194.95l3.45 3.45-3.45 3.45-3.45-3.45zM370.5 170.65l3.45 3.45-3.45 3.45-3.45-3.45zM411.7 138.05l3.45 3.45-3.45 3.45-3.45-3.45zM402.3 182.15l3.45 3.45-3.45 3.45-3.45-3.45zM382.5 170.65l3.45 3.45-3.45 3.45-3.45-3.45zM391.0 179.25l3.45 3.45-3.45 3.45-3.45-3.45zM450.2 116.95l3.45 3.45-3.45 3.45-3.45-3.45zM405.4 173.45l3.45 3.45-3.45 3.45-3.45-3.45zM333.5 238.45l3.45 3.45-3.45 3.45-3.45-3.45zM340.9 203.15l3.45 3.45-3.45 3.45-3.45-3.45zM406.8 164.75l3.45 3.45-3.45 3.45-3.45-3.45zM347.3 188.05l3.45 3.45-3.45 3.45-3.45-3.45zM531.7 67.15l3.45 3.45-3.45 3.45-3.45-3.45zM533.3 67.95l3.45 3.45-3.45 3.45-3.45-3.45zM403.7 182.75l3.45 3.45-3.45 3.45-3.45-3.45zM441.3 140.45l3.45 3.45-3.45 3.45-3.45-3.45zM303.9 258.65l3.45 3.45-3.45 3.45-3.45-3.45zM367.5 171.85l3.45 3.45-3.45 3.45-3.45-3.45zM358.3 180.15l3.45 3.45-3.45 3.45-3.45-3.45zM425.3 173.35l3.45 3.45-3.45 3.45-3.45-3.45zM397.9 188.45l3.45 3.45-3.45 3.45-3.45-3.45zM456.2 143.25l3.45 3.45-3.45 3.45-3.45-3.45zM408.2 201.85l3.45 3.45-3.45 3.45-3.45-3.45zM345.3 191.65l3.45 3.45-3.45 3.45-3.45-3.45zM427.8 156.15l3.45 3.45-3.45 3.45-3.45-3.45zM479.6 117.25l3.45 3.45-3.45 3.45-3.45-3.45zM376.2 165.55l3.45 3.45-3.45 3.45-3.45-3.45zM444.7 154.85l3.45 3.45-3.45 3.45-3.45-3.45zM396.7 201.65l3.45 3.45-3.45 3.45-3.45-3.45zM449.2 124.15l3.45 3.45-3.45 3.45-3.45-3.45zM499.7 108.85l3.45 3.45-3.45 3.45-3.45-3.45zM463.9 159.15l3.45 3.45-3.45 3.45-3.45-3.45zM485.5 121.45l3.45 3.45-3.45 3.45-3.45-3.45zM381.7 188.35l3.45 3.45-3.45 3.45-3.45-3.45zM240.3 249.75l3.45 3.45-3.45 3.45-3.45-3.45zM325.7 200.65l3.45 3.45-3.45 3.45-3.45-3.45zM316.5 224.35l3.45 3.45-3.45 3.45-3.45-3.45zM377.8 174.55l3.45 3.45-3.45 3.45-3.45-3.45zM482.0 133.85l3.45 3.45-3.45 3.45-3.45-3.45zM216.9 263.45l3.45 3.45-3.45 3.45-3.45-3.45zM446.0 131.95l3.45 3.45-3.45 3.45-3.45-3.45zM287.9 213.65l3.45 3.45-3.45 3.45-3.45-3.45zM495.3 114.35l3.45 3.45-3.45 3.45-3.45-3.45zM405.4 192.05l3.45 3.45-3.45 3.45-3.45-3.45zM441.3 154.55l3.45 3.45-3.45 3.45-3.45-3.45zM440.8 151.25l3.45 3.45-3.45 3.45-3.45-3.45zM465.4 154.35l3.45 3.45-3.45 3.45-3.45-3.45zM428.8 161.95l3.45 3.45-3.45 3.45-3.45-3.45zM439.7 148.65l3.45 3.45-3.45 3.45-3.45-3.45zM402.1 136.85l3.45 3.45-3.45 3.45-3.45-3.45zM423.4 145.75l3.45 3.45-3.45 3.45-3.45-3.45zM447.3 168.65l3.45 3.45-3.45 3.45-3.45-3.45zM289.6 228.35l3.45 3.45-3.45 3.45-3.45-3.45zM343.6 227.65l3.45 3.45-3.45 3.45-3.45-3.45zM551.3 68.15l3.45 3.45-3.45 3.45-3.45-3.45zM333.3 205.35l3.45 3.45-3.45 3.45-3.45-3.45zM468.1 129.95l3.45 3.45-3.45 3.45-3.45-3.45zM427.2 131.15l3.45 3.45-3.45 3.45-3.45-3.45zM323.5 204.15l3.45 3.45-3.45 3.45-3.45-3.45zM483.1 135.55l3.45 3.45-3.45 3.45-3.45-3.45zM550.5 60.65l3.45 3.45-3.45 3.45-3.45-3.45zM512.1 94.15l3.45 3.45-3.45 3.45-3.45-3.45zM471.4 106.95l3.45 3.45-3.45 3.45-3.45-3.45zM369.2 183.45l3.45 3.45-3.45 3.45-3.45-3.45zM363.8 165.35l3.45 3.45-3.45 3.45-3.45-3.45zM443.5 152.85l3.45 3.45-3.45 3.45-3.45-3.45zM326.0 198.75l3.45 3.45-3.45 3.45-3.45-3.45zM276.4 251.15l3.45 3.45-3.45 3.45-3.45-3.45zM356.6 201.05l3.45 3.45-3.45 3.45-3.45-3.45zM314.9 234.75l3.45 3.45-3.45 3.45-3.45-3.45zM315.4 261.35l3.45 3.45-3.45 3.45-3.45-3.45zM472.4 98.35l3.45 3.45-3.45 3.45-3.45-3.45zM404.1 184.05l3.45 3.45-3.45 3.45-3.45-3.45zM405.7 149.85l3.45 3.45-3.45 3.45-3.45-3.45zM387.8 170.45l3.45 3.45-3.45 3.45-3.45-3.45zM368.7 166.05l3.45 3.45-3.45 3.45-3.45-3.45zM403.6 135.95l3.45 3.45-3.45 3.45-3.45-3.45zM378.6 192.35l3.45 3.45-3.45 3.45-3.45-3.45zM392.1 177.75l3.45 3.45-3.45 3.45-3.45-3.45zM353.8 184.65l3.45 3.45-3.45 3.45-3.45-3.45zM393.4 194.65l3.45 3.45-3.45 3.45-3.45-3.45zM490.6 89.05l3.45 3.45-3.45 3.45-3.45-3.45zM441.5 156.55l3.45 3.45-3.45 3.45-3.45-3.45zM347.0 222.15l3.45 3.45-3.45 3.45-3.45-3.45zM562.5 60.85l3.45 3.45-3.45 3.45-3.45-3.45zM448.2 153.85l3.45 3.45-3.45 3.45-3.45-3.45zM472.2 111.75l3.45 3.45-3.45 3.45-3.45-3.45zM533.8 73.35l3.45 3.45-3.45 3.45-3.45-3.45zM383.0 163.55l3.45 3.45-3.45 3.45-3.45-3.45zM446.7 148.75l3.45 3.45-3.45 3.45-3.45-3.45zM435.7 155.55l3.45 3.45-3.45 3.45-3.45-3.45zM225.1 253.35l3.45 3.45-3.45 3.45-3.45-3.45zM441.1 138.65l3.45 3.45-3.45 3.45-3.45-3.45zM364.9 178.35l3.45 3.45-3.45 3.45-3.45-3.45zM466.0 113.35l3.45 3.45-3.45 3.45-3.45-3.45zM320.3 217.05l3.45 3.45-3.45 3.45-3.45-3.45zM331.1 242.45l3.45 3.45-3.45 3.45-3.45-3.45zM501.2 85.15l3.45 3.45-3.45 3.45-3.45-3.45zM225.1 280.25l3.45 3.45-3.45 3.45-3.45-3.45zM273.4 230.35l3.45 3.45-3.45 3.45-3.45-3.45zM405.3 195.85l3.45 3.45-3.45 3.45-3.45-3.45zM396.0 182.75l3.45 3.45-3.45 3.45-3.45-3.45zM473.4 122.05l3.45 3.45-3.45 3.45-3.45-3.45zM430.7 156.25l3.45 3.45-3.45 3.45-3.45-3.45zM376.9 171.65l3.45 3.45-3.45 3.45-3.45-3.45zM422.5 139.85l3.45 3.45-3.45 3.45-3.45-3.45zM273.6 239.95l3.45 3.45-3.45 3.45-3.45-3.45zM446.3 138.85l3.45 3.45-3.45 3.45-3.45-3.45zM347.3 190.95l3.45 3.45-3.45 3.45-3.45-3.45zM535.3 72.25l3.45 3.45-3.45 3.45-3.45-3.45zM462.4 133.65l3.45 3.45-3.45 3.45-3.45-3.45zM528.9 73.35l3.45 3.45-3.45 3.45-3.45-3.45zM408.7 167.35l3.45 3.45-3.45 3.45-3.45-3.45zM489.8 107.85l3.45 3.45-3.45 3.45-3.45-3.45zM538.6 65.05l3.45 3.45-3.45 3.45-3.45-3.45zM450.1 154.55l3.45 3.45-3.45 3.45-3.45-3.45zM306.6 217.25l3.45 3.45-3.45 3.45-3.45-3.45zM413.4 168.15l3.45 3.45-3.45 3.45-3.45-3.45zM454.0 141.95l3.45 3.45-3.45 3.45-3.45-3.45zM379.4 180.45l3.45 3.45-3.45 3.45-3.45-3.45zM470.5 137.55l3.45 3.45-3.45 3.45-3.45-3.45zM389.2 181.05l3.45 3.45-3.45 3.45-3.45-3.45zM319.9 223.05l3.45 3.45-3.45 3.45-3.45-3.45zM410.4 168.45l3.45 3.45-3.45 3.45-3.45-3.45zM358.5 165.75l3.45 3.45-3.45 3.45-3.45-3.45zM410.8 203.15l3.45 3.45-3.45 3.45-3.45-3.45zM277.4 264.35l3.45 3.45-3.45 3.45-3.45-3.45zM457.9 128.55l3.45 3.45-3.45 3.45-3.45-3.45zM382.4 166.15l3.45 3.45-3.45 3.45-3.45-3.45zM330.4 195.25l3.45 3.45-3.45 3.45-3.45-3.45zM501.8 101.95l3.45 3.45-3.45 3.45-3.45-3.45zM356.2 193.75l3.45 3.45-3.45 3.45-3.45-3.45zM467.8 135.55l3.45 3.45-3.45 3.45-3.45-3.45zM498.5 97.85l3.45 3.45-3.45 3.45-3.45-3.45zM480.8 121.95l3.45 3.45-3.45 3.45-3.45-3.45zM480.0 111.25l3.45 3.45-3.45 3.45-3.45-3.45zM486.0 98.45l3.45 3.45-3.45 3.45-3.45-3.45zM482.4 105.25l3.45 3.45-3.45 3.45-3.45-3.45zM518.3 86.35l3.45 3.45-3.45 3.45-3.45-3.45zM405.7 193.25l3.45 3.45-3.45 3.45-3.45-3.45zM380.4 188.65l3.45 3.45-3.45 3.45-3.45-3.45zM467.2 147.65l3.45 3.45-3.45 3.45-3.45-3.45zM538.8 70.95l3.45 3.45-3.45 3.45-3.45-3.45zM391.0 164.85l3.45 3.45-3.45 3.45-3.45-3.45zM301.7 232.15l3.45 3.45-3.45 3.45-3.45-3.45zM308.9 219.05l3.45 3.45-3.45 3.45-3.45-3.45zM384.7 174.05l3.45 3.45-3.45 3.45-3.45-3.45zM330.7 224.45l3.45 3.45-3.45 3.45-3.45-3.45zM307.2 207.15l3.45 3.45-3.45 3.45-3.45-3.45zM421.1 171.95l3.45 3.45-3.45 3.45-3.45-3.45zM484.2 98.45l3.45 3.45-3.45 3.45-3.45-3.45zM301.8 231.55l3.45 3.45-3.45 3.45-3.45-3.45zM525.7 74.75l3.45 3.45-3.45 3.45-3.45-3.45zM308.5 254.25l3.45 3.45-3.45 3.45-3.45-3.45zM327.6 227.05l3.45 3.45-3.45 3.45-3.45-3.45zM429.0 146.65l3.45 3.45-3.45 3.45-3.45-3.45zM209.8 290.95l3.45 3.45-3.45 3.45-3.45-3.45zM483.5 101.15l3.45 3.45-3.45 3.45-3.45-3.45zM399.3 167.95l3.45 3.45-3.45 3.45-3.45-3.45zM392.9 206.25l3.45 3.45-3.45 3.45-3.45-3.45zM247.9 257.95l3.45 3.45-3.45 3.45-3.45-3.45zM395.7 182.95l3.45 3.45-3.45 3.45-3.45-3.45zM391.7 203.95l3.45 3.45-3.45 3.45-3.45-3.45zM388.7 183.05l3.45 3.45-3.45 3.45-3.45-3.45zM492.9 96.35l3.45 3.45-3.45 3.45-3.45-3.45zM432.2 173.25l3.45 3.45-3.45 3.45-3.45-3.45zM348.3 199.35l3.45 3.45-3.45 3.45-3.45-3.45zM435.6 161.25l3.45 3.45-3.45 3.45-3.45-3.45zM483.3 99.15l3.45 3.45-3.45 3.45-3.45-3.45zM460.6 159.95l3.45 3.45-3.45 3.45-3.45-3.45zM469.1 152.95l3.45 3.45-3.45 3.45-3.45-3.45zM440.3 170.65l3.45 3.45-3.45 3.45-3.45-3.45zM346.3 189.45l3.45 3.45-3.45 3.45-3.45-3.45zM386.2 183.25l3.45 3.45-3.45 3.45-3.45-3.45zM432.3 153.95l3.45 3.45-3.45 3.45-3.45-3.45zM390.6 191.75l3.45 3.45-3.45 3.45-3.45-3.45zM434.3 136.05l3.45 3.45-3.45 3.45-3.45-3.45zM372.7 196.65l3.45 3.45-3.45 3.45-3.45-3.45zM412.8 170.35l3.45 3.45-3.45 3.45-3.45-3.45zM435.1 119.05l3.45 3.45-3.45 3.45-3.45-3.45zM452.4 133.35l3.45 3.45-3.45 3.45-3.45-3.45zM309.1 224.35l3.45 3.45-3.45 3.45-3.45-3.45zM339.6 212.55l3.45 3.45-3.45 3.45-3.45-3.45zM456.7 123.85l3.45 3.45-3.45 3.45-3.45-3.45zM284.0 250.35l3.45 3.45-3.45 3.45-3.45-3.45zM453.8 160.65l3.45 3.45-3.45 3.45-3.45-3.45zM309.8 246.75l3.45 3.45-3.45 3.45-3.45-3.45zM336.7 204.95l3.45 3.45-3.45 3.45-3.45-3.45zM336.4 186.35l3.45 3.45-3.45 3.45-3.45-3.45zM412.2 145.05l3.45 3.45-3.45 3.45-3.45-3.45zM475.2 122.95l3.45 3.45-3.45 3.45-3.45-3.45zM457.7 105.85l3.45 3.45-3.45 3.45-3.45-3.45zM393.0 170.65l3.45 3.45-3.45 3.45-3.45-3.45zM562.6 61.25l3.45 3.45-3.45 3.45-3.45-3.45zM414.5 179.55l3.45 3.45-3.45 3.45-3.45-3.45zM474.8 161.25l3.45 3.45-3.45 3.45-3.45-3.45zM360.3 168.15l3.45 3.45-3.45 3.45-3.45-3.45zM322.0 234.45l3.45 3.45-3.45 3.45-3.45-3.45zM204.1 278.95l3.45 3.45-3.45 3.45-3.45-3.45zM464.7 145.85l3.45 3.45-3.45 3.45-3.45-3.45zM321.6 250.95l3.45 3.45-3.45 3.45-3.45-3.45zM347.0 205.65l3.45 3.45-3.45 3.45-3.45-3.45zM380.9 197.75l3.45 3.45-3.45 3.45-3.45-3.45zM470.2 113.35l3.45 3.45-3.45 3.45-3.45-3.45zM357.5 207.25l3.45 3.45-3.45 3.45-3.45-3.45zM507.4 91.15l3.45 3.45-3.45 3.45-3.45-3.45zM226.8 251.95l3.45 3.45-3.45 3.45-3.45-3.45zM458.0 137.65l3.45 3.45-3.45 3.45-3.45-3.45zM278.6 231.95l3.45 3.45-3.45 3.45-3.45-3.45zM390.8 166.55l3.45 3.45-3.45 3.45-3.45-3.45zM398.3 171.25l3.45 3.45-3.45 3.45-3.45-3.45zM417.5 160.85l3.45 3.45-3.45 3.45-3.45-3.45zM291.7 217.25l3.45 3.45-3.45 3.45-3.45-3.45zM550.7 61.85l3.45 3.45-3.45 3.45-3.45-3.45zM402.9 162.75l3.45 3.45-3.45 3.45-3.45-3.45zM400.4 166.15l3.45 3.45-3.45 3.45-3.45-3.45zM366.0 176.45l3.45 3.45-3.45 3.45-3.45-3.45zM447.6 153.05l3.45 3.45-3.45 3.45-3.45-3.45zM290.6 209.45l3.45 3.45-3.45 3.45-3.45-3.45zM295.2 202.45l3.45 3.45-3.45 3.45-3.45-3.45zM293.4 204.45l3.45 3.45-3.45 3.45-3.45-3.45zM298.2 204.95l3.45 3.45-3.45 3.45-3.45-3.45zM299.3 204.05l3.45 3.45-3.45 3.45-3.45-3.45zM302.8 197.65l3.45 3.45-3.45 3.45-3.45-3.45zM307.6 195.65l3.45 3.45-3.45 3.45-3.45-3.45zM388.5 220.25l3.45 3.45-3.45 3.45-3.45-3.45zM383.8 224.05l3.45 3.45-3.45 3.45-3.45-3.45zM382.4 223.15l3.45 3.45-3.45 3.45-3.45-3.45zM383.7 225.65l3.45 3.45-3.45 3.45-3.45-3.45zM383.0 230.45l3.45 3.45-3.45 3.45-3.45-3.45zM379.9 233.65l3.45 3.45-3.45 3.45-3.45-3.45zM381.4 235.25l3.45 3.45-3.45 3.45-3.45-3.45zM375.0 236.75l3.45 3.45-3.45 3.45-3.45-3.45zM377.8 235.95l3.45 3.45-3.45 3.45-3.45-3.45zM370.8 232.15l3.45 3.45-3.45 3.45-3.45-3.45zM369.7 233.75l3.45 3.45-3.45 3.45-3.45-3.45zM370.6 228.75l3.45 3.45-3.45 3.45-3.45-3.45zM367.8 228.35l3.45 3.45-3.45 3.45-3.45-3.45zM363.3 227.25l3.45 3.45-3.45 3.45-3.45-3.45zM363.5 229.45l3.45 3.45-3.45 3.45-3.45-3.45zM357.9 233.95l3.45 3.45-3.45 3.45-3.45-3.45zM360.2 234.55l3.45 3.45-3.45 3.45-3.45-3.45zM356.8 232.25l3.45 3.45-3.45 3.45-3.45-3.45zM359.2 232.65l3.45 3.45-3.45 3.45-3.45-3.45zM356.2 230.65l3.45 3.45-3.45 3.45-3.45-3.45zM354.3 224.95l3.45 3.45-3.45 3.45-3.45-3.45zM352.8 224.55l3.45 3.45-3.45 3.45-3.45-3.45zM352.3 223.35l3.45 3.45-3.45 3.45-3.45-3.45zM351.0 223.85l3.45 3.45-3.45 3.45-3.45-3.45zM350.9 229.15l3.45 3.45-3.45 3.45-3.45-3.45zM351.0 232.75l3.45 3.45-3.45 3.45-3.45-3.45zM352.6 238.95l3.45 3.45-3.45 3.45-3.45-3.45zM351.6 236.55l3.45 3.45-3.45 3.45-3.45-3.45zM344.9 240.85l3.45 3.45-3.45 3.45-3.45-3.45zM347.0 242.35l3.45 3.45-3.45 3.45-3.45-3.45zM344.4 244.55l3.45 3.45-3.45 3.45-3.45-3.45zM343.4 245.55l3.45 3.45-3.45 3.45-3.45-3.45zM335.2 247.15l3.45 3.45-3.45 3.45-3.45-3.45zM335.1 246.45l3.45 3.45-3.45 3.45-3.45-3.45zM330.7 255.75l3.45 3.45-3.45 3.45-3.45-3.45zM331.9 252.95l3.45 3.45-3.45 3.45-3.45-3.45zM327.8 256.75l3.45 3.45-3.45 3.45-3.45-3.45zM321.4 256.25l3.45 3.45-3.45 3.45-3.45-3.45zM324.2 258.15l3.45 3.45-3.45 3.45-3.45-3.45zM322.0 256.35l3.45 3.45-3.45 3.45-3.45-3.45zM318.5 254.65l3.45 3.45-3.45 3.45-3.45-3.45zM312.1 260.75l3.45 3.45-3.45 3.45-3.45-3.45zM313.9 258.45l3.45 3.45-3.45 3.45-3.45-3.45zM308.3 264.95l3.45 3.45-3.45 3.45-3.45-3.45zM314.9 194.55l3.45 3.45-3.45 3.45-3.45-3.45zM320.5 189.65l3.45 3.45-3.45 3.45-3.45-3.45zM322.4 186.35l3.45 3.45-3.45 3.45-3.45-3.45zM323.7 187.05l3.45 3.45-3.45 3.45-3.45-3.45zM330.2 184.65l3.45 3.45-3.45 3.45-3.45-3.45zM332.6 181.45l3.45 3.45-3.45 3.45-3.45-3.45zM332.9 179.35l3.45 3.45-3.45 3.45-3.45-3.45zM338.9 180.15l3.45 3.45-3.45 3.45-3.45-3.45zM343.8 178.15l3.45 3.45-3.45 3.45-3.45-3.45zM342.1 176.45l3.45 3.45-3.45 3.45-3.45-3.45zM345.1 174.85l3.45 3.45-3.45 3.45-3.45-3.45zM349.1 170.15l3.45 3.45-3.45 3.45-3.45-3.45zM350.1 170.15l3.45 3.45-3.45 3.45-3.45-3.45zM353.1 166.35l3.45 3.45-3.45 3.45-3.45-3.45zM354.2 163.35l3.45 3.45-3.45 3.45-3.45-3.45zM354.7 164.15l3.45 3.45-3.45 3.45-3.45-3.45zM356.9 162.45l3.45 3.45-3.45 3.45-3.45-3.45zM361.7 155.85l3.45 3.45-3.45 3.45-3.45-3.45zM360.2 156.75l3.45 3.45-3.45 3.45-3.45-3.45zM363.1 152.95l3.45 3.45-3.45 3.45-3.45-3.45zM367.6 153.55l3.45 3.45-3.45 3.45-3.45-3.45zM365.5 151.85l3.45 3.45-3.45 3.45-3.45-3.45zM368.4 148.65l3.45 3.45-3.45 3.45-3.45-3.45zM373.9 147.65l3.45 3.45-3.45 3.45-3.45-3.45zM380.3 145.55l3.45 3.45-3.45 3.45-3.45-3.45zM377.6 148.35l3.45 3.45-3.45 3.45-3.45-3.45zM384.6 140.15l3.45 3.45-3.45 3.45-3.45-3.45zM384.3 139.95l3.45 3.45-3.45 3.45-3.45-3.45zM390.9 140.45l3.45 3.45-3.45 3.45-3.45-3.45zM391.7 141.15l3.45 3.45-3.45 3.45-3.45-3.45zM393.5 138.95l3.45 3.45-3.45 3.45-3.45-3.45zM397.2 139.75l3.45 3.45-3.45 3.45-3.45-3.45zM399.8 138.65l3.45 3.45-3.45 3.45-3.45-3.45zM399.8 132.25l3.45 3.45-3.45 3.45-3.45-3.45zM402.6 131.05l3.45 3.45-3.45 3.45-3.45-3.45zM401.7 131.45l3.45 3.45-3.45 3.45-3.45-3.45zM405.7 130.35l3.45 3.45-3.45 3.45-3.45-3.45zM407.6 128.65l3.45 3.45-3.45 3.45-3.45-3.45zM409.2 125.65l3.45 3.45-3.45 3.45-3.45-3.45zM409.5 119.95l3.45 3.45-3.45 3.45-3.45-3.45zM489.2 138.35l3.45 3.45-3.45 3.45-3.45-3.45zM485.3 137.35l3.45 3.45-3.45 3.45-3.45-3.45zM484.0 140.25l3.45 3.45-3.45 3.45-3.45-3.45zM480.8 144.35l3.45 3.45-3.45 3.45-3.45-3.45zM478.0 145.35l3.45 3.45-3.45 3.45-3.45-3.45zM480.8 148.65l3.45 3.45-3.45 3.45-3.45-3.45zM485.4 154.75l3.45 3.45-3.45 3.45-3.45-3.45zM486.2 151.45l3.45 3.45-3.45 3.45-3.45-3.45zM482.9 156.95l3.45 3.45-3.45 3.45-3.45-3.45zM480.9 156.05l3.45 3.45-3.45 3.45-3.45-3.45zM480.9 159.45l3.45 3.45-3.45 3.45-3.45-3.45zM476.9 161.15l3.45 3.45-3.45 3.45-3.45-3.45zM474.3 164.05l3.45 3.45-3.45 3.45-3.45-3.45zM478.3 170.75l3.45 3.45-3.45 3.45-3.45-3.45zM482.1 167.15l3.45 3.45-3.45 3.45-3.45-3.45zM474.8 169.35l3.45 3.45-3.45 3.45-3.45-3.45zM471.0 166.25l3.45 3.45-3.45 3.45-3.45-3.45zM467.8 166.45l3.45 3.45-3.45 3.45-3.45-3.45zM467.6 171.55l3.45 3.45-3.45 3.45-3.45-3.45zM461.2 174.15l3.45 3.45-3.45 3.45-3.45-3.45zM464.8 173.35l3.45 3.45-3.45 3.45-3.45-3.45zM455.6 176.25l3.45 3.45-3.45 3.45-3.45-3.45zM454.2 174.55l3.45 3.45-3.45 3.45-3.45-3.45zM455.1 180.45l3.45 3.45-3.45 3.45-3.45-3.45zM450.8 184.85l3.45 3.45-3.45 3.45-3.45-3.45zM452.3 184.25l3.45 3.45-3.45 3.45-3.45-3.45zM448.9 178.35l3.45 3.45-3.45 3.45-3.45-3.45zM445.2 178.55l3.45 3.45-3.45 3.45-3.45-3.45zM438.4 183.05l3.45 3.45-3.45 3.45-3.45-3.45zM438.3 182.55l3.45 3.45-3.45 3.45-3.45-3.45zM434.4 186.95l3.45 3.45-3.45 3.45-3.45-3.45zM432.0 187.65l3.45 3.45-3.45 3.45-3.45-3.45zM433.1 189.35l3.45 3.45-3.45 3.45-3.45-3.45zM428.3 191.65l3.45 3.45-3.45 3.45-3.45-3.45zM424.4 192.45l3.45 3.45-3.45 3.45-3.45-3.45zM423.9 191.15l3.45 3.45-3.45 3.45-3.45-3.45zM421.8 196.85l3.45 3.45-3.45 3.45-3.45-3.45zM420.8 198.45l3.45 3.45-3.45 3.45-3.45-3.45zM414.8 200.45l3.45 3.45-3.45 3.45-3.45-3.45zM416.6 201.05l3.45 3.45-3.45 3.45-3.45-3.45zM410.0 206.05l3.45 3.45-3.45 3.45-3.45-3.45zM410.7 207.45l3.45 3.45-3.45 3.45-3.45-3.45zM405.6 213.15l3.45 3.45-3.45 3.45-3.45-3.45zM406.3 211.85l3.45 3.45-3.45 3.45-3.45-3.45zM405.9 216.05l3.45 3.45-3.45 3.45-3.45-3.45zM402.5 220.45l3.45 3.45-3.45 3.45-3.45-3.45zM404.4 218.75l3.45 3.45-3.45 3.45-3.45-3.45zM396.5 222.45l3.45 3.45-3.45 3.45-3.45-3.45zM396.9 223.05l3.45 3.45-3.45 3.45-3.45-3.45zM390.0 221.45l3.45 3.45-3.45 3.45-3.45-3.45zM409.6 122.75l3.45 3.45-3.45 3.45-3.45-3.45zM412.1 117.95l3.45 3.45-3.45 3.45-3.45-3.45zM411.8 116.35l3.45 3.45-3.45 3.45-3.45-3.45zM415.3 119.15l3.45 3.45-3.45 3.45-3.45-3.45zM421.5 115.85l3.45 3.45-3.45 3.45-3.45-3.45zM418.9 117.05l3.45 3.45-3.45 3.45-3.45-3.45zM422.8 115.45l3.45 3.45-3.45 3.45-3.45-3.45zM427.0 116.45l3.45 3.45-3.45 3.45-3.45-3.45zM429.8 117.35l3.45 3.45-3.45 3.45-3.45-3.45zM432.3 115.75l3.45 3.45-3.45 3.45-3.45-3.45zM439.3 112.65l3.45 3.45-3.45 3.45-3.45-3.45zM440.6 115.75l3.45 3.45-3.45 3.45-3.45-3.45zM442.1 113.65l3.45 3.45-3.45 3.45-3.45-3.45zM447.0 109.65l3.45 3.45-3.45 3.45-3.45-3.45zM449.7 110.85l3.45 3.45-3.45 3.45-3.45-3.45zM449.7 106.35l3.45 3.45-3.45 3.45-3.45-3.45zM454.4 103.05l3.45 3.45-3.45 3.45-3.45-3.45zM452.8 103.15l3.45 3.45-3.45 3.45-3.45-3.45zM461.6 98.65l3.45 3.45-3.45 3.45-3.45-3.45zM461.1 100.25l3.45 3.45-3.45 3.45-3.45-3.45zM464.0 96.45l3.45 3.45-3.45 3.45-3.45-3.45zM466.6 96.95l3.45 3.45-3.45 3.45-3.45-3.45zM469.3 93.85l3.45 3.45-3.45 3.45-3.45-3.45zM471.6 94.15l3.45 3.45-3.45 3.45-3.45-3.45zM473.9 90.15l3.45 3.45-3.45 3.45-3.45-3.45zM478.7 90.95l3.45 3.45-3.45 3.45-3.45-3.45zM479.8 88.25l3.45 3.45-3.45 3.45-3.45-3.45zM487.0 88.95l3.45 3.45-3.45 3.45-3.45-3.45zM489.3 85.65l3.45 3.45-3.45 3.45-3.45-3.45zM490.0 81.55l3.45 3.45-3.45 3.45-3.45-3.45zM490.5 81.85l3.45 3.45-3.45 3.45-3.45-3.45zM493.6 78.45l3.45 3.45-3.45 3.45-3.45-3.45zM501.0 79.05l3.45 3.45-3.45 3.45-3.45-3.45zM499.0 80.85l3.45 3.45-3.45 3.45-3.45-3.45zM504.6 78.25l3.45 3.45-3.45 3.45-3.45-3.45zM505.8 76.35l3.45 3.45-3.45 3.45-3.45-3.45zM505.1 76.55l3.45 3.45-3.45 3.45-3.45-3.45zM511.7 73.85l3.45 3.45-3.45 3.45-3.45-3.45zM517.1 75.55l3.45 3.45-3.45 3.45-3.45-3.45zM516.2 72.35l3.45 3.45-3.45 3.45-3.45-3.45zM521.0 71.55l3.45 3.45-3.45 3.45-3.45-3.45zM523.0 70.15l3.45 3.45-3.45 3.45-3.45-3.45zM523.4 69.95l3.45 3.45-3.45 3.45-3.45-3.45zM529.9 65.15l3.45 3.45-3.45 3.45-3.45-3.45zM531.6 65.15l3.45 3.45-3.45 3.45-3.45-3.45zM533.5 62.35l3.45 3.45-3.45 3.45-3.45-3.45zM532.3 61.95l3.45 3.45-3.45 3.45-3.45-3.45zM535.7 60.95l3.45 3.45-3.45 3.45-3.45-3.45zM541.4 62.15l3.45 3.45-3.45 3.45-3.45-3.45zM539.5 61.75l3.45 3.45-3.45 3.45-3.45-3.45zM546.6 58.15l3.45 3.45-3.45 3.45-3.45-3.45zM550.3 57.45l3.45 3.45-3.45 3.45-3.45-3.45zM548.5 59.15l3.45 3.45-3.45 3.45-3.45-3.45zM552.3 57.45l3.45 3.45-3.45 3.45-3.45-3.45zM557.7 58.85l3.45 3.45-3.45 3.45-3.45-3.45zM556.5 58.25l3.45 3.45-3.45 3.45-3.45-3.45zM562.5 56.45l3.45 3.45-3.45 3.45-3.45-3.45zM565.9 54.25l3.45 3.45-3.45 3.45-3.45-3.45zM563.4 53.15l3.45 3.45-3.45 3.45-3.45-3.45zM567.3 58.05l3.45 3.45-3.45 3.45-3.45-3.45zM567.6 54.05l3.45 3.45-3.45 3.45-3.45-3.45zM565.2 60.35l3.45 3.45-3.45 3.45-3.45-3.45zM568.6 59.25l3.45 3.45-3.45 3.45-3.45-3.45zM561.6 62.55l3.45 3.45-3.45 3.45-3.45-3.45zM561.8 63.25l3.45 3.45-3.45 3.45-3.45-3.45zM557.9 65.75l3.45 3.45-3.45 3.45-3.45-3.45zM555.0 70.35l3.45 3.45-3.45 3.45-3.45-3.45zM557.5 69.05l3.45 3.45-3.45 3.45-3.45-3.45zM551.2 75.75l3.45 3.45-3.45 3.45-3.45-3.45zM552.9 72.65l3.45 3.45-3.45 3.45-3.45-3.45zM546.7 71.85l3.45 3.45-3.45 3.45-3.45-3.45zM547.1 73.05l3.45 3.45-3.45 3.45-3.45-3.45zM542.7 78.95l3.45 3.45-3.45 3.45-3.45-3.45zM542.1 77.75l3.45 3.45-3.45 3.45-3.45-3.45zM539.1 81.55l3.45 3.45-3.45 3.45-3.45-3.45zM535.6 83.35l3.45 3.45-3.45 3.45-3.45-3.45zM536.2 85.15l3.45 3.45-3.45 3.45-3.45-3.45zM537.3 90.55l3.45 3.45-3.45 3.45-3.45-3.45zM538.0 95.25l3.45 3.45-3.45 3.45-3.45-3.45zM538.8 94.85l3.45 3.45-3.45 3.45-3.45-3.45zM532.5 94.35l3.45 3.45-3.45 3.45-3.45-3.45zM535.8 93.65l3.45 3.45-3.45 3.45-3.45-3.45zM529.7 93.85l3.45 3.45-3.45 3.45-3.45-3.45zM525.8 94.85l3.45 3.45-3.45 3.45-3.45-3.45zM524.2 97.25l3.45 3.45-3.45 3.45-3.45-3.45zM523.5 98.05l3.45 3.45-3.45 3.45-3.45-3.45zM516.2 100.25l3.45 3.45-3.45 3.45-3.45-3.45zM517.4 101.65l3.45 3.45-3.45 3.45-3.45-3.45zM513.6 106.65l3.45 3.45-3.45 3.45-3.45-3.45zM512.5 107.25l3.45 3.45-3.45 3.45-3.45-3.45zM509.5 112.65l3.45 3.45-3.45 3.45-3.45-3.45zM500.9 110.45l3.45 3.45-3.45 3.45-3.45-3.45zM499.6 118.55l3.45 3.45-3.45 3.45-3.45-3.45zM500.1 119.45l3.45 3.45-3.45 3.45-3.45-3.45zM497.7 121.95l3.45 3.45-3.45 3.45-3.45-3.45zM497.6 122.55l3.45 3.45-3.45 3.45-3.45-3.45zM493.8 124.75l3.45 3.45-3.45 3.45-3.45-3.45zM495.7 127.25l3.45 3.45-3.45 3.45-3.45-3.45zM489.6 128.05l3.45 3.45-3.45 3.45-3.45-3.45zM267.1 264.85l3.45 3.45-3.45 3.45-3.45-3.45zM267.4 258.45l3.45 3.45-3.45 3.45-3.45-3.45zM264.8 251.45l3.45 3.45-3.45 3.45-3.45-3.45zM267.4 244.15l3.45 3.45-3.45 3.45-3.45-3.45zM267.5 240.15l3.45 3.45-3.45 3.45-3.45-3.45zM266.5 230.65l3.45 3.45-3.45 3.45-3.45-3.45zM266.4 224.75l3.45 3.45-3.45 3.45-3.45-3.45zM267.6 217.45l3.45 3.45-3.45 3.45-3.45-3.45zM266.9 215.85l3.45 3.45-3.45 3.45-3.45-3.45zM268.3 209.85l3.45 3.45-3.45 3.45-3.45-3.45zM270.1 210.75l3.45 3.45-3.45 3.45-3.45-3.45zM279.4 204.55l3.45 3.45-3.45 3.45-3.45-3.45zM278.1 204.65l3.45 3.45-3.45 3.45-3.45-3.45zM283.1 194.65l3.45 3.45-3.45 3.45-3.45-3.45zM265.9 274.45l3.45 3.45-3.45 3.45-3.45-3.45zM260.2 276.35l3.45 3.45-3.45 3.45-3.45-3.45zM260.0 274.95l3.45 3.45-3.45 3.45-3.45-3.45zM256.6 276.55l3.45 3.45-3.45 3.45-3.45-3.45zM257.3 279.45l3.45 3.45-3.45 3.45-3.45-3.45zM243.5 277.55l3.45 3.45-3.45 3.45-3.45-3.45zM245.4 280.55l3.45 3.45-3.45 3.45-3.45-3.45zM241.4 284.05l3.45 3.45-3.45 3.45-3.45-3.45zM240.5 286.65l3.45 3.45-3.45 3.45-3.45-3.45zM237.9 290.75l3.45 3.45-3.45 3.45-3.45-3.45zM239.5 289.95l3.45 3.45-3.45 3.45-3.45-3.45zM235.9 284.65l3.45 3.45-3.45 3.45-3.45-3.45zM233.3 287.05l3.45 3.45-3.45 3.45-3.45-3.45zM231.7 295.35l3.45 3.45-3.45 3.45-3.45-3.45zM229.4 295.45l3.45 3.45-3.45 3.45-3.45-3.45zM225.5 296.95l3.45 3.45-3.45 3.45-3.45-3.45zM224.2 298.45l3.45 3.45-3.45 3.45-3.45-3.45zM216.6 299.55l3.45 3.45-3.45 3.45-3.45-3.45zM216.1 299.85l3.45 3.45-3.45 3.45-3.45-3.45zM209.8 299.25l3.45 3.45-3.45 3.45-3.45-3.45zM207.1 299.25l3.45 3.45-3.45 3.45-3.45-3.45zM205.5 301.85l3.45 3.45-3.45 3.45-3.45-3.45zM207.0 303.85l3.45 3.45-3.45 3.45-3.45-3.45zM199.4 300.85l3.45 3.45-3.45 3.45-3.45-3.45zM197.7 301.35l3.45 3.45-3.45 3.45-3.45-3.45zM192.6 298.35l3.45 3.45-3.45 3.45-3.45-3.45zM205.3 267.45l3.45 3.45-3.45 3.45-3.45-3.45zM212.5 261.25l3.45 3.45-3.45 3.45-3.45-3.45zM212.5 263.35l3.45 3.45-3.45 3.45-3.45-3.45zM214.4 254.95l3.45 3.45-3.45 3.45-3.45-3.45zM214.1 252.85l3.45 3.45-3.45 3.45-3.45-3.45zM218.9 246.25l3.45 3.45-3.45 3.45-3.45-3.45zM217.9 249.75l3.45 3.45-3.45 3.45-3.45-3.45zM228.8 243.55l3.45 3.45-3.45 3.45-3.45-3.45zM226.6 244.15l3.45 3.45-3.45 3.45-3.45-3.45zM234.2 244.55l3.45 3.45-3.45 3.45-3.45-3.45zM233.5 242.65l3.45 3.45-3.45 3.45-3.45-3.45zM241.0 245.45l3.45 3.45-3.45 3.45-3.45-3.45zM242.1 245.95l3.45 3.45-3.45 3.45-3.45-3.45zM245.4 239.75l3.45 3.45-3.45 3.45-3.45-3.45zM248.5 238.95l3.45 3.45-3.45 3.45-3.45-3.45zM246.7 233.65l3.45 3.45-3.45 3.45-3.45-3.45zM245.6 236.15l3.45 3.45-3.45 3.45-3.45-3.45zM252.0 230.45l3.45 3.45-3.45 3.45-3.45-3.45zM251.0 230.15l3.45 3.45-3.45 3.45-3.45-3.45zM253.2 224.25l3.45 3.45-3.45 3.45-3.45-3.45zM251.6 222.15l3.45 3.45-3.45 3.45-3.45-3.45zM249.2 220.15l3.45 3.45-3.45 3.45-3.45-3.45zM249.6 219.35l3.45 3.45-3.45 3.45-3.45-3.45zM257.6 219.85l3.45 3.45-3.45 3.45-3.45-3.45zM255.8 216.35l3.45 3.45-3.45 3.45-3.45-3.45zM259.9 213.65l3.45 3.45-3.45 3.45-3.45-3.45zM259.5 213.75l3.45 3.45-3.45 3.45-3.45-3.45zM264.1 215.75l3.45 3.45-3.45 3.45-3.45-3.45zM339.7 250.05l3.45 3.45-3.45 3.45-3.45-3.45zM336.6 253.15l3.45 3.45-3.45 3.45-3.45-3.45zM335.2 255.25l3.45 3.45-3.45 3.45-3.45-3.45zM338.9 259.55l3.45 3.45-3.45 3.45-3.45-3.45zM330.0 265.25l3.45 3.45-3.45 3.45-3.45-3.45zM331.1 257.35l3.45 3.45-3.45 3.45-3.45-3.45zM327.7 258.45l3.45 3.45-3.45 3.45-3.45-3.45zM321.6 258.15l3.45 3.45-3.45 3.45-3.45-3.45zM318.2 259.05l3.45 3.45-3.45 3.45-3.45-3.45zM316.2 265.75l3.45 3.45-3.45 3.45-3.45-3.45z"/>
<path fill="#fff" d="M316.7 234.6L319.2 237.1L316.7 239.6L314.2 237.1Z"/>
<path fill="#fff" d="M357.6 213.6L359.4 215.4L357.6 217.2L355.8 215.4Z"/>
<path fill="#fff" d="M377.6 211.3L379.2 212.9L377.6 214.5L376.0 212.9Z"/>
<path fill="#fff" d="M386.8 212.3L388.2 213.7L386.8 215.1L385.4 213.7Z"/>
<path fill="#fff" d="M345.1 211.7L346.3 212.9L345.1 214.1L343.9 212.9Z"/>
<path fill="#fff" d="M292.5 210.6L293.9 212.0L292.5 213.4L291.1 212.0Z"/>
<path fill="#fff" d="M295.0 226.0L296.1 227.1L295.0 228.2L293.9 227.1Z"/>
<path fill="#fff" d="M300.0 236.8L301.1 237.9L300.0 239.0L298.9 237.9Z"/>
<path fill="#fff" d="M335.1 227.5L336.3 228.7L335.1 229.9L333.9 228.7Z"/>
<path fill="#fff" d="M293.3 247.6L294.5 248.8L293.3 250.0L292.1 248.8Z"/>
<path fill="#fff" d="M315.0 244.8L316.4 246.2L315.0 247.6L313.6 246.2Z"/>
<path fill="#fff" d="M319.2 242.3L320.6 243.7L319.2 245.1L317.8 243.7Z"/>
<path fill="#fff" d="M325.1 248.8L326.7 250.4L325.1 252.0L323.5 250.4Z"/>
<path fill="#fff" d="M308.4 253.4L309.6 254.6L308.4 255.8L307.2 254.6Z"/>
<path fill="#fff" d="M300.9 251.8L302.0 252.9L300.9 254.0L299.8 252.9Z"/>
<path fill="#fff" d="M297.5 263.6L299.3 265.4L297.5 267.2L295.7 265.4Z"/>
<path fill="#fff" d="M355.9 199.4L356.8 200.3L355.9 201.2L355.0 200.3Z"/>
<path fill="#fff" d="M337.6 208.6L338.5 209.5L337.6 210.4L336.7 209.5Z"/>
<path fill="#fff" d="M332.6 212.8L333.5 213.7L332.6 214.6L331.7 213.7Z"/>
<path fill="#fff" d="M385.2 203.4L386.3 204.5L385.2 205.6L384.1 204.5Z"/>
<path fill="#fff" d="M327.6 223.8L328.3 224.5L327.6 225.2L326.9 224.5Z"/>
<path fill="#fff" d="M306.7 235.3L307.6 236.2L306.7 237.1L305.8 236.2Z"/>
<path fill="#fff" d="M345.9 179.7L347.0 180.8L345.9 181.9L344.8 180.8Z"/>
<path fill="#fff" d="M368.5 158.5L369.9 159.9L368.5 161.3L367.1 159.9Z"/>
<path fill="#fff" d="M384.3 148.7L385.5 149.9L384.3 151.1L383.1 149.9Z"/>
<path fill="#fff" d="M440.9 171.2L442.1 172.4L440.9 173.6L439.7 172.4Z"/>
<path fill="#fff" d="M444.3 173.7L445.5 174.9L444.3 176.1L443.1 174.9Z"/>
<path fill="#fff" d="M453.4 172.3L455.2 174.1L453.4 175.9L451.6 174.1Z"/>
<path fill="#fff" d="M432.6 172.9L433.8 174.1L432.6 175.3L431.4 174.1Z"/>
<path fill="#fff" d="M461.8 151.8L463.2 153.2L461.8 154.6L460.4 153.2Z"/>
<path fill="#fff" d="M476.8 147.6L478.2 149.0L476.8 150.4L475.4 149.0Z"/>
<path fill="#fff" d="M472.6 158.8L473.7 159.9L472.6 161.0L471.5 159.9Z"/>
<path fill="#fff" d="M475.1 155.5L476.2 156.6L475.1 157.7L474.0 156.6Z"/>
<path fill="#fff" d="M427.6 183.1L429.4 184.9L427.6 186.7L425.8 184.9Z"/>
<path fill="#fff" d="M417.5 182.7L418.9 184.1L417.5 185.5L416.1 184.1Z"/>
<path fill="#fff" d="M399.2 187.9L400.4 189.1L399.2 190.3L398.0 189.1Z"/>
<path fill="#fff" d="M412.5 184.7L413.6 185.8L412.5 186.9L411.4 185.8Z"/>
<path fill="#fff" d="M438.4 160.7L439.3 161.6L438.4 162.5L437.5 161.6Z"/>
<path fill="#fff" d="M461.8 166.3L462.9 167.4L461.8 168.5L460.7 167.4Z"/>
<path fill="#fff" d="M449.3 164.8L450.2 165.7L449.3 166.6L448.4 165.7Z"/>
<path fill="#fff" d="M414.2 126.8L415.6 128.2L414.2 129.6L412.8 128.2Z"/>
<path fill="#fff" d="M423.4 127.0L424.6 128.2L423.4 129.4L422.2 128.2Z"/>
<path fill="#fff" d="M410.9 135.8L411.6 136.5L410.9 137.2L410.2 136.5Z"/>
<path fill="#fff" d="M419.2 140.0L419.9 140.7L419.2 141.4L418.5 140.7Z"/>
<path fill="#fff" d="M468.5 162.1L469.6 163.2L468.5 164.3L467.4 163.2Z"/>
<path fill="#fff" d="M400.0 207.0L402.5 209.5L400.0 212.0L397.5 209.5Z"/>
<path fill="#fff" d="M402.5 201.6L403.7 202.8L402.5 204.0L401.3 202.8Z"/>
<path fill="#fff" d="M393.3 205.9L394.4 207.0L393.3 208.1L392.2 207.0Z"/>
<path fill="#fff" d="M395.0 215.9L396.1 217.0L395.0 218.1L393.9 217.0Z"/>
<path fill="#fff" d="M408.4 203.4L409.5 204.5L408.4 205.6L407.3 204.5Z"/>
<path fill="#fff" d="M445.9 117.7L446.8 118.6L445.9 119.5L445.0 118.6Z"/>
<path fill="#fff" d="M471.8 104.6L472.5 105.3L471.8 106.0L471.1 105.3Z"/>
<path fill="#fff" d="M503.4 110.3L504.5 111.4L503.4 112.5L502.3 111.4Z"/>
<path fill="#fff" d="M515.9 102.2L516.8 103.1L515.9 104.0L515.0 103.1Z"/>
<path fill="#fff" d="M492.5 86.5L493.2 87.2L492.5 87.9L491.8 87.2Z"/>
<path fill="#fff" d="M275.1 219.0L276.5 220.4L275.1 221.8L273.7 220.4Z"/>
<path fill="#fff" d="M218.9 271.7L222.9 275.7L218.9 279.7L214.9 275.7Z"/>
<path fill="#fff" d="M224.0 271.1L227.3 274.4L224.0 277.7L220.7 274.4Z"/>
<path fill="#fff" d="M220.8 282.8L223.7 285.7L220.8 288.6L217.9 285.7Z"/>
<path fill="#fff" d="M207.6 287.7L211.3 291.4L207.6 295.1L203.9 291.4Z"/>
<path fill="#fff" d="M215.2 293.6L216.8 295.2L215.2 296.8L213.6 295.2Z"/>
<path fill="#fff" d="M222.7 293.6L224.3 295.2L222.7 296.8L221.1 295.2Z"/>
<path fill="#fff" d="M218.9 290.7L220.2 292.0L218.9 293.3L217.6 292.0Z"/>
<path fill="#fff" d="M218.9 298.6L220.2 299.9L218.9 301.2L217.6 299.9Z"/>
<path fill="#fff" d="M235.9 291.5L238.3 293.9L235.9 296.3L233.5 293.9Z"/>
<path fill="#fff" d="M191.9 279.4L194.5 282.0L191.9 284.6L189.3 282.0Z"/>
<path fill="#fff" d="M195.7 273.2L197.5 275.0L195.7 276.8L193.9 275.0Z"/>
<path fill="#fff" d="M203.2 272.8L204.8 274.4L203.2 276.0L201.6 274.4Z"/>
<path fill="#fff" d="M220.2 253.3L221.5 254.6L220.2 255.9L218.9 254.6Z"/>
<path fill="#fff" d="M229.0 252.7L230.3 254.0L229.0 255.3L227.7 254.0Z"/>
<path fill="#fff" d="M234.7 248.9L236.0 250.2L234.7 251.5L233.4 250.2Z"/>
<path fill="#fff" d="M236.6 254.7L237.8 255.9L236.6 257.1L235.4 255.9Z"/>
<path fill="#fff" d="M219.6 257.8L220.8 259.0L219.6 260.2L218.4 259.0Z"/>
<path fill="#fff" d="M224.0 260.9L225.3 262.2L224.0 263.5L222.7 262.2Z"/>
<path fill="#fff" d="M230.3 257.9L231.4 259.0L230.3 260.1L229.2 259.0Z"/>
<path fill="#fff" d="M245.4 252.8L246.6 254.0L245.4 255.2L244.2 254.0Z"/>
<path fill="#fff" d="M248.5 247.0L249.8 248.3L248.5 249.6L247.2 248.3Z"/>
<path fill="#fff" d="M255.4 250.3L256.6 251.5L255.4 252.7L254.2 251.5Z"/>
<path fill="#fff" d="M248.5 259.2L251.9 262.6L248.5 266.0L245.1 262.6Z"/>
<path fill="#fff" d="M263.6 261.3L265.4 263.1L263.6 264.9L261.8 263.1Z"/>
<path fill="#fff" d="M254.2 233.5L255.8 235.1L254.2 236.7L252.6 235.1Z"/>
<path fill="#fff" d="M256.7 229.8L258.3 231.4L256.7 233.0L255.1 231.4Z"/>
<path fill="#fff" d="M256.1 221.5L257.2 222.6L256.1 223.7L255.0 222.6Z"/>
<path fill="#fff" d="M230.3 265.0L231.9 266.6L230.3 268.2L228.7 266.6Z"/>
<path fill="#fff" d="M220.2 264.8L221.4 266.0L220.2 267.2L219.0 266.0Z"/>
<path fill="#fff" d="M208.9 266.6L210.2 267.9L208.9 269.2L207.6 267.9Z"/>
<path fill="#fff" d="M274.4 216.7L277.7 220.0L274.4 223.3L271.1 220.0Z"/>
<path fill="#fff" d="M265.6 223.1L266.9 224.4L265.6 225.7L264.3 224.4Z"/>
<path fill="#fff" d="M265.6 237.0L266.9 238.3L265.6 239.6L264.3 238.3Z"/>
<path fill="#fff" d="M270.7 244.0L271.9 245.2L270.7 246.4L269.5 245.2Z"/>
<path fill="#fff" d="M269.4 253.2L272.7 256.5L269.4 259.8L266.1 256.5Z"/>
<path fill="#fff" d="M273.8 265.0L275.4 266.6L273.8 268.2L272.2 266.6Z"/>
<path fill="#fff" d="M285.1 251.3L288.4 254.6L285.1 257.9L281.8 254.6Z"/>
<path fill="#fff" d="M288.3 250.5L289.9 252.1L288.3 253.7L286.7 252.1Z"/>
<path fill="#fff" d="M292.7 247.8L293.9 249.0L292.7 250.2L291.5 249.0Z"/>
<path fill="#fff" d="M295.2 225.9L296.3 227.0L295.2 228.1L294.1 227.0Z"/>
<path fill="#fff" d="M287.0 223.5L287.9 224.4L287.0 225.3L286.1 224.4Z"/>
<path fill="#fff" d="M287.0 234.9L287.9 235.8L287.0 236.7L286.1 235.8Z"/>
<path fill="#fff" d="M299.6 237.2L300.7 238.3L299.6 239.4L298.5 238.3Z"/>
<path fill="#fff" d="M307.2 234.7L308.3 235.8L307.2 236.9L306.1 235.8Z"/>
<path fill="#fff" d="M316.6 233.8L319.2 236.4L316.6 239.0L314.0 236.4Z"/>
<path fill="#fff" d="M314.1 245.2L315.4 246.5L314.1 247.8L312.8 246.5Z"/>
<path fill="#fff" d="M319.1 242.0L320.4 243.3L319.1 244.6L317.8 243.3Z"/>
<path fill="#fff" d="M307.8 252.2L309.0 253.4L307.8 254.6L306.6 253.4Z"/>
<path fill="#fff" d="M300.9 251.9L301.8 252.8L300.9 253.7L300.0 252.8Z"/>
<path fill="#fff" d="M317.9 251.9L318.8 252.8L317.9 253.7L317.0 252.8Z"/>
<path fill="#fff" d="M325.4 250.2L328.0 252.8L325.4 255.4L322.8 252.8Z"/>
<path fill="#fff" d="M327.9 256.5L329.2 257.8L327.9 259.1L326.6 257.8Z"/>
<path fill="#fff" d="M336.1 240.6L339.4 243.9L336.1 247.2L332.8 243.9Z"/>
<path fill="#fff" d="M330.4 244.5L331.7 245.8L330.4 247.1L329.1 245.8Z"/>
<path fill="#fff" d="M335.5 227.7L336.6 228.8L335.5 229.9L334.4 228.8Z"/>
<path fill="#fff" d="M327.3 223.6L328.1 224.4L327.3 225.2L326.5 224.4Z"/>
<path fill="#fff" d="M309.0 262.8L310.3 264.1L309.0 265.4L307.7 264.1Z"/>
<path fill="#fff" d="M295.2 264.0L296.5 265.3L295.2 266.6L293.9 265.3Z"/>
<path fill="#fff" d="M301.5 265.3L302.8 266.6L301.5 267.9L300.2 266.6Z"/>
<path fill="#fff" d="M282.6 266.6L283.9 267.9L282.6 269.2L281.3 267.9Z"/>
<path d="M103.0 332.45l3.45 3.45-3.45 3.45-3.45-3.45zM114.2 329.35l3.45 3.45-3.45 3.45-3.45-3.45zM115.0 316.25l3.45 3.45-3.45 3.45-3.45-3.45zM124.7 327.35l3.45 3.45-3.45 3.45-3.45-3.45zM133.9 280.25l3.45 3.45-3.45 3.45-3.45-3.45zM133.1 334.15l3.45 3.45-3.45 3.45-3.45-3.45zM139.6 333.35l3.45 3.45-3.45 3.45-3.45-3.45zM143.4 332.45l3.45 3.45-3.45 3.45-3.45-3.45zM145.9 332.45l3.45 3.45-3.45 3.45-3.45-3.45zM132.1 309.45l3.45 3.45-3.45 3.45-3.45-3.45zM138.4 309.15l3.45 3.45-3.45 3.45-3.45-3.45zM140.9 309.65l3.45 3.45-3.45 3.45-3.45-3.45zM134.2 315.75l3.45 3.45-3.45 3.45-3.45-3.45zM134.7 318.65l3.45 3.45-3.45 3.45-3.45-3.45zM132.9 321.35l3.45 3.45-3.45 3.45-3.45-3.45zM144.8 314.45l3.45 3.45-3.45 3.45-3.45-3.45zM147.9 300.45l3.45 3.45-3.45 3.45-3.45-3.45zM154.8 300.45l3.45 3.45-3.45 3.45-3.45-3.45zM152.9 290.45l3.45 3.45-3.45 3.45-3.45-3.45zM164.8 296.65l3.45 3.45-3.45 3.45-3.45-3.45zM154.3 315.75l3.45 3.45-3.45 3.45-3.45-3.45zM156.4 312.95l3.45 3.45-3.45 3.45-3.45-3.45zM158.4 310.75l3.45 3.45-3.45 3.45-3.45-3.45zM160.1 308.25l3.45 3.45-3.45 3.45-3.45-3.45zM155.1 322.45l3.45 3.45-3.45 3.45-3.45-3.45zM158.8 323.65l3.45 3.45-3.45 3.45-3.45-3.45zM166.0 314.15l3.45 3.45-3.45 3.45-3.45-3.45zM169.3 314.95l3.45 3.45-3.45 3.45-3.45-3.45zM171.8 311.65l3.45 3.45-3.45 3.45-3.45-3.45zM173.0 302.15l3.45 3.45-3.45 3.45-3.45-3.45zM174.3 296.65l3.45 3.45-3.45 3.45-3.45-3.45zM176.0 297.45l3.45 3.45-3.45 3.45-3.45-3.45zM171.8 278.55l3.45 3.45-3.45 3.45-3.45-3.45zM173.5 277.95l3.45 3.45-3.45 3.45-3.45-3.45zM173.0 283.25l3.45 3.45-3.45 3.45-3.45-3.45zM176.0 284.05l3.45 3.45-3.45 3.45-3.45-3.45zM178.5 283.25l3.45 3.45-3.45 3.45-3.45-3.45zM170.1 268.55l3.45 3.45-3.45 3.45-3.45-3.45zM181.0 289.95l3.45 3.45-3.45 3.45-3.45-3.45zM183.5 288.25l3.45 3.45-3.45 3.45-3.45-3.45zM182.7 292.45l3.45 3.45-3.45 3.45-3.45-3.45zM180.2 287.45l3.45 3.45-3.45 3.45-3.45-3.45zM183.5 276.55l3.45 3.45-3.45 3.45-3.45-3.45zM184.0 267.35l3.45 3.45-3.45 3.45-3.45-3.45zM188.8 273.25l3.45 3.45-3.45 3.45-3.45-3.45zM182.2 317.15l3.45 3.45-3.45 3.45-3.45-3.45zM186.0 313.25l3.45 3.45-3.45 3.45-3.45-3.45zM187.7 310.75l3.45 3.45-3.45 3.45-3.45-3.45zM187.7 324.95l3.45 3.45-3.45 3.45-3.45-3.45zM188.8 295.75l3.45 3.45-3.45 3.45-3.45-3.45zM176.8 230.25l3.45 3.45-3.45 3.45-3.45-3.45zM160.1 247.45l3.45 3.45-3.45 3.45-3.45-3.45zM187.7 242.45l3.45 3.45-3.45 3.45-3.45-3.45zM186.0 248.35l3.45 3.45-3.45 3.45-3.45-3.45zM178.0 254.15l3.45 3.45-3.45 3.45-3.45-3.45zM178.0 259.45l3.45 3.45-3.45 3.45-3.45-3.45zM189.7 263.65l3.45 3.45-3.45 3.45-3.45-3.45zM304.2 198.55l3.45 3.45-3.45 3.45-3.45-3.45zM296.7 204.45l3.45 3.45-3.45 3.45-3.45-3.45zM293.3 207.75l3.45 3.45-3.45 3.45-3.45-3.45zM290.0 196.05l3.45 3.45-3.45 3.45-3.45-3.45zM352.6 242.75l3.45 3.45-3.45 3.45-3.45-3.45zM355.9 247.85l3.45 3.45-3.45 3.45-3.45-3.45zM366.0 241.95l3.45 3.45-3.45 3.45-3.45-3.45zM362.6 247.85l3.45 3.45-3.45 3.45-3.45-3.45zM368.5 249.45l3.45 3.45-3.45 3.45-3.45-3.45zM366.0 256.15l3.45 3.45-3.45 3.45-3.45-3.45zM373.5 243.65l3.45 3.45-3.45 3.45-3.45-3.45zM387.7 246.15l3.45 3.45-3.45 3.45-3.45-3.45zM371.8 262.35l3.45 3.45-3.45 3.45-3.45-3.45zM339.2 256.95l3.45 3.45-3.45 3.45-3.45-3.45zM345.9 256.95l3.45 3.45-3.45 3.45-3.45-3.45zM350.9 262.35l3.45 3.45-3.45 3.45-3.45-3.45zM340.1 261.95l3.45 3.45-3.45 3.45-3.45-3.45zM341.8 264.55l3.45 3.45-3.45 3.45-3.45-3.45zM293.3 272.35l3.45 3.45-3.45 3.45-3.45-3.45zM295.0 274.05l3.45 3.45-3.45 3.45-3.45-3.45zM290.8 269.85l3.45 3.45-3.45 3.45-3.45-3.45zM305.9 272.05l3.45 3.45-3.45 3.45-3.45-3.45zM314.2 266.55l3.45 3.45-3.45 3.45-3.45-3.45zM305.0 283.25l3.45 3.45-3.45 3.45-3.45-3.45zM313.9 284.05l3.45 3.45-3.45 3.45-3.45-3.45zM320.9 287.45l3.45 3.45-3.45 3.45-3.45-3.45zM290.8 281.55l3.45 3.45-3.45 3.45-3.45-3.45zM290.0 286.55l3.45 3.45-3.45 3.45-3.45-3.45zM325.9 274.05l3.45 3.45-3.45 3.45-3.45-3.45zM327.6 270.75l3.45 3.45-3.45 3.45-3.45-3.45zM333.1 270.25l3.45 3.45-3.45 3.45-3.45-3.45zM341.8 267.35l3.45 3.45-3.45 3.45-3.45-3.45zM344.3 266.55l3.45 3.45-3.45 3.45-3.45-3.45zM347.9 275.25l3.45 3.45-3.45 3.45-3.45-3.45zM355.1 272.35l3.45 3.45-3.45 3.45-3.45-3.45zM335.9 304.65l3.45 3.45-3.45 3.45-3.45-3.45zM368.0 303.25l3.45 3.45-3.45 3.45-3.45-3.45zM300.0 315.45l3.45 3.45-3.45 3.45-3.45-3.45zM381.8 135.25l3.45 3.45-3.45 3.45-3.45-3.45zM375.1 141.45l3.45 3.45-3.45 3.45-3.45-3.45zM381.0 143.95l3.45 3.45-3.45 3.45-3.45-3.45zM364.3 147.25l3.45 3.45-3.45 3.45-3.45-3.45zM368.5 146.45l3.45 3.45-3.45 3.45-3.45-3.45zM338.1 149.25l3.45 3.45-3.45 3.45-3.45-3.45zM345.9 150.65l3.45 3.45-3.45 3.45-3.45-3.45zM290.8 153.15l3.45 3.45-3.45 3.45-3.45-3.45zM303.0 153.15l3.45 3.45-3.45 3.45-3.45-3.45zM305.0 153.15l3.45 3.45-3.45 3.45-3.45-3.45zM290.8 165.25l3.45 3.45-3.45 3.45-3.45-3.45zM312.9 162.25l3.45 3.45-3.45 3.45-3.45-3.45zM322.9 163.45l3.45 3.45-3.45 3.45-3.45-3.45zM339.2 156.45l3.45 3.45-3.45 3.45-3.45-3.45zM341.8 159.75l3.45 3.45-3.45 3.45-3.45-3.45zM343.4 162.25l3.45 3.45-3.45 3.45-3.45-3.45zM350.9 158.15l3.45 3.45-3.45 3.45-3.45-3.45zM350.9 161.45l3.45 3.45-3.45 3.45-3.45-3.45zM334.2 164.75l3.45 3.45-3.45 3.45-3.45-3.45zM330.9 167.25l3.45 3.45-3.45 3.45-3.45-3.45zM327.6 169.25l3.45 3.45-3.45 3.45-3.45-3.45zM315.0 169.75l3.45 3.45-3.45 3.45-3.45-3.45zM317.5 168.95l3.45 3.45-3.45 3.45-3.45-3.45zM340.1 168.95l3.45 3.45-3.45 3.45-3.45-3.45zM345.1 168.15l3.45 3.45-3.45 3.45-3.45-3.45zM347.6 170.65l3.45 3.45-3.45 3.45-3.45-3.45zM329.2 174.85l3.45 3.45-3.45 3.45-3.45-3.45zM326.7 178.15l3.45 3.45-3.45 3.45-3.45-3.45zM313.9 178.45l3.45 3.45-3.45 3.45-3.45-3.45zM292.5 185.35l3.45 3.45-3.45 3.45-3.45-3.45zM303.0 187.35l3.45 3.45-3.45 3.45-3.45-3.45zM309.7 184.85l3.45 3.45-3.45 3.45-3.45-3.45zM310.0 191.55l3.45 3.45-3.45 3.45-3.45-3.45zM319.2 188.15l3.45 3.45-3.45 3.45-3.45-3.45zM371.8 153.15l3.45 3.45-3.45 3.45-3.45-3.45zM363.5 153.15l3.45 3.45-3.45 3.45-3.45-3.45zM357.6 160.65l3.45 3.45-3.45 3.45-3.45-3.45zM394.2 125.55l3.45 3.45-3.45 3.45-3.45-3.45zM400.9 124.75l3.45 3.45-3.45 3.45-3.45-3.45zM406.7 123.05l3.45 3.45-3.45 3.45-3.45-3.45zM486.8 159.25l3.45 3.45-3.45 3.45-3.45-3.45zM472.6 172.35l3.45 3.45-3.45 3.45-3.45-3.45zM483.5 173.65l3.45 3.45-3.45 3.45-3.45-3.45zM488.5 177.35l3.45 3.45-3.45 3.45-3.45-3.45zM460.1 179.85l3.45 3.45-3.45 3.45-3.45-3.45zM466.8 181.45l3.45 3.45-3.45 3.45-3.45-3.45zM463.5 183.95l3.45 3.45-3.45 3.45-3.45-3.45zM482.7 187.35l3.45 3.45-3.45 3.45-3.45-3.45zM475.1 188.95l3.45 3.45-3.45 3.45-3.45-3.45zM455.1 188.15l3.45 3.45-3.45 3.45-3.45-3.45zM439.2 186.45l3.45 3.45-3.45 3.45-3.45-3.45zM435.1 191.55l3.45 3.45-3.45 3.45-3.45-3.45zM451.8 191.55l3.45 3.45-3.45 3.45-3.45-3.45zM430.1 200.25l3.45 3.45-3.45 3.45-3.45-3.45zM420.9 206.05l3.45 3.45-3.45 3.45-3.45-3.45zM412.5 215.25l3.45 3.45-3.45 3.45-3.45-3.45zM406.7 217.75l3.45 3.45-3.45 3.45-3.45-3.45zM402.5 220.25l3.45 3.45-3.45 3.45-3.45-3.45zM440.1 195.25l3.45 3.45-3.45 3.45-3.45-3.45zM437.6 193.55l3.45 3.45-3.45 3.45-3.45-3.45zM448.4 195.25l3.45 3.45-3.45 3.45-3.45-3.45zM452.6 194.35l3.45 3.45-3.45 3.45-3.45-3.45zM442.6 206.05l3.45 3.45-3.45 3.45-3.45-3.45zM436.7 206.05l3.45 3.45-3.45 3.45-3.45-3.45zM434.2 210.25l3.45 3.45-3.45 3.45-3.45-3.45zM434.2 214.45l3.45 3.45-3.45 3.45-3.45-3.45zM435.1 218.55l3.45 3.45-3.45 3.45-3.45-3.45zM432.6 221.05l3.45 3.45-3.45 3.45-3.45-3.45zM427.6 224.45l3.45 3.45-3.45 3.45-3.45-3.45zM430.1 226.95l3.45 3.45-3.45 3.45-3.45-3.45zM425.9 229.45l3.45 3.45-3.45 3.45-3.45-3.45zM423.4 231.65l3.45 3.45-3.45 3.45-3.45-3.45zM418.7 233.95l3.45 3.45-3.45 3.45-3.45-3.45zM419.7 238.25l3.45 3.45-3.45 3.45-3.45-3.45zM442.1 228.25l3.45 3.45-3.45 3.45-3.45-3.45zM443.8 249.15l3.45 3.45-3.45 3.45-3.45-3.45zM459.8 204.45l3.45 3.45-3.45 3.45-3.45-3.45zM466.8 209.45l3.45 3.45-3.45 3.45-3.45-3.45zM473.0 206.05l3.45 3.45-3.45 3.45-3.45-3.45zM489.3 234.15l3.45 3.45-3.45 3.45-3.45-3.45zM410.9 228.25l3.45 3.45-3.45 3.45-3.45-3.45zM406.7 230.25l3.45 3.45-3.45 3.45-3.45-3.45zM400.0 226.95l3.45 3.45-3.45 3.45-3.45-3.45zM393.3 235.25l3.45 3.45-3.45 3.45-3.45-3.45zM390.0 231.15l3.45 3.45-3.45 3.45-3.45-3.45zM397.0 243.15l3.45 3.45-3.45 3.45-3.45-3.45zM406.7 242.25l3.45 3.45-3.45 3.45-3.45-3.45zM390.0 246.15l3.45 3.45-3.45 3.45-3.45-3.45zM422.9 79.25l3.45 3.45-3.45 3.45-3.45-3.45zM423.9 97.25l3.45 3.45-3.45 3.45-3.45-3.45zM484.8 72.55l3.45 3.45-3.45 3.45-3.45-3.45zM461.8 82.25l3.45 3.45-3.45 3.45-3.45-3.45zM454.8 89.25l3.45 3.45-3.45 3.45-3.45-3.45zM434.7 105.45l3.45 3.45-3.45 3.45-3.45-3.45zM412.0 110.45l3.45 3.45-3.45 3.45-3.45-3.45zM399.2 120.15l3.45 3.45-3.45 3.45-3.45-3.45zM427.1 112.15l3.45 3.45-3.45 3.45-3.45-3.45zM430.9 112.65l3.45 3.45-3.45 3.45-3.45-3.45zM443.1 107.65l3.45 3.45-3.45 3.45-3.45-3.45zM452.6 96.75l3.45 3.45-3.45 3.45-3.45-3.45zM453.4 100.15l3.45 3.45-3.45 3.45-3.45-3.45zM462.6 92.25l3.45 3.45-3.45 3.45-3.45-3.45zM467.1 91.25l3.45 3.45-3.45 3.45-3.45-3.45zM474.0 87.25l3.45 3.45-3.45 3.45-3.45-3.45zM410.9 115.15l3.45 3.45-3.45 3.45-3.45-3.45zM488.5 80.95l3.45 3.45-3.45 3.45-3.45-3.45zM576.0 48.25l3.45 3.45-3.45 3.45-3.45-3.45zM544.8 90.15l3.45 3.45-3.45 3.45-3.45-3.45zM525.1 61.25l3.45 3.45-3.45 3.45-3.45-3.45zM522.1 66.25l3.45 3.45-3.45 3.45-3.45-3.45zM552.6 73.75l3.45 3.45-3.45 3.45-3.45-3.45zM535.1 95.45l3.45 3.45-3.45 3.45-3.45-3.45zM517.5 107.15l3.45 3.45-3.45 3.45-3.45-3.45zM522.6 107.95l3.45 3.45-3.45 3.45-3.45-3.45zM533.1 112.55l3.45 3.45-3.45 3.45-3.45-3.45zM501.7 78.75l3.45 3.45-3.45 3.45-3.45-3.45zM493.3 80.45l3.45 3.45-3.45 3.45-3.45-3.45zM506.7 117.55l3.45 3.45-3.45 3.45-3.45-3.45zM508.4 120.05l3.45 3.45-3.45 3.45-3.45-3.45zM512.5 123.45l3.45 3.45-3.45 3.45-3.45-3.45zM515.0 115.85l3.45 3.45-3.45 3.45-3.45-3.45zM520.1 115.05l3.45 3.45-3.45 3.45-3.45-3.45zM523.4 117.55l3.45 3.45-3.45 3.45-3.45-3.45zM525.9 120.05l3.45 3.45-3.45 3.45-3.45-3.45zM527.6 115.85l3.45 3.45-3.45 3.45-3.45-3.45zM505.9 129.25l3.45 3.45-3.45 3.45-3.45-3.45zM509.2 133.45l3.45 3.45-3.45 3.45-3.45-3.45zM490.8 137.55l3.45 3.45-3.45 3.45-3.45-3.45zM503.0 141.25l3.45 3.45-3.45 3.45-3.45-3.45zM500.4 142.95l3.45 3.45-3.45 3.45-3.45-3.45zM495.0 146.75l3.45 3.45-3.45 3.45-3.45-3.45zM495.8 151.75l3.45 3.45-3.45 3.45-3.45-3.45zM500.0 156.25l3.45 3.45-3.45 3.45-3.45-3.45zM494.2 165.65l3.45 3.45-3.45 3.45-3.45-3.45zM497.0 171.35l3.45 3.45-3.45 3.45-3.45-3.45zM520.1 177.15l3.45 3.45-3.45 3.45-3.45-3.45zM490.0 176.85l3.45 3.45-3.45 3.45-3.45-3.45zM495.8 129.25l3.45 3.45-3.45 3.45-3.45-3.45zM462.8 287.35l3.45 3.45-3.45 3.45-3.45-3.45zM492.8 190.55l3.45 3.45-3.45 3.45-3.45-3.45zM215.0 153.45l3.45 3.45-3.45 3.45-3.45-3.45zM280.2 153.45l3.45 3.45-3.45 3.45-3.45-3.45zM289.7 153.45l3.45 3.45-3.45 3.45-3.45-3.45zM274.0 164.45l3.45 3.45-3.45 3.45-3.45-3.45zM289.7 165.25l3.45 3.45-3.45 3.45-3.45-3.45zM278.0 179.35l3.45 3.45-3.45 3.45-3.45-3.45zM275.1 185.35l3.45 3.45-3.45 3.45-3.45-3.45zM281.0 192.65l3.45 3.45-3.45 3.45-3.45-3.45zM289.3 193.55l3.45 3.45-3.45 3.45-3.45-3.45zM185.1 153.45l3.45 3.45-3.45 3.45-3.45-3.45zM192.0 326.35l3.45 3.45-3.45 3.45-3.45-3.45zM205.9 210.25l3.45 3.45-3.45 3.45-3.45-3.45zM212.9 210.25l3.45 3.45-3.45 3.45-3.45-3.45zM244.8 204.45l3.45 3.45-3.45 3.45-3.45-3.45zM271.0 210.25l3.45 3.45-3.45 3.45-3.45-3.45zM215.8 304.35l3.45 3.45-3.45 3.45-3.45-3.45zM213.9 308.05l3.45 3.45-3.45 3.45-3.45-3.45zM191.9 311.25l3.45 3.45-3.45 3.45-3.45-3.45zM202.0 311.25l3.45 3.45-3.45 3.45-3.45-3.45zM234.7 298.05l3.45 3.45-3.45 3.45-3.45-3.45zM249.1 290.45l3.45 3.45-3.45 3.45-3.45-3.45zM252.3 292.95l3.45 3.45-3.45 3.45-3.45-3.45zM251.7 298.05l3.45 3.45-3.45 3.45-3.45-3.45zM250.4 300.55l3.45 3.45-3.45 3.45-3.45-3.45zM262.4 287.95l3.45 3.45-3.45 3.45-3.45-3.45zM249.1 314.95l3.45 3.45-3.45 3.45-3.45-3.45zM218.9 292.35l3.45 3.45-3.45 3.45-3.45-3.45zM305.3 266.55l3.45 3.45-3.45 3.45-3.45-3.45zM288.0 287.35l3.45 3.45-3.45 3.45-3.45-3.45zM283.9 276.65l3.45 3.45-3.45 3.45-3.45-3.45zM266.3 286.65l3.45 3.45-3.45 3.45-3.45-3.45zM326.7 271.55l3.45 3.45-3.45 3.45-3.45-3.45zM329.2 270.35l3.45 3.45-3.45 3.45-3.45-3.45zM339.9 267.15l3.45 3.45-3.45 3.45-3.45-3.45zM266.9 281.05l3.45 3.45-3.45 3.45-3.45-3.45zM270.0 279.15l3.45 3.45-3.45 3.45-3.45-3.45zM273.2 277.25l3.45 3.45-3.45 3.45-3.45-3.45zM276.3 275.35l3.45 3.45-3.45 3.45-3.45-3.45zM289.5 269.05l3.45 3.45-3.45 3.45-3.45-3.45zM292.1 271.55l3.45 3.45-3.45 3.45-3.45-3.45zM267.5 269.05l3.45 3.45-3.45 3.45-3.45-3.45zM271.3 267.85l3.45 3.45-3.45 3.45-3.45-3.45zM268.8 272.85l3.45 3.45-3.45 3.45-3.45-3.45zM275.1 270.35l3.45 3.45-3.45 3.45-3.45-3.45zM278.8 267.85l3.45 3.45-3.45 3.45-3.45-3.45zM281.4 271.55l3.45 3.45-3.45 3.45-3.45-3.45zM285.1 269.05l3.45 3.45-3.45 3.45-3.45-3.45zM286.4 272.85l3.45 3.45-3.45 3.45-3.45-3.45zM277.6 272.85l3.45 3.45-3.45 3.45-3.45-3.45zM265.0 274.15l3.45 3.45-3.45 3.45-3.45-3.45zM265.0 276.65l3.45 3.45-3.45 3.45-3.45-3.45zM205.7 211.55l3.45 3.45-3.45 3.45-3.45-3.45zM213.3 211.55l3.45 3.45-3.45 3.45-3.45-3.45zM218.9 221.35l3.45 3.45-3.45 3.45-3.45-3.45zM213.9 229.55l3.45 3.45-3.45 3.45-3.45-3.45zM203.8 238.95l3.45 3.45-3.45 3.45-3.45-3.45zM209.8 243.05l3.45 3.45-3.45 3.45-3.45-3.45zM198.8 245.25l3.45 3.45-3.45 3.45-3.45-3.45zM190.0 242.35l3.45 3.45-3.45 3.45-3.45-3.45zM208.9 256.25l3.45 3.45-3.45 3.45-3.45-3.45zM199.8 260.35l3.45 3.45-3.45 3.45-3.45-3.45zM194.4 263.75l3.45 3.45-3.45 3.45-3.45-3.45zM242.9 220.15l3.45 3.45-3.45 3.45-3.45-3.45zM234.0 226.05l3.45 3.45-3.45 3.45-3.45-3.45zM235.3 229.75l3.45 3.45-3.45 3.45-3.45-3.45zM234.7 234.25l3.45 3.45-3.45 3.45-3.45-3.45zM237.2 236.75l3.45 3.45-3.45 3.45-3.45-3.45zM245.4 229.15l3.45 3.45-3.45 3.45-3.45-3.45zM249.1 216.55l3.45 3.45-3.45 3.45-3.45-3.45zM256.7 214.65l3.45 3.45-3.45 3.45-3.45-3.45z"/>
</g>
</svg></body></html>
